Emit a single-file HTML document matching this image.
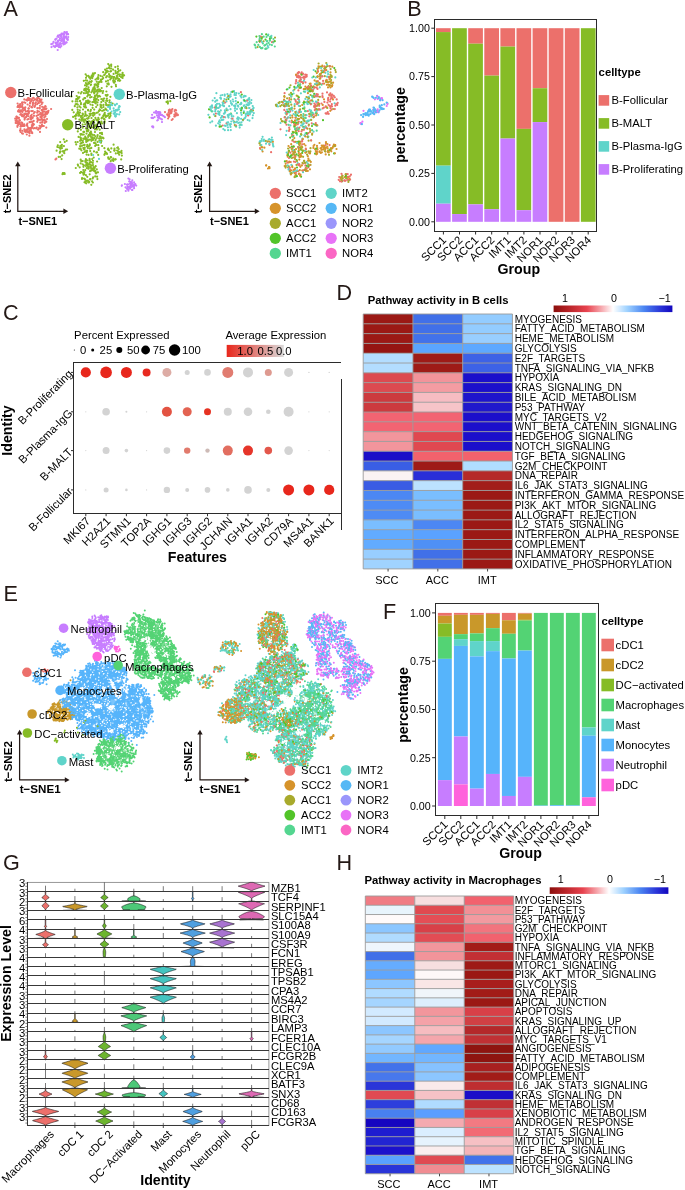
<!DOCTYPE html>
<html><head><meta charset="utf-8"><title>Figure</title>
<style>html,body{margin:0;padding:0;background:#fff}svg{display:block;will-change:transform;opacity:0.999}text{font-family:"Liberation Sans",sans-serif}</style></head>
<body>
<svg width="685" height="1190" viewBox="0 0 685 1190" font-family="Liberation Sans, sans-serif">
<rect width="685" height="1190" fill="#fff"/>
<text x="3.6" y="16.2" font-size="21.6" fill="#231815">A</text>
<g transform="scale(0.1)" fill="none" stroke-linecap="round">
<path d="M176 1035h0m-1 35h0m-9 99h0m-1 1h0m14 6h0m-13 11h0m-1 12h0m-9 9h0m10 2h0m13 3h0m-22 16h0m14 4h0m4 25h0m-1 10h0m28-227h0m1 10h0m-9 0h0m-14 8h0m8 7h0m-7 44h0m0 4h0m22 32h0m-19 36h0m15 21h0m-17 19h0m-2 1h0m17 16h0m12 13h0m-3 12h0m-1 27h0m1 29h0m16-296h0m3 19h0m-15 26h0m17 21h0m0 1h0m0 55h0m7 18h0m-20 62h0m4 0h0m11 23h0m-5 10h0m-4 74h0m9 4h0m14-343h0m24 1h0m-14 33h0m0 46h0m-13 7h0m12 24h0m8 9h0m9 44h0m-14 18h0m-8 6h0m-5 61h0m27 4h0m-23 9h0m-2 38h0m19 10h0m2 0h0m-9 1h0m25-325h0m18 8h0m-8 1h0m-8 9h0m7 2h0m-18 6h0m25 53h0m-10 26h0m-9 27h0m3 0h0m11 1h0m-2 17h0m-2 4h0m-4 56h0m11 31h0m-21 15h0m13 45h0m-10 14h0m18 12h0m-14 15h0m15 10h0m21-336h0m-11 19h0m-5 19h0m16 114h0m-8 11h0m9 13h0m8 5h0m-7 8h0m-1 32h0m2 3h0m6 29h0m-8 1h0m1 23h0m-3 6h0m-13 13h0m1 15h0m14 15h0m-1 5h0m31-332h0m-13 11h0m-5 32h0m10 120h0m-3 51h0m-1 32h0m3 4h0m-7 4h0m16 31h0m-12 4h0m44-305h0m-4 28h0m8 17h0m5 6h0m-17 11h0m2 41h0m1 27h0m0 69h0m0 5h0m-2 4h0m6 5h0m-2 11h0m5 90h0m12-306h0m11 14h0m-7 2h0m5 8h0m6 8h0m7 23h0m-22 38h0m3 5h0m-7 31h0m18 12h0m-15 16h0m23 11h0m-1 7h0m4 1h0m-15 6h0m14 11h0m-15 16h0m11 0h0m-24 1h0m10 3h0m-4 58h0m20 1h0m-5 4h0m-21 19h0m10 37h0m25-292h0m15 87h0m-17 27h0m3 1h0m10 10h0m7 21h0m-2 31h0m-18 20h0m5 37h0m36-175h0m1 32h0m4 2h0m-11 16h0m13 1h0m-14 9h0m13 44h0m-7 27h0m0 59h0m1215-124h0m19-57h0m-8 6h0m11 1h0m-11 5h0m4 34h0m0 23h0m24-48h0m10 75h0m-10 9h0m44-96h0m-17 41h0m14 0h0m-15 19h0m5 2h0m28-20h0" stroke="#EC706B" stroke-width="22"/>
<path d="M1016 1411h0m79-346h0m-14 4h0m20 20h0m2 46h0m-20 3h0m28-112h0m25 58h0m-21 32h0m21 20h0m33-97h0m-21 8h0m10 60h0m-11 19h0m1 21h0m9 12h0m1 0h0m-6 3h0m45-96h0m-10 10h0m-13 19h0m18 49h0m10-23h0" stroke="#5FD4CA" stroke-width="22"/>
<path d="M566 1507h0m12-53h0m20 74h0m-11 41h0m32-120h0m-2 15h0m-14 53h0m26 214h0m-4 11h0m13-348h0m6 336h0m3 10h0m20-332h0m4 87h0m53-482h0m24 49h0m-25 37h0m14 24h0m12 37h0m-18 9h0m36-209h0m-5 32h0m10 1h0m-15 21h0m16 30h0m5 2h0m-1 52h0m2 20h0m-5 7h0m-12 19h0m-5 43h0m20 233h0m-15 24h0m16 202h0m-20 34h0m27-754h0m23 8h0m-27 41h0m4 10h0m15 23h0m9 34h0m-15 21h0m12 12h0m-8 28h0m2 22h0m-15 2h0m-5 7h0m26 26h0m3 10h0m0 128h0m-7 75h0m3 64h0m-4 25h0m6 3h0m-14 22h0m14 2h0m0 108h0m0 36h0m-26 24h0m57-849h0m-21 112h0m-7 111h0m28 15h0m-12 89h0m-6 24h0m8 20h0m-13 13h0m21 8h0m-1 15h0m-8 62h0m7 42h0m3 26h0m-11 1h0m-14 56h0m16 6h0m2 17h0m-14 4h0m17 51h0m1 188h0m-1 32h0m-21 22h0m24 25h0m-16 42h0m36-1046h0m12 16h0m-10 44h0m-8 50h0m17 8h0m-11 26h0m-10 4h0m10 2h0m1 1h0m-6 11h0m-7 76h0m19 41h0m-12 22h0m1 30h0m9 1h0m-6 66h0m-2 0h0m-10 20h0m0 59h0m8 23h0m17 66h0m-3 27h0m-6 62h0m-12 79h0m-6 18h0m27 27h0m-9 68h0m-5 17h0m-1 11h0m9 26h0m5 37h0m-26 39h0m1 22h0m23 63h0m-8 9h0m-12 9h0m17 10h0m21-1004h0m9 5h0m-13 58h0m10 5h0m2 18h0m-15 12h0m9 19h0m-1 59h0m-8 1h0m15 14h0m-4 9h0m-7 70h0m16 39h0m-10 44h0m-9 5h0m4 73h0m6 8h0m-15 29h0m12 11h0m13 22h0m-7 19h0m-9 21h0m4 34h0m-13 7h0m1 37h0m24 7h0m-8 7h0m-19 2h0m9 17h0m-8 27h0m14 41h0m-15 55h0m25 3h0m-22 25h0m1 22h0m7 10h0m16 79h0m-18 62h0m6 16h0m4 4h0m39-1085h0m-11 16h0m12 10h0m-19 6h0m12 10h0m5 115h0m-26 77h0m23 48h0m2 30h0m-17 47h0m-5 14h0m23 21h0m-18 4h0m-5 17h0m7 66h0m2 11h0m-11 6h0m0 35h0m21 0h0m-18 7h0m4 37h0m4 16h0m14 15h0m-19 1h0m20 24h0m-13 0h0m7 19h0m-21 3h0m1 116h0m20 80h0m-12 31h0m18 7h0m-10 24h0m3 2h0m-17 13h0m10 36h0m13 81h0m-24 5h0m26 35h0m-16 23h0m37-1117h0m-18 13h0m4 3h0m19 48h0m-2 48h0m-6 4h0m-3 19h0m1 6h0m1 7h0m-11 1h0m15 38h0m-11 4h0m3 12h0m9 28h0m2 22h0m-11 14h0m16 11h0m-2 23h0m-1 1h0m-13 63h0m-6 36h0m0 68h0m-6 11h0m11 14h0m12 34h0m-3 35h0m0 26h0m4 43h0m3 33h0m-2 9h0m-8 23h0m5 31h0m-22 149h0m0 43h0m14 34h0m-5 6h0m-4 14h0m6 5h0m7 2h0m4 52h0m-21 10h0m53-1023h0m-4 20h0m2 2h0m-13 12h0m-1 32h0m-5 33h0m14 4h0m4 11h0m-7 38h0m0 27h0m2 32h0m-16 27h0m8 0h0m7 35h0m3 102h0m-13 2h0m15 82h0m-17 36h0m5 8h0m14 23h0m1 175h0m3 47h0m-4 50h0m-11 66h0m-3 79h0m3 73h0m3 24h0m17-971h0m26 60h0m-27 14h0m21 15h0m3 83h0m-1 29h0m-8 26h0m-8 46h0m5 8h0m-7 4h0m1 42h0m20 36h0m-2 34h0m-3 4h0m-14 76h0m22 31h0m-19 35h0m11 43h0m-1 21h0m22-705h0m16 25h0m-7 4h0m-9 30h0m-8 10h0m7 120h0m11 74h0m-12 19h0m5 5h0m0 40h0m0 21h0m5 30h0m3 42h0m-10 13h0m7 34h0m-12 187h0m-7 84h0m23 22h0m26-796h0m-19 11h0m24 13h0m-14 13h0m-1 91h0m14 24h0m-10 77h0m12 34h0m-19 2h0m12 7h0m4 50h0m-17 17h0m7 27h0m-3 44h0m6 4h0m-8 56h0m8 6h0m-8 8h0m21 325h0m-16 33h0m19-888h0m12 17h0m-3 19h0m-2 3h0m11 5h0m-7 66h0m-13 57h0m4 27h0m20 134h0m-8 35h0m1 22h0m-3 0h0m-13 26h0m17 5h0m6 76h0m-24 25h0m25 1h0m-12 21h0m-11 306h0m8 17h0m-5 85h0m46-890h0m-21 15h0m26 27h0m-16 27h0m-8 13h0m24 24h0m3 23h0m-24 42h0m21 579h0m-24 126h0m9 27h0m12 9h0m20-938h0m1 37h0m3 14h0m-15 49h0m20 11h0m-12 31h0m-3 1h0m-2 12h0m0 660h0m0 16h0m-1 5h0m8 86h0m26-929h0m0 76h0m18 7h0m0 13h0m-16 46h0m7 684h0m16-787h0m23 40h0m-5 8h0m6 16h0m-15 5h0m14 8h0m-11 729h0m-3 85h0m29-841h0m437 261h0m25-2h0" stroke="#86BC26" stroke-width="22"/>
<path d="M527 437h0m8 25h0m30-77h0m-11 12h0m1 29h0m2 7h0m7 27h0m-13 3h0m-1 8h0m43-118h0m-7 16h0m10 30h0m-22 23h0m-4 10h0m0 13h0m17 6h0m-6 6h0m-6 1h0m15 2h0m26-123h0m2 8h0m-10 14h0m10 19h0m-18 7h0m20 14h0m5 7h0m-9 3h0m-11 23h0m43-109h0m-8 49h0m4 7h0m-2 10h0m-12 5h0m3 4h0m11 24h0m7 15h0m-15 7h0m33-123h0m-6 11h0m18 11h0m-13 2h0m-8 22h0m22 3h0m-4 21h0m-12 33h0m592 1486h0m26-125h0m-4 59h0m-6 22h0m13 6h0m-1 5h0m-12 11h0m7 11h0m3 8h0m16-71h0m19 0h0m-11 1h0m-4 13h0m8 1h0m-10 12h0m11 7h0m-14 16h0m42-63h0m-21 14h0m20 6h0m-6 18h0m-11 38h0m39-43h0m163-677h0m-3 87h0m24-95h0m15-59h0m20 10h0m6 0h0m-26 8h0m3 3h0m6 22h0m4 0h0m14 3h0m-6 2h0m19-23h0m-10 38h0m31-22h0m14 8h0m13 11h0" stroke="#C77DFF" stroke-width="22"/>
<path d="M574 1469h0m18 6h0m10-54h0m2 37h0m1 23h0m14 1h0m-16 6h0m23 25h0m-24 3h0m20 38h0m-19 14h0m13 23h0m32-172h0m-9 42h0m20 35h0m-14 12h0m-13 6h0m11 18h0m-7 201h0m1 7h0m77-776h0m60 23h0m0 27h0m-9 26h0m-9 3h0m18 31h0m-13 78h0m-4 11h0m-6 1h0m27 150h0m-22 108h0m38-452h0m-6 5h0m13 37h0m-18 118h0m10 11h0m-1 13h0m-6 2h0m-3 1h0m11 40h0m-11 90h0m21 54h0m4 7h0m-22 21h0m23 11h0m0 6h0m-2 10h0m-6 12h0m-4 265h0m12 49h0m-8 7h0m38-797h0m-7 62h0m-2 101h0m-1 48h0m-8 40h0m10 15h0m-17 9h0m13 40h0m-13 95h0m19 45h0m5 63h0m-17 7h0m-7 46h0m16 26h0m-3 82h0m-15 0h0m14 32h0m13 10h0m-10 72h0m3 9h0m-11 46h0m39-1002h0m-1 53h0m5 10h0m-3 46h0m-17 8h0m-2 7h0m22 10h0m-5 19h0m-8 51h0m10 29h0m-7 20h0m-9 4h0m9 25h0m-13 6h0m13 53h0m6 38h0m4 0h0m-14 36h0m-6 6h0m5 0h0m-8 1h0m25 14h0m3 11h0m-10 59h0m-18 35h0m12 47h0m-1 7h0m9 7h0m-3 5h0m-1 4h0m-17 0h0m22 30h0m-16 30h0m-3 37h0m1 7h0m18 16h0m-14 10h0m18 27h0m-6 78h0m-1 36h0m-7 42h0m-9 20h0m16 30h0m-18 33h0m9 7h0m-1 3h0m8 21h0m-3 7h0m30-1065h0m6 11h0m2 6h0m-21 32h0m25 8h0m-18 29h0m7 29h0m4 38h0m-2 3h0m-13 14h0m9 20h0m-10 16h0m25 53h0m-27 4h0m8 1h0m-2 9h0m5 74h0m-12 50h0m21 8h0m-21 22h0m20 28h0m-7 28h0m0 56h0m-11 16h0m11 42h0m-6 39h0m21 49h0m-2 42h0m2 1h0m-2 103h0m0 11h0m1 29h0m-10 12h0m-15 9h0m13 18h0m2 18h0m-6 0h0m-8 82h0m19 51h0m-9 3h0m20-1034h0m14 24h0m-6 9h0m-1 24h0m-2 6h0m14 60h0m-8 12h0m-14 28h0m16 19h0m-11 75h0m21 33h0m1 75h0m-12 27h0m0 36h0m-2 36h0m-12 108h0m14 14h0m12 17h0m-13 17h0m-1 71h0m1 56h0m0 14h0m-13 100h0m5 25h0m5 8h0m12 13h0m-19 12h0m-3 5h0m1 82h0m19 19h0m9-1079h0m5 149h0m15 7h0m-16 4h0m15 0h0m-7 6h0m9 59h0m-9 18h0m-1 20h0m-6 22h0m9 2h0m-7 107h0m11 8h0m-4 11h0m-12 11h0m22 21h0m-15 24h0m-6 6h0m12 45h0m-3 18h0m0 80h0m2 30h0m-14 17h0m11 30h0m15 8h0m-16 77h0m-3 62h0m20 86h0m-20 9h0m10 5h0m-3 4h0m-11 1h0m7 3h0m10 25h0m6 18h0m28-940h0m-3 4h0m7 35h0m-13 9h0m8 7h0m-9 28h0m0 26h0m-11 16h0m21 1h0m-18 35h0m7 5h0m5 16h0m5 32h0m-9 50h0m-13 19h0m28 41h0m-6 68h0m6 14h0m-6 0h0m-20 4h0m2 2h0m7 3h0m-3 1h0m12 26h0m-17 35h0m5 30h0m8 57h0m-2 10h0m-6 19h0m7 39h0m-10 30h0m21 31h0m-16 43h0m-7 1h0m16 199h0m-9 0h0m-11 12h0m44-977h0m6 38h0m0 9h0m-11 12h0m16 2h0m-15 80h0m0 15h0m-7 45h0m8 6h0m14 89h0m-7 4h0m-2 12h0m12 8h0m-9 155h0m1 98h0m-10 1h0m9 39h0m-4 10h0m-14 2h0m21 3h0m-18 18h0m9 12h0m21-651h0m3 164h0m6 59h0m1 117h0m-13 3h0m27 21h0m-3 19h0m-2 2h0m-8 16h0m-14 10h0m25 17h0m1 20h0m-2 15h0m-25 6h0m1 108h0m14 41h0m13 155h0m-4 10h0m16-843h0m19 11h0m-12 4h0m-11 11h0m14 30h0m-6 9h0m-3 3h0m7 90h0m-7 91h0m8 33h0m-6 19h0m-2 35h0m-6 46h0m8 74h0m-12 356h0m9 18h0m10 4h0m32-824h0m-12 26h0m13 19h0m-11 9h0m10 25h0m-15 50h0m13 207h0m-13 87h0m16 2h0m-5 28h0m7 352h0m2 52h0m-25 2h0m14 16h0m11 22h0m5-967h0m-1 4h0m1 12h0m1 24h0m21 86h0m-21 11h0m23 7h0m-3 19h0m1 6h0m2 5h0m-10 216h0m-13 449h0m20 103h0m4 11h0m23-865h0m8 28h0m-10 28h0m-16 20h0m16 39h0m2 15h0m-16 640h0m14 31h0m-1 59h0m23-904h0m8 19h0m-4 9h0m-7 2h0m22 27h0m-25 14h0m2 20h0m15 12h0m-6 1h0m6 5h0m5 10h0m-17 665h0m-7 5h0m-1 27h0m12 9h0m15 8h0m-18 10h0m12 15h0m34-819h0m-2 16h0m-22 61h0m9 719h0m6 7h0m2 25h0m446-537h0m14 10h0m0 7h0" stroke="#86BC26" stroke-width="22"/>
<path d="M931 1550h0m68-131h0m-9 170h0m88-481h0m29-63h0m-11 21h0m4 13h0m20-27h0m18 55h0m14-54h0m6 49h0m-7 25h0m18 15h0m-13 24h0m36-105h0m-3 33h0m-13 7h0m-3 4h0" stroke="#5FD4CA" stroke-width="22"/>
<path d="M535 419h0m-22 23h0m2 29h0m40-77h0m3 62h0m22-99h0m-5 9h0m5 39h0m3 8h0m11 23h0m-2 0h0m7 7h0m-10 7h0m3 7h0m-4 14h0m-11 29h0m41-156h0m-16 4h0m9 12h0m-8 24h0m8 24h0m18 24h0m-20 7h0m4 21h0m-10 13h0m42-152h0m-15 14h0m10 4h0m2 4h0m-3 10h0m-5 12h0m25 4h0m-8 3h0m7 4h0m-27 17h0m-1 4h0m9 1h0m3 13h0m-8 2h0m-3 20h0m10 4h0m30-102h0m7 4h0m-13 36h0m6 16h0m1 3h0m6 6h0m-16 25h0m557 1429h0m-1 4h0m31-18h0m6 33h0m15-26h0m-2 39h0m28-93h0m-4 21h0m13 5h0m13 5h0m-4 12h0m-2 1h0m-10 31h0m0 17h0m21-82h0m4 51h0m-2 11h0m14 2h0m2 15h0m-20 18h0m32-59h0m-3 9h0m171-702h0m-6 30h0m10 87h0m27-142h0m-12 2h0m-10 56h0m2 85h0m0 8h0m45-150h0m9 15h0m3 30h0m-10 7h0m0 25h0m-7 4h0m27-84h0m4 5h0m3 19h0m13 4h0m-17 0h0m7 0h0m-17 33h0m13 4h0m14 8h0m1 26h0" stroke="#C77DFF" stroke-width="22"/>
<path d="M166 1165h0m-14 22h0m20 44h0m7 1h0m22-181h0m2 15h0m-15 5h0m8 5h0m-8 25h0m16 5h0m-11 12h0m12 0h0m-15 60h0m3 23h0m3 21h0m-4 6h0m-8 14h0m1 3h0m-1 3h0m24 17h0m-8 41h0m21-276h0m1 29h0m4 14h0m8 30h0m-21 0h0m-1 4h0m12 13h0m-14 22h0m6 10h0m5 10h0m2 70h0m-5 21h0m18 3h0m-8 4h0m-6 48h0m40-308h0m-21 23h0m9 69h0m5 45h0m-11 2h0m16 2h0m8 1h0m-27 14h0m21 13h0m-16 27h0m-4 64h0m24 35h0m-21 16h0m0 1h0m21 1h0m-12 6h0m0 2h0m14 24h0m20-361h0m-12 61h0m11 39h0m-2 3h0m-8 50h0m2 5h0m5 20h0m-10 33h0m-4 61h0m5 7h0m8 17h0m16 6h0m-24 11h0m22 14h0m-25 9h0m22 37h0m30-374h0m-8 24h0m-8 5h0m20 16h0m-27 1h0m27 23h0m-11 20h0m-3 0h0m6 2h0m8 36h0m-15 1h0m-10 64h0m21 2h0m-20 13h0m6 3h0m-4 2h0m-5 27h0m25 10h0m1 2h0m-1 27h0m-2 1h0m-11 13h0m-13 7h0m9 19h0m14 30h0m13-353h0m15 16h0m8 29h0m-27 2h0m20 12h0m4 9h0m-5 12h0m-7 10h0m2 2h0m2 51h0m-11 13h0m-5 110h0m39-263h0m-1 16h0m0 5h0m2 125h0m9 23h0m-16 9h0m8 59h0m-5 57h0m-6 9h0m20 12h0m33-299h0m-11 10h0m-8 6h0m4 45h0m-4 20h0m21 24h0m-11 40h0m11 4h0m-14 81h0m16 18h0m-11 24h0m-7 16h0m21-217h0m17 6h0m2 17h0m-13 3h0m-4 15h0m3 15h0m-1 14h0m23 5h0m-20 54h0m18 0h0m-20 8h0m22 3h0m-26 12h0m24 9h0m-9 31h0m15-199h0m4 4h0m-7 22h0m7 6h0m21 21h0m-23 10h0m13 1h0m1 11h0m-15 28h0m4 52h0m27-108h0m-4 18h0m30-36h0m52 497h0m-8 7h0m1095-473h0m22 22h0m4 8h0m33-43h0m0 7h0m0 4h0m-20 2h0m-3 5h0m22 7h0m-18 25h0m-3 10h0m-6 17h0m43-95h0m-6 9h0m-5 30h0m39-31h0m-6 13h0m9 19h0m10 4h0m-5 22h0m18-4h0" stroke="#EC706B" stroke-width="22"/>
</g>
<circle cx="10.8" cy="92.5" r="5.7" fill="#EC706B"/><text x="17.6" y="96.8" font-size="11.3" fill="#000000">B-Follicular</text>
<circle cx="67.7" cy="124.7" r="5.7" fill="#86BC26"/><text x="74.5" y="129" font-size="11.3" fill="#000000">B-MALT</text>
<circle cx="119.3" cy="94.2" r="5.7" fill="#5FD4CA"/><text x="126.1" y="98.5" font-size="11.3" fill="#000000">B-Plasma-IgG</text>
<circle cx="110.4" cy="168.2" r="5.7" fill="#C77DFF"/><text x="117.2" y="172.5" font-size="11.3" fill="#000000">B-Proliferating</text>
<path d="M17.8 164.5V211.3H65.2" stroke="#231815" stroke-width="1.25" fill="none"/><path d="M17.8 161.5l-2.7 4.8h5.4z" fill="#231815"/><path d="M68.2 211.3l-4.8 -2.7v5.4z" fill="#231815"/>
<text x="18.4" y="225" font-size="11" font-weight="bold" fill="#000000">t−SNE1</text>
<text transform="translate(10.9,213.2) rotate(-90)" font-size="11" font-weight="bold" fill="#000000">t−SNE2</text>
<g transform="scale(0.1)" fill="none" stroke-linecap="round">
<path d="M2120 1054h0m-6 8h0m-5 28h0m-2 6h0m18 17h0m27 48h0m19-123h0m-9 16h0m-1 33h0m46-107h0m-6 72h0m-6 97h0m2 98h0m30-81h0m6 31h0m19-75h0m23 127h0m30-157h0m-19 63h0m-1 21h0m-4 126h0m29-271h0m24 176h0m11-258h0m-4 107h0m28 76h0m27 93h0m-14 4h0m21-142h0m8 101h0m45-226h0m-20 7h0m8 40h0m13 6h0m-18 99h0m34-114h0m-8 45h0m32-26h0m-2 21h0m0 167h0m107 204h0m16-21h0m3 111h0m72-109h0m-6 4h0m25 2h0m57-347h0m24-18h0m75-7h0m1 161h0m15-141h0m18 61h0m2 147h0m15-176h0m31-199h0m7 889h0m21-901h0m4 125h0m-4 45h0m19 62h0m-16 31h0m-7 146h0m27 88h0m51-449h0m-11 129h0m-5 161h0m-5 63h0m34 66h0m3 284h0m39-420h0m-16 8h0m38-334h0m5 23h0m-12 255h0m37-134h0m23 134h0m39-388h0m60-21h0m72 33h0" stroke="#5FD4C8" stroke-width="22"/>
<path d="M2159 1136h0m106 97h0m54-314h0m90 3h0m420 105h0m31 90h0m18 59h0m15 439h0m69-801h0m-6 360h0m-4 29h0m-9 370h0m10 47h0m5 124h0m29-1023h0m1 306h0m3 399h0m28-607h0m3 593h0m32 242h0m0 3h0m49-650h0m15 227h0m31-361h0m17 3h0m1 151h0m10 22h0m27-212h0m-17 198h0m28 0h0m29-16h0m20 54h0m16-82h0m2 15h0m-9 127h0m14 5h0m30-171h0m-13 28h0m2 70h0m66-16h0m15 749h0m22-19h0m-9 34h0m23-57h0m40-12h0m10 55h0" stroke="#EC706B" stroke-width="22"/>
<path d="M2211 1264h0m-15 3h0m89-277h0m24 147h0m148-68h0m205-725h0m185 873h0m113 114h0m-16 171h0m26-350h0m14 404h0m-14 119h0m45-454h0m-1 126h0m-13 130h0m10 290h0m77-745h0m48-255h0m15 770h0m190-3h0m120 247h0" stroke="#52C429" stroke-width="22"/>
<path d="M2644 1477h0m17 178h0m68-237h0m-24 4h0m134-419h0m8 658h0m6-435h0m32 399h0m-4 50h0m42-163h0m6 64h0m27-399h0m-6 81h0m13 47h0m-3 186h0m14-468h0m23 99h0m-3 424h0m-1 50h0m3 56h0m21-909h0m-17 104h0m22 203h0m-6 128h0m-15 580h0m58-262h0m-17 112h0m2 92h0m25-822h0m25 640h0m6 17h0m46-731h0m-23 105h0m-3 240h0m24 299h0m-9 12h0m44-613h0m-19 286h0m4 395h0m-1 15h0m37-781h0m-5 668h0m39 26h0m-15 67h0m26-858h0m-4 171h0m3 629h0m2 10h0m10 41h0m14-853h0m3 804h0m7 40h0m33-677h0m-9 45h0m4 630h0m5 8h0m39-63h0" stroke="#D6932B" stroke-width="22"/>
<path d="M2530 1104h0m46-633h0m60-58h0m56 1257h0m126-620h0m25-88h0m21 183h0m41-292h0m-13 236h0m-4 427h0m-8 18h0m33-487h0m4 533h0m29-520h0m11 71h0m-4 287h0m12 231h0m35-588h0m10 88h0m0 332h0m33-393h0m4 540h0m10 52h0m2 13h0m27-831h0m-26 848h0m45-760h0m2 196h0m5 53h0m-1 206h0m-12 118h0m6 126h0m29-679h0m38-202h0m-3 292h0m66-350h0m28-79h0m-15 60h0m0 71h0m51-100h0m-7 155h0m-12 704h0m26-830h0m47 10h0m-22 389h0m94 669h0" stroke="#A8AA2C" stroke-width="22"/>
<path d="M3611 1151h0m-5 84h0m47-101h0m21-5h0m32-21h0m29 21h0m-11 3h0m46-11h0m28-48h0m20 7h0m25-36h0" stroke="#56B8F5" stroke-width="22"/>
<path d="M2404 1247h0m142-800h0m48-87h0m1 32h0m-12 57h0m16 20h0m11-61h0m14 71h0m28-28h0m49-47h0m243 587h0m7 301h0m43-272h0m97-39h0m43 260h0m33 66h0m49-460h0" stroke="#54D690" stroke-width="22"/>
<path d="M3614 1233h0" stroke="#E873F7" stroke-width="22"/>
<path d="M2227 1255h0m246-249h0m8 148h0m114-745h0m3 9h0m97 1030h0m110-155h0m60-46h0m-5 368h0m33-614h0m8 115h0m3 411h0m4 93h0m16-213h0m12 57h0m31-707h0m-24 478h0m0 17h0m5 444h0m44-971h0m-14 6h0m20 32h0m-15 10h0m1 131h0m8 832h0m20-1000h0m-10 68h0m21 591h0m0 49h0m18-678h0m15 6h0m-18 4h0m5 14h0m-4 508h0m18 227h0m5-767h0m5 7h0m20 491h0m-4 417h0m46-773h0m16 171h0m-9 71h0m43-330h0m-15 129h0m-6 152h0m9 37h0m-9 102h0m11 285h0m13-552h0m5 77h0m3 52h0m36-122h0m30 161h0m14-209h0m13 54h0m-9 48h0m30-92h0m9 15h0m13 31h0m-15 2h0m37-9h0m5 84h0m39 713h0m63 37h0" stroke="#EC706B" stroke-width="22"/>
<path d="M2103 1225h0m56-174h0m27 28h0m-4 56h0m9-97h0m6 166h0m50-259h0m0 12h0m-9 78h0m-8 2h0m-7 16h0m15 7h0m11 44h0m25-163h0m-9 146h0m26-131h0m16 7h0m-11 0h0m6 284h0m11-327h0m20 95h0m31-84h0m-2 106h0m-13 50h0m7 175h0m23-207h0m-7 132h0m24 67h0m8-296h0m10 16h0m-1 64h0m-3 90h0m28-129h0m13 79h0m31-84h0m-8 127h0m38-90h0m26 100h0m80 278h0m50-995h0m9 45h0m53 992h0m147-560h0m-21 322h0m30-39h0m9 39h0m9 359h0m-14 98h0m15 64h0m31-799h0m0 205h0m-1 365h0m12-463h0m17 73h0m-4 47h0m4 42h0m16-376h0m15 26h0m2 3h0m-4 244h0m-8 130h0m38 20h0m-1 5h0m8 466h0m55-808h0m4 61h0m48-275h0m12 142h0m-20 173h0m7 302h0m34-632h0m-1 423h0m29-234h0m56-146h0" stroke="#5FD4C8" stroke-width="22"/>
<path d="M2154 1160h0m116-57h0m78 148h0m272-879h0m38 1037h0m51-1030h0m41-3h0m14 685h0m34-41h0m12 170h0m66-143h0m-11 85h0m-7 64h0m26-166h0m83-73h0m21-104h0m-9 111h0m-8 454h0m16 7h0m8 27h0m5-35h0m38-216h0m-3 70h0m46-295h0m8 270h0m-14 41h0m-12 232h0m46-376h0m36-173h0m-2 91h0m34-295h0m-12 48h0m1 324h0m34-473h0m-14 14h0m20 74h0m-11 90h0m-3 198h0m27-373h0m251 1108h0m14 43h0" stroke="#A8AA2C" stroke-width="22"/>
<path d="M2849 1614h0m6-390h0m45 485h0m34-349h0m3 107h0m-25 267h0m28-508h0m41-370h0m8 117h0m-4 539h0m37 17h0m27-639h0m4 289h0m1 86h0m-3 435h0m78-827h0m129-197h0m165 1135h0m36-68h0m32 58h0" stroke="#52C429" stroke-width="22"/>
<path d="M3604 1231h0m3 5h0m142-243h0m-16 102h0m44-106h0m27 12h0m-18 122h0m34-139h0" stroke="#E873F7" stroke-width="22"/>
<path d="M2603 1488h0m88-73h0m179-359h0m3 496h0m4 15h0m8-107h0m37-303h0m-4 49h0m17 320h0m59-715h0m-6 475h0m2 214h0m8 202h0m21-48h0m11-821h0m11 608h0m37 121h0m4 44h0m23-713h0m29 586h0m44-789h0m-9 41h0m-2 90h0m5 33h0m34-116h0m-1 745h0m-11 37h0m29-864h0m45 192h0m-28 145h0m23 75h0m-4 363h0m-17 28h0m18 18h0m-8 19h0m35-727h0m7 22h0m-8 56h0m8 7h0m-14 20h0m-6 566h0m49-773h0m-18 57h0m-3 59h0m29 44h0m19 706h0m106 210h0" stroke="#D6932B" stroke-width="22"/>
<path d="M3619 1242h0m11-76h0m61-71h0m14 20h0m20-145h0m11 9h0m4 99h0m2 64h0m17-164h0m59 74h0m-7 39h0m63-58h0" stroke="#56B8F5" stroke-width="22"/>
<path d="M2194 1120h0m224-44h0m133-622h0m78-19h0m15 21h0m24 29h0m218 763h0m33 91h0m56-38h0m74 53h0m57-236h0m91-373h0" stroke="#54D690" stroke-width="22"/>
<path d="M2084 1148h0m43-143h0m-22 96h0m17 113h0m34-152h0m-17 82h0m43 89h0m12-102h0m22 70h0m7-251h0m3 76h0m14 36h0m-7 228h0m45-190h0m-28 24h0m2 49h0m27 100h0m26-329h0m1 67h0m-14 51h0m13 78h0m-23 23h0m36-124h0m-3 147h0m25-274h0m13 156h0m36-133h0m-7 131h0m-12 24h0m9 83h0m18 103h0m15-247h0m5 66h0m12 110h0m29-56h0m-16 38h0m32-136h0m-13 85h0m53-135h0m-21 80h0m0 40h0m10 8h0m-5 15h0m27 37h0m72 238h0m5 7h0m81-1079h0m9 1091h0m22-1079h0m12 1041h0m148-378h0m5 97h0m-24 12h0m34 556h0m-4 9h0m48-789h0m0 812h0m58-717h0m-3 56h0m-5 132h0m27-394h0m0 459h0m40-337h0m4 71h0m-17 245h0m37-196h0m-7 192h0m12 145h0m35-337h0m-3 68h0m14-130h0m6 157h0m74-37h0m6-415h0" stroke="#5FD4C8" stroke-width="22"/>
<path d="M2845 969h0m50 324h0m5 183h0m13-511h0m8 397h0m-9 80h0m9 217h0m24-573h0m4 123h0m-6 172h0m4 132h0m5 10h0m2 45h0m-3 115h0m-1 81h0m42-576h0m3 384h0m14-33h0m6 23h0m7 143h0m32-179h0m31-549h0m-10 37h0m9 572h0m-17 100h0m-4 22h0m43-872h0m8 74h0m8 425h0m51-81h0m2 242h0m5-779h0m19 26h0m4 42h0m5 744h0m2-794h0m15 724h0m-7 18h0m-4 1h0m46-57h0m-9 62h0m1 4h0m5 57h0m16-722h0m26 29h0m-5 0h0m2 103h0m-19 529h0m10 31h0m33-653h0m32 598h0m96 313h0m11-8h0m23 5h0" stroke="#D6932B" stroke-width="22"/>
<path d="M2148 1076h0m104-51h0m73 162h0m282-821h0m126 49h0m113 517h0m1 132h0m12-4h0m4 144h0m29 73h0m-2 32h0m0 271h0m36-230h0m1 196h0m29-544h0m2 15h0m8 269h0m-25 132h0m-1 110h0m30-757h0m13 219h0m10 126h0m-6 196h0m4 341h0m-10 58h0m48-936h0m-21 0h0m-5 42h0m3 61h0m12 538h0m12-679h0m48 135h0m-14 356h0m8 114h0m22-460h0m10 32h0m7 489h0m33-339h0m4 37h0m-6 63h0m25-328h0m-9 222h0m33 0h0m34-295h0m5 73h0m27 227h0m8 74h0m25-366h0m7 289h0m-19 60h0m40-78h0m-14 38h0m11 17h0m62-68h0m38 709h0m3 62h0m25 3h0m58-7h0" stroke="#EC706B" stroke-width="22"/>
<path d="M2263 997h0m82 223h0m258 232h0m13 18h0m170-441h0m34-10h0m73-73h0m46 581h0m1-204h0m5 448h0m49-892h0m-9 545h0m4 15h0m-19 272h0m40-537h0m11 124h0m-11 44h0m2 154h0m40-609h0m-12 130h0m-9 551h0m34-598h0m16 50h0m5 387h0m23-523h0m-1 3h0m-8 433h0m4 194h0m31-650h0m1 97h0m28 127h0m22-453h0m13 333h0m-19 128h0m69 416h0m48-654h0m-7 690h0m25-790h0m97 1013h0m58 9h0" stroke="#A8AA2C" stroke-width="22"/>
<path d="M3633 1141h0m-2 27h0m56-61h0m-6 7h0m8 30h0m-12 2h0m23-50h0m-5 19h0m39-13h0m5 34h0m32-178h0m17 13h0m15 16h0m-2 16h0m-4 53h0m16 26h0m24 7h0m30-62h0" stroke="#56B8F5" stroke-width="22"/>
<path d="M2116 1113h0m483-735h0m20-36h0m40 145h0m21-131h0m26 23h0m13 72h0m16-61h0m115 780h0m40-46h0m79 223h0m33-503h0m32 296h0m46 73h0m42-208h0m-1 120h0" stroke="#54D690" stroke-width="22"/>
<path d="M2096 1174h0m231-257h0m118 88h0m-8 124h0m158-716h0m153-1h0m90 645h0m43 494h0m85 51h0m16-131h0m47-386h0m20-62h0m54 12h0m39-96h0m80-217h0m121-41h0" stroke="#52C429" stroke-width="22"/>
<path d="M3624 1217h0m127-97h0" stroke="#E873F7" stroke-width="22"/>
<path d="M2120 1069h0m5 7h0m22-95h0m5 36h0m29 97h0m26-159h0m-4 23h0m5 126h0m11 59h0m-10 15h0m35-188h0m0 146h0m-5 1h0m-17 61h0m25 58h0m1 46h0m17-287h0m6 211h0m-14 33h0m39-288h0m-4 173h0m36-149h0m-9 52h0m-5 99h0m19 17h0m14-232h0m-1 132h0m5 45h0m18 107h0m-9 8h0m-19 4h0m49-47h0m27 70h0m25-291h0m0 95h0m-4 5h0m21 14h0m-1 92h0m-6 13h0m34-126h0m-10 86h0m15-141h0m2 83h0m21 23h0m13-43h0m9 19h0m78 371h0m46-13h0m13-20h0m46-41h0m-10 41h0m25 47h0m33-417h0m13 18h0m25 165h0m63-171h0m-1 249h0m37-357h0m-18 65h0m33 59h0m6 31h0m40-229h0m-6 358h0m-9 476h0m27-80h0m-6 72h0m38-770h0m1 186h0m18 123h0m-4 143h0m15-576h0m-4 361h0m21 96h0m-12 88h0m7 154h0m27-510h0m0 43h0m-12 173h0m46-329h0m-16 213h0m17 67h0m39-211h0m13 11h0m1 54h0m-1 241h0m60-553h0m46 60h0m75 266h0" stroke="#5FD4C8" stroke-width="22"/>
<path d="M2239 1170h0m272-71h0m89 382h0m120-1059h0m149 715h0m29 539h0m17-453h0m10 259h0m37-729h0m0 48h0m-13 441h0m6 314h0m23-822h0m14 40h0m-14 469h0m8 227h0m-6 176h0m35-332h0m37-569h0m3 79h0m-25 812h0m37-887h0m22 129h0m-12 11h0m2 222h0m-16 170h0m21 50h0m25-477h0m3 9h0m-17 790h0m49-617h0m-7 134h0m42-460h0m-4 179h0m3 55h0m-24 102h0m11 205h0m42-480h0m-15 323h0m33-157h0m-1 23h0m3 124h0m38-285h0m-8 651h0m41-786h0m24 283h0m-11 11h0m0 103h0m27-102h0m78 857h0m31-9h0m31-37h0m19-6h0m13-17h0" stroke="#EC706B" stroke-width="22"/>
<path d="M2692 1671h0m-12 14h0m187-74h0m-10 27h0m37-658h0m6 641h0m-3 92h0m18-624h0m10 86h0m-1 497h0m13 26h0m21-449h0m40 179h0m-10 101h0m41-138h0m-25 46h0m0 122h0m1 187h0m49-881h0m-16 27h0m14 260h0m27-220h0m-1 777h0m26-404h0m-12 226h0m85-767h0m-4 716h0m-22 12h0m16 28h0m30-733h0m0 727h0m16-809h0m25 17h0m-11 327h0m4 447h0m-16 2h0m34-816h0m14 19h0m17 122h0m7 701h0m20-709h0m16 37h0m-6 12h0m-14 244h0m7 373h0m7 6h0m14-24h0m75 323h0" stroke="#D6932B" stroke-width="22"/>
<path d="M2237 1012h0m193 186h0m373-136h0m25 152h0m32 446h0m-4 16h0m30-15h0m24-732h0m18 389h0m30-9h0m-1 444h0m35-897h0m-4 303h0m34 313h0m26 224h0m29-329h0m7 147h0m-13 32h0m13 97h0m21-161h0m-7 124h0m36-433h0m29-328h0m-2 405h0m21-251h0m96-339h0m26 107h0m110 1032h0m14-17h0" stroke="#A8AA2C" stroke-width="22"/>
<path d="M2090 1093h0m290-70h0m38-77h0m2 134h0m-9 24h0m153-738h0m91 30h0m44-8h0m169 507h0m21 612h0m32-563h0m9 277h0m-16 332h0m29-684h0m11 281h0m-11 117h0m26 495h0m8-568h0m10 223h0m24 79h0m24-468h0m49 636h0m20-760h0m16 356h0m36-547h0" stroke="#52C429" stroke-width="22"/>
<path d="M2161 1072h0m406-650h0m52 61h0m46-113h0m-12 119h0m44-83h0m5-37h0m31 55h0m135 623h0m39 39h0m21 280h0m26-82h0m85-369h0m20 197h0m-9 0h0m61 34h0m9-187h0" stroke="#54D690" stroke-width="22"/>
<path d="M3659 1147h0m-1 5h0m4-3h0m18 1h0m25-9h0m65-35h0m-17 4h0m6 14h0m25-143h0m14 87h0m-4 36h0m-8 13h0m40-115h0" stroke="#56B8F5" stroke-width="22"/>
<path d="M3635 1108h0m138-145h0m2 150h0m92-53h0" stroke="#E873F7" stroke-width="22"/>
<path d="M2361 1255h0m350 267h0m132-423h0m3 75h0m29 452h0m28 70h0m36-80h0m18-783h0m2 895h0m24-972h0m-1 11h0m-12 273h0m18 176h0m6 60h0m-2 365h0m25-918h0m8 21h0m-19 48h0m22 34h0m30 661h0m-26 216h0m45-814h0m-15 794h0m46-640h0m-15 120h0m48-285h0m7 197h0m23-115h0m-17 1h0m27 65h0m50-217h0m8 268h0m6-412h0m6 39h0m41 243h0m-6 102h0m10 402h0m5-435h0m19 48h0m28 27h0m19-97h0m-5 47h0m115 700h0m14 53h0" stroke="#EC706B" stroke-width="22"/>
<path d="M2102 1070h0m52 28h0m-2 16h0m7 143h0m5-325h0m8 71h0m-9 2h0m15 74h0m7 61h0m25-152h0m-11 80h0m-9 148h0m11 7h0m19-61h0m53-187h0m4 176h0m6-185h0m-1 258h0m27 17h0m-14 3h0m8 4h0m2 21h0m3 32h0m9-140h0m-4 54h0m46-264h0m-2 30h0m1 29h0m-5 47h0m31 140h0m17-154h0m15 105h0m-2 76h0m67-194h0m6 107h0m-9 0h0m-1 63h0m15-218h0m13 126h0m23-19h0m-8 29h0m9 35h0m93-731h0m4 946h0m13 29h0m1 12h0m43-935h0m45 964h0m112-427h0m7 28h0m7-28h0m17 86h0m-11 254h0m7 175h0m10 128h0m8-535h0m17 35h0m10-188h0m2 683h0m42-502h0m15 283h0m71-151h0m13 54h0m19-433h0m14 69h0m-22 54h0m-1 129h0m15 54h0m4 161h0m-8 266h0m47-858h0m35 0h0m9 59h0m103-189h0m9 72h0" stroke="#5FD4C8" stroke-width="22"/>
<path d="M2617 387h0m278 489h0m-15 240h0m22 260h0m-2 191h0m33-241h0m-14 141h0m-7 89h0m49-328h0m7 102h0m-2 213h0m49-797h0m-6 128h0m18 636h0m40-178h0m1 326h0m38-750h0m-9 4h0m65 575h0m68-285h0m66 297h0m162 260h0" stroke="#52C429" stroke-width="22"/>
<path d="M3659 1134h0m-19 10h0m47-33h0m0 46h0m27-40h0m8-151h0m13 109h0m11 18h0m-10 18h0m16-18h0m54-19h0m16 17h0" stroke="#56B8F5" stroke-width="22"/>
<path d="M2624 1473h0m2 42h0m36 138h0m14-238h0m19 267h0m146-686h0m68 748h0m18-201h0m-12 162h0m46-959h0m-16 985h0m41-246h0m2 254h0m24-276h0m-5 105h0m-3 100h0m49-303h0m2 90h0m22-565h0m9 713h0m11-765h0m-1 41h0m14 15h0m-2 725h0m-8 74h0m61-538h0m9 304h0m-12 51h0m13 27h0m14-874h0m32 793h0m21 23h0m30-676h0m-9 6h0m66 670h0m5-483h0m9 449h0m10 6h0m-14 14h0m30 25h0m129 295h0" stroke="#D6932B" stroke-width="22"/>
<path d="M2361 1266h0m145-157h0m51-632h0m80-110h0m-27 115h0m57-42h0m4-30h0m14 18h0m13 18h0m14-69h0m36 88h0m119 556h0m38 0h0m8 65h0m74-237h0m1 441h0m56-216h0m-13 86h0m26 21h0m64 121h0m38-178h0" stroke="#54D690" stroke-width="22"/>
<path d="M2283 962h0m182 120h0m129 351h0m165-384h0m58 162h0m21-158h0m33-70h0m-11 55h0m3 7h0m27 16h0m14 117h0m-23 307h0m7 28h0m24-519h0m16 405h0m-10 93h0m21 53h0m-22 187h0m27-837h0m9 225h0m-5 430h0m2 39h0m28-400h0m1 38h0m-9 384h0m31-517h0m11 132h0m4 265h0m9 138h0m7-440h0m14 23h0m-11 294h0m5 103h0m15 19h0m33-737h0m1 93h0m-12 385h0m25-500h0m17 134h0m-27 136h0m7 149h0m28-374h0m-6 433h0m29-101h0m42-417h0m-6 213h0m57-356h0m18 133h0m12 260h0m31-331h0m13 21h0m-6 32h0m3 31h0m-7 659h0m51-770h0m-14 740h0" stroke="#A8AA2C" stroke-width="22"/>
<path d="M3777 1093h0m39-111h0m59 59h0" stroke="#E873F7" stroke-width="22"/>
</g>
<path d="M209.6 164.5V211.3H256.6" stroke="#231815" stroke-width="1.25" fill="none"/><path d="M209.6 161.5l-2.7 4.8h5.4z" fill="#231815"/><path d="M259.6 211.3l-4.8 -2.7v5.4z" fill="#231815"/>
<text x="210" y="225" font-size="11" font-weight="bold" fill="#000000">t−SNE1</text>
<text transform="translate(202.4,213.2) rotate(-90)" font-size="11" font-weight="bold" fill="#000000">t−SNE2</text>
<circle cx="275.3" cy="193.3" r="5.6" fill="#EC706B"/><text x="286.1" y="197.3" font-size="11.3" fill="#000000">SCC1</text><circle cx="275.3" cy="208.3" r="5.6" fill="#D6932B"/><text x="286.1" y="212.3" font-size="11.3" fill="#000000">SCC2</text><circle cx="275.3" cy="223.3" r="5.6" fill="#A8AA2C"/><text x="286.1" y="227.3" font-size="11.3" fill="#000000">ACC1</text><circle cx="275.3" cy="238.3" r="5.6" fill="#52C429"/><text x="286.1" y="242.3" font-size="11.3" fill="#000000">ACC2</text><circle cx="275.3" cy="253.3" r="5.6" fill="#54D690"/><text x="286.1" y="257.3" font-size="11.3" fill="#000000">IMT1</text><circle cx="331.2" cy="193.3" r="5.6" fill="#5FD4C8"/><text x="342" y="197.3" font-size="11.3" fill="#000000">IMT2</text><circle cx="331.2" cy="208.3" r="5.6" fill="#56B8F5"/><text x="342" y="212.3" font-size="11.3" fill="#000000">NOR1</text><circle cx="331.2" cy="223.3" r="5.6" fill="#9A96FB"/><text x="342" y="227.3" font-size="11.3" fill="#000000">NOR2</text><circle cx="331.2" cy="238.3" r="5.6" fill="#E873F7"/><text x="342" y="242.3" font-size="11.3" fill="#000000">NOR3</text><circle cx="331.2" cy="253.3" r="5.6" fill="#FB66C4"/><text x="342" y="257.3" font-size="11.3" fill="#000000">NOR4</text>
<text x="407.2" y="15.6" font-size="21.6" fill="#231815">B</text>
<rect x="436" y="28.20" width="14.7" height="3.87" fill="#EC706B"/>
<rect x="436" y="32.07" width="14.7" height="133.58" fill="#86BC26"/>
<rect x="436" y="165.66" width="14.7" height="38.04" fill="#5FD4CA"/>
<rect x="436" y="203.70" width="14.7" height="18.10" fill="#C77DFF"/>
<rect x="452.1" y="28.20" width="14.7" height="185.86" fill="#86BC26"/>
<rect x="452.1" y="214.06" width="14.7" height="7.74" fill="#C77DFF"/>
<rect x="468.2" y="28.20" width="14.7" height="15.49" fill="#EC706B"/>
<rect x="468.2" y="43.69" width="14.7" height="160.69" fill="#86BC26"/>
<rect x="468.2" y="204.38" width="14.7" height="17.42" fill="#C77DFF"/>
<rect x="484.3" y="28.20" width="14.7" height="47.43" fill="#EC706B"/>
<rect x="484.3" y="75.63" width="14.7" height="133.58" fill="#86BC26"/>
<rect x="484.3" y="209.22" width="14.7" height="12.58" fill="#C77DFF"/>
<rect x="500.4" y="28.20" width="14.7" height="18.39" fill="#EC706B"/>
<rect x="500.4" y="46.59" width="14.7" height="91.96" fill="#86BC26"/>
<rect x="500.4" y="138.55" width="14.7" height="83.25" fill="#C77DFF"/>
<rect x="516.5" y="28.20" width="14.7" height="100.67" fill="#EC706B"/>
<rect x="516.5" y="128.87" width="14.7" height="81.31" fill="#86BC26"/>
<rect x="516.5" y="210.18" width="14.7" height="11.62" fill="#C77DFF"/>
<rect x="532.6" y="28.20" width="14.7" height="60.02" fill="#EC706B"/>
<rect x="532.6" y="88.22" width="14.7" height="33.88" fill="#86BC26"/>
<rect x="532.6" y="122.10" width="14.7" height="99.70" fill="#C77DFF"/>
<rect x="548.7" y="28.20" width="14.7" height="193.60" fill="#EC706B"/>
<rect x="564.8" y="28.20" width="14.7" height="193.60" fill="#EC706B"/>
<rect x="580.9" y="28.20" width="14.7" height="193.60" fill="#86BC26"/>
<rect x="434.6" y="19" width="161.7" height="212.2" fill="none" stroke="#2b2b2b" stroke-width="1" shape-rendering="crispEdges"/>
<path d="M434.6 221.8h-3.3" stroke="#2b2b2b" stroke-width="1"/>
<text x="429.9" y="225.6" font-size="10.7" text-anchor="end" fill="#000000">0.00</text>
<path d="M434.6 173.4h-3.3" stroke="#2b2b2b" stroke-width="1"/>
<text x="429.9" y="177.2" font-size="10.7" text-anchor="end" fill="#000000">0.25</text>
<path d="M434.6 125h-3.3" stroke="#2b2b2b" stroke-width="1"/>
<text x="429.9" y="128.8" font-size="10.7" text-anchor="end" fill="#000000">0.50</text>
<path d="M434.6 76.6h-3.3" stroke="#2b2b2b" stroke-width="1"/>
<text x="429.9" y="80.4" font-size="10.7" text-anchor="end" fill="#000000">0.75</text>
<path d="M434.6 28.2h-3.3" stroke="#2b2b2b" stroke-width="1"/>
<text x="429.9" y="32" font-size="10.7" text-anchor="end" fill="#000000">1.00</text>
<path d="M443.4 231.2v3.3" stroke="#2b2b2b" stroke-width="1"/>
<text transform="translate(447,240.8) rotate(-45)" font-size="11.3" text-anchor="end" fill="#000000">SCC1</text>
<path d="M459.5 231.2v3.3" stroke="#2b2b2b" stroke-width="1"/>
<text transform="translate(463.1,240.8) rotate(-45)" font-size="11.3" text-anchor="end" fill="#000000">SCC2</text>
<path d="M475.6 231.2v3.3" stroke="#2b2b2b" stroke-width="1"/>
<text transform="translate(479.2,240.8) rotate(-45)" font-size="11.3" text-anchor="end" fill="#000000">ACC1</text>
<path d="M491.7 231.2v3.3" stroke="#2b2b2b" stroke-width="1"/>
<text transform="translate(495.3,240.8) rotate(-45)" font-size="11.3" text-anchor="end" fill="#000000">ACC2</text>
<path d="M507.8 231.2v3.3" stroke="#2b2b2b" stroke-width="1"/>
<text transform="translate(511.4,240.8) rotate(-45)" font-size="11.3" text-anchor="end" fill="#000000">IMT1</text>
<path d="M523.9 231.2v3.3" stroke="#2b2b2b" stroke-width="1"/>
<text transform="translate(527.5,240.8) rotate(-45)" font-size="11.3" text-anchor="end" fill="#000000">IMT2</text>
<path d="M540 231.2v3.3" stroke="#2b2b2b" stroke-width="1"/>
<text transform="translate(543.6,240.8) rotate(-45)" font-size="11.3" text-anchor="end" fill="#000000">NOR1</text>
<path d="M556.1 231.2v3.3" stroke="#2b2b2b" stroke-width="1"/>
<text transform="translate(559.7,240.8) rotate(-45)" font-size="11.3" text-anchor="end" fill="#000000">NOR2</text>
<path d="M572.1 231.2v3.3" stroke="#2b2b2b" stroke-width="1"/>
<text transform="translate(575.8,240.8) rotate(-45)" font-size="11.3" text-anchor="end" fill="#000000">NOR3</text>
<path d="M588.2 231.2v3.3" stroke="#2b2b2b" stroke-width="1"/>
<text transform="translate(591.9,240.8) rotate(-45)" font-size="11.3" text-anchor="end" fill="#000000">NOR4</text>
<text transform="translate(405.4,125) rotate(-90)" font-size="14.2" font-weight="bold" text-anchor="middle" fill="#000000">percentage</text>
<text x="518.8" y="273.5" font-size="14.2" font-weight="bold" text-anchor="middle" fill="#000000">Group</text>
<text x="598.6" y="75.7" font-size="11.3" font-weight="bold" fill="#000000">celltype</text>
<rect x="598.6" y="95.1" width="10.6" height="10.6" fill="#EC706B"/>
<text x="611.5" y="104.4" font-size="11.3" fill="#000000">B-Follicular</text>
<rect x="598.6" y="118.1" width="10.6" height="10.6" fill="#86BC26"/>
<text x="611.5" y="127.4" font-size="11.3" fill="#000000">B-MALT</text>
<rect x="598.6" y="141.1" width="10.6" height="10.6" fill="#5FD4CA"/>
<text x="611.5" y="150.4" font-size="11.3" fill="#000000">B-Plasma-IgG</text>
<rect x="598.6" y="164.1" width="10.6" height="10.6" fill="#C77DFF"/>
<text x="611.5" y="173.4" font-size="11.3" fill="#000000">B-Proliferating</text>
<text x="2.9" y="320.2" font-size="21.6" fill="#231815">C</text>
<text x="74.1" y="338.9" font-size="11.3" fill="#000000">Percent Expressed</text>
<text x="225.4" y="339.1" font-size="11.3" fill="#000000">Average Expression</text>
<circle cx="74.3" cy="350" r="0.5" fill="#000"/>
<circle cx="92.7" cy="350" r="1.5" fill="#000"/>
<circle cx="119.3" cy="350" r="3.0" fill="#000"/>
<circle cx="145.6" cy="350" r="4.4" fill="#000"/>
<circle cx="174.6" cy="350" r="5.7" fill="#000"/>
<text x="80" y="354" font-size="11.3" fill="#000000">0</text>
<text x="99.6" y="354" font-size="11.3" fill="#000000">25</text>
<text x="127" y="354" font-size="11.3" fill="#000000">50</text>
<text x="152.8" y="354" font-size="11.3" fill="#000000">75</text>
<text x="182" y="354" font-size="11.3" fill="#000000">100</text>
<defs><linearGradient id="gc" x1="0" x2="1" y1="0" y2="0"><stop offset="0" stop-color="#E8271C"/><stop offset="1" stop-color="#DADADA"/></linearGradient></defs>
<rect x="226.7" y="344.9" width="57.1" height="12.1" fill="url(#gc)"/>
<text x="237.3" y="354.9" font-size="11.3" fill="#000000">1.0</text>
<text x="257.5" y="354.9" font-size="11.3" fill="#000000">0.5</text>
<text x="275.9" y="354.9" font-size="11.3" fill="#000000">0.0</text>
<path d="M341.2 362H73.8V513.4H341.2" fill="none" stroke="#2b2b2b" stroke-width="1" shape-rendering="crispEdges"/>
<path d="M341.2 378.5V530" fill="none" stroke="#2b2b2b" stroke-width="1" shape-rendering="crispEdges"/>
<circle cx="85.8" cy="372.4" r="5.1" fill="#E8271C"/>
<circle cx="106.1" cy="372.4" r="5.8" fill="#E8271C"/>
<circle cx="126.4" cy="372.4" r="5.5" fill="#E8271C"/>
<circle cx="146.6" cy="372.4" r="4.0" fill="#E82A20"/>
<circle cx="166.9" cy="372.4" r="4.5" fill="#DDACA5"/>
<circle cx="187.2" cy="372.4" r="2.5" fill="#D3D3D3"/>
<circle cx="207.5" cy="372.4" r="3.3" fill="#D3D3D3"/>
<circle cx="227.8" cy="372.4" r="5.5" fill="#E17C70"/>
<circle cx="248" cy="372.4" r="5.0" fill="#D3D3D3"/>
<circle cx="268.3" cy="372.4" r="3.5" fill="#DE9A90"/>
<circle cx="288.6" cy="372.4" r="4.5" fill="#D3D3D3"/>
<circle cx="308.9" cy="372.4" r="0.7" fill="#D3D3D3"/>
<circle cx="329.2" cy="372.4" r="0.7" fill="#D3D3D3"/>
<circle cx="85.8" cy="411.8" r="0.6" fill="#D3D3D3"/>
<circle cx="106.1" cy="411.8" r="3.8" fill="#D3D3D3"/>
<circle cx="126.4" cy="411.8" r="1.0" fill="#D3D3D3"/>
<circle cx="146.6" cy="411.8" r="0.6" fill="#D3D3D3"/>
<circle cx="166.9" cy="411.8" r="5.0" fill="#E35342"/>
<circle cx="187.2" cy="411.8" r="4.5" fill="#E36352"/>
<circle cx="207.5" cy="411.8" r="3.5" fill="#E63222"/>
<circle cx="227.8" cy="411.8" r="4.0" fill="#D3D3D3"/>
<circle cx="248" cy="411.8" r="4.3" fill="#D3D3D3"/>
<circle cx="268.3" cy="411.8" r="2.3" fill="#D3D3D3"/>
<circle cx="288.6" cy="411.8" r="5.0" fill="#D3D3D3"/>
<circle cx="308.9" cy="411.8" r="0.6" fill="#D3D3D3"/>
<circle cx="329.2" cy="411.8" r="0.6" fill="#D3D3D3"/>
<circle cx="85.8" cy="450.6" r="0.6" fill="#D3D3D3"/>
<circle cx="106.1" cy="450.6" r="3.5" fill="#D3D3D3"/>
<circle cx="126.4" cy="450.6" r="1.8" fill="#D3D3D3"/>
<circle cx="146.6" cy="450.6" r="0.6" fill="#D3D3D3"/>
<circle cx="166.9" cy="450.6" r="3.3" fill="#D3D3D3"/>
<circle cx="187.2" cy="450.6" r="3.2" fill="#E17A6C"/>
<circle cx="207.5" cy="450.6" r="2.2" fill="#CDBAB6"/>
<circle cx="227.8" cy="450.6" r="5.0" fill="#E26E60"/>
<circle cx="248" cy="450.6" r="5.0" fill="#E6352A"/>
<circle cx="268.3" cy="450.6" r="3.8" fill="#E3574B"/>
<circle cx="288.6" cy="450.6" r="4.3" fill="#D3D3D3"/>
<circle cx="308.9" cy="450.6" r="0.6" fill="#D3D3D3"/>
<circle cx="329.2" cy="450.6" r="0.6" fill="#D3D3D3"/>
<circle cx="85.8" cy="489.9" r="0.6" fill="#D3D3D3"/>
<circle cx="106.1" cy="489.9" r="2.5" fill="#D3D3D3"/>
<circle cx="126.4" cy="489.9" r="1.3" fill="#D3D3D3"/>
<circle cx="146.6" cy="489.9" r="0.6" fill="#D3D3D3"/>
<circle cx="166.9" cy="489.9" r="3.2" fill="#D3D3D3"/>
<circle cx="187.2" cy="489.9" r="2.0" fill="#D3D3D3"/>
<circle cx="207.5" cy="489.9" r="2.8" fill="#D3D3D3"/>
<circle cx="227.8" cy="489.9" r="1.8" fill="#D3D3D3"/>
<circle cx="248" cy="489.9" r="3.8" fill="#D3D3D3"/>
<circle cx="268.3" cy="489.9" r="2.0" fill="#D3D3D3"/>
<circle cx="288.6" cy="489.9" r="5.5" fill="#E8271C"/>
<circle cx="308.9" cy="489.9" r="5.5" fill="#E8271C"/>
<circle cx="329.2" cy="489.9" r="5.1" fill="#E8271C"/>
<path d="M85.8 513.4v2.8" stroke="#333" stroke-width="1"/>
<text transform="translate(91,521.8) rotate(-45)" font-size="11.3" text-anchor="end" fill="#000000">MKI67</text>
<path d="M106.1 513.4v2.8" stroke="#333" stroke-width="1"/>
<text transform="translate(111.3,521.8) rotate(-45)" font-size="11.3" text-anchor="end" fill="#000000">H2AZ1</text>
<path d="M126.4 513.4v2.8" stroke="#333" stroke-width="1"/>
<text transform="translate(131.6,521.8) rotate(-45)" font-size="11.3" text-anchor="end" fill="#000000">STMN1</text>
<path d="M146.6 513.4v2.8" stroke="#333" stroke-width="1"/>
<text transform="translate(151.8,521.8) rotate(-45)" font-size="11.3" text-anchor="end" fill="#000000">TOP2A</text>
<path d="M166.9 513.4v2.8" stroke="#333" stroke-width="1"/>
<text transform="translate(172.1,521.8) rotate(-45)" font-size="11.3" text-anchor="end" fill="#000000">IGHG1</text>
<path d="M187.2 513.4v2.8" stroke="#333" stroke-width="1"/>
<text transform="translate(192.4,521.8) rotate(-45)" font-size="11.3" text-anchor="end" fill="#000000">IGHG3</text>
<path d="M207.5 513.4v2.8" stroke="#333" stroke-width="1"/>
<text transform="translate(212.7,521.8) rotate(-45)" font-size="11.3" text-anchor="end" fill="#000000">IGHG2</text>
<path d="M227.8 513.4v2.8" stroke="#333" stroke-width="1"/>
<text transform="translate(233,521.8) rotate(-45)" font-size="11.3" text-anchor="end" fill="#000000">JCHAIN</text>
<path d="M248 513.4v2.8" stroke="#333" stroke-width="1"/>
<text transform="translate(253.2,521.8) rotate(-45)" font-size="11.3" text-anchor="end" fill="#000000">IGHA1</text>
<path d="M268.3 513.4v2.8" stroke="#333" stroke-width="1"/>
<text transform="translate(273.5,521.8) rotate(-45)" font-size="11.3" text-anchor="end" fill="#000000">IGHA2</text>
<path d="M288.6 513.4v2.8" stroke="#333" stroke-width="1"/>
<text transform="translate(293.8,521.8) rotate(-45)" font-size="11.3" text-anchor="end" fill="#000000">CD79A</text>
<path d="M308.9 513.4v2.8" stroke="#333" stroke-width="1"/>
<text transform="translate(314.1,521.8) rotate(-45)" font-size="11.3" text-anchor="end" fill="#000000">MS4A1</text>
<path d="M329.2 513.4v2.8" stroke="#333" stroke-width="1"/>
<text transform="translate(334.4,521.8) rotate(-45)" font-size="11.3" text-anchor="end" fill="#000000">BANK1</text>
<path d="M73.8 372.4h-2.8" stroke="#333" stroke-width="1"/>
<text transform="translate(73.2,374.6) rotate(-45)" font-size="11.3" text-anchor="end" fill="#000000">B-Proliferating</text>
<path d="M73.8 411.8h-2.8" stroke="#333" stroke-width="1"/>
<text transform="translate(73.2,414) rotate(-45)" font-size="11.3" text-anchor="end" fill="#000000">B-Plasma-IgG</text>
<path d="M73.8 450.6h-2.8" stroke="#333" stroke-width="1"/>
<text transform="translate(73.2,452.8) rotate(-45)" font-size="11.3" text-anchor="end" fill="#000000">B-MALT</text>
<path d="M73.8 489.9h-2.8" stroke="#333" stroke-width="1"/>
<text transform="translate(73.2,492.1) rotate(-45)" font-size="11.3" text-anchor="end" fill="#000000">B-Follicular</text>
<text transform="translate(11.8,430.5) rotate(-90)" font-size="14.2" font-weight="bold" text-anchor="middle" fill="#000000">Identity</text>
<text x="197.4" y="561.9" font-size="14.2" font-weight="bold" text-anchor="middle" fill="#000000">Features</text>
<text x="336.6" y="299.6" font-size="21.6" fill="#231815">D</text>
<text x="367.8" y="304.4" font-size="11.3" font-weight="bold" fill="#000000">Pathway activity in B cells</text>
<rect x="363.20" y="314.00" width="49.75" height="9.80" fill="#9B1915"/>
<rect x="412.95" y="314.00" width="49.75" height="9.80" fill="#4170E8"/>
<rect x="462.70" y="314.00" width="49.75" height="9.80" fill="#93CCFF"/>
<text x="514.7" y="322.5" font-size="10" fill="#000000">MYOGENESIS</text>
<rect x="363.20" y="323.80" width="49.75" height="9.80" fill="#9B1915"/>
<rect x="412.95" y="323.80" width="49.75" height="9.80" fill="#4170E8"/>
<rect x="462.70" y="323.80" width="49.75" height="9.80" fill="#93CCFF"/>
<text x="514.7" y="332.3" font-size="10" fill="#000000">FATTY_ACID_METABOLISM</text>
<rect x="363.20" y="333.61" width="49.75" height="9.80" fill="#9B1915"/>
<rect x="412.95" y="333.61" width="49.75" height="9.80" fill="#4272EA"/>
<rect x="462.70" y="333.61" width="49.75" height="9.80" fill="#98CEFF"/>
<text x="514.7" y="342.1" font-size="10" fill="#000000">HEME_METABOLISM</text>
<rect x="363.20" y="343.41" width="49.75" height="9.80" fill="#951512"/>
<rect x="412.95" y="343.41" width="49.75" height="9.80" fill="#5BA5FF"/>
<rect x="462.70" y="343.41" width="49.75" height="9.80" fill="#5DA8FF"/>
<text x="514.7" y="351.9" font-size="10" fill="#000000">GLYCOLYSIS</text>
<rect x="363.20" y="353.22" width="49.75" height="9.80" fill="#B3DDFF"/>
<rect x="412.95" y="353.22" width="49.75" height="9.80" fill="#9E1B17"/>
<rect x="462.70" y="353.22" width="49.75" height="9.80" fill="#3D62E6"/>
<text x="514.7" y="361.7" font-size="10" fill="#000000">E2F_TARGETS</text>
<rect x="363.20" y="363.02" width="49.75" height="9.80" fill="#B3DDFF"/>
<rect x="412.95" y="363.02" width="49.75" height="9.80" fill="#9E1B17"/>
<rect x="462.70" y="363.02" width="49.75" height="9.80" fill="#3D62E6"/>
<text x="514.7" y="371.5" font-size="10" fill="#000000">TNFA_SIGNALING_VIA_NFKB</text>
<rect x="363.20" y="372.82" width="49.75" height="9.80" fill="#DC4A50"/>
<rect x="412.95" y="372.82" width="49.75" height="9.80" fill="#F2939A"/>
<rect x="462.70" y="372.82" width="49.75" height="9.80" fill="#1B0FCB"/>
<text x="514.7" y="381.3" font-size="10" fill="#000000">HYPOXIA</text>
<rect x="363.20" y="382.63" width="49.75" height="9.80" fill="#DC4A50"/>
<rect x="412.95" y="382.63" width="49.75" height="9.80" fill="#F49CA2"/>
<rect x="462.70" y="382.63" width="49.75" height="9.80" fill="#1B0FCB"/>
<text x="514.7" y="391.1" font-size="10" fill="#000000">KRAS_SIGNALING_DN</text>
<rect x="363.20" y="392.43" width="49.75" height="9.80" fill="#CC3A3E"/>
<rect x="412.95" y="392.43" width="49.75" height="9.80" fill="#F6BCC2"/>
<rect x="462.70" y="392.43" width="49.75" height="9.80" fill="#1E14CC"/>
<text x="514.7" y="400.9" font-size="10" fill="#000000">BILE_ACID_METABOLISM</text>
<rect x="363.20" y="402.24" width="49.75" height="9.80" fill="#CC3A3E"/>
<rect x="412.95" y="402.24" width="49.75" height="9.80" fill="#F6C4C8"/>
<rect x="462.70" y="402.24" width="49.75" height="9.80" fill="#2018CC"/>
<text x="514.7" y="410.7" font-size="10" fill="#000000">P53_PATHWAY</text>
<rect x="363.20" y="412.04" width="49.75" height="9.80" fill="#F26472"/>
<rect x="412.95" y="412.04" width="49.75" height="9.80" fill="#F26472"/>
<rect x="462.70" y="412.04" width="49.75" height="9.80" fill="#1B0FCB"/>
<text x="514.7" y="420.5" font-size="10" fill="#000000">MYC_TARGETS_V2</text>
<rect x="363.20" y="421.84" width="49.75" height="9.80" fill="#F26472"/>
<rect x="412.95" y="421.84" width="49.75" height="9.80" fill="#F26472"/>
<rect x="462.70" y="421.84" width="49.75" height="9.80" fill="#1B0FCB"/>
<text x="514.7" y="430.3" font-size="10" fill="#000000">WNT_BETA_CATENIN_SIGNALING</text>
<rect x="363.20" y="431.65" width="49.75" height="9.80" fill="#F2959C"/>
<rect x="412.95" y="431.65" width="49.75" height="9.80" fill="#E04850"/>
<rect x="462.70" y="431.65" width="49.75" height="9.80" fill="#1B0FCB"/>
<text x="514.7" y="440.2" font-size="10" fill="#000000">HEDGEHOG_SIGNALING</text>
<rect x="363.20" y="441.45" width="49.75" height="9.80" fill="#F2959C"/>
<rect x="412.95" y="441.45" width="49.75" height="9.80" fill="#E04850"/>
<rect x="462.70" y="441.45" width="49.75" height="9.80" fill="#1B0FCB"/>
<text x="514.7" y="450" font-size="10" fill="#000000">NOTCH_SIGNALING</text>
<rect x="363.20" y="451.26" width="49.75" height="9.80" fill="#1A0EC8"/>
<rect x="412.95" y="451.26" width="49.75" height="9.80" fill="#F2626C"/>
<rect x="462.70" y="451.26" width="49.75" height="9.80" fill="#F2626C"/>
<text x="514.7" y="459.8" font-size="10" fill="#000000">TGF_BETA_SIGNALING</text>
<rect x="363.20" y="461.06" width="49.75" height="9.80" fill="#3A5EE5"/>
<rect x="412.95" y="461.06" width="49.75" height="9.80" fill="#9E1B17"/>
<rect x="462.70" y="461.06" width="49.75" height="9.80" fill="#B0DDFF"/>
<text x="514.7" y="469.6" font-size="10" fill="#000000">G2M_CHECKPOINT</text>
<rect x="363.20" y="470.86" width="49.75" height="9.80" fill="#FAF3F3"/>
<rect x="412.95" y="470.86" width="49.75" height="9.80" fill="#2A2FD8"/>
<rect x="462.70" y="470.86" width="49.75" height="9.80" fill="#B52A28"/>
<text x="514.7" y="479.4" font-size="10" fill="#000000">DNA_REPAIR</text>
<rect x="363.20" y="480.67" width="49.75" height="9.80" fill="#3A5CE4"/>
<rect x="412.95" y="480.67" width="49.75" height="9.80" fill="#BCE2FF"/>
<rect x="462.70" y="480.67" width="49.75" height="9.80" fill="#A21E1A"/>
<text x="514.7" y="489.2" font-size="10" fill="#000000">IL6_JAK_STAT3_SIGNALING</text>
<rect x="363.20" y="490.47" width="49.75" height="9.80" fill="#4C87F3"/>
<rect x="412.95" y="490.47" width="49.75" height="9.80" fill="#7ABEFF"/>
<rect x="462.70" y="490.47" width="49.75" height="9.80" fill="#9B1915"/>
<text x="514.7" y="499" font-size="10" fill="#000000">INTERFERON_GAMMA_RESPONSE</text>
<rect x="363.20" y="500.28" width="49.75" height="9.80" fill="#4E8BF5"/>
<rect x="412.95" y="500.28" width="49.75" height="9.80" fill="#7ABEFF"/>
<rect x="462.70" y="500.28" width="49.75" height="9.80" fill="#9B1915"/>
<text x="514.7" y="508.8" font-size="10" fill="#000000">PI3K_AKT_MTOR_SIGNALING</text>
<rect x="363.20" y="510.08" width="49.75" height="9.80" fill="#4E8BF5"/>
<rect x="412.95" y="510.08" width="49.75" height="9.80" fill="#7ABEFF"/>
<rect x="462.70" y="510.08" width="49.75" height="9.80" fill="#9B1915"/>
<text x="514.7" y="518.6" font-size="10" fill="#000000">ALLOGRAFT_REJECTION</text>
<rect x="363.20" y="519.88" width="49.75" height="9.80" fill="#7ABEFF"/>
<rect x="412.95" y="519.88" width="49.75" height="9.80" fill="#4C87F3"/>
<rect x="462.70" y="519.88" width="49.75" height="9.80" fill="#9B1915"/>
<text x="514.7" y="528.4" font-size="10" fill="#000000">IL2_STAT5_SIGNALING</text>
<rect x="363.20" y="529.69" width="49.75" height="9.80" fill="#62ABFF"/>
<rect x="412.95" y="529.69" width="49.75" height="9.80" fill="#5AA2FF"/>
<rect x="462.70" y="529.69" width="49.75" height="9.80" fill="#9B1915"/>
<text x="514.7" y="538.2" font-size="10" fill="#000000">INTERFERON_ALPHA_RESPONSE</text>
<rect x="363.20" y="539.49" width="49.75" height="9.80" fill="#62ABFF"/>
<rect x="412.95" y="539.49" width="49.75" height="9.80" fill="#4F90F6"/>
<rect x="462.70" y="539.49" width="49.75" height="9.80" fill="#9B1915"/>
<text x="514.7" y="548" font-size="10" fill="#000000">COMPLEMENT</text>
<rect x="363.20" y="549.30" width="49.75" height="9.80" fill="#98CEFF"/>
<rect x="412.95" y="549.30" width="49.75" height="9.80" fill="#4170E8"/>
<rect x="462.70" y="549.30" width="49.75" height="9.80" fill="#9B1915"/>
<text x="514.7" y="557.8" font-size="10" fill="#000000">INFLAMMATORY_RESPONSE</text>
<rect x="363.20" y="559.10" width="49.75" height="9.80" fill="#A0D3FF"/>
<rect x="412.95" y="559.10" width="49.75" height="9.80" fill="#4170E8"/>
<rect x="462.70" y="559.10" width="49.75" height="9.80" fill="#9B1915"/>
<text x="514.7" y="567.6" font-size="10" fill="#000000">OXIDATIVE_PHOSPHORYLATION</text>
<path d="M363.20 314.00h149.25M363.20 323.80h149.25M363.20 333.61h149.25M363.20 343.41h149.25M363.20 353.22h149.25M363.20 363.02h149.25M363.20 372.82h149.25M363.20 382.63h149.25M363.20 392.43h149.25M363.20 402.24h149.25M363.20 412.04h149.25M363.20 421.84h149.25M363.20 431.65h149.25M363.20 441.45h149.25M363.20 451.26h149.25M363.20 461.06h149.25M363.20 470.86h149.25M363.20 480.67h149.25M363.20 490.47h149.25M363.20 500.28h149.25M363.20 510.08h149.25M363.20 519.88h149.25M363.20 529.69h149.25M363.20 539.49h149.25M363.20 549.30h149.25M363.20 559.10h149.25M363.20 568.90h149.25M363.20 314.00v254.90M412.95 314.00v254.90M462.70 314.00v254.90M512.45 314.00v254.90" stroke="#9a9a9a" stroke-width="0.9" fill="none"/>
<path d="M388.07 568.90v2.6" stroke="#333" stroke-width="0.9"/>
<text x="386.9" y="584.3" font-size="11" text-anchor="middle" fill="#000000">SCC</text>
<path d="M437.82 568.90v2.6" stroke="#333" stroke-width="0.9"/>
<text x="437.4" y="584.3" font-size="11" text-anchor="middle" fill="#000000">ACC</text>
<path d="M487.57 568.90v2.6" stroke="#333" stroke-width="0.9"/>
<text x="487.2" y="584.3" font-size="11" text-anchor="middle" fill="#000000">IMT</text>
<defs><linearGradient id="gd" x1="0" x2="1" y1="0" y2="0"><stop offset="0" stop-color="#8B0E0C"/><stop offset="0.12" stop-color="#B62226"/><stop offset="0.28" stop-color="#E8434F"/><stop offset="0.40" stop-color="#F6A6AC"/><stop offset="0.5" stop-color="#FFFFFF"/><stop offset="0.62" stop-color="#9FD2FF"/><stop offset="0.76" stop-color="#4B86F2"/><stop offset="0.9" stop-color="#2A35D8"/><stop offset="1" stop-color="#1206BE"/></linearGradient></defs>
<rect x="553.6" y="305.5" width="118.8" height="6.6" fill="url(#gd)"/>
<text x="564.9" y="301.5" font-size="10.7" text-anchor="middle" fill="#000000">1</text>
<text x="614" y="301.5" font-size="10.7" text-anchor="middle" fill="#000000">0</text>
<text x="664.5" y="301.5" font-size="10.7" text-anchor="middle" fill="#000000">−1</text>
<text x="3.4" y="601.2" font-size="21.6" fill="#231815">E</text>
<g opacity="0.78"><ellipse cx="104" cy="676" rx="18" ry="9.9" fill="#56B4FB"/><ellipse cx="106" cy="701" rx="13.5" ry="13.5" fill="#56B4FB"/><ellipse cx="86" cy="697" rx="16.2" ry="16.2" fill="#56B4FB"/><ellipse cx="95" cy="722" rx="12.6" ry="9.9" fill="#56B4FB"/><ellipse cx="134.5" cy="711.5" rx="12.2" ry="18.9" fill="#56B4FB"/><ellipse cx="120" cy="728" rx="16.2" ry="9" fill="#56B4FB"/><ellipse cx="140" cy="631" rx="7.7" ry="10.3" fill="#53D374"/><ellipse cx="156.5" cy="629.5" rx="4" ry="5.4" fill="#53D374"/><ellipse cx="141.5" cy="658" rx="3.6" ry="10.8" fill="#53D374"/><ellipse cx="163" cy="648" rx="5" ry="9" fill="#53D374" transform="rotate(-35 163 648)"/><ellipse cx="172" cy="662" rx="4.5" ry="4" fill="#53D374"/><ellipse cx="176.5" cy="673" rx="9.5" ry="6.3" fill="#53D374"/><ellipse cx="169" cy="689" rx="5" ry="5.9" fill="#53D374"/><ellipse cx="152" cy="673" rx="5.4" ry="2.9" fill="#53D374"/><ellipse cx="115.5" cy="754" rx="13.5" ry="9.9" fill="#53D374"/><ellipse cx="99.5" cy="630" rx="8.1" ry="10.8" fill="#C77DFF"/><ellipse cx="104" cy="645" rx="5.4" ry="4.5" fill="#C77DFF"/><ellipse cx="62" cy="711.5" rx="8.1" ry="6.3" fill="#C9982A"/></g>
<g transform="scale(0.1)" fill="none" stroke-linecap="round">
<path d="M477 7127h0m29-44h0m-8 15h0m-15 8h0m25 6h0m-28 6h0m6 0h0m22 4h0m-9 27h0m1 6h0m1 20h0m28-136h0m-4 3h0m10 2h0m1 13h0m-6 3h0m-5 2h0m13 2h0m-22 5h0m17 5h0m-2 0h0m-19 1h0m24 4h0m0 5h0m-21 1h0m22 0h0m-6 1h0m2 2h0m-16 1h0m10 6h0m-3 1h0m5 7h0m-5 18h0m5 1h0m-6 5h0m1 0h0m-6 1h0m-1 1h0m-1 5h0m8 1h0m14 31h0m-10 8h0m5 24h0m6 6h0m3-172h0m6 8h0m16 4h0m-8 2h0m-15 17h0m7 1h0m7 29h0m-9 1h0m5 7h0m-9 11h0m5 1h0m19 2h0m-18 3h0m0 9h0m10 8h0m6 2h0m-3 1h0m5 4h0m-16 0h0m14 11h0m-6 1h0m-2 4h0m10 2h0m3 2h0m-27 2h0m14 17h0m1 1h0m-3 2h0m13 0h0m1 2h0m-4 3h0m-24 0h0m15 10h0m9 5h0m-10 0h0m2 0h0m41-199h0m-10 17h0m-8 11h0m12 3h0m-10 6h0m6 1h0m11 1h0m-19 4h0m5 4h0m-7 11h0m8 6h0m9 1h0m-4 5h0m-2 6h0m6 7h0m-7 14h0m-17 4h0m24 2h0m-4 0h0m-12 1h0m-6 1h0m24 3h0m-24 4h0m27 1h0m-11 2h0m-5 8h0m-11 9h0m9 1h0m-3 5h0m-8 3h0m27 5h0m-7 5h0m-8 0h0m3 4h0m-8 7h0m-5 3h0m3 2h0m15 12h0m-19 3h0m1 1h0m0 2h0m16 3h0m-14 9h0m22 2h0m-2 2h0m-1 6h0m25-190h0m1 2h0m8 1h0m-5 29h0m-20 12h0m5 2h0m20 6h0m-18 0h0m-7 5h0m10 1h0m-2 9h0m8 0h0m-8 2h0m9 1h0m5 2h0m2 3h0m-22 3h0m0 6h0m24 6h0m-26 2h0m18 3h0m-5 3h0m1 1h0m-11 1h0m0 2h0m12 1h0m-3 4h0m2 14h0m7 10h0m-1 0h0m-4 5h0m-9 9h0m16 5h0m-5 8h0m-8 2h0m-3 4h0m12 2h0m7 1h0m-9 3h0m-17 4h0m25 4h0m-19 0h0m2 2h0m11 2h0m-8 4h0m6 1h0m1 2h0m16-208h0m7 1h0m-6 8h0m1 12h0m16 28h0m3 3h0m-1 8h0m-13 10h0m16 8h0m-22 1h0m8 1h0m-14 4h0m2 1h0m26 2h0m-8 9h0m-13 1h0m-5 3h0m20 1h0m-13 6h0m15 1h0m-22 10h0m12 1h0m-11 0h0m24 1h0m-28 0h0m15 3h0m9 1h0m-24 1h0m1 4h0m8 13h0m3 6h0m15 20h0m-8 3h0m5 7h0m-13 17h0m1 3h0m-8 8h0m30-193h0m-1 10h0m17 3h0m0 21h0m2 12h0m-14 4h0m-6 7h0m2 1h0m-4 1h0m27 9h0m-9 1h0m8 2h0m2 1h0m-24 5h0m21 5h0m3 4h0m-21 1h0m5 3h0m7 20h0m-14 5h0m16 2h0m-21 6h0m5 7h0m2 5h0m-1 2h0m20 3h0m1 2h0m-3 2h0m2 3h0m-13 2h0m-6 25h0m-3 0h0m14 6h0m-4 2h0m31-396h0m-13 190h0m8 48h0m3 0h0m-9 9h0m-1 1h0m17 1h0m3 6h0m1 2h0m-19 1h0m3 0h0m13 1h0m0 0h0m-21 1h0m24 2h0m-19 0h0m1 0h0m8 2h0m-6 2h0m1 1h0m15 17h0m4 9h0m0 2h0m-28 1h0m23 4h0m-2 5h0m-10 5h0m12 5h0m-1 4h0m-7 1h0m7 0h0m-17 0h0m1 1h0m10 12h0m-14 3h0m24 3h0m1 1h0m-24 2h0m16 6h0m-5 4h0m-4 0h0m15 5h0m-9 2h0m-5 1h0m-2 0h0m-9 2h0m11 2h0m-4 3h0m5 0h0m2 1h0m-5 1h0m-3 2h0m1 2h0m-4 0h0m21 4h0m-5 0h0m-12 2h0m-6 1h0m27 6h0m-12 5h0m27-277h0m-11 101h0m1 74h0m22 3h0m0 1h0m-19 2h0m20 4h0m-14 5h0m3 8h0m-7 5h0m-4 6h0m15 1h0m5 7h0m-15 8h0m16 7h0m1 5h0m-24 1h0m4 1h0m7 7h0m-11 4h0m5 6h0m-7 13h0m65-269h0m66-142h0m-6 29h0m29 92h0m57-10h0m7 133h0m-7 8h0m58-193h0m-28 69h0m21 163h0m12-160h0m-1 157h0m44-31h0m-13 68h0m15 16h0m8 8h0m3-282h0m64 43h0m20 33h0" stroke="#C9982A" stroke-width="20"/>
<path d="M332 6730h0m17 27h0m-14 3h0m16 17h0m-4 2h0m11 3h0m-10 8h0m-2 2h0m-15 16h0m24 10h0m2 2h0m18-108h0m-10 21h0m9 21h0m10 10h0m-3 14h0m-3 2h0m-4 6h0m-4 8h0m-9 18h0m21 1h0m-4 1h0m-12 1h0m24-131h0m9 60h0m1 35h0m11 1h0m-18 0h0m6 8h0m-5 12h0m4 24h0m4 16h0m-7 2h0m54-79h0m-16 6h0m15 20h0m-14 8h0m3 11h0m-6 20h0m-10 3h0m29-129h0m11 12h0m9 3h0m-4 14h0m-16 3h0m16 1h0m5 4h0m-17 26h0m-1 13h0m5 1h0m2 4h0m-1 7h0m2 11h0m5 41h0m14-55h0m59-327h0m-4 4h0m-2 5h0m-9 15h0m-9 7h0m14 1h0m2 1h0m-6 10h0m-1 14h0m3 4h0m-2 4h0m11 32h0m17-121h0m12 1h0m-12 20h0m-7 3h0m-3 4h0m26 6h0m-16 2h0m10 5h0m-22 14h0m7 3h0m13 1h0m-7 22h0m-14 14h0m11 1h0m7 0h0m2 2h0m4 15h0m-4 3h0m-12 1h0m29-141h0m15 21h0m5 8h0m-14 4h0m16 1h0m-5 5h0m3 6h0m2 3h0m-16 11h0m-11 4h0m16 3h0m-16 4h0m7 1h0m17 1h0m-23 30h0m9 13h0m-6 4h0m15 2h0m7 6h0m-12 2h0m8 1h0m-15 1h0m-2 5h0m2 16h0m25-129h0m23 15h0m-17 5h0m-6 0h0m-2 3h0m2 7h0m-3 3h0m21 3h0m0 4h0m6 16h0m-20 2h0m-4 1h0m16 23h0m-2 15h0m-6 5h0m15 1h0m-17 11h0m-2 2h0m4 6h0m-7 18h0m13 291h0m2 52h0m-7 10h0m11 65h0m1 4h0m-20 4h0m22 13h0m-22 10h0m19 53h0m27-633h0m-15 1h0m8 8h0m-11 1h0m13 40h0m5 4h0m-10 5h0m4 4h0m0 6h0m10 2h0m-6 5h0m6 0h0m-4 1h0m-11 3h0m5 4h0m-14 14h0m11 303h0m-4 8h0m18 14h0m-24 6h0m1 16h0m21 10h0m0 14h0m-10 11h0m12 0h0m-17 1h0m2 4h0m-6 57h0m20 1h0m-8 7h0m-13 6h0m21 14h0m-6 12h0m-13 2h0m-6 7h0m17 9h0m-9 13h0m16 1h0m-16 3h0m-3 1h0m13 11h0m26-589h0m-7 7h0m19 1h0m-9 8h0m-2 2h0m0 1h0m14 4h0m-26 13h0m7 1h0m17 307h0m-2 13h0m-4 4h0m-19 6h0m8 2h0m3 5h0m10 0h0m2 20h0m0 4h0m-10 3h0m-5 2h0m0 3h0m-1 7h0m11 2h0m9 22h0m-1 0h0m-10 5h0m-12 3h0m9 1h0m2 13h0m-1 1h0m-10 3h0m14 1h0m-9 14h0m14 12h0m-21 0h0m13 3h0m6 1h0m-2 9h0m8 7h0m-18 7h0m2 25h0m-1 3h0m2 3h0m-1 8h0m-12 6h0m11 1h0m9 7h0m-1 5h0m-10 2h0m5 2h0m-7 0h0m-5 1h0m55-217h0m-25 13h0m8 4h0m3 0h0m14 4h0m-18 9h0m19 3h0m-6 4h0m0 7h0m-2 1h0m8 1h0m-2 1h0m-18 2h0m19 1h0m-2 4h0m-20 5h0m5 0h0m0 4h0m18 6h0m-3 1h0m-11 0h0m14 1h0m-17 10h0m-7 7h0m0 8h0m1 2h0m8 3h0m15 3h0m-27 1h0m-2 16h0m13 1h0m13 4h0m1 2h0m-16 3h0m4 3h0m-1 4h0m5 14h0m10 1h0m-7 1h0m-9 0h0m3 5h0m-1 7h0m-5 10h0m7 0h0m-11 2h0m5 4h0m1 1h0m17 6h0m-28 5h0m24 2h0m-20 16h0m16 2h0m4 6h0m-19 3h0m23 2h0m-27 7h0m17 9h0m9 2h0m-13 15h0m-6 3h0m12 26h0m12-362h0m10 21h0m-3 17h0m-2 5h0m4 7h0m15 1h0m-18 1h0m-3 2h0m14 20h0m-12 2h0m12 3h0m5 3h0m-24 7h0m20 18h0m-10 1h0m16 1h0m-10 8h0m-17 4h0m10 3h0m0 3h0m1 9h0m-2 9h0m4 3h0m12 3h0m-23 3h0m6 10h0m-4 9h0m20 13h0m-11 2h0m4 2h0m7 0h0m-15 9h0m-6 12h0m26 7h0m-4 2h0m-10 1h0m14 2h0m-27 10h0m3 2h0m-2 4h0m8 5h0m2 0h0m6 4h0m-19 2h0m26 2h0m-5 11h0m-8 0h0m14 7h0m-15 11h0m4 2h0m5 15h0m-7 4h0m13 9h0m2 7h0m-11 3h0m-1 7h0m-15 2h0m17 14h0m-17 3h0m22 4h0m-24 6h0m23 4h0m0 0h0m-6 4h0m-12 28h0m22 2h0m-26 1h0m3 4h0m11 0h0m-14 19h0m29-488h0m6 74h0m22 6h0m-1 33h0m-14 2h0m-11 8h0m12 25h0m7 2h0m1 2h0m-5 3h0m12 9h0m-28 1h0m17 3h0m-6 1h0m9 4h0m4 3h0m2 22h0m-6 5h0m6 1h0m-16 0h0m5 1h0m-1 2h0m9 0h0m1 2h0m-2 46h0m4 0h0m2 6h0m-3 3h0m-19 2h0m15 9h0m-17 4h0m10 1h0m3 16h0m-16 1h0m20 6h0m-16 2h0m20 10h0m-11 9h0m-10 1h0m6 1h0m-10 0h0m23 1h0m-4 8h0m-4 13h0m-8 3h0m-8 6h0m22 4h0m6 7h0m-4 16h0m-20 10h0m-4 7h0m12 5h0m1 4h0m16 3h0m-21 10h0m1 1h0m-9 3h0m0 7h0m22 3h0m6 1h0m-4 2h0m5 5h0m-9 7h0m1 3h0m-15 1h0m3 8h0m5 6h0m-6 9h0m9 6h0m-7 5h0m15 5h0m2 2h0m-4 3h0m1 26h0m3 59h0m27-581h0m2 2h0m-9 17h0m9 4h0m-7 22h0m1 0h0m6 1h0m-16 12h0m-3 22h0m19 2h0m-25 2h0m26 2h0m-19 0h0m5 0h0m12 4h0m3 15h0m-7 3h0m-3 3h0m-7 2h0m-2 9h0m11 7h0m7 6h0m-14 14h0m12 5h0m0 4h0m-17 11h0m8 2h0m7 4h0m-17 0h0m16 1h0m-8 12h0m4 19h0m9 2h0m-13 8h0m-5 2h0m18 4h0m-14 10h0m-3 2h0m8 7h0m7 5h0m-22 8h0m-3 2h0m10 4h0m-10 2h0m4 3h0m-1 1h0m16 2h0m0 12h0m5 8h0m-2 0h0m-14 4h0m11 2h0m2 4h0m-10 8h0m-9 17h0m27 0h0m-6 1h0m-8 5h0m6 7h0m-1 4h0m5 2h0m3 5h0m-22 8h0m6 5h0m-1 11h0m-8 0h0m21 7h0m-24 3h0m27 0h0m-19 7h0m-6 4h0m12 1h0m-13 11h0m11 15h0m-5 0h0m-7 4h0m12 2h0m-4 4h0m16 6h0m5 1h0m-6 1h0m-5 1h0m-8 1h0m18 1h0m-2 2h0m-22 6h0m8 0h0m9 0h0m-15 2h0m22 3h0m-5 0h0m-10 8h0m-6 2h0m19 1h0m0 1h0m-4 0h0m0 3h0m-11 3h0m12 11h0m-14 3h0m-2 3h0m6 11h0m9 30h0m-12 15h0m-7 8h0m-3 23h0m18 1h0m40-577h0m-1 0h0m-16 0h0m2 8h0m3 2h0m5 5h0m-7 2h0m-2 6h0m-1 0h0m-10 0h0m22 3h0m-4 1h0m-13 9h0m2 4h0m17 2h0m-3 8h0m-7 4h0m11 8h0m-5 0h0m8 2h0m-13 2h0m-5 4h0m5 13h0m-2 1h0m0 1h0m9 2h0m-20 6h0m5 3h0m15 7h0m-2 5h0m4 17h0m-9 10h0m-16 12h0m24 12h0m-12 6h0m-12 1h0m26 2h0m-23 7h0m16 8h0m-10 1h0m-6 12h0m6 11h0m15 27h0m-6 2h0m-10 0h0m-4 9h0m0 1h0m2 1h0m22 12h0m-3 2h0m-3 5h0m-14 7h0m-4 0h0m23 9h0m-12 15h0m-7 2h0m9 4h0m5 2h0m1 5h0m-7 2h0m1 14h0m-15 2h0m8 13h0m2 2h0m11 28h0m-5 11h0m-6 2h0m-1 0h0m-2 3h0m-2 2h0m-5 1h0m-1 21h0m-1 3h0m25 0h0m-6 2h0m10 3h0m-9 1h0m5 2h0m4 6h0m-5 1h0m-23 7h0m23 0h0m-2 5h0m-22 6h0m23 1h0m-7 2h0m6 2h0m1 2h0m3 2h0m-22 0h0m2 2h0m12 0h0m-13 3h0m2 0h0m-6 4h0m21 13h0m-14 10h0m9 2h0m-5 9h0m-5 7h0m16 13h0m-11 2h0m-12 7h0m4 3h0m-3 3h0m26 5h0m-15 10h0m8 7h0m-15 2h0m-1 10h0m-4 1h0m20 2h0m-9 11h0m17 12h0m-20 12h0m15 30h0m29-685h0m1 9h0m-1 15h0m5 3h0m-9 7h0m-4 3h0m7 5h0m4 1h0m-19 31h0m20 3h0m-5 1h0m-19 5h0m17 1h0m-2 4h0m9 1h0m-20 0h0m4 0h0m0 6h0m2 16h0m1 1h0m-3 4h0m9 4h0m-1 6h0m-12 1h0m11 2h0m-15 4h0m3 2h0m2 0h0m7 1h0m-10 1h0m-1 1h0m24 3h0m1 11h0m-14 1h0m-8 2h0m21 1h0m-3 0h0m-12 2h0m-8 3h0m16 2h0m-6 14h0m4 0h0m-1 3h0m-8 10h0m10 2h0m2 5h0m-11 2h0m17 5h0m-13 5h0m-2 11h0m-12 3h0m7 2h0m12 5h0m4 0h0m-9 25h0m4 0h0m5 5h0m-14 10h0m14 8h0m1 7h0m-19 4h0m7 4h0m7 2h0m6 2h0m-19 22h0m16 2h0m-16 0h0m-6 7h0m17 14h0m1 14h0m-9 1h0m7 0h0m0 12h0m-15 3h0m20 3h0m-10 2h0m7 15h0m2 2h0m-5 3h0m2 5h0m11 10h0m1 5h0m-26 6h0m3 4h0m8 2h0m4 3h0m-2 3h0m7 4h0m-19 3h0m16 2h0m-12 2h0m5 0h0m8 1h0m3 2h0m-13 1h0m-1 1h0m18 14h0m-8 1h0m-10 2h0m13 5h0m-3 4h0m3 0h0m4 2h0m0 2h0m-27 1h0m17 2h0m-4 1h0m3 2h0m-15 4h0m21 7h0m-20 1h0m8 2h0m8 3h0m-14 7h0m22 1h0m-16 0h0m1 4h0m-7 0h0m3 1h0m-3 2h0m-2 2h0m21 9h0m-5 0h0m-2 8h0m11 9h0m-25 2h0m27 2h0m-13 6h0m-3 19h0m-12 11h0m26 2h0m2 16h0m-4 10h0m-5 9h0m-10 0h0m-8 3h0m2 4h0m14 19h0m-2 11h0m9 5h0m4 6h0m-17 3h0m-1 3h0m13 8h0m31-710h0m2 0h0m-16 4h0m2 20h0m-1 7h0m-8 3h0m25 4h0m-2 8h0m-22 10h0m-2 0h0m19 6h0m-15 0h0m2 3h0m20 7h0m-29 5h0m18 1h0m-18 4h0m22 1h0m-7 6h0m-14 4h0m27 4h0m-14 3h0m9 9h0m-4 9h0m-9 0h0m-3 0h0m9 6h0m-14 1h0m1 1h0m6 2h0m10 1h0m-4 2h0m-7 3h0m17 2h0m-21 7h0m21 3h0m3 1h0m-5 1h0m-13 5h0m1 0h0m11 15h0m6 12h0m-17 9h0m7 3h0m10 2h0m-22 4h0m8 2h0m4 1h0m-18 0h0m3 2h0m25 1h0m-16 1h0m-4 2h0m14 0h0m-13 0h0m17 4h0m-17 0h0m-6 1h0m10 3h0m-5 1h0m15 4h0m-15 3h0m16 0h0m-15 0h0m1 2h0m14 4h0m4 1h0m-10 1h0m10 4h0m-20 9h0m10 9h0m-12 19h0m3 1h0m9 0h0m8 2h0m-1 4h0m2 0h0m-12 2h0m5 0h0m-4 2h0m-8 5h0m10 10h0m-4 3h0m1 9h0m-1 6h0m-7 2h0m-1 3h0m1 2h0m18 7h0m-19 6h0m10 8h0m0 1h0m8 5h0m-1 1h0m0 4h0m-14 0h0m6 11h0m-10 7h0m-3 3h0m5 9h0m11 2h0m-9 1h0m-7 17h0m18 4h0m-19 1h0m25 0h0m0 7h0m-8 1h0m8 6h0m-13 3h0m15 1h0m-25 1h0m1 5h0m2 1h0m9 1h0m9 1h0m-4 0h0m-16 2h0m25 5h0m-6 8h0m-3 7h0m-15 0h0m8 1h0m-13 3h0m26 3h0m-21 6h0m20 2h0m-5 1h0m4 3h0m-11 0h0m0 5h0m-3 1h0m-8 1h0m21 0h0m5 1h0m-9 1h0m2 1h0m-3 1h0m8 1h0m-16 0h0m0 8h0m-6 2h0m-3 0h0m13 1h0m-11 3h0m12 1h0m-4 2h0m17 1h0m-15 0h0m-10 0h0m12 5h0m1 1h0m-15 1h0m11 3h0m-9 6h0m3 0h0m23 10h0m-4 0h0m-17 2h0m7 1h0m1 0h0m-10 3h0m16 2h0m-12 1h0m7 2h0m-8 0h0m10 0h0m-15 2h0m23 3h0m0 1h0m-11 6h0m-8 10h0m9 12h0m-14 0h0m2 11h0m14 3h0m-9 2h0m10 0h0m-7 14h0m13 5h0m-18 1h0m1 6h0m11 0h0m-20 0h0m3 10h0m24 4h0m1 7h0m-12 2h0m3 1h0m-13 15h0m-2 3h0m6 2h0m14 2h0m-23 16h0m12 3h0m4 13h0m-10 8h0m28-697h0m23 0h0m0 6h0m-1 5h0m-25 3h0m20 5h0m7 1h0m-1 5h0m-14 2h0m0 2h0m10 4h0m-24 5h0m21 3h0m4 2h0m4 4h0m-23 7h0m16 3h0m-1 1h0m-21 6h0m26 12h0m-24 0h0m3 1h0m16 4h0m-20 2h0m13 0h0m-11 5h0m10 6h0m9 3h0m3 2h0m-2 3h0m1 5h0m-17 3h0m15 1h0m-20 1h0m22 5h0m2 4h0m-20 4h0m4 6h0m14 2h0m-24 1h0m15 0h0m12 9h0m-22 2h0m24 4h0m0 2h0m-12 9h0m-11 3h0m6 2h0m-2 1h0m7 0h0m5 3h0m3 0h0m-4 2h0m-12 4h0m17 2h0m-14 1h0m8 1h0m-16 3h0m-2 0h0m25 2h0m-2 2h0m-20 2h0m-4 4h0m8 2h0m-4 1h0m3 0h0m19 4h0m-27 6h0m16 5h0m-16 2h0m29 4h0m-15 2h0m-10 0h0m17 1h0m-10 1h0m2 4h0m11 2h0m1 2h0m-8 3h0m4 3h0m-3 3h0m4 8h0m-22 0h0m4 0h0m16 15h0m-20 3h0m7 13h0m4 6h0m2 0h0m-4 2h0m1 0h0m-6 5h0m1 2h0m17 5h0m-5 1h0m4 1h0m6 2h0m2 0h0m-26 1h0m24 0h0m-5 6h0m-16 2h0m13 4h0m-16 2h0m24 0h0m-3 0h0m-4 5h0m-3 1h0m10 18h0m-16 5h0m-8 5h0m25 0h0m-18 11h0m10 2h0m0 0h0m9 1h0m-9 7h0m9 0h0m-15 1h0m-6 5h0m9 4h0m2 1h0m-13 4h0m22 4h0m-17 13h0m5 9h0m-1 3h0m2 0h0m-4 3h0m10 1h0m-8 4h0m12 3h0m-10 7h0m8 5h0m-18 5h0m-4 2h0m4 2h0m5 2h0m17 1h0m-8 0h0m-1 0h0m-8 1h0m2 0h0m-1 1h0m-13 0h0m3 2h0m26 3h0m-28 0h0m4 1h0m13 8h0m2 2h0m-19 2h0m3 4h0m4 3h0m3 0h0m-6 6h0m18 1h0m-16 1h0m21 1h0m-15 4h0m14 2h0m-3 6h0m-14 4h0m16 1h0m-17 4h0m13 2h0m-4 1h0m1 2h0m6 3h0m-18 3h0m22 4h0m-12 5h0m-17 0h0m9 2h0m15 11h0m-20 3h0m10 6h0m-2 1h0m14 1h0m-13 4h0m5 1h0m-17 3h0m7 1h0m9 2h0m-1 13h0m-3 3h0m8 4h0m-12 4h0m8 0h0m-17 1h0m21 0h0m-14 4h0m-6 2h0m4 0h0m17 2h0m-17 3h0m8 1h0m-10 21h0m12 3h0m7 5h0m-3 5h0m-19 0h0m16 2h0m-16 11h0m12 6h0m14 1h0m-24 2h0m14 0h0m6 1h0m-2 6h0m-10 14h0m6 8h0m-1 2h0m8 15h0m26-736h0m9 24h0m-28 5h0m28 16h0m-11 7h0m-6 3h0m6 1h0m-10 2h0m1 2h0m1 11h0m-1 2h0m-1 4h0m22 2h0m-15 2h0m1 8h0m-3 7h0m-9 1h0m11 2h0m10 0h0m-21 0h0m23 2h0m-21 6h0m6 7h0m-9 1h0m27 2h0m-26 2h0m16 9h0m10 5h0m-15 1h0m12 7h0m-12 1h0m13 12h0m-14 3h0m-6 0h0m18 2h0m-10 1h0m10 4h0m-11 1h0m-3 1h0m-8 1h0m-2 3h0m13 1h0m13 0h0m-24 1h0m-3 1h0m10 0h0m4 1h0m-12 2h0m6 7h0m0 6h0m1 2h0m-9 1h0m27 2h0m-16 0h0m3 3h0m-4 10h0m-1 0h0m16 1h0m-22 2h0m12 3h0m5 1h0m2 2h0m6 0h0m-24 2h0m0 1h0m18 1h0m0 0h0m3 5h0m-19 6h0m-5 3h0m2 6h0m-3 1h0m21 2h0m7 4h0m0 3h0m-14 7h0m12 0h0m3 4h0m-28 1h0m28 0h0m-21 2h0m1 4h0m10 3h0m6 1h0m-19 4h0m11 5h0m-5 1h0m13 1h0m-14 2h0m-2 1h0m-2 8h0m-6 5h0m6 4h0m22 0h0m-6 5h0m4 3h0m-16 4h0m4 1h0m12 13h0m-23 1h0m18 12h0m-13 1h0m5 6h0m-6 3h0m-4 1h0m10 10h0m-3 1h0m10 1h0m2 0h0m-12 1h0m4 6h0m-5 0h0m-7 2h0m14 3h0m5 5h0m6 0h0m-23 15h0m6 1h0m4 7h0m12 5h0m2 11h0m-4 2h0m-16 2h0m12 4h0m-3 3h0m7 3h0m-1 1h0m-8 1h0m-11 10h0m10 5h0m8 2h0m-15 4h0m-4 1h0m19 11h0m-18 8h0m-3 5h0m23 2h0m-3 7h0m3 1h0m-5 8h0m6 0h0m-1 1h0m-24 2h0m20 5h0m6 3h0m-17 9h0m19 1h0m-23 1h0m6 1h0m4 1h0m10 2h0m-21 1h0m-5 2h0m0 3h0m1 7h0m24 2h0m-3 1h0m-3 6h0m-8 1h0m9 2h0m-8 1h0m11 3h0m-22 5h0m4 0h0m10 5h0m0 2h0m14 6h0m-10 0h0m-2 1h0m3 4h0m-1 0h0m-13 8h0m10 5h0m-2 8h0m-6 5h0m11 4h0m-18 4h0m13 0h0m0 3h0m13 0h0m-14 17h0m-3 1h0m-1 10h0m7 3h0m7 5h0m-7 0h0m-10 3h0m7 1h0m7 12h0m-14 4h0m0 5h0m16 4h0m-6 3h0m0 3h0m6 9h0m-1 7h0m-5 5h0m7 1h0m-10 7h0m-13 0h0m22 2h0m-4 3h0m-2 4h0m8 5h0m-17 8h0m-2 15h0m37-755h0m-6 11h0m-5 11h0m19 1h0m-15 7h0m6 5h0m7 11h0m-9 1h0m-3 3h0m-6 8h0m21 9h0m-21 2h0m16 3h0m5 8h0m-21 2h0m22 1h0m-22 5h0m12 9h0m3 3h0m14 6h0m-19 0h0m6 3h0m5 8h0m-2 0h0m-3 1h0m-13 6h0m17 3h0m1 9h0m-7 9h0m-14 6h0m19 2h0m0 1h0m-11 5h0m2 2h0m18 5h0m-3 5h0m1 2h0m-11 2h0m14 5h0m-22 2h0m-3 0h0m-3 2h0m8 1h0m8 4h0m-4 6h0m-12 0h0m13 2h0m-13 4h0m-1 0h0m23 3h0m6 4h0m0 6h0m-2 1h0m-16 1h0m3 1h0m8 3h0m6 3h0m-11 1h0m-5 0h0m7 1h0m-5 4h0m4 2h0m4 0h0m-13 3h0m2 2h0m-7 0h0m12 2h0m-15 4h0m28 5h0m-10 3h0m-16 1h0m20 4h0m-17 14h0m-6 16h0m14 9h0m13 6h0m-13 7h0m-5 0h0m-9 8h0m10 11h0m0 6h0m18 1h0m-11 1h0m-10 0h0m-3 1h0m-1 7h0m22 3h0m-15 1h0m-3 13h0m4 4h0m-3 2h0m11 8h0m-17 11h0m25 0h0m-20 3h0m11 5h0m8 2h0m-9 0h0m0 16h0m12 4h0m-10 2h0m-14 2h0m12 1h0m4 1h0m-4 3h0m-2 5h0m-10 0h0m16 1h0m-6 0h0m9 15h0m-14 1h0m12 0h0m-3 1h0m10 0h0m-13 2h0m-10 2h0m14 6h0m-4 10h0m0 3h0m-14 6h0m17 4h0m-2 6h0m-13 1h0m3 3h0m21 9h0m-4 2h0m-6 5h0m-12 0h0m-4 0h0m9 1h0m16 0h0m-4 0h0m3 3h0m-21 1h0m10 11h0m13 2h0m-20 1h0m21 3h0m-2 0h0m-6 3h0m-11 6h0m9 1h0m-15 1h0m22 5h0m-19 5h0m18 0h0m-4 4h0m0 5h0m-11 1h0m-9 4h0m9 10h0m-5 4h0m0 3h0m-3 0h0m0 1h0m9 5h0m11 6h0m2 12h0m-24 13h0m28 2h0m-12 7h0m-8 8h0m11 6h0m-9 14h0m0 2h0m16 1h0m-24 1h0m7 0h0m12 0h0m5 12h0m-9 5h0m3 2h0m9 8h0m-7 6h0m6 5h0m-7 6h0m4 5h0m-18 7h0m19 0h0m2 1h0m-6 1h0m-4 2h0m-7 6h0m16 1h0m-14 10h0m-7 0h0m21 1h0m-15 4h0m-2 3h0m8 8h0m-8 3h0m8 1h0m34-740h0m7 12h0m-14 7h0m-2 7h0m-7 0h0m-3 12h0m3 5h0m19 15h0m-12 3h0m13 4h0m-26 4h0m4 27h0m2 5h0m1 1h0m-5 17h0m20 1h0m-20 2h0m1 1h0m3 1h0m23 1h0m-4 1h0m-16 15h0m3 6h0m7 3h0m6 8h0m-23 4h0m7 5h0m-7 1h0m7 5h0m12 13h0m8 0h0m-27 1h0m9 5h0m0 1h0m3 6h0m0 1h0m-8 4h0m3 1h0m-4 2h0m-5 0h0m10 1h0m1 1h0m13 2h0m-19 7h0m15 0h0m-4 5h0m-3 1h0m-5 1h0m12 4h0m-1 1h0m5 3h0m-4 3h0m-1 2h0m-10 1h0m2 2h0m12 4h0m-11 0h0m-8 0h0m-4 2h0m17 5h0m11 0h0m-23 3h0m13 0h0m-4 1h0m11 0h0m-14 0h0m8 1h0m-12 2h0m-6 6h0m10 3h0m18 2h0m-6 1h0m-13 2h0m1 7h0m6 0h0m-8 0h0m3 2h0m8 5h0m3 3h0m-3 0h0m-15 5h0m13 0h0m-3 4h0m1 2h0m12 1h0m-23 2h0m15 6h0m6 0h0m-2 0h0m-1 4h0m-2 0h0m-3 3h0m3 0h0m-4 9h0m9 2h0m-16 0h0m18 3h0m1 5h0m-15 1h0m7 2h0m-12 4h0m7 0h0m-7 1h0m0 0h0m2 3h0m8 2h0m-14 1h0m10 2h0m-3 6h0m-9 4h0m-1 5h0m22 0h0m5 2h0m-2 2h0m2 2h0m-25 1h0m18 3h0m-2 0h0m4 3h0m-22 0h0m15 6h0m-7 1h0m-3 1h0m6 4h0m15 6h0m-17 6h0m3 1h0m11 1h0m-12 3h0m-6 1h0m6 1h0m8 4h0m-16 6h0m6 1h0m9 1h0m-19 2h0m23 1h0m-19 0h0m10 4h0m1 4h0m-5 2h0m8 0h0m-1 5h0m-15 2h0m22 1h0m2 3h0m-17 6h0m-5 3h0m13 0h0m-5 3h0m-12 1h0m19 0h0m7 3h0m-4 2h0m6 3h0m-9 0h0m-8 6h0m9 0h0m4 3h0m-15 0h0m1 1h0m-11 5h0m22 1h0m1 1h0m2 3h0m-14 7h0m-4 2h0m12 1h0m-3 7h0m2 6h0m9 2h0m-13 0h0m-10 0h0m10 1h0m-7 11h0m8 1h0m-5 0h0m7 4h0m0 1h0m-17 2h0m25 1h0m-7 1h0m-17 3h0m25 5h0m-26 2h0m23 3h0m2 7h0m-17 3h0m14 1h0m-3 1h0m-19 16h0m21 3h0m-8 3h0m-2 2h0m7 2h0m-14 0h0m2 11h0m2 0h0m6 10h0m5 2h0m-12 3h0m11 4h0m-16 6h0m9 1h0m5 2h0m-4 0h0m2 6h0m1 1h0m-4 1h0m-4 16h0m0 1h0m17 4h0m-6 4h0m-9 4h0m20 2h0m-29 3h0m15 3h0m11 2h0m-5 2h0m-14 0h0m-2 1h0m10 2h0m5 1h0m-17 4h0m24 7h0m-4 8h0m4 3h0m-4 2h0m-10 0h0m11 0h0m-19 0h0m13 5h0m5 5h0m-8 6h0m10 4h0m-12 2h0m9 4h0m7 1h0m-8 1h0m3 4h0m-1 1h0m4 8h0m-3 5h0m-7 1h0m29-736h0m-11 22h0m7 2h0m3 13h0m-13 2h0m23 8h0m-19 1h0m21 5h0m-20 20h0m9 5h0m-4 3h0m12 12h0m-20 3h0m10 6h0m15 0h0m-17 0h0m1 1h0m3 9h0m-3 19h0m11 3h0m-11 2h0m-13 15h0m28 15h0m1 0h0m-23 6h0m-3 0h0m7 1h0m5 5h0m-8 1h0m8 0h0m-12 17h0m22 3h0m-20 5h0m9 3h0m12 1h0m-1 7h0m-12 0h0m12 3h0m-4 8h0m-14 3h0m14 1h0m-19 1h0m24 1h0m-18 0h0m1 0h0m-6 1h0m16 1h0m-16 1h0m1 0h0m22 0h0m-13 4h0m-3 0h0m-4 3h0m9 1h0m-13 1h0m5 1h0m8 1h0m-2 9h0m15 0h0m-26 4h0m22 1h0m-20 0h0m22 1h0m-25 1h0m23 4h0m-6 6h0m10 1h0m-27 1h0m11 0h0m10 1h0m0 0h0m-21 1h0m19 1h0m1 4h0m-5 1h0m-4 0h0m2 2h0m-6 1h0m20 2h0m-15 2h0m14 1h0m-8 1h0m-16 1h0m2 0h0m6 2h0m-7 1h0m20 1h0m0 10h0m-16 7h0m0 6h0m4 0h0m-10 3h0m22 1h0m-4 1h0m-1 2h0m-3 6h0m9 1h0m0 4h0m-15 6h0m13 2h0m-7 5h0m9 19h0m1 0h0m2 17h0m1 1h0m-20 7h0m19 3h0m-28 1h0m26 1h0m-22 2h0m12 3h0m-15 10h0m-1 5h0m4 4h0m3 3h0m5 4h0m-8 8h0m21 3h0m-7 0h0m-16 1h0m-2 1h0m15 2h0m-6 5h0m-3 3h0m11 3h0m6 2h0m-11 3h0m0 1h0m8 1h0m1 0h0m-11 7h0m3 2h0m11 1h0m-9 2h0m1 3h0m-13 17h0m6 0h0m-2 2h0m22 5h0m-1 4h0m-15 0h0m2 2h0m11 2h0m-22 0h0m3 4h0m14 4h0m5 1h0m-22 1h0m19 2h0m4 1h0m-13 2h0m6 1h0m-8 0h0m13 3h0m-3 0h0m-14 2h0m0 10h0m-7 8h0m26 0h0m-14 4h0m-2 7h0m2 27h0m-13 3h0m29 0h0m-4 5h0m-14 5h0m16 0h0m-3 0h0m5 7h0m-20 0h0m-2 5h0m12 2h0m5 2h0m-22 3h0m6 1h0m0 7h0m16 3h0m-20 1h0m11 0h0m-6 1h0m3 3h0m-11 2h0m17 0h0m1 10h0m4 6h0m4 5h0m-8 0h0m-18 4h0m21 1h0m5 2h0m-4 5h0m6 1h0m-7 0h0m-1 3h0m-21 0h0m16 4h0m-13 4h0m9 3h0m10 3h0m2 1h0m-8 2h0m9 1h0m-8 0h0m-13 1h0m14 4h0m-13 0h0m11 1h0m-6 0h0m15 1h0m-10 1h0m-5 1h0m-7 0h0m-3 0h0m3 2h0m3 0h0m-3 2h0m5 0h0m19 4h0m-24 1h0m7 0h0m2 4h0m-1 1h0m2 3h0m4 2h0m7 0h0m-21 1h0m-2 0h0m1 3h0m18 3h0m-6 2h0m-13 6h0m28 0h0m-17 4h0m5 16h0m42-767h0m-23 7h0m22 2h0m-27 11h0m2 5h0m3 3h0m21 3h0m-12 3h0m12 5h0m-14 1h0m-1 4h0m7 5h0m-9 3h0m-4 1h0m-1 7h0m11 16h0m-13 1h0m14 16h0m-16 3h0m22 6h0m-13 3h0m6 4h0m-10 5h0m-6 17h0m17 6h0m2 13h0m-8 3h0m11 0h0m-13 4h0m6 4h0m14 0h0m-7 8h0m2 1h0m-11 5h0m15 7h0m-13 2h0m-11 13h0m19 8h0m-23 1h0m4 2h0m0 2h0m16 1h0m8 3h0m-26 1h0m6 9h0m21 0h0m-21 13h0m6 3h0m-4 1h0m-9 5h0m10 7h0m4 2h0m6 0h0m-21 1h0m0 3h0m27 1h0m-10 14h0m6 1h0m-17 3h0m-5 2h0m0 3h0m1 3h0m7 3h0m-3 5h0m3 3h0m8 3h0m-15 4h0m7 3h0m1 0h0m4 2h0m2 2h0m-12 0h0m-2 1h0m18 6h0m-9 15h0m-10 2h0m7 3h0m21 2h0m-1 4h0m-23 2h0m-3 1h0m26 1h0m-27 8h0m11 1h0m2 1h0m-4 6h0m12 2h0m-17 2h0m14 3h0m-15 8h0m5 1h0m-8 16h0m13 9h0m-14 1h0m14 1h0m-5 9h0m2 16h0m3 18h0m-2 1h0m15 2h0m-19 18h0m2 0h0m-7 1h0m10 4h0m-11 18h0m2 5h0m4 0h0m-6 4h0m-1 7h0m6 0h0m4 1h0m15 0h0m-21 0h0m13 5h0m3 2h0m-9 2h0m-8 0h0m18 1h0m3 3h0m-19 1h0m8 4h0m15 2h0m-19 2h0m17 2h0m-18 2h0m-2 2h0m16 1h0m0 0h0m3 1h0m1 0h0m-1 3h0m-4 0h0m-6 2h0m-15 3h0m6 2h0m16 2h0m0 1h0m-6 2h0m6 1h0m-14 2h0m6 0h0m14 0h0m-6 1h0m-11 2h0m10 0h0m7 4h0m-25 5h0m22 2h0m-21 16h0m14 11h0m-17 3h0m23 1h0m1 3h0m-13 2h0m2 0h0m-7 2h0m20 2h0m-26 13h0m18 0h0m-11 3h0m5 1h0m-5 0h0m-3 3h0m3 4h0m3 4h0m-2 6h0m13 1h0m-21 10h0m4 3h0m9 0h0m4 10h0m-8 5h0m11 2h0m-19 11h0m25 1h0m-28 1h0m2 8h0m-2 6h0m14 2h0m2 1h0m3 6h0m-3 3h0m13 15h0m-15 15h0m15 0h0m-3 12h0m-10 14h0m27-796h0m5 29h0m-2 2h0m8 3h0m-12 5h0m7 4h0m0 2h0m-11 6h0m3 4h0m-9 2h0m22 5h0m-22 3h0m20 0h0m-3 1h0m-19 22h0m11 9h0m0 6h0m5 14h0m12 4h0m-28 9h0m7 3h0m21 6h0m-20 0h0m2 2h0m13 12h0m-16 1h0m-4 2h0m16 10h0m9 14h0m-6 5h0m-7 10h0m-4 1h0m-6 5h0m21 13h0m-1 11h0m-25 4h0m26 2h0m-12 1h0m13 1h0m-16 4h0m-1 5h0m8 0h0m-8 1h0m7 1h0m5 21h0m4 8h0m-7 1h0m6 4h0m-2 4h0m-16 4h0m-4 13h0m-1 1h0m20 3h0m-15 3h0m9 7h0m12 12h0m-23 0h0m22 9h0m-4 1h0m-20 0h0m5 9h0m15 5h0m-5 5h0m-7 3h0m-4 0h0m7 1h0m1 14h0m-6 5h0m1 5h0m18 0h0m-6 4h0m-7 11h0m5 1h0m-16 2h0m9 10h0m-2 1h0m1 1h0m8 6h0m5 14h0m-12 14h0m11 4h0m-5 2h0m8 2h0m-26 12h0m3 4h0m13 5h0m11 6h0m-15 29h0m-7 12h0m19 1h0m-7 1h0m-11 21h0m-5 1h0m11 5h0m-4 1h0m-6 3h0m24 1h0m-26 2h0m26 1h0m-9 0h0m-4 1h0m-7 5h0m14 4h0m-17 1h0m15 2h0m-7 3h0m-3 0h0m-6 1h0m8 2h0m10 1h0m-14 1h0m8 3h0m-13 0h0m-2 2h0m2 4h0m7 1h0m14 0h0m-15 2h0m6 3h0m-8 4h0m-2 3h0m-4 3h0m23 3h0m0 4h0m0 0h0m-3 8h0m-17 0h0m0 2h0m10 2h0m15 1h0m-4 1h0m2 0h0m1 9h0m-19 0h0m2 4h0m4 0h0m4 7h0m9 11h0m-15 1h0m2 1h0m15 1h0m-6 2h0m-4 3h0m7 1h0m-4 2h0m-9 9h0m-5 5h0m20 2h0m-26 1h0m1 1h0m14 0h0m9 1h0m-22 4h0m-4 6h0m12 0h0m15 6h0m-6 4h0m-4 1h0m12 1h0m-15 3h0m12 4h0m-1 1h0m-7 2h0m-1 2h0m7 3h0m-5 6h0m-7 8h0m16 8h0m-21 0h0m4 11h0m13 3h0m-20 10h0m24 2h0m-18 10h0m10 6h0m0 1h0m7 9h0m0 3h0m1 1h0m-6 32h0m25-819h0m-1 18h0m10 17h0m-5 8h0m0 4h0m-17 3h0m22 4h0m2 4h0m-14 3h0m8 17h0m-20 2h0m7 3h0m8 8h0m-15 14h0m16 0h0m8 8h0m-14 5h0m-2 3h0m19 14h0m-24 6h0m11 3h0m-2 1h0m-1 6h0m-8 5h0m19 18h0m-3 2h0m-17 2h0m5 0h0m-8 11h0m8 8h0m-1 6h0m21 2h0m-6 5h0m1 7h0m-14 4h0m-4 1h0m-6 7h0m6 2h0m5 1h0m7 4h0m6 1h0m-9 4h0m-14 6h0m8 1h0m-2 3h0m15 2h0m-1 13h0m-20 5h0m19 4h0m-1 11h0m-6 44h0m-10 15h0m8 0h0m3 16h0m15 1h0m-20 9h0m15 1h0m-7 0h0m6 75h0m-6 7h0m7 9h0m-13 3h0m1 3h0m0 38h0m12 5h0m-9 2h0m-11 0h0m-1 2h0m-3 1h0m27 3h0m-7 3h0m-6 6h0m7 13h0m7 19h0m-12 1h0m-4 10h0m17 1h0m-13 0h0m-16 8h0m1 3h0m26 0h0m-13 7h0m5 1h0m4 8h0m4 2h0m-24 6h0m22 0h0m-7 8h0m-13 3h0m10 1h0m2 0h0m-4 1h0m0 1h0m10 5h0m-16 2h0m5 4h0m-6 4h0m13 10h0m-10 19h0m3 1h0m11 11h0m-2 1h0m-4 5h0m-7 1h0m13 3h0m-18 9h0m22 16h0m-2 1h0m1 0h0m-2 9h0m0 3h0m0 4h0m-11 19h0m-4 3h0m-2 2h0m9 1h0m-10 3h0m6 3h0m-12 3h0m10 1h0m-10 0h0m18 5h0m-11 1h0m21 1h0m-17 0h0m12 3h0m-19 1h0m-1 6h0m8 3h0m-6 3h0m14 3h0m-3 4h0m0 3h0m-1 6h0m25-798h0m-9 14h0m24 4h0m1 1h0m-16 7h0m11 1h0m-13 3h0m18 8h0m-16 1h0m15 1h0m-18 3h0m7 0h0m10 1h0m-7 6h0m-5 6h0m-12 3h0m2 12h0m19 15h0m-15 4h0m13 1h0m-16 5h0m14 10h0m-8 3h0m6 7h0m-14 2h0m16 5h0m-6 5h0m6 2h0m-1 1h0m3 0h0m-9 4h0m19 1h0m-23 0h0m0 2h0m11 10h0m-17 6h0m27 3h0m-8 22h0m-18 11h0m4 3h0m15 2h0m6 0h0m-13 1h0m-5 3h0m-8 10h0m13 0h0m15 6h0m-17 9h0m7 0h0m-3 5h0m6 1h0m2 2h0m3 3h0m-6 8h0m-14 4h0m9 1h0m-15 3h0m25 4h0m-4 5h0m-2 4h0m-13 1h0m4 8h0m16 7h0m-1 12h0m-19 1h0m-6 9h0m10 3h0m5 18h0m4 8h0m-13 2h0m5 3h0m18 6h0m-13 1h0m7 4h0m-14 5h0m7 4h0m-7 20h0m3 0h0m14 11h0m2 7h0m-2 2h0m-2 0h0m3 12h0m-14 6h0m2 2h0m10 0h0m-12 1h0m-5 8h0m-5 7h0m19 15h0m-2 9h0m1 23h0m-15 3h0m21 1h0m0 9h0m-18 8h0m4 1h0m0 4h0m6 2h0m10 2h0m-21 4h0m8 2h0m0 3h0m-14 2h0m9 1h0m17 1h0m-2 2h0m-4 3h0m3 5h0m-18 4h0m16 1h0m5 2h0m-14 1h0m-8 1h0m14 0h0m-6 1h0m-7 1h0m22 0h0m-9 1h0m8 1h0m0 2h0m-6 0h0m-21 3h0m24 1h0m-4 3h0m2 5h0m-3 3h0m5 1h0m-10 9h0m-2 2h0m-12 0h0m-1 5h0m9 4h0m10 11h0m-19 1h0m0 4h0m14 3h0m-12 1h0m10 9h0m-3 1h0m17 1h0m-4 6h0m2 1h0m3 2h0m2 2h0m-25 2h0m24 5h0m-28 10h0m7 2h0m18 3h0m-17 2h0m19 17h0m-3 8h0m-1 11h0m-17 4h0m-1 9h0m-1 8h0m5 5h0m11 8h0m-15 2h0m-2 2h0m23 5h0m-13 6h0m-11 6h0m17 7h0m-18 5h0m-1 10h0m6 1h0m1 5h0m19 11h0m-21 2h0m-4 3h0m37-784h0m19 1h0m-24 16h0m17 1h0m-5 1h0m8 0h0m4 14h0m-15 10h0m7 10h0m0 3h0m5 3h0m-15 2h0m8 1h0m-12 6h0m-5 3h0m29 5h0m-17 1h0m0 0h0m-7 2h0m3 8h0m21 2h0m-18 2h0m9 4h0m-18 13h0m12 4h0m5 0h0m-19 0h0m8 9h0m2 7h0m19 4h0m-25 15h0m17 8h0m-3 1h0m-18 14h0m28 3h0m-9 4h0m-12 0h0m13 8h0m1 25h0m-21 1h0m14 5h0m-6 2h0m0 0h0m6 7h0m-2 4h0m4 3h0m-16 2h0m27 0h0m-17 0h0m-2 5h0m15 0h0m-6 2h0m-4 1h0m11 3h0m-5 5h0m-8 4h0m5 1h0m-7 0h0m1 4h0m-7 0h0m6 4h0m3 5h0m-9 4h0m3 32h0m4 6h0m-8 3h0m5 9h0m-7 0h0m9 2h0m-2 5h0m0 5h0m1 20h0m-4 5h0m-1 1h0m17 1h0m-7 2h0m-3 3h0m17 1h0m-8 2h0m-6 9h0m9 8h0m5 3h0m-25 0h0m10 2h0m-10 2h0m3 4h0m10 2h0m6 7h0m-13 5h0m2 23h0m-6 2h0m11 7h0m5 0h0m-1 3h0m-4 4h0m-12 8h0m26 8h0m-21 1h0m3 3h0m8 7h0m0 5h0m0 11h0m-17 7h0m3 2h0m11 2h0m-11 2h0m1 2h0m13 1h0m2 0h0m-4 1h0m-1 1h0m-3 4h0m6 1h0m-16 1h0m0 2h0m14 2h0m8 2h0m-3 3h0m-21 0h0m3 2h0m19 0h0m-21 0h0m6 1h0m21 0h0m-15 0h0m6 1h0m-2 1h0m-11 2h0m13 0h0m-20 1h0m4 2h0m24 2h0m0 2h0m-7 3h0m-21 2h0m10 2h0m-1 1h0m5 0h0m-9 2h0m22 1h0m-7 4h0m-13 2h0m-2 0h0m-4 1h0m3 0h0m-3 3h0m11 3h0m-3 9h0m2 3h0m17 3h0m-27 2h0m26 0h0m-13 3h0m-14 5h0m26 0h0m-3 4h0m4 1h0m-16 0h0m3 2h0m-9 2h0m17 5h0m5 2h0m1 4h0m-8 1h0m-18 3h0m26 8h0m-27 5h0m3 2h0m9 1h0m15 7h0m-4 1h0m-6 4h0m-10 15h0m6 0h0m-5 3h0m1 19h0m0 2h0m-10 2h0m14 5h0m5 1h0m4 1h0m-20 4h0m18 3h0m-20 11h0m23 6h0m-21 2h0m13 0h0m-4 8h0m-10 0h0m17 4h0m4 8h0m-4 4h0m-7 2h0m11 2h0m-1 15h0m1 16h0m-6 3h0m11 8h0m-9 3h0m19-759h0m-3 6h0m1 2h0m-5 11h0m28 13h0m-3 8h0m-11 12h0m6 0h0m-5 1h0m-14 0h0m27 5h0m-4 6h0m-5 6h0m-7 1h0m1 2h0m-2 8h0m1 1h0m-7 5h0m9 1h0m-6 2h0m3 0h0m-3 6h0m18 1h0m-5 6h0m-4 1h0m1 1h0m3 14h0m1 2h0m6 12h0m-20 5h0m3 9h0m-8 2h0m15 6h0m4 15h0m-15 5h0m1 3h0m5 6h0m-8 1h0m6 13h0m-8 6h0m3 1h0m15 1h0m3 39h0m-2 14h0m-2 3h0m3 11h0m-1 0h0m4 2h0m-27 3h0m23 7h0m3 5h0m-4 26h0m7 13h0m-20 1h0m4 1h0m15 4h0m-28 1h0m25 0h0m0 11h0m-1 5h0m-5 4h0m1 6h0m-12 6h0m-4 5h0m23 1h0m-19 8h0m-2 4h0m-2 3h0m0 3h0m12 0h0m-15 1h0m12 7h0m-9 4h0m-4 4h0m27 2h0m-4 5h0m4 3h0m-7 2h0m6 2h0m-5 11h0m-19 5h0m23 18h0m-12 4h0m9 9h0m1 3h0m-22 0h0m9 2h0m11 5h0m4 6h0m-4 3h0m-11 1h0m-9 0h0m1 0h0m8 1h0m18 3h0m-19 4h0m8 4h0m8 0h0m-7 1h0m-11 1h0m-7 0h0m0 0h0m4 0h0m-3 2h0m7 0h0m4 2h0m-6 2h0m20 2h0m-9 3h0m-16 1h0m4 0h0m-1 1h0m0 5h0m17 2h0m-3 1h0m-13 1h0m19 0h0m-15 6h0m19 0h0m-15 2h0m0 1h0m-2 6h0m10 2h0m-11 4h0m-6 2h0m-4 3h0m17 2h0m-14 1h0m-3 6h0m26 2h0m-16 3h0m6 1h0m-8 1h0m9 1h0m-1 8h0m-11 7h0m24 6h0m-6 1h0m6 1h0m-6 4h0m-19 1h0m6 1h0m4 1h0m7 10h0m-6 3h0m2 1h0m-10 6h0m17 7h0m-3 1h0m-10 4h0m14 0h0m-21 12h0m-4 6h0m23 1h0m5 1h0m1 6h0m-21 3h0m-8 3h0m19 4h0m-13 8h0m14 17h0m-1 4h0m-13 8h0m0 17h0m-3 10h0m16 2h0m-16 17h0m36-721h0m10 4h0m-19 2h0m4 2h0m9 3h0m-6 6h0m3 3h0m15 5h0m-9 0h0m10 12h0m-26 2h0m11 3h0m10 5h0m-9 15h0m1 7h0m-6 0h0m2 32h0m-5 3h0m1 53h0m18 42h0m-8 0h0m4 36h0m10 11h0m-26 2h0m11 7h0m14 0h0m-17 2h0m-7 3h0m7 3h0m15 8h0m-26 0h0m1 3h0m24 3h0m-10 7h0m-14 4h0m25 9h0m-13 2h0m5 2h0m-8 0h0m10 5h0m4 4h0m1 3h0m2 2h0m-21 3h0m11 3h0m-2 1h0m-15 14h0m16 3h0m-11 3h0m-1 18h0m23 1h0m-10 1h0m1 21h0m-2 20h0m12 3h0m-15 0h0m-9 7h0m11 6h0m-13 30h0m5 4h0m4 1h0m0 0h0m-5 6h0m15 1h0m-8 4h0m-8 2h0m15 0h0m-7 1h0m-3 1h0m1 19h0m0 0h0m5 0h0m9 3h0m-25 3h0m10 1h0m7 3h0m-12 1h0m3 1h0m12 0h0m0 2h0m-11 0h0m20 0h0m-24 4h0m-2 1h0m18 1h0m-3 0h0m-13 3h0m20 1h0m-4 1h0m-17 1h0m25 1h0m-7 1h0m-11 3h0m-4 3h0m11 6h0m-13 0h0m-3 2h0m3 4h0m2 6h0m0 15h0m17 6h0m-13 0h0m5 2h0m9 4h0m1 0h0m1 3h0m-18 4h0m-5 1h0m-3 1h0m1 6h0m9 6h0m14 0h0m-13 1h0m2 1h0m0 1h0m-10 2h0m25 1h0m-9 0h0m-6 7h0m1 9h0m14 4h0m0 0h0m-26 3h0m11 3h0m8 2h0m-2 4h0m-14 0h0m7 3h0m11 18h0m-5 8h0m-12 2h0m2 16h0m3 10h0m4 3h0m2 11h0m9 5h0m-11 7h0m8 6h0m-1 49h0m12-719h0m0 13h0m-3 22h0m4 29h0m11 9h0m-14 12h0m-3 14h0m1 31h0m27 6h0m-10 4h0m-12 13h0m15 2h0m-21 2h0m6 9h0m-6 1h0m19 1h0m-15 0h0m9 2h0m0 3h0m15 4h0m0 4h0m-28 2h0m25 1h0m3 1h0m-21 3h0m10 0h0m-9 2h0m-3 0h0m18 2h0m-3 4h0m-3 1h0m-5 2h0m7 4h0m-8 8h0m1 2h0m17 4h0m-4 6h0m2 0h0m-25 0h0m14 3h0m4 8h0m2 5h0m-21 21h0m5 1h0m23 0h0m-7 6h0m2 0h0m-9 5h0m9 0h0m-23 2h0m21 1h0m-8 20h0m12 4h0m0 6h0m-17 13h0m-9 18h0m2 1h0m13 21h0m-15 1h0m10 3h0m7 11h0m-12 1h0m18 2h0m-2 2h0m-4 2h0m11 13h0m-18 2h0m-7 7h0m11 2h0m4 14h0m10 1h0m-6 1h0m-15 7h0m20 2h0m-10 6h0m8 5h0m-9 1h0m8 8h0m3 2h0m-11 3h0m-1 14h0m7 3h0m4 2h0m-9 1h0m-6 3h0m-9 2h0m5 1h0m22 0h0m-7 10h0m-2 4h0m-14 1h0m-4 8h0m9 1h0m2 1h0m4 5h0m-3 1h0m13 0h0m-26 1h0m12 5h0m6 2h0m0 2h0m2 1h0m-8 2h0m5 4h0m-4 2h0m14 6h0m-25 0h0m6 1h0m3 1h0m-4 2h0m-2 3h0m-4 1h0m3 1h0m-3 4h0m2 1h0m23 0h0m-15 1h0m-8 1h0m-1 0h0m18 4h0m-6 1h0m-11 4h0m-4 2h0m29 1h0m-6 0h0m-17 1h0m5 3h0m-6 3h0m24 2h0m-3 3h0m1 7h0m-4 2h0m-18 3h0m3 1h0m6 1h0m-3 1h0m12 6h0m-21 1h0m3 0h0m11 8h0m-8 1h0m21 2h0m-18 2h0m4 9h0m-1 1h0m2 5h0m6 1h0m-18 10h0m22 24h0m3 5h0m-1 42h0m3-572h0m3 6h0m21 3h0m-24 11h0m10 7h0m14 1h0m-23 7h0m15 3h0m-6 4h0m13 2h0m4 5h0m-24 3h0m17 2h0m2 0h0m-9 6h0m-6 2h0m7 3h0m-7 1h0m0 3h0m-7 1h0m16 0h0m1 2h0m11 4h0m-8 2h0m4 2h0m-15 3h0m6 7h0m-4 10h0m17 7h0m-15 4h0m-11 7h0m-3 6h0m12 1h0m7 1h0m8 1h0m-18 3h0m-4 1h0m16 16h0m4 9h0m-9 4h0m-16 17h0m28 1h0m0 6h0m-18 3h0m-5 5h0m9 3h0m-12 2h0m0 3h0m14 4h0m1 4h0m4 3h0m-14 2h0m-6 1h0m10 2h0m2 1h0m7 1h0m-20 6h0m4 3h0m7 1h0m-10 0h0m19 22h0m-1 5h0m-1 1h0m0 1h0m-10 3h0m4 2h0m-9 13h0m14 5h0m11 6h0m-4 3h0m-4 0h0m-3 2h0m-15 5h0m27 3h0m-7 6h0m7 4h0m-1 1h0m-8 1h0m-1 6h0m10 1h0m-2 3h0m-20 1h0m20 1h0m2 2h0m-8 0h0m-17 1h0m-2 0h0m15 2h0m-2 5h0m0 1h0m-8 1h0m3 0h0m10 4h0m-6 0h0m-6 6h0m-4 8h0m2 1h0m9 2h0m-13 0h0m20 1h0m-3 2h0m-10 3h0m11 3h0m-12 2h0m-5 1h0m9 4h0m16 4h0m-2 16h0m-3 1h0m-14 2h0m10 2h0m-10 2h0m-2 1h0m18 0h0m-14 1h0m-9 1h0m1 1h0m22 0h0m-23 2h0m-2 1h0m11 1h0m-9 2h0m25 4h0m-9 0h0m6 1h0m-3 4h0m-2 2h0m-3 5h0m-13 4h0m2 4h0m22 4h0m-25 0h0m3 8h0m-4 3h0m4 2h0m8 3h0m-1 0h0m-4 1h0m20 1h0m-4 5h0m-22 3h0m21 9h0m-11 7h0m-8 5h0m-3 0h0m5 7h0m17 2h0m5 10h0m-10 1h0m-18 5h0m26 7h0m-3 38h0m9-563h0m14 1h0m-11 9h0m11 5h0m-7 2h0m5 1h0m4 9h0m-8 2h0m-10 12h0m9 6h0m-4 1h0m-5 0h0m23 4h0m-4 6h0m1 1h0m-19 2h0m5 0h0m8 7h0m3 0h0m-14 0h0m7 7h0m-9 0h0m8 4h0m-8 4h0m6 7h0m11 0h0m-15 4h0m22 0h0m-12 13h0m-12 1h0m10 2h0m-1 4h0m-9 2h0m13 10h0m5 2h0m-6 11h0m14 1h0m-24 2h0m12 1h0m-6 3h0m-7 4h0m25 0h0m-25 19h0m10 1h0m-2 6h0m2 2h0m-11 6h0m13 8h0m-13 5h0m15 5h0m3 1h0m-18 7h0m5 1h0m3 1h0m-3 1h0m13 1h0m-13 8h0m-3 10h0m18 9h0m-12 4h0m19 4h0m-7 0h0m-17 1h0m22 8h0m-16 1h0m-9 0h0m7 2h0m10 14h0m-11 15h0m-1 7h0m11 2h0m-16 1h0m11 1h0m-12 5h0m5 8h0m-5 0h0m15 1h0m-11 2h0m23 3h0m-19 0h0m17 6h0m1 7h0m-23 0h0m11 0h0m-1 3h0m-3 3h0m-9 0h0m11 1h0m-7 1h0m3 1h0m-1 3h0m-2 1h0m19 5h0m-23 2h0m-1 6h0m19 0h0m2 2h0m2 5h0m-2 0h0m5 1h0m-23 4h0m26 4h0m-6 8h0m-13 7h0m-6 0h0m14 2h0m-18 4h0m2 3h0m20 4h0m-22 3h0m1 1h0m26 1h0m-20 8h0m-6 8h0m13 9h0m7 3h0m-19 1h0m25 4h0m-18 2h0m16 1h0m3 3h0m-1 0h0m0 2h0m-10 3h0m3 1h0m-13 3h0m22 6h0m-10 5h0m2 21h0m4 2h0m-9 0h0m8 2h0m-23 4h0m19 1h0m-13 2h0m-6 22h0m20 0h0m-18 5h0m13 1h0m2 4h0m37-533h0m-5 0h0m-7 4h0m1 4h0m12 3h0m-10 2h0m10 2h0m-6 2h0m-7 5h0m16 1h0m-12 5h0m11 1h0m-8 1h0m-18 10h0m4 5h0m-2 1h0m6 1h0m-6 7h0m8 0h0m-1 1h0m-7 1h0m6 11h0m2 2h0m-10 1h0m14 10h0m6 1h0m-6 0h0m-15 3h0m21 3h0m-6 7h0m1 14h0m-9 10h0m13 15h0m-4 1h0m3 9h0m-7 5h0m-12 8h0m27 1h0m-15 1h0m-4 0h0m2 3h0m-7 3h0m9 3h0m-9 6h0m0 6h0m13 23h0m-2 1h0m-6 2h0m-4 4h0m5 8h0m-9 6h0m26 5h0m-27 0h0m22 11h0m0 6h0m-22 5h0m27 22h0m-18 2h0m-5 0h0m11 12h0m7 13h0m-9 0h0m12 1h0m-22 4h0m6 1h0m7 0h0m-15 2h0m24 5h0m-25 9h0m8 4h0m12 11h0m-18 6h0m8 1h0m-2 0h0m21 1h0m-4 1h0m-5 2h0m-6 2h0m-6 1h0m12 3h0m-19 2h0m18 5h0m3 2h0m-6 10h0m-11 4h0m9 0h0m5 4h0m-18 1h0m-1 2h0m23 9h0m-3 3h0m-6 9h0m-5 10h0m13 5h0m1 3h0m-3 1h0m2 4h0m5 0h0m-24 2h0m14 5h0m-8 1h0m-1 1h0m-6 3h0m24 7h0m-7 1h0m-2 0h0m-4 3h0m13 0h0m-2 2h0m5 4h0m-8 2h0m7 3h0m-20 1h0m-5 1h0m19 0h0m-12 1h0m12 2h0m-17 1h0m12 1h0m12 1h0m-14 2h0m11 2h0m-6 1h0m1 0h0m-17 3h0m10 1h0m-13 4h0m15 4h0m2 1h0m-8 6h0m17 5h0m-27 3h0m29 1h0m-6 3h0m-17 5h0m14 13h0m-2 82h0m16-608h0m17 18h0m-21 2h0m2 3h0m18 6h0m-14 19h0m8 6h0m-1 0h0m5 2h0m1 20h0m-6 0h0m-8 3h0m14 4h0m-19 10h0m20 12h0m8 6h0m-26 2h0m26 3h0m-13 0h0m4 2h0m5 7h0m-13 10h0m-10 10h0m8 8h0m-2 0h0m9 24h0m-14 0h0m11 3h0m-12 0h0m0 0h0m10 1h0m11 8h0m-9 5h0m5 1h0m-11 5h0m15 13h0m-21 1h0m6 4h0m14 3h0m-15 2h0m-1 1h0m10 3h0m-10 3h0m0 9h0m1 5h0m-5 4h0m18 18h0m6 1h0m4 2h0m-25 3h0m-2 3h0m17 3h0m-2 11h0m-12 17h0m4 0h0m-7 8h0m25 0h0m-10 0h0m6 1h0m-5 12h0m2 7h0m1 1h0m-9 15h0m-1 6h0m13 0h0m-4 0h0m-10 2h0m-7 1h0m23 1h0m-21 5h0m7 4h0m17 8h0m-5 7h0m-11 3h0m-5 0h0m16 6h0m-1 4h0m0 1h0m-10 3h0m-6 1h0m3 0h0m-7 3h0m11 2h0m14 0h0m-27 0h0m21 2h0m-5 3h0m6 0h0m4 9h0m-8 4h0m-6 1h0m14 1h0m-1 8h0m-23 3h0m2 4h0m8 0h0m-8 4h0m-4 7h0m23 4h0m-5 3h0m4 1h0m-1 0h0m7 8h0m0 1h0m-7 0h0m-11 0h0m-7 1h0m17 0h0m-7 7h0m-2 2h0m3 0h0m4 3h0m-4 1h0m9 6h0m-8 1h0m3 1h0m-9 9h0m-2 6h0m3 7h0m-2 2h0m21-510h0m2 13h0m12 36h0m-11 1h0m10 9h0m7 9h0m1 3h0m-21 1h0m2 5h0m27 0h0m-26 13h0m22 3h0m-18 1h0m14 12h0m-3 3h0m4 5h0m-15 1h0m19 20h0m-15 6h0m7 3h0m-9 2h0m-6 5h0m22 15h0m-12 1h0m-2 0h0m16 7h0m-2 4h0m1 10h0m-10 2h0m7 1h0m-22 2h0m13 5h0m-11 10h0m25 6h0m-9 3h0m0 1h0m6 14h0m-22 7h0m3 1h0m13 14h0m-14 16h0m-1 0h0m6 3h0m-9 2h0m1 23h0m24 4h0m-7 6h0m-7 0h0m-2 0h0m8 4h0m11 0h0m-10 1h0m-6 6h0m-3 3h0m9 0h0m2 2h0m7 7h0m-16 3h0m-12 5h0m22 1h0m2 6h0m-7 4h0m-16 2h0m1 4h0m20 0h0m1 13h0m-18 6h0m17 14h0m7 2h0m-23 7h0m5 16h0m-11 4h0m2 7h0m8 4h0m-5 1h0m3 0h0m-5 13h0m2 3h0m16 1h0m2 3h0m-23 9h0m5 5h0m21 0h0m-2 15h0m-10 8h0m9 2h0m0 36h0m-17 3h0m26-495h0m19 15h0m0 9h0m-5 8h0m9 26h0m-21 0h0m7 31h0m-10 9h0m2 2h0m26 2h0m-5 4h0m-21 1h0m-1 8h0m18 2h0m-11 2h0m4 1h0m0 1h0m-4 2h0m11 4h0m0 1h0m-6 3h0m11 6h0m-1 1h0m-11 5h0m15 4h0m-7 1h0m-17 7h0m17 6h0m-19 5h0m13 4h0m-12 2h0m25 1h0m-17 8h0m10 3h0m3 12h0m-22 5h0m12 15h0m-4 8h0m3 2h0m-6 4h0m7 13h0m10 2h0m-2 3h0m-4 3h0m0 8h0m-3 9h0m-1 3h0m10 2h0m-24 8h0m18 2h0m-10 2h0m6 3h0m-11 13h0m14 31h0m-15 6h0m0 18h0m15 1h0m5 3h0m-6 2h0m-3 0h0m12 7h0m-21 14h0m19 3h0m-15 47h0m1 0h0m-4 12h0m23 2h0m19-390h0m-10 30h0m-6 3h0m3 2h0m22 7h0m-14 4h0m-1 2h0m-6 7h0m18 3h0m-18 3h0m6 2h0m-10 2h0m15 3h0m12 3h0m-28 0h0m3 1h0m16 6h0m0 2h0m-18 0h0m20 3h0m-9 3h0m-6 4h0m-4 1h0m21 8h0m4 13h0m-19 5h0m-4 1h0m-2 4h0m15 6h0m-8 3h0m11 1h0m2 4h0m-9 6h0m5 2h0m-16 2h0m19 7h0m5 4h0m-2 1h0m-3 4h0m-11 0h0m5 1h0m-4 1h0m-4 1h0m0 2h0m21 0h0m-3 2h0m4 4h0m-3 1h0m3 2h0m-18 6h0m-3 2h0m10 1h0m-5 12h0m8 1h0m6 2h0m-4 1h0m-2 10h0m-16 3h0m0 4h0m14 1h0m-18 8h0m12 2h0m5 3h0m-14 4h0m5 9h0m8 24h0m-1 9h0m-13 1h0m2 4h0m3 4h0m5 4h0m21-220h0m-2 23h0m5 29h0m-6 10h0m7 2h0m0 9h0m15 3h0m-22 1h0m19 19h0m-20 1h0m0 1h0m28 3h0m-25 1h0m25 5h0m-26 3h0m21 2h0m-9 2h0m5 3h0m-19 4h0m17 35h0m-12 26h0m38-243h0m-12 266h0" stroke="#56B4FB" stroke-width="20"/>
<path d="M728 7544h0m9 15h0m10 6h0m-13 9h0m36-40h0m-16 16h0m1 16h0m4 2h0m16 6h0m-7 12h0m13-48h0m0 0h0m4 6h0m2 2h0m3 0h0m8 4h0m-15 0h0m23 7h0m-14 1h0m17 2h0m-25 5h0m-2 0h0m5 4h0m16 0h0m-7 3h0m3 9h0m-17 6h0m0 7h0m35-50h0m3 5h0m-3 2h0m18 0h0m-17 24h0m-6 7h0m28-3h0m1136-801h0m0 12h0m6 8h0m-2 1h0" stroke="#5FD4CA" stroke-width="20"/>
<path d="M948 7507h0m-12 33h0m53-101h0m-6 5h0m3 20h0m-8 4h0m-7 1h0m-7 4h0m11 7h0m12 2h0m-11 5h0m-12 4h0m15 7h0m-2 2h0m9 5h0m-22 6h0m17 3h0m-13 1h0m20 2h0m-7 4h0m-4 7h0m5 2h0m-7 0h0m-3 2h0m-6 2h0m-3 1h0m22 6h0m3 8h0m-7 17h0m-2 2h0m10 5h0m-1 4h0m-17 5h0m4 6h0m-6 1h0m12 0h0m-3 10h0m-14 11h0m5 1h0m19 1h0m-20 3h0m31-211h0m13 13h0m6 17h0m-24 3h0m12 12h0m-7 22h0m-2 11h0m0 3h0m-6 7h0m20 2h0m-11 3h0m3 1h0m-13 3h0m7 2h0m5 2h0m9 1h0m3 3h0m-12 7h0m-4 0h0m-5 6h0m-2 2h0m19 3h0m-2 8h0m-9 4h0m2 6h0m-5 1h0m-3 3h0m1 13h0m7 5h0m16 4h0m-2 8h0m-11 4h0m-10 2h0m16 5h0m-2 6h0m10 2h0m-3 0h0m-16 3h0m8 2h0m-13 1h0m3 3h0m8 1h0m-6 8h0m18 2h0m-10 3h0m6 2h0m-5 6h0m9 6h0m0 2h0m-14 0h0m-2 12h0m34-255h0m11 4h0m-12 11h0m14 4h0m-13 9h0m8 1h0m-20 1h0m26 10h0m-10 6h0m-3 6h0m-12 4h0m21 21h0m-12 13h0m1 2h0m10 23h0m-18 4h0m2 15h0m21 1h0m0 1h0m-18 39h0m-11 15h0m17 11h0m12 7h0m-8 1h0m-1 3h0m1 1h0m-9 1h0m-8 5h0m1 2h0m7 0h0m15 4h0m-10 7h0m1 1h0m-16 16h0m4 11h0m-6 6h0m27 27h0m6-277h0m20 4h0m0 4h0m-11 5h0m-2 10h0m3 0h0m4 3h0m-7 4h0m-4 0h0m13 6h0m-18 3h0m17 5h0m8 28h0m-22 3h0m-1 18h0m19 0h0m3 0h0m-9 2h0m4 3h0m1 4h0m-4 5h0m-12 5h0m21 5h0m-13 4h0m-7 5h0m1 2h0m4 1h0m18 6h0m-5 6h0m-6 2h0m-17 1h0m24 9h0m-22 9h0m24 29h0m2 16h0m-25 7h0m3 13h0m-6 11h0m27 2h0m-6 9h0m3 37h0m34-311h0m-4 1h0m1 20h0m-25 1h0m27 14h0m-19 3h0m1 3h0m13 1h0m-3 10h0m-7 5h0m8 6h0m-18 10h0m2 4h0m16 1h0m6 11h0m-9 26h0m-1 13h0m-4 2h0m10 9h0m-12 1h0m8 3h0m-15 6h0m22 7h0m-2 4h0m-15 12h0m19 13h0m-16 2h0m13 2h0m-15 14h0m11 5h0m-19 1h0m15 8h0m3 3h0m3 9h0m-13 4h0m15 3h0m-24 1h0m9 1h0m15 5h0m-3 1h0m-7 5h0m1 9h0m-8 5h0m42-277h0m-6 24h0m10 16h0m-16 3h0m7 1h0m2 9h0m-7 0h0m-7 2h0m22 5h0m4 4h0m-17 5h0m4 2h0m-6 7h0m12 9h0m4 24h0m-12 16h0m1 6h0m12 7h0m-13 12h0m-1 5h0m7 4h0m-1 2h0m0 18h0m-8 2h0m11 2h0m2 17h0m-22 1h0m7 2h0m15 10h0m-5 9h0m-16 7h0m5 5h0m-2 0h0m0 10h0m7 4h0m0 1h0m-10 2h0m2 2h0m6 1h0m-8 1h0m22 5h0m-20 7h0m-1 5h0m16 1h0m-5 5h0m-2 11h0m-1 4h0m11 1h0m-1 3h0m33-279h0m-7 0h0m5 31h0m6 17h0m-27 3h0m7 9h0m19 4h0m-19 0h0m-4 2h0m7 7h0m-10 19h0m18 8h0m2 6h0m-1 1h0m5 8h0m-14 2h0m9 0h0m-6 5h0m-4 12h0m7 7h0m-16 7h0m17 7h0m-11 1h0m20 1h0m-20 4h0m1 6h0m14 6h0m1 33h0m-14 6h0m17 1h0m-18 2h0m-6 0h0m13 34h0m-2 15h0m-12 18h0m21 22h0m6 9h0m28-343h0m1 4h0m-18 1h0m7 23h0m-5 0h0m3 2h0m-13 2h0m6 9h0m14 3h0m-12 1h0m15 2h0m-21 0h0m3 1h0m7 4h0m10 1h0m-1 0h0m-4 2h0m-5 2h0m2 1h0m-4 20h0m-6 13h0m21 4h0m-11 3h0m-9 1h0m15 3h0m-17 0h0m24 9h0m0 2h0m-17 13h0m-8 5h0m7 2h0m1 3h0m0 5h0m-7 0h0m7 7h0m14 4h0m-7 4h0m3 3h0m-20 1h0m14 3h0m-1 1h0m-11 8h0m19 9h0m-4 29h0m-12 0h0m8 2h0m-6 3h0m-5 0h0m2 1h0m10 4h0m-9 10h0m9 1h0m-1 6h0m-1 9h0m9 14h0m-21 3h0m6 1h0m-3 5h0m0 1h0m16 15h0m-8 5h0m-5 1h0m0 8h0m0 7h0m18 18h0m13-341h0m2 8h0m18 3h0m-27 4h0m26 24h0m-20 7h0m8 5h0m-8 6h0m20 11h0m-7 1h0m-7 1h0m-14 0h0m0 2h0m7 1h0m1 10h0m10 11h0m-16 3h0m21 2h0m-2 15h0m-10 5h0m14 2h0m-17 12h0m9 3h0m-9 7h0m-3 1h0m-5 2h0m19 0h0m-17 12h0m25 12h0m-6 1h0m-3 4h0m1 1h0m3 0h0m-19 0h0m17 13h0m-3 1h0m-6 2h0m14 16h0m-18 6h0m3 4h0m16 9h0m-20 17h0m-6 2h0m3 0h0m3 2h0m18 18h0m-17 15h0m13 6h0m-4 20h0m-5 8h0m6 54h0m42-1404h0m-15 2h0m9 8h0m-5 2h0m9 9h0m-9 15h0m7 22h0m-13 1007h0m0 32h0m6 9h0m-4 11h0m14 4h0m-17 2h0m5 9h0m8 5h0m-17 8h0m22 15h0m-5 8h0m-5 11h0m-4 4h0m5 17h0m-12 15h0m16 11h0m-17 1h0m8 1h0m12 5h0m-2 15h0m-18 1h0m-2 1h0m-1 0h0m13 1h0m-1 3h0m10 2h0m-4 10h0m3 18h0m-5 2h0m-19 4h0m28 7h0m-28 1h0m6 2h0m-3 6h0m18 6h0m-11 0h0m15 44h0m17-1432h0m-2 29h0m16 12h0m-4 28h0m-17 1h0m15 5h0m-3 6h0m-14 8h0m17 1h0m5 2h0m-18 4h0m18 4h0m-4 2h0m-3 31h0m9 5h0m-12 2h0m2 16h0m9 7h0m-24 1h0m-3 1019h0m25 10h0m4 23h0m-15 9h0m4 31h0m-2 18h0m6 1h0m-10 13h0m0 2h0m1 5h0m10 11h0m-1 15h0m-1 9h0m-1 58h0m-10 1h0m18 0h0m-24 2h0m1 4h0m11 1h0m-6 26h0m2 6h0m42-1467h0m-9 12h0m13 42h0m-15 23h0m-13 5h0m6 11h0m7 7h0m-7 1h0m11 17h0m12 3h0m-10 4h0m-6 2h0m-11 5h0m10 1h0m-12 5h0m17 5h0m10 5h0m-5 10h0m-1 3h0m-3 22h0m1 2h0m-7 5h0m-1 1h0m3 2h0m-3 1h0m-2 1h0m9 0h0m-13 0h0m19 3h0m-11 1h0m-7 1h0m16 10h0m7 4h0m-16 2h0m2 9h0m3 68h0m-18 967h0m13 9h0m12 10h0m1 15h0m-13 14h0m-1 21h0m15 11h0m-25 2h0m-2 6h0m9 6h0m-1 2h0m9 8h0m-5 0h0m-11 6h0m3 1h0m13 6h0m2 4h0m-12 0h0m17 0h0m-9 3h0m11 4h0m-20 0h0m-2 3h0m4 14h0m-4 0h0m3 11h0m1 18h0m18 7h0m21-1507h0m3 47h0m-15 3h0m22 3h0m-17 3h0m-2 2h0m13 2h0m-8 3h0m-10 6h0m23 2h0m-2 25h0m-19 12h0m15 7h0m8 10h0m-24 7h0m4 4h0m15 14h0m-23 1h0m27 4h0m-24 5h0m15 1h0m10 18h0m-25 0h0m21 6h0m-3 7h0m-17 2h0m24 0h0m-28 16h0m11 0h0m-7 0h0m-1 4h0m7 2h0m13 5h0m-8 8h0m6 13h0m-15 14h0m10 5h0m13 4h0m-22 9h0m6 8h0m-5 10h0m2 1h0m-8 3h0m-1 27h0m25 13h0m0 47h0m-11 18h0m10 68h0m4 8h0m-1 12h0m-3 20h0m-11 8h0m5 3h0m4 11h0m-2 9h0m1 3h0m6 3h0m-4 4h0m4 9h0m0 40h0m-25 717h0m11 33h0m0 6h0m-12 21h0m15 29h0m-15 2h0m18 9h0m-11 13h0m12 10h0m-10 0h0m-10 7h0m25 0h0m-11 40h0m19-1481h0m5 13h0m16 6h0m-7 6h0m10 5h0m-19 45h0m19 3h0m-1 3h0m-13 3h0m10 22h0m-24 1h0m27 12h0m-2 3h0m-25 7h0m29 14h0m-14 4h0m11 1h0m-3 16h0m-12 20h0m14 23h0m-21 5h0m14 5h0m-6 9h0m8 4h0m-16 0h0m9 43h0m12 1h0m-4 7h0m-2 2h0m5 1h0m-13 1h0m15 5h0m-5 0h0m4 9h0m-5 2h0m8 0h0m-9 9h0m-1 1h0m0 6h0m7 5h0m-1 4h0m1 11h0m-11 0h0m14 18h0m-11 6h0m-7 7h0m15 6h0m1 9h0m-19 3h0m12 2h0m2 10h0m-8 2h0m-8 4h0m13 1h0m-8 4h0m5 11h0m3 0h0m7 3h0m-23 1h0m8 3h0m-8 1h0m5 9h0m-5 6h0m25 6h0m-1 2h0m-6 9h0m9 1h0m-5 1h0m-18 5h0m8 5h0m4 17h0m7 2h0m-14 6h0m5 2h0m-13 3h0m6 4h0m-9 1h0m23 1h0m-22 13h0m11 2h0m-10 5h0m10 7h0m-5 2h0m-5 2h0m5 9h0m4 7h0m0 9h0m16 5h0m-27 4h0m7 1h0m9 26h0m-12 2h0m6 1h0m1 768h0m-4 12h0m-1 10h0m1 13h0m34-1391h0m1 2h0m13 6h0m-12 8h0m-9 1h0m7 3h0m-4 6h0m-3 1h0m12 3h0m1 0h0m-1 2h0m4 9h0m-14 6h0m16 8h0m-1 2h0m3 10h0m-11 10h0m10 0h0m-18 2h0m14 0h0m-10 0h0m11 8h0m0 21h0m-18 8h0m20 19h0m-21 3h0m24 7h0m-25 4h0m28 2h0m-24 5h0m1 9h0m10 1h0m-1 30h0m-5 6h0m-1 0h0m-5 7h0m4 4h0m-7 1h0m29 1h0m-24 12h0m16 6h0m-19 2h0m18 1h0m7 2h0m-7 1h0m-5 4h0m14 3h0m-14 4h0m3 5h0m-10 8h0m-3 16h0m21 1h0m-2 0h0m-10 3h0m10 1h0m-24 4h0m24 6h0m-5 1h0m-13 10h0m-4 5h0m4 6h0m20 2h0m-5 0h0m-4 8h0m7 1h0m-8 2h0m-14 6h0m12 3h0m10 6h0m-9 4h0m12 0h0m-15 1h0m-8 0h0m-1 1h0m16 4h0m7 1h0m-3 1h0m-15 14h0m20 2h0m-13 2h0m11 2h0m-23 1h0m5 2h0m18 7h0m-15 7h0m4 5h0m-15 3h0m14 0h0m8 1h0m4 0h0m-19 3h0m2 0h0m-9 7h0m3 0h0m0 2h0m3 0h0m11 7h0m-12 3h0m6 6h0m3 4h0m4 2h0m-9 6h0m-1 3h0m7 0h0m9 3h0m-6 5h0m1 0h0m-11 17h0m-2 2h0m2 0h0m16 3h0m-10 31h0m-9 1h0m-3 7h0m6 3h0m15 8h0m-2 3h0m-21 14h0m16 7h0m5 1h0m-3 12h0m-5 2h0m-13 7h0m22 1h0m0 2h0m-1 2h0m-21 4h0m4 6h0m-1 15h0m14 13h0m37-617h0m-5 18h0m-9 13h0m9 13h0m-3 3h0m9 3h0m-18 21h0m-2 6h0m7 17h0m-2 1h0m2 2h0m2 7h0m7 11h0m-19 1h0m10 17h0m-3 21h0m13 3h0m6 11h0m-2 2h0m-22 4h0m1 3h0m12 5h0m-2 3h0m14 3h0m-3 4h0m-9 8h0m-4 4h0m13 4h0m-23 27h0m22 0h0m-1 18h0m-13 0h0m3 23h0m11 2h0m-4 4h0m3 7h0m-9 4h0m-15 0h0m26 3h0m-3 10h0m-17 5h0m8 3h0m-3 10h0m6 0h0m-10 7h0m-7 3h0m16 6h0m-8 0h0m1 1h0m15 3h0m-1 7h0m-7 1h0m6 3h0m-5 3h0m-7 1h0m1 4h0m5 2h0m-8 0h0m-4 2h0m20 1h0m2 2h0m-1 1h0m-7 1h0m-3 1h0m-10 1h0m12 1h0m0 3h0m-5 2h0m5 1h0m7 0h0m-19 1h0m12 0h0m9 1h0m-16 1h0m11 0h0m5 0h0m-14 1h0m1 1h0m3 1h0m4 2h0m-6 2h0m13 6h0m-5 3h0m-5 0h0m0 1h0m-1 1h0m11 0h0m-20 1h0m4 2h0m2 0h0m8 3h0m4 8h0m-19 0h0m18 1h0m2 3h0m2 0h0m-18 2h0m-9 0h0m12 1h0m-8 1h0m21 3h0m-8 9h0m-17 3h0m22 1h0m-22 3h0m23 10h0m-11 1h0m-8 15h0m6 4h0m7 3h0m-13 25h0m7 2h0m13 6h0m-11 1h0m-2 4h0m-8 0h0m13 0h0m-1 3h0m-6 2h0m-9 4h0m16 3h0m12 3h0m-14 6h0m-8 2h0m22 0h0m-19 1h0m5 1h0m4 1h0m-12 1h0m-1 2h0m21 1h0m-15 2h0m1 1h0m-10 8h0m14 7h0m7 6h0m-11 1h0m2 1h0m-2 8h0m-13 13h0m7 3h0m4 5h0m14 6h0m-24 24h0m10 1h0m2 1h0m6 3h0m19-676h0m-5 67h0m14 5h0m-4 8h0m2 9h0m-14 9h0m12 4h0m16 1h0m-7 8h0m-16 7h0m3 3h0m-4 1h0m6 8h0m-2 4h0m12 3h0m-3 4h0m-2 0h0m-13 4h0m0 10h0m-2 12h0m14 20h0m0 4h0m-11 5h0m0 1h0m-4 3h0m27 2h0m-15 8h0m-5 8h0m4 4h0m-11 6h0m22 1h0m-8 4h0m-14 3h0m2 7h0m24 5h0m-21 27h0m21 5h0m-3 13h0m-17 3h0m5 1h0m15 6h0m-6 5h0m-10 3h0m15 22h0m-16 0h0m-8 0h0m1 13h0m5 3h0m8 4h0m-7 6h0m-6 11h0m16 2h0m-5 1h0m-5 17h0m-6 7h0m6 7h0m7 4h0m4 17h0m-10 2h0m-6 3h0m-1 1h0m2 1h0m17 5h0m2 8h0m-7 6h0m10 3h0m0 1h0m-21 4h0m-1 1h0m4 5h0m16 1h0m-20 3h0m5 7h0m6 2h0m-5 4h0m14 1h0m-15 2h0m15 3h0m-24 4h0m13 2h0m10 3h0m-2 1h0m-8 0h0m15 0h0m-18 6h0m3 1h0m-10 3h0m11 2h0m12 0h0m-20 5h0m0 4h0m-1 3h0m2 1h0m11 9h0m-6 0h0m14 4h0m-3 4h0m-14 12h0m6 5h0m0 13h0m7 8h0m0 8h0m6 2h0m-21 4h0m16 1h0m0 1h0m-1 2h0m-3 7h0m-15 2h0m14 4h0m6 0h0m4 4h0m-28 3h0m12 1h0m0 1h0m11 7h0m5 1h0m-16 3h0m17 6h0m-27 3h0m27 5h0m-28 6h0m15 0h0m1 3h0m9 9h0m-24 4h0m4 8h0m29-596h0m3 1h0m15 1h0m-17 2h0m-4 5h0m12 8h0m-7 9h0m6 5h0m10 4h0m-5 3h0m-8 6h0m-2 0h0m2 1h0m16 9h0m-13 11h0m16 3h0m-12 3h0m-2 16h0m-5 10h0m0 10h0m9 0h0m-10 4h0m17 2h0m-7 3h0m4 1h0m6 1h0m-23 6h0m13 14h0m2 2h0m-6 13h0m14 9h0m-12 3h0m7 1h0m-7 1h0m-8 1h0m10 11h0m-5 2h0m8 3h0m-20 11h0m20 3h0m-2 1h0m6 2h0m-26 8h0m22 1h0m-2 6h0m-14 0h0m22 10h0m1 9h0m-17 0h0m0 16h0m-6 32h0m16 0h0m-18 52h0m-4 0h0m6 5h0m-2 3h0m-4 3h0m16 7h0m-14 20h0m14 1h0m-15 9h0m15 16h0m-15 26h0m27 11h0m-6 1h0m-8 6h0m10 3h0m-4 6h0m-11 1h0m1 3h0m5 0h0m-4 0h0m-8 5h0m5 5h0m0 25h0m-1 3h0m3 4h0m13 5h0m-8 6h0m-11 3h0m20 0h0m0 4h0m-23 1h0m22 10h0m-23 4h0m1 1h0m8 1h0m17 2h0m3 8h0m-13 2h0m12 5h0m-2 11h0m-6 10h0m8 7h0m-4 5h0m-9 2h0m-12 9h0m20 2h0m-3 2h0m-13 0h0m29-589h0m-1 7h0m11 1h0m-10 8h0m-4 1h0m16 12h0m9 1h0m1 5h0m-23 1h0m24 3h0m-10 5h0m-6 3h0m-10 1h0m10 4h0m2 0h0m-1 1h0m-1 0h0m14 1h0m-2 0h0m-2 0h0m-2 2h0m6 1h0m2 0h0m-10 4h0m-6 1h0m-12 5h0m2 1h0m2 0h0m16 3h0m5 0h0m-24 1h0m-2 2h0m14 1h0m-4 4h0m-5 1h0m6 3h0m-8 3h0m21 1h0m-19 1h0m13 3h0m-6 5h0m4 1h0m-3 0h0m5 1h0m3 0h0m-2 4h0m-2 1h0m-16 3h0m21 7h0m0 2h0m2 10h0m-22 6h0m11 0h0m2 1h0m-2 1h0m-3 1h0m4 1h0m-12 0h0m24 3h0m-14 1h0m17 2h0m-21 1h0m21 0h0m-9 1h0m-4 5h0m6 6h0m-22 2h0m17 0h0m-11 3h0m12 1h0m1 2h0m-2 1h0m7 6h0m-19 3h0m1 0h0m21 1h0m-20 1h0m-2 0h0m13 6h0m5 0h0m2 7h0m-8 3h0m-1 0h0m8 0h0m-6 2h0m4 1h0m-11 4h0m-11 3h0m1 5h0m1 12h0m25 1h0m2 4h0m-13 16h0m8 4h0m3 6h0m-12 0h0m-6 1h0m11 6h0m-1 1h0m6 5h0m-18 14h0m16 6h0m6 6h0m-5 30h0m0 20h0m-19 100h0m24 39h0m-21 3h0m-5 4h0m24 7h0m-24 2h0m1 5h0m5 16h0m0 13h0m20 9h0m-25 1h0m16 4h0m5 6h0m-13 4h0m4 3h0m-6 11h0m6 3h0m-10 3h0m6 3h0m-4 20h0m18 2h0m-11 2h0m16-584h0m10 3h0m-4 4h0m5 7h0m-8 2h0m12 1h0m-4 14h0m-3 2h0m16 6h0m-10 7h0m-5 1h0m-3 1h0m17 3h0m-6 11h0m-3 4h0m-9 2h0m2 4h0m-2 2h0m8 9h0m-5 16h0m12 1h0m8 1h0m-9 4h0m-1 3h0m3 3h0m-6 0h0m-12 5h0m10 1h0m10 0h0m2 1h0m-18 0h0m17 3h0m-25 12h0m9 7h0m-2 1h0m-4 4h0m11 1h0m-2 2h0m17 1h0m-20 1h0m15 1h0m-2 9h0m-17 2h0m18 14h0m-15 4h0m-6 0h0m22 5h0m-22 21h0m24 4h0m-9 2h0m9 3h0m-25 1h0m-1 3h0m26 0h0m-8 1h0m-7 1h0m5 16h0m-4 0h0m-1 5h0m10 0h0m-16 3h0m23 6h0m-14 4h0m3 0h0m-16 15h0m28 11h0m-21 9h0m5 24h0m10 57h0m5 5h0m-25 85h0m24 18h0m-14 0h0m12 23h0m-25 0h0m18 12h0m-5 2h0m-2 6h0m16 15h0m-22 2h0m8 7h0m-2 1h0m-10 18h0m9 11h0m41-586h0m-3 9h0m-14 15h0m18 5h0m-13 7h0m-5 8h0m1 2h0m13 43h0m7 26h0m0 18h0m-4 7h0m2 3h0m-1 0h0m2 12h0m-9 9h0m-15 2h0m5 3h0m8 7h0m6 4h0m-3 8h0m8 4h0m-5 0h0m-16 0h0m15 3h0m-6 4h0m17 1h0m-4 0h0m-16 7h0m-8 3h0m10 7h0m-5 19h0m2 11h0m19 15h0m-1 1h0m3 2h0m-2 2h0m-17 11h0m9 13h0m-18 0h0m2 0h0m10 5h0m14 2h0m-26 0h0m20 3h0m7 3h0m-21 2h0m1 14h0m-4 7h0m4 9h0m0 1h0m14 1h0m-3 9h0m8 12h0m-16 5h0m-1 2h0m14 8h0m-8 8h0m-1 5h0m-9 108h0m1 8h0m-5 4h0m27 2h0m-21 10h0m10 6h0m-16 4h0m11 2h0m8 0h0m-6 18h0m-10 4h0m13 4h0m4 0h0m-5 2h0m11 3h0m-5 24h0m4 125h0m14-709h0m2 15h0m5 4h0m-18 3h0m9 6h0m1 2h0m-7 16h0m26 10h0m-12 12h0m9 1h0m-23 2h0m17 3h0m-1 3h0m-11 5h0m9 2h0m11 28h0m-13 3h0m5 1h0m-20 3h0m15 8h0m-1 6h0m-11 3h0m2 6h0m2 8h0m2 1h0m5 0h0m-6 4h0m9 1h0m6 1h0m-8 1h0m-7 4h0m21 0h0m-12 1h0m-8 3h0m15 1h0m-7 0h0m11 4h0m-18 2h0m1 4h0m-3 0h0m-8 12h0m9 2h0m7 4h0m-15 10h0m2 5h0m8 10h0m6 12h0m0 5h0m-12 11h0m11 5h0m5 4h0m-13 11h0m8 15h0m-3 12h0m-5 8h0m8 5h0m10 0h0m-11 16h0m-1 2h0m14 10h0m-15 2h0m-8 1h0m-3 15h0m14 6h0m-14 6h0m1 3h0m2 0h0m16 5h0m-18 3h0m14 1h0m6 6h0m-5 1h0m-16 0h0m2 7h0m-1 2h0m18 0h0m-5 2h0m-2 4h0m10 4h0m3 2h0m-22 0h0m19 2h0m2 6h0m1 2h0m-11 5h0m6 44h0m7 10h0m-17 21h0m7 12h0m-1 7h0m8 2h0m-14 19h0m10 1h0m1 2h0m-8 0h0m1 8h0m8 2h0m-13 4h0m12 7h0m-13 0h0m-3 4h0m13 8h0m3 2h0m6 23h0m-8 30h0m0 6h0m2 6h0m-22 3h0m4 16h0m6 6h0m0 3h0m0 9h0m15 13h0m1 0h0m1 3h0m-7 0h0m-2 2h0m0 19h0m-19 0h0m4 5h0m22 2h0m-5 0h0m-3 15h0m5 3h0m34-699h0m-22 2h0m-5 6h0m4 14h0m-2 18h0m26 9h0m-26 6h0m21 5h0m-2 1h0m-8 10h0m-4 5h0m4 20h0m3 1h0m-7 6h0m10 0h0m-14 6h0m12 7h0m-6 13h0m16 19h0m-25 3h0m24 0h0m0 6h0m-7 10h0m-19 8h0m12 6h0m8 1h0m-17 0h0m5 5h0m-7 7h0m25 27h0m1 5h0m-6 5h0m8 4h0m-29 1h0m27 9h0m-11 0h0m-15 3h0m26 6h0m-19 3h0m10 2h0m-15 4h0m7 24h0m17 0h0m-5 3h0m-16 7h0m2 14h0m-6 1h0m26 17h0m-4 6h0m-8 1h0m4 5h0m-20 0h0m18 3h0m-3 9h0m-3 2h0m14 5h0m-11 5h0m9 2h0m-14 3h0m3 4h0m8 2h0m3 5h0m-2 9h0m-9 9h0m10 10h0m-16 6h0m-2 2h0m8 16h0m14 3h0m-2 0h0m-10 4h0m10 0h0m-19 2h0m17 1h0m-10 3h0m13 3h0m-9 26h0m-10 2h0m-5 13h0m26 14h0m-23 8h0m23 13h0m-10 20h0m9 10h0m1 6h0m-24 14h0m14 4h0m-9 1h0m8 5h0m1 1h0m-17 3h0m12 1h0m12 2h0m-14 4h0m-9 7h0m22 5h0m-11 3h0m16 9h0m-20 0h0m14 1h0m-14 1h0m1 2h0m0 7h0m-7 10h0m4 12h0m-7 2h0m9 1h0m-9 2h0m28 0h0m-13 6h0m3 3h0m-6 9h0m13 0h0m-11 10h0m-14 12h0m8 2h0m17 6h0m2 3h0m-12 9h0m10 8h0m-16 3h0m19 20h0m-5 13h0m8-711h0m12 77h0m4 11h0m-13 16h0m8 4h0m10 2h0m-12 6h0m4 1h0m-9 2h0m10 5h0m-5 2h0m19 6h0m-12 26h0m1 0h0m-4 6h0m-14 8h0m18 3h0m-18 2h0m7 1h0m-4 1h0m-2 2h0m2 6h0m5 9h0m14 3h0m-20 15h0m15 6h0m-17 6h0m11 24h0m-9 4h0m2 11h0m10 3h0m10 2h0m-14 1h0m17 3h0m-22 5h0m9 1h0m11 1h0m-25 0h0m21 1h0m-5 2h0m2 2h0m-1 2h0m11 1h0m-15 1h0m15 2h0m-9 3h0m-17 3h0m17 1h0m3 0h0m-20 1h0m12 0h0m9 2h0m-11 2h0m11 1h0m-6 1h0m-6 0h0m-6 4h0m2 2h0m-4 6h0m4 1h0m6 3h0m2 6h0m-7 7h0m0 9h0m7 1h0m-15 4h0m21 3h0m-12 9h0m17 2h0m-12 2h0m12 2h0m3 4h0m-5 1h0m-19 1h0m12 2h0m-16 3h0m10 1h0m-8 0h0m6 3h0m15 0h0m-5 1h0m6 3h0m-12 1h0m-7 6h0m11 1h0m12 9h0m-16 3h0m10 4h0m5 2h0m-22 1h0m15 3h0m1 6h0m-5 11h0m-7 1h0m5 2h0m8 4h0m-6 5h0m3 8h0m-11 8h0m-1 12h0m-4 2h0m-2 4h0m10 6h0m6 3h0m-13 1h0m-5 0h0m24 1h0m-5 4h0m-17 2h0m0 5h0m4 7h0m2 10h0m9 6h0m9 9h0m-1 9h0m-17 1h0m19 1h0m-26 9h0m12 10h0m8 14h0m-7 13h0m-13 5h0m4 1h0m8 8h0m6 6h0m-8 3h0m17 13h0m-15 3h0m16 4h0m-22 2h0m-3 7h0m6 15h0m6 0h0m2 0h0m6 15h0m-18 2h0m15 2h0m-6 1h0m-13 7h0m21 5h0m3 0h0m-22 2h0m-3 4h0m16 6h0m32-610h0m-19 12h0m29 20h0m-13 3h0m-14 11h0m1 16h0m25 4h0m-23 0h0m3 23h0m19 3h0m-17 1h0m14 3h0m-14 7h0m13 1h0m-23 7h0m14 1h0m8 1h0m-20 3h0m23 7h0m-24 0h0m11 13h0m0 1h0m-5 0h0m20 5h0m-2 3h0m0 7h0m-2 1h0m-22 2h0m21 15h0m3 10h0m-24 3h0m22 5h0m-2 2h0m-17 2h0m4 1h0m-2 0h0m10 2h0m13 0h0m-18 4h0m7 3h0m-10 13h0m21 3h0m-7 1h0m5 1h0m-10 2h0m4 1h0m-17 1h0m22 1h0m-2 3h0m-1 5h0m-9 2h0m-10 1h0m4 1h0m13 1h0m-8 1h0m-4 0h0m-7 2h0m14 3h0m-1 1h0m10 0h0m-22 1h0m22 1h0m-13 6h0m2 1h0m-11 6h0m19 1h0m0 1h0m-3 1h0m4 1h0m-13 9h0m12 1h0m-12 2h0m18 3h0m-17 2h0m-7 4h0m-1 0h0m9 1h0m0 5h0m16 11h0m-10 2h0m8 9h0m-21 3h0m-3 1h0m23 4h0m-9 1h0m-10 1h0m11 1h0m-9 4h0m5 1h0m15 0h0m-26 3h0m12 0h0m3 2h0m0 1h0m12 9h0m-14 2h0m3 1h0m-5 12h0m-1 0h0m10 3h0m-12 4h0m5 2h0m-12 26h0m15 6h0m7 1h0m-22 8h0m3 5h0m13 1h0m-2 2h0m10 0h0m-2 2h0m-14 3h0m7 1h0m7 5h0m-8 1h0m1 2h0m5 1h0m1 3h0m-21 1h0m-3 4h0m22 5h0m-22 4h0m17 2h0m6 3h0m-6 2h0m5 3h0m-12 1h0m2 0h0m-3 0h0m8 1h0m1 5h0m-11 13h0m4 25h0m-5 1h0m11 8h0m6 9h0m-22 4h0m23 9h0m-11 11h0m11 3h0m-17 21h0m-5 22h0m11 0h0m-7 6h0m-2 2h0m6 3h0m-1 1h0m-7 4h0m14 2h0m-14 4h0m13 12h0m19-580h0m7 16h0m18 12h0m-21 3h0m21 1h0m-6 1h0m-11 3h0m-8 4h0m4 0h0m21 1h0m-2 4h0m-3 6h0m-6 9h0m-6 1h0m7 2h0m-12 1h0m2 10h0m9 8h0m-2 3h0m-2 4h0m13 1h0m-22 8h0m2 4h0m14 3h0m-7 4h0m-9 1h0m13 4h0m10 2h0m-25 15h0m14 4h0m11 2h0m-9 11h0m-1 0h0m7 1h0m-13 2h0m-5 3h0m15 2h0m-10 1h0m-9 3h0m22 15h0m-9 3h0m2 2h0m-2 9h0m-15 3h0m10 2h0m13 1h0m-23 0h0m0 2h0m1 8h0m23 0h0m-19 0h0m7 2h0m-1 0h0m-11 3h0m3 0h0m-4 2h0m25 1h0m-11 1h0m-13 1h0m3 1h0m-2 5h0m16 1h0m-2 4h0m-7 4h0m7 3h0m-8 2h0m13 2h0m-6 8h0m-3 1h0m11 2h0m-4 0h0m9 21h0m-14 7h0m-9 10h0m1 0h0m8 4h0m-13 4h0m28 17h0m-14 12h0m3 2h0m-7 13h0m15 2h0m-18 2h0m20 6h0m-28 0h0m2 10h0m0 11h0m12 1h0m8 1h0m0 3h0m0 3h0m-21 0h0m3 13h0m7 5h0m9 0h0m-10 5h0m14 0h0m-16 1h0m-1 2h0m9 9h0m8 2h0m-24 3h0m15 0h0m8 2h0m-12 0h0m5 0h0m-11 5h0m10 15h0m14 0h0m-27 2h0m14 2h0m-14 3h0m25 2h0m-24 1h0m16 1h0m6 16h0m-2 5h0m-4 2h0m-14 2h0m15 11h0m-10 11h0m18 11h0m-13 2h0m-14 2h0m6 8h0m6 1h0m-5 0h0m10 2h0m6 11h0m-17 2h0m-1 7h0m0 20h0m28-521h0m-4 14h0m16 3h0m-9 3h0m12 5h0m-18 28h0m-1 2h0m27 1h0m-25 20h0m-1 2h0m19 24h0m-19 2h0m6 13h0m-5 9h0m21 5h0m-16 16h0m-6 1h0m5 3h0m0 1h0m4 6h0m13 1h0m5 0h0m-3 3h0m-15 4h0m17 12h0m-14 2h0m6 9h0m2 4h0m0 0h0m-6 3h0m-9 4h0m10 2h0m4 3h0m5 0h0m1 5h0m-23 1h0m3 5h0m13 1h0m3 1h0m-22 2h0m20 0h0m6 0h0m-7 4h0m-16 1h0m-3 10h0m25 16h0m-18 3h0m14 3h0m0 3h0m-11 4h0m-3 8h0m21 0h0m-25 0h0m19 2h0m-17 5h0m-2 2h0m25 0h0m-26 0h0m23 1h0m-19 3h0m21 2h0m-8 7h0m2 3h0m-20 3h0m15 8h0m-15 9h0m8 13h0m20 1h0m-4 2h0m-15 5h0m8 1h0m-17 2h0m12 4h0m16 1h0m0 1h0m-18 1h0m-9 0h0m6 5h0m16 2h0m-18 2h0m11 3h0m-11 5h0m-2 4h0m5 3h0m-5 13h0m9 7h0m5 14h0m-2 4h0m-16 15h0m8 5h0m4 6h0m1 2h0m-9 1h0m7 5h0m1 1h0m8 16h0m-20 5h0m28 33h0m-26 1h0m28-406h0m27 34h0m-8 9h0m6 0h0m-25 8h0m22 1h0m-4 10h0m7 5h0m-14 7h0m14 2h0m-15 5h0m8 11h0m-13 2h0m9 3h0m-5 1h0m-8 0h0m28 8h0m-16 2h0m-12 5h0m12 8h0m-7 8h0m-1 4h0m1 1h0m-2 16h0m18 3h0m-1 11h0m-18 8h0m-3 6h0m18 0h0m6 8h0m1 4h0m-10 0h0m-15 3h0m20 3h0m-13 2h0m0 1h0m21 3h0m-26 2h0m16 0h0m0 17h0m-4 8h0m7 10h0m-18 1h0m9 0h0m0 12h0m7 7h0m-9 1h0m16 4h0m-11 7h0m-10 2h0m-5 3h0m14 0h0m3 3h0m-6 3h0m-8 2h0m9 6h0m6 4h0m-9 9h0m-8 51h0m25 8h0m-15 11h0m-7 8h0m28-356h0m7 7h0m-8 7h0m11 32h0m11 5h0m-23 0h0m4 1h0m5 11h0m15 0h0m-7 3h0m-1 2h0m1 0h0m-14 16h0m-3 6h0m25 1h0m-2 13h0m-1 5h0m-22 0h0m10 2h0m7 3h0m6 21h0m-22 2h0m7 2h0m11 1h0m-15 5h0m23 7h0m-11 19h0m9 8h0m-13 8h0m12 7h0m-3 3h0m-7 0h0m-12 1h0m14 1h0m-6 1h0m8 1h0m-5 10h0m-6 7h0m15 19h0m-10 5h0m9 6h0m22-213h0m-3 3h0m-4 17h0m-2 21h0m0 7h0m1 4h0m3 30h0m8 5h0m7 1h0m-4 3h0m-16 2h0m24 2h0m-20 4h0m8 2h0m8 3h0m-2 1h0m-1 1h0m3 1h0m2 2h0m-19 1h0m21 1h0m-15 7h0m15 4h0m-4 2h0m-9 0h0m-7 8h0m-6 1h0m0 3h0m19 1h0m6 8h0m-5 2h0m2 9h0m6 1h0m-27 2h0m12 3h0m15 3h0m0 2h0m-19 2h0m6 0h0m0 5h0m0 8h0m3 3h0m-13 1h0m1 3h0m3 0h0m17 3h0m-2 2h0m-21 2h0m-3 2h0m48-175h0m4 0h0m-7 1h0m-8 2h0m12 0h0m-19 7h0m3 0h0m9 2h0m6 2h0m-5 1h0m1 4h0m-2 23h0m-10 7h0m19 1h0m-8 6h0m1 1h0m6 2h0m-13 2h0m-6 0h0m24 2h0m-20 13h0m5 6h0m17 3h0m-19 5h0m9 7h0m5 16h0m-14 9h0m20 1h0m-23 3h0m10 4h0m0 1h0m0 7h0m-11 0h0m3 3h0m-6 4h0m18 1h0m-15 4h0m22 3h0m-5 3h0m-8 1h0m2 1h0m-9 1h0m-4 4h0m24 3h0m-13 0h0m-9 0h0m15 1h0m-19 0h0m4 1h0m15 0h0m0 2h0m-11 6h0m1 1h0m5 3h0m2 3h0m9 8h0m11-205h0m-3 25h0m5 13h0m2 31h0m14 0h0m-25 29h0m8 2h0m-3 3h0m7 2h0m-10 15h0m19 11h0m-9 2h0m-7 3h0m-4 2h0m7 1h0m4 0h0m3 2h0m2 4h0m-10 3h0m1 2h0m8 1h0m-4 6h0m-2 9h0m14 9h0m-24 12h0m41-108h0m-11 1h0m17 47h0" stroke="#53D374" stroke-width="20"/>
<path d="M890 6194h0m8 4h0m1 12h0m-7 5h0m-7 1h0m12 2h0m-11 1h0m-5 7h0m8 8h0m6 5h0m-4 24h0m1 18h0m-11 7h0m-6 11h0m5 10h0m-9 31h0m25 2h0m-6 11h0m-3 7h0m4 12h0m3 10h0m29-217h0m0 16h0m-7 21h0m13 3h0m-8 7h0m-11 1h0m19 4h0m-29 5h0m9 1h0m-5 11h0m13 2h0m8 8h0m-7 2h0m-5 4h0m4 3h0m1 4h0m-6 0h0m16 2h0m-6 0h0m6 2h0m-3 7h0m-14 1h0m11 7h0m-13 0h0m16 10h0m-21 5h0m1 0h0m-2 4h0m18 13h0m-16 6h0m2 1h0m16 3h0m-9 2h0m-10 1h0m-1 10h0m5 37h0m12 0h0m-12 15h0m21 15h0m-15 1h0m1 5h0m7 15h0m6 1h0m-2 10h0m1 9h0m19-285h0m2 5h0m5 9h0m6 11h0m-11 14h0m10 11h0m-12 1h0m5 12h0m-19 8h0m9 9h0m-2 2h0m-4 0h0m17 1h0m-7 9h0m-13 2h0m13 1h0m-12 1h0m2 2h0m23 13h0m-6 6h0m-15 12h0m21 4h0m-6 1h0m-8 0h0m6 1h0m1 8h0m6 7h0m-3 8h0m-13 3h0m-1 9h0m-5 6h0m6 4h0m7 1h0m-9 15h0m18 8h0m-10 2h0m5 6h0m7 2h0m-29 15h0m25 7h0m-22 2h0m4 3h0m19 0h0m-6 3h0m-2 4h0m11 3h0m-29 1h0m2 2h0m6 4h0m5 2h0m8 2h0m-17 3h0m22 6h0m-13 12h0m0 6h0m11 21h0m-10 10h0m38-302h0m7 24h0m-3 2h0m-15 9h0m-6 14h0m23 6h0m-15 5h0m6 6h0m-18 10h0m9 2h0m12 5h0m-12 12h0m1 3h0m11 10h0m-8 0h0m8 4h0m-14 26h0m0 6h0m4 3h0m-11 3h0m15 7h0m8 4h0m-12 13h0m13 1h0m4 3h0m-6 9h0m6 8h0m-22 8h0m-7 3h0m25 6h0m-10 2h0m12 5h0m-7 1h0m3 2h0m-19 1h0m6 6h0m19 4h0m-6 12h0m-23 13h0m26 0h0m-18 0h0m-1 2h0m15 9h0m0 3h0m-7 2h0m-7 0h0m9 3h0m12 5h0m-22 1h0m-4 22h0m25 1h0m-9 1h0m-10 8h0m44-334h0m-10 7h0m6 12h0m-9 3h0m12 5h0m-2 8h0m-15 4h0m18 4h0m1 12h0m-3 0h0m-6 5h0m-10 6h0m17 2h0m-18 7h0m24 2h0m0 3h0m-3 1h0m-3 8h0m5 1h0m-1 1h0m2 3h0m-13 2h0m-4 1h0m-10 3h0m0 11h0m14 6h0m5 4h0m-19 9h0m23 2h0m-20 7h0m0 0h0m19 3h0m-17 5h0m12 7h0m0 3h0m-6 14h0m13 7h0m-20 2h0m24 2h0m-29 5h0m3 4h0m0 7h0m3 35h0m10 1h0m0 0h0m12 2h0m-14 13h0m0 2h0m5 0h0m-13 5h0m13 2h0m2 1h0m-18 2h0m22 1h0m-21 10h0m14 2h0m9 6h0m-25 13h0m14 0h0m-6 2h0m10 2h0m-19 5h0m0 1h0m23 0h0m-4 13h0m-19 6h0m4 1h0m21 6h0m2 3h0m-15 4h0m10 0h0m-19 5h0m21 6h0m-11 5h0m1 4h0m0 1h0m17-343h0m27 1h0m-2 0h0m-20 2h0m2 2h0m-5 3h0m4 8h0m12 0h0m0 2h0m-13 1h0m21 13h0m-16 5h0m11 5h0m-22 1h0m4 2h0m9 11h0m-8 1h0m14 1h0m0 6h0m-12 13h0m2 1h0m9 7h0m8 3h0m-1 6h0m-19 10h0m-2 2h0m-5 6h0m17 1h0m-12 8h0m4 19h0m-8 4h0m10 7h0m-9 10h0m4 6h0m16 6h0m5 1h0m-27 21h0m17 12h0m2 2h0m4 2h0m5 4h0m-4 10h0m-10 14h0m10 2h0m-19 0h0m20 1h0m-18 0h0m9 7h0m-11 1h0m22 1h0m-18 0h0m-4 8h0m23 2h0m-13 18h0m7 0h0m1 5h0m-15 0h0m-4 3h0m3 2h0m2 3h0m20 10h0m-13 8h0m0 4h0m-7 2h0m-2 33h0m4 1h0m6 8h0m29-363h0m-4 12h0m14 3h0m-8 1h0m-7 15h0m5 1h0m-2 2h0m-3 2h0m18 1h0m-22 11h0m6 4h0m-8 3h0m12 2h0m-11 0h0m5 8h0m12 4h0m-5 3h0m5 10h0m-11 2h0m17 2h0m-28 18h0m27 5h0m-7 3h0m-4 9h0m2 2h0m-13 13h0m10 2h0m-3 6h0m12 5h0m-20 1h0m15 9h0m-4 1h0m12 20h0m-16 5h0m16 0h0m-24 1h0m18 5h0m-1 11h0m-4 3h0m-3 3h0m-6 1h0m-2 9h0m22 1h0m-25 1h0m21 3h0m-15 1h0m12 2h0m-3 1h0m10 4h0m-7 0h0m-9 7h0m-9 5h0m16 4h0m4 2h0m-4 5h0m-7 1h0m5 3h0m-7 1h0m-3 0h0m19 4h0m-4 2h0m-7 18h0m9 10h0m-20 5h0m25 5h0m-25 16h0m14 8h0m-6 2h0m-11 0h0m18 13h0m-9 3h0m10 2h0m5 2h0m5-346h0m1 10h0m11 52h0m-10 2h0m21 2h0m0 1h0m-9 1h0m-9 5h0m18 2h0m-11 0h0m0 13h0m17 1h0m-18 5h0m0 2h0m12 11h0m-8 2h0m-14 1h0m3 6h0m8 0h0m-11 2h0m-1 18h0m18 7h0m-10 11h0m-3 3h0m10 8h0m8 1h0m-1 8h0m1 1h0m-7 1h0m-13 0h0m17 8h0m9 2h0m-1 5h0m-12 1h0m-10 6h0m3 13h0m-9 0h0m6 2h0m-1 4h0m-3 9h0m26 4h0m-14 6h0m-8 4h0m1 0h0m4 1h0m2 1h0m-1 2h0m-10 2h0m5 4h0m5 11h0m14 2h0m-14 22h0m14 4h0m1 3h0m-3 1h0m-20 4h0m15 8h0m8 15h0m-12 9h0m-13 13h0m36-267h0m-3 13h0m6 4h0m-7 7h0m-2 8h0m11 9h0m-13 3h0m10 11h0m-5 9h0m16 26h0m-19 1h0m15 6h0m11 0h0m-10 6h0m-3 2h0m-12 4h0m1 4h0m1 6h0m0 6h0m12 26h0m-8 38h0m-4 19h0m-4 3h0m18 3h0m-9 17h0m23-211h0m12 45h0m-14 26h0m-1 24h0m6 28h0m2 12h0m-7 16h0" stroke="#C77DFF" stroke-width="20"/>
<path d="M558 7384h0m0 3h0m-3 4h0m9 16h0m-17 0h0m21 11h0m-1 4h0m7-14h0m74-103h0m-5 21h0m126-48h0m10 46h0m58-95h0m-8 119h0m26-144h0m122 59h0" stroke="#86BC26" stroke-width="20"/>
<path d="M446 6689h0m-26 17h0m14 8h0m17-19h0m26 4h0m-22 7h0m20 4h0m-24 1h0m14 2h0m-7 6h0" stroke="#EC706B" stroke-width="20"/>
<path d="M1149 6466h0m20 3h0m-4 1h0m-21 9h0m11 4h0m2 2h0m6 0h0m-2 3h0m-10 7h0m12 4h0m-2 16h0m26-49h0m-14 9h0m24 14h0m-27 4h0m22 8h0m5 3h0m-17 10h0" stroke="#FF62DC" stroke-width="20"/>
</g>
<g transform="scale(0.1)" fill="none" stroke-linecap="round">
<path d="M805 6881h0m-4 18h0m22-23h0m-1 2h0m0 2h0m-3 2h0m-7 4h0m18 1h0m-20 8h0m11 0h0m9 2h0m-7 0h0m-7 4h0m15 2h0m34 234h0m-2 4h0m-10 9h0m6 2h0m20-23h0m-5 2h0m23 9h0m-6 2h0m1 1h0m5 1h0m-11 2h0m4 1h0m-14 12h0m23 1h0m-3 1h0m-4 0h0m2 0h0m-17 10h0m24-38h0m6 19h0m45-108h0m-2 4h0m4 12h0m2 18h0m25-35h0m-11 0h0m0 3h0m-7 1h0m20 9h0m-11 3h0m-4 1h0m-3 1h0m10 0h0m13 2h0m-4 5h0m-2 6h0m-13 2h0m-4 0h0m35-28h0m-6 0h0m-4 0h0m2 5h0m3 1h0m-5 3h0m3 1h0m20 3h0m-14 4h0m15 2h0m-20 8h0m0 1h0m37-208h0m15 10h0m-19 4h0m17 11h0m5 3h0m-3 2h0m-21 1h0m2 2h0m11 3h0m-13 4h0m8 9h0m10 1h0m-16 2h0m25-19h0m1 5h0m0 5h0m22 643h0m-1 2h0m35-760h0m-1 10h0m0 252h0m-12 9h0m12 1h0m-12 4h0m-5 1h0m17 1h0m-14 2h0m-8 7h0m7 5h0m4 0h0m5 5h0m5 214h0m-24 1h0m19 2h0m-3 1h0m-12 0h0m-3 1h0m10 1h0m-7 2h0m1 241h0m-7 4h0m11 2h0m0 3h0m-9 9h0m-3 0h0m33-761h0m5 5h0m0 2h0m0 2h0m6 2h0m-14 0h0m24 6h0m-10 0h0m6 7h0m-6 4h0m-12 4h0m27 1h0m-11 7h0m-6 4h0m4 3h0m-4 0h0m5 7h0m-1 3h0m13 1h0m-1 7h0m-8 16h0m6 2h0m-4 164h0m3 1h0m-10 0h0m-11 2h0m2 3h0m4 0h0m9 1h0m2 3h0m3 1h0m-4 0h0m-8 14h0m-5 6h0m11 207h0m-12 2h0m8 4h0m-14 3h0m16 3h0m-14 13h0m37-454h0m-7 9h0m3 2h0m-4 5h0m9 1h0m2 2h0m-8 1h0m8 5h0m-12 8h0m19 0h0m0 3h0m-1 5h0m-17 2h0m4 3h0m18 3h0m3 4h0m-17 0h0m2 2h0m3 1h0m13 1h0m-3 2h0m-9 5h0m1 1h0m-8 2h0m7 5h0m14 16h0m-10 3h0m10 6h0m-28 95h0m21 419h0m3 4h0m-2 8h0m10-554h0m1 16h0m10 26h0m14 276h0m-11 9h0m-17 202h0m4 3h0m20 2h0m-18 1h0m3 5h0m18 2h0m-14 5h0m30-239h0m12 1h0m-11 7h0m-7 4h0m5 4h0m7 0h0m-1 2h0m-6 1h0m16 3h0m-25 3h0m18 1h0m35-368h0m3 11h0m-15 339h0m7 11h0m-17 1h0m0 0h0m9 1h0m30-402h0m-9 14h0m10 15h0m7 0h0m-1 2h0m-11 4h0m-1 14h0m-7 1h0m1 8h0m13 6h0m12 430h0m11-10h0m13 2h0m-1 2h0m-11 2h0m-9 2h0m12 5h0m17 0h0m-29 4h0m9 1h0m23-21h0m4 20h0m43-1146h0m-12 10h0m8 12h0m0 0h0m-3 0h0m10 4h0m-20 4h0m12 6h0m7 2h0m4 0h0m-6 3h0m2 12h0m-5 3h0m17-39h0m23 752h0m3 13h0m-9 8h0m2 6h0m0 0h0m5 11h0m0 1h0m28-641h0m-6 4h0m-9 0h0m7 2h0m-6 2h0m-7 3h0m6 3h0m17 5h0m-14 5h0m-12 570h0m6 11h0m0 1h0m1 13h0m-6 1h0m7 8h0m-1 2h0m47-638h0m-16 11h0m13 5h0m5 20h0m17-43h0m8 7h0m-6 6h0m1 6h0m10 4h0m-11 1h0m-11 10h0m11 5h0m-9 3h0m18 6h0m-20 5h0m8 18h0m2 20h0m5 1h0m-8 1h0m5 3h0m9 2h0m-9 5h0m-14 7h0m-2 3h0m24 5h0m1 2h0m-7 2h0m1 6h0m-3 1h0m6 7h0m1 0h0m-1 1h0m-6 0h0m6 1h0m-5 9h0m7 14h0m5-68h0m18 6h0m3 1h0m-2 1h0m4 4h0m-1 7h0m3 1h0m0 2h0m-1 3h0m-7 0h0m-12 9h0m15 0h0m-1 2h0m-17 0h0m1 2h0m20 1h0m-16 1h0m16 3h0m-20 3h0m16 1h0m7 7h0m-2 8h0m-22 7h0m6 7h0m-1 6h0m22 3h0m3-61h0m7 10h0m0 6h0m-1 5h0m2 8h0m-1 1h0m-5 7h0m-3 32h0m115-9h0m-1 0h0m0 0h0m-4 5h0m0 3h0m27-30h0m-7 4h0m-4 3h0m11 12h0m10 4h0m-27 12h0m25 8h0m57 199h0m-10 0h0m10 2h0m-6 7h0m12 2h0m-11 3h0m7 9h0m23-159h0m-7 5h0m5 4h0m-5 3h0m-10 131h0m1 5h0m0 8h0m34-161h0m8 0h0m-6 7h0m8 2h0m-15 11h0m13 1h0m4 1h0m7 1h0m-22 1h0m12 3h0m18-18h0m-1 4h0" stroke="#ffffff" stroke-width="18"/>
</g>
<g transform="scale(0.1)" fill="none" stroke-linecap="round">
<path d="M535 7111h0m0 4h0m32 4h0m14-30h0m-6 39h0m6 2h0m4 4h0m32-76h0m-1 13h0m4 73h0m-4 11h0m-14 15h0m28-119h0m57-98h0m-8 124h0m1 33h0m-2 28h0m-16 18h0m47-235h0m-7 34h0m-10 49h0m7 8h0m19 41h0m29-174h0m-16 2h0m-4 56h0m16 31h0m-10 10h0m5 87h0m26-224h0m-1 64h0m4 15h0m-10 44h0m6 50h0m3 34h0m0 1h0m2 10h0m-14 9h0m-4 5h0m24 30h0m6-279h0m22 100h0m3 140h0m-9 22h0m18-269h0m25 82h0m-2 19h0m-9 50h0m-16 6h0m1 48h0m7 39h0m6 43h0m-3 104h0m1 21h0m9 5h0m21-482h0m13 19h0m-22 68h0m2 11h0m-4 1h0m12 16h0m-12 9h0m-3 20h0m16 27h0m-7 54h0m-3 14h0m10 1h0m-3 103h0m16 4h0m-10 37h0m-16 53h0m10 0h0m14 58h0m17-436h0m-2 0h0m-11 9h0m12 42h0m-10 23h0m-2 137h0m2 2h0m6 29h0m-3 55h0m14 6h0m0 21h0m-16 39h0m4 71h0m4 53h0m26-600h0m19 24h0m-16 23h0m-3 1h0m-2 12h0m-4 19h0m27 47h0m-17 86h0m14 17h0m-16 48h0m10 30h0m-3 4h0m-16 1h0m27 16h0m-22 16h0m22 2h0m-20 22h0m-7 28h0m9 62h0m-6 1h0m5 23h0m-8 57h0m46-992h0m6 35h0m6 26h0m-19 395h0m-3 46h0m20 43h0m-8 55h0m3 1h0m-6 20h0m-10 14h0m2 63h0m8 5h0m8 10h0m-20 2h0m21 0h0m-13 4h0m13 5h0m-7 33h0m-14 18h0m18 19h0m-18 1h0m16 3h0m-17 5h0m19 6h0m-3 8h0m-12 35h0m-7 1h0m7 7h0m5 2h0m5 5h0m12 52h0m-16 5h0m-1 10h0m0 70h0m-1 4h0m1 7h0m-8 3h0m14 4h0m23-1076h0m8 10h0m5 38h0m1 77h0m-10 76h0m-4 10h0m12 264h0m-3 26h0m8 81h0m0 30h0m-20 30h0m-3 14h0m18 9h0m-1 21h0m-14 49h0m6 3h0m3 52h0m-6 80h0m-4 104h0m3 67h0m-6 10h0m24 57h0m-13 6h0m33-1097h0m-15 28h0m12 7h0m-1 2h0m15 35h0m-13 2h0m2 1h0m-5 9h0m-7 100h0m-4 334h0m2 11h0m11 90h0m-2 29h0m-12 53h0m13 4h0m15 31h0m-15 9h0m14 19h0m-7 15h0m-17 33h0m25 14h0m-10 14h0m-3 12h0m9 22h0m-25 75h0m1 15h0m2 7h0m9 14h0m3 43h0m14 19h0m11-1046h0m6 5h0m12 37h0m-8 1h0m5 8h0m-6 97h0m8 33h0m-16 35h0m4 61h0m2 173h0m-8 21h0m12 1h0m-19 2h0m3 31h0m15 22h0m-6 4h0m-3 97h0m6 53h0m8 25h0m-14 16h0m-7 9h0m8 14h0m16 4h0m-2 79h0m-8 72h0m3 23h0m-2 66h0m-8 13h0m-8 6h0m4 9h0m16 9h0m-23 17h0m18 73h0m-3 183h0m-8 66h0m16 19h0m27-1351h0m-8 28h0m-2 3h0m1 48h0m-1 32h0m14 63h0m-23 7h0m18 45h0m-3 11h0m-5 227h0m17 27h0m-6 24h0m-14 19h0m21 16h0m-27 81h0m13 28h0m12 50h0m-4 4h0m-11 34h0m-10 7h0m-1 19h0m27 18h0m-8 14h0m5 4h0m-10 4h0m8 19h0m4 32h0m-19 73h0m15 11h0m-11 16h0m12 19h0m-13 16h0m-11 23h0m27 23h0m-25 24h0m22 165h0m-23 17h0m26 22h0m2 23h0m-20 2h0m12 10h0m7 73h0m2-1169h0m11 3h0m-9 218h0m13 117h0m-4 33h0m-4 78h0m16 5h0m-2 25h0m-16 43h0m-3 27h0m15 15h0m-14 20h0m18 73h0m-8 11h0m-13 20h0m15 64h0m13 23h0m-2 20h0m-6 35h0m-14 14h0m19 177h0m1 48h0m-6 8h0m25-822h0m-8 187h0m-1 175h0m13 16h0m-16 14h0m9 14h0m8 6h0m8 76h0m-9 34h0m1 94h0m9 114h0m-27 40h0m11 8h0m11 33h0m4 9h0m-10 18h0m12-849h0m26 16h0m-8 9h0m-18 56h0m27 31h0m-15 2h0m-8 110h0m7 76h0m10 1h0m-17 87h0m6 14h0m8 92h0m-13 97h0m23 58h0m-12 111h0m-7 15h0m-5 14h0m9 24h0m-9 41h0m18 8h0m-8 69h0m32-909h0m7 3h0m-18 51h0m5 4h0m-7 24h0m6 0h0m19 1h0m-12 5h0m2 5h0m0 5h0m-10 1h0m-5 120h0m25 35h0m-24 67h0m12 205h0m-9 41h0m0 1h0m-4 18h0m6 21h0m3 3h0m-2 5h0m7 118h0m4 32h0m-14 94h0m14 25h0m32-871h0m-8 19h0m-11 33h0m5 14h0m15 270h0m-19 131h0m20 5h0m-17 56h0m5 46h0m3 26h0m1 28h0m-6 96h0m0 64h0m7 0h0m1 4h0m7 58h0m-15 16h0m-11 22h0m35-587h0m10 44h0m10 5h0m-18 42h0m2 39h0m-7 1h0m3 30h0m16 11h0m-8 26h0m15 12h0m-23 40h0m-4 2h0m28 7h0m-22 24h0m5 146h0m-7 16h0m16 15h0m-10 15h0m8 72h0m28-609h0m-8 7h0m-8 3h0m-1 50h0m2 18h0m-2 26h0m28 4h0m-24 14h0m-4 4h0m3 42h0m5 4h0m-6 10h0m5 41h0m-1 36h0m-4 3h0m1 1h0m24 14h0m2 42h0m0 24h0m-5 8h0m-14 15h0m-10 169h0m9 18h0m20 10h0m-25 66h0m50-642h0m-3 69h0m-9 77h0m9 115h0m-6 20h0m2 28h0m7 5h0m1 15h0m0 15h0m-19 23h0m38-1017h0m11 44h0m-17 5h0m3 602h0m-4 34h0m13 53h0m-16 5h0m9 101h0m2 12h0m-6 1h0m11 31h0m1 4h0m-21 24h0m10 54h0m17 19h0m-26 1h0m27 10h0m0 3h0m0 12h0m21-1089h0m-6 51h0m1 13h0m0 10h0m0 13h0m-2 45h0m10 35h0m6 164h0m-15 367h0m5 30h0m8 6h0m-19 63h0m21 51h0m-20 103h0m20 23h0m-13 0h0m-10 56h0m24 38h0m-21 2h0m32-1028h0m1 25h0m-7 77h0m12 110h0m4 117h0m0 338h0m1 2h0m-3 19h0m9 37h0m-20 88h0m-6 18h0m0 28h0m21 97h0m-2 23h0m-4 15h0m2 17h0m-14 16h0m35-1049h0m1 44h0m15 12h0m-8 38h0m-1 5h0m1 41h0m-1 81h0m-6 84h0m-4 7h0m-2 15h0m1 6h0m17 38h0m-5 16h0m-17 5h0m6 323h0m-4 92h0m13 8h0m-12 9h0m25 1h0m-18 42h0m5 27h0m1 21h0m2 12h0m-12 7h0m20 6h0m-13 40h0m20-1019h0m2 47h0m19 41h0m0 16h0m-6 7h0m1 49h0m-13 145h0m5 79h0m6 462h0m-9 35h0m11 34h0m-14 88h0m30-925h0m-2 12h0m-3 423h0m8 19h0m28-33h0m38-454h0m-6 7h0m-2 28h0m5 19h0m-9 438h0m29-516h0m14 190h0m-8 303h0m28-467h0m0 22h0m15 138h0m-19 19h0m16 55h0m34-28h0m6 2h0m-27 0h0m7 13h0m13 16h0m-7 12h0m-2 3h0m17 14h0m12-80h0m9 15h0m-15 395h0m8 59h0m12 9h0m6-456h0m1 127h0m0 8h0m11 4h0m-6 10h0m13 97h0m-18 22h0m11 122h0m-7 13h0m50-234h0m0 31h0m-10 20h0m-3 2h0m8 16h0m5 5h0m-2 10h0m-22 49h0m5 74h0m10 3h0m-12 16h0m11 49h0m4 5h0m14-280h0m17 108h0m-6 9h0m26-14h0m4 21h0m-6 1h0m4 5h0m9 4h0m19-59h0m35-16h0m14 18h0m-21 21h0" stroke="#ffffff" stroke-width="14"/>
</g>
<circle cx="63.6" cy="628.2" r="4.8" fill="#C77DFF"/><text x="70.5" y="633.2" font-size="11.3" fill="#000000">Neutrophil</text>
<circle cx="97.2" cy="656.5" r="4.8" fill="#FF62DC"/><text x="104.1" y="661.5" font-size="11.3" fill="#000000">pDC</text>
<circle cx="118.2" cy="665.5" r="4.8" fill="#53D374"/><text x="125.1" y="670.5" font-size="11.3" fill="#000000">Macrophages</text>
<circle cx="26.9" cy="672.3" r="4.8" fill="#EC706B"/><text x="33.8" y="677.3" font-size="11.3" fill="#000000">cDC1</text>
<circle cx="60.1" cy="690.4" r="4.8" fill="#56B4FB"/><text x="67" y="695.4" font-size="11.3" fill="#000000">Monocytes</text>
<circle cx="32.1" cy="714" r="4.8" fill="#C9982A"/><text x="39" y="719" font-size="11.3" fill="#000000">cDC2</text>
<circle cx="27.4" cy="733" r="4.8" fill="#86BC26"/><text x="34.3" y="738" font-size="11.3" fill="#000000">DC−activated</text>
<circle cx="61.9" cy="760.7" r="4.8" fill="#5FD4CA"/><text x="68.8" y="765.7" font-size="11.3" fill="#000000">Mast</text>
<path d="M19.6 732.7V779.9H66.6" stroke="#231815" stroke-width="1.25" fill="none"/><path d="M19.6 729.7l-2.7 4.8h5.4z" fill="#231815"/><path d="M69.6 779.9l-4.8 -2.7v5.4z" fill="#231815"/>
<text x="19.7" y="793.2" font-size="11.6" font-weight="bold" fill="#000000">t−SNE1</text>
<text transform="translate(12.4,782) rotate(-90)" font-size="11.6" font-weight="bold" fill="#000000">t−SNE2</text>
<g opacity="0.8"><ellipse cx="282" cy="670" rx="16.7" ry="11" fill="#5FD2C6"/><ellipse cx="276" cy="688" rx="12.3" ry="8.8" fill="#5FD2C6"/><ellipse cx="259" cy="697" rx="15" ry="15.8" fill="#5FD2C6"/><ellipse cx="313" cy="710" rx="13.6" ry="19.4" fill="#5FD2C6"/><ellipse cx="313" cy="708" rx="8.8" ry="12.3" fill="#58D69C"/><ellipse cx="287" cy="721" rx="9.7" ry="7.9" fill="#5FD2C6"/><ellipse cx="293.5" cy="750" rx="13.2" ry="11.4" fill="#5FD2C6"/><ellipse cx="273" cy="633" rx="7.9" ry="12.3" fill="#5FD2C6"/></g>
<g transform="scale(0.1)" fill="none" stroke-linecap="round">
<path d="M2421 6869h0m65 129h0m27 554h0m23-719h0m14 729h0m37-1226h0m20 332h0m-2 32h0m-6 115h0m10 334h0m-3 149h0m27-959h0m-10 94h0m9 36h0m-16 169h0m6 60h0m-8 2h0m19 214h0m-5 110h0m-17 203h0m39-786h0m2 21h0m7 1h0m-15 349h0m5 66h0m0 141h0m19 217h0m12-1023h0m4 33h0m-2 738h0m68-843h0m-3 38h0m0 191h0m-2 12h0m6 529h0m11-644h0m23 25h0m-21 508h0m-4 57h0m25 85h0m-21 7h0m14 200h0m7 35h0m-7 14h0m-15 343h0m47-607h0m-11 318h0m14 21h0m30-1026h0m-18 206h0m23 220h0m1 116h0m-23 84h0m6 118h0m16 241h0m7-645h0m10 144h0m-12 490h0m53-596h0m-13 582h0m8 92h0m22-805h0m10 1183h0m34-492h0m-26 9h0m27 13h0m30 22h0m-11 201h0m39 184h0m8-546h0m66 400h0m19 32h0m70-211h0m51-136h0m58-139h0m21 60h0" stroke="#52C429" stroke-width="20"/>
<path d="M2051 6752h0m95-56h0m62-1h0m93-274h0m6 670h0m-7 42h0m28-610h0m6 645h0m-13 19h0m21-769h0m2 561h0m23 42h0m38-75h0m23 1h0m-18 59h0m9 16h0m7 47h0m28-2h0m-4 40h0m18-297h0m18 377h0m19-297h0m-12 82h0m3 76h0m18 157h0m-14 41h0m44-433h0m-11 47h0m35 38h0m-5 267h0m27-807h0m-2 59h0m17 232h0m-13 160h0m-8 447h0m53-930h0m-13 43h0m-5 36h0m8 180h0m6 44h0m-6 68h0m5 144h0m-16 11h0m21 343h0m28-762h0m-22 364h0m23 5h0m-6 58h0m-9 35h0m3 329h0m28-835h0m-3 358h0m-3 127h0m11 1h0m12 34h0m-10 29h0m-16 196h0m24 103h0m8-1086h0m5 183h0m9 330h0m-14 188h0m11 22h0m-6 116h0m-6 107h0m16 99h0m-14 68h0m30-1005h0m14 137h0m-19 270h0m13 47h0m14 81h0m-27 177h0m10 505h0m7 60h0m24-1240h0m10 155h0m-8 108h0m1 102h0m-11 23h0m22 107h0m-8 221h0m-14 379h0m4 100h0m26-1070h0m-4 459h0m13 1h0m16 44h0m-23 366h0m5 110h0m14 15h0m-5 2h0m-17 118h0m4 54h0m44-1401h0m7 113h0m-25 413h0m20 140h0m-8 64h0m-9 75h0m1 30h0m13 117h0m-15 114h0m17 17h0m-10 0h0m38-865h0m-16 429h0m20 59h0m4 399h0m-13 14h0m9 152h0m-19 52h0m17 12h0m17-606h0m14 285h0m-16 138h0m0 137h0m22 22h0m-11 12h0m-4 134h0m24-1000h0m-6 569h0m18 139h0m2 260h0m35-1131h0m-20 605h0m10 45h0m-4 4h0m-12 41h0m4 67h0m23 253h0m-24 137h0m13 6h0m18-965h0m23 440h0m-13 13h0m12 4h0m-18 11h0m9 51h0m1 14h0m2 176h0m7 145h0m-7 71h0m-15 16h0m51-630h0m0 37h0m-7 216h0m-3 6h0m-13 226h0m-3 11h0m34-777h0m14 106h0m-9 147h0m-10 19h0m10 102h0m3 8h0m1 3h0m2 5h0m3 4h0m-16 14h0m26 7h0m-17 7h0m13 10h0m-3 38h0m4 59h0m-4 126h0m1 143h0m-2 37h0m5 72h0m16-763h0m12 103h0m-4 8h0m6 2h0m-8 0h0m-9 6h0m3 21h0m6 4h0m-16 3h0m23 63h0m-12 0h0m14 7h0m-10 22h0m11 25h0m-24 53h0m-4 13h0m28 107h0m-6 40h0m-17 32h0m10 120h0m39-663h0m-21 328h0m24 16h0m-22 10h0m10 3h0m-1 1h0m-3 27h0m-10 56h0m12 6h0m-12 59h0m21 21h0m26-441h0m-8 50h0m8 46h0m1 20h0m-4 19h0m-8 4h0m8 16h0m-11 2h0m13 9h0m5 20h0m-15 4h0m7 1h0m-12 33h0m22 88h0m2 21h0m-11 17h0m9 59h0m-21 216h0m41-594h0m15 41h0m-14 29h0m-3 24h0m-11 59h0m18 12h0m2 75h0m-13 14h0m20 13h0m-17 18h0m17 3h0m-19 120h0m23-433h0m7 60h0m-4 45h0m-3 89h0m26 30h0m-20 59h0m-4 20h0m-3 109h0m26 3h0m-10 11h0m24-463h0m-11 128h0m24 44h0m-11 143h0m-10 21h0m14 125h0m18-313h0m17 19h0m-1 38h0m3 20h0m-14 24h0m0 184h0m-6 2h0m39-375h0m-8 101h0m6 151h0m3 101h0m30-232h0m-7 9h0m-7 58h0" stroke="#54D690" stroke-width="20"/>
<path d="M2013 6797h0m86 18h0m1-41h0m115-301h0m0 29h0m-9 7h0m7 160h0m-14 46h0m18 427h0m0 4h0m8-465h0m6 382h0m-2 114h0m24-759h0m15 102h0m-9 500h0m-2 77h0m14 39h0m-5 275h0m5 12h0m38-983h0m-17 12h0m7 72h0m-4 487h0m-1 37h0m21-613h0m9 26h0m7 56h0m5 7h0m-25 586h0m13 111h0m33-767h0m-10 16h0m22 6h0m-6 474h0m-13 166h0m0 49h0m-2 5h0m6 19h0m-13 9h0m14 10h0m1 20h0m41-788h0m-23 43h0m0 407h0m18 10h0m6 100h0m-15 12h0m16 27h0m-2 21h0m-5 11h0m-18 7h0m3 105h0m24-333h0m6 75h0m10 8h0m-8 2h0m12 8h0m-8 21h0m14 116h0m-13 13h0m41-340h0m-1 113h0m-22 14h0m16 1h0m4 46h0m-18 15h0m-3 57h0m41-197h0m17 19h0m-27 70h0m11 9h0m-5 0h0m16 52h0m-21 92h0m3 53h0m15 3h0m7 15h0m-5 51h0m5 100h0m21-419h0m-16 47h0m14 5h0m-11 4h0m-2 54h0m20 11h0m-18 8h0m-1 52h0m21 17h0m1 45h0m-23 0h0m19 25h0m-9 56h0m4 1h0m2 33h0m8 31h0m25-481h0m-17 25h0m14 63h0m0 45h0m-3 5h0m-14 49h0m12 27h0m-14 66h0m16 128h0m-11 13h0m16 5h0m0 51h0m35-597h0m-17 51h0m2 70h0m12 98h0m-14 49h0m5 57h0m7 11h0m-18 34h0m14 22h0m11 23h0m-13 90h0m-2 17h0m-9 5h0m34-523h0m-9 41h0m18 36h0m-17 22h0m7 2h0m8 10h0m-4 212h0m5 114h0m-13 40h0m4 13h0m7 24h0m9 33h0m-24 19h0m4 3h0m20 23h0m-4 45h0m11-911h0m21 93h0m-21 161h0m2 35h0m-3 3h0m16 6h0m-3 35h0m15 17h0m-22 8h0m5 26h0m-6 4h0m2 12h0m20 14h0m1 19h0m-16 1h0m15 45h0m-21 12h0m21 5h0m2 16h0m-20 9h0m-3 20h0m-4 2h0m21 51h0m4 9h0m-2 22h0m-25 25h0m29 11h0m0 18h0m-22 49h0m-6 6h0m15 39h0m-11 4h0m5 8h0m19 11h0m-4 3h0m4 8h0m-23 10h0m0 35h0m34-971h0m12 68h0m6 94h0m-7 161h0m-17 80h0m12 14h0m-6 8h0m11 4h0m-7 6h0m1 5h0m-5 5h0m-5 33h0m1 31h0m8 15h0m-4 6h0m8 12h0m0 60h0m9 29h0m-20 34h0m22 35h0m-16 72h0m15 13h0m-21 144h0m12 86h0m6 20h0m27-1162h0m3 113h0m-17 115h0m-2 54h0m-5 50h0m17 87h0m11 67h0m-14 27h0m-1 5h0m-10 27h0m16 26h0m-15 6h0m22 36h0m-2 1h0m0 1h0m-8 17h0m-12 3h0m-5 1h0m9 34h0m14 11h0m-21 83h0m23 1h0m-20 28h0m4 11h0m6 64h0m-6 76h0m19 46h0m-20 18h0m-6 6h0m7 2h0m14 1h0m6 62h0m-24 48h0m-5 18h0m28 29h0m-3 3h0m20-1106h0m6 85h0m-5 72h0m1 60h0m-6 83h0m10 29h0m-10 54h0m-8 11h0m-1 24h0m2 31h0m-3 110h0m13 91h0m-6 6h0m0 34h0m16 3h0m4 81h0m-21 0h0m4 34h0m5 0h0m2 13h0m-5 35h0m7 25h0m-13 12h0m15 40h0m3 116h0m-18 49h0m44-1150h0m-4 62h0m12 26h0m-8 176h0m-12 136h0m9 8h0m3 16h0m-9 69h0m-12 2h0m12 24h0m11 161h0m6 4h0m-7 31h0m1 17h0m-17 33h0m10 27h0m-13 13h0m0 23h0m-1 19h0m6 4h0m12 183h0m-19 29h0m23 32h0m2 23h0m0 147h0m-1 129h0m-3 52h0m18-1412h0m-6 425h0m6 8h0m-8 114h0m13 12h0m14 19h0m-7 16h0m-11 5h0m5 6h0m-10 7h0m13 31h0m-5 31h0m8 2h0m-14 76h0m17 11h0m-10 8h0m7 20h0m7 3h0m-17 63h0m-5 32h0m13 114h0m-14 190h0m2 14h0m6 76h0m-7 99h0m8 2h0m12 25h0m-11 10h0m16-1407h0m1 37h0m0 33h0m8 37h0m1 59h0m-4 61h0m17 156h0m-25 40h0m14 12h0m-5 21h0m9 53h0m-17 134h0m11 3h0m-8 19h0m23 105h0m-25 5h0m27 45h0m-18 168h0m5 58h0m-3 14h0m10 32h0m-4 100h0m-6 102h0m4 7h0m-14 19h0m9 40h0m-11 28h0m7 23h0m-4 1h0m22 3h0m-18 3h0m47-1275h0m-7 242h0m-7 20h0m6 1h0m-7 32h0m16 62h0m1 30h0m-17 110h0m4 6h0m-11 58h0m15 41h0m2 4h0m-4 23h0m-16 11h0m9 49h0m2 4h0m5 90h0m-13 50h0m2 19h0m-5 44h0m14 38h0m8 10h0m-18 3h0m20 0h0m-2 19h0m-12 44h0m14 61h0m5 19h0m-22 38h0m10 9h0m0 9h0m-10 132h0m48-1284h0m1 125h0m3 106h0m-27 14h0m21 4h0m-10 13h0m8 68h0m-1 51h0m3 16h0m-8 121h0m-2 5h0m-12 17h0m13 93h0m15 21h0m-18 157h0m16 135h0m-17 11h0m16 5h0m-16 26h0m-8 6h0m22 51h0m-12 1h0m-9 0h0m11 83h0m-3 46h0m13 9h0m0 65h0m-6 7h0m11 94h0m7-1092h0m-5 60h0m15 149h0m-3 159h0m10 203h0m-22 25h0m14 10h0m-9 76h0m5 121h0m10 43h0m-16 12h0m5 29h0m-9 3h0m4 6h0m5 16h0m-7 75h0m-1 27h0m20 7h0m21-1104h0m-12 52h0m20 7h0m-17 14h0m16 7h0m0 35h0m-16 118h0m20 29h0m1 8h0m-19 154h0m23 156h0m-10 23h0m-12 101h0m15 8h0m-9 11h0m-2 49h0m16 60h0m-2 158h0m-12 154h0m25-1188h0m-8 32h0m3 100h0m11 69h0m-13 7h0m23 115h0m-15 4h0m3 0h0m7 33h0m-12 31h0m19 113h0m1 147h0m-12 3h0m-11 13h0m18 54h0m-14 24h0m-7 88h0m6 86h0m9 40h0m11 28h0m2 55h0m-28 109h0m22 1h0m2 7h0m15-481h0m5 41h0m-10 3h0m22 3h0m-2 11h0m-8 26h0m-13 36h0m11 28h0m11 0h0m-9 165h0m-17 34h0m7 105h0m25-967h0m16 49h0m-18 52h0m5 37h0m1 207h0m9 1h0m11 22h0m-5 108h0m-4 6h0m6 98h0m6 19h0m-2 8h0m-24 3h0m26 195h0m0 4h0m-9 26h0m-1 135h0m3 20h0m6 33h0m-6 7h0m-1 8h0m27-996h0m-15 204h0m1 9h0m17 22h0m-20 63h0m0 68h0m8 97h0m10 51h0m-13 0h0m7 133h0m-8 241h0m1 15h0m7 14h0m13 10h0m2 30h0m-28 19h0m49-809h0m9 154h0m-22 85h0m12 1h0m-1 36h0m-9 1h0m18 46h0m-14 36h0m-7 0h0m24 119h0m-7 47h0m7 131h0m-26 43h0m2 28h0m14 11h0m-6 37h0m5 36h0m24-776h0m6 24h0m7 18h0m-4 27h0m-5 3h0m-2 17h0m4 93h0m-1 41h0m7 45h0m-12 17h0m12 104h0m-10 28h0m11 41h0m-9 6h0m5 22h0m1 29h0m-8 14h0m14 57h0m-28 9h0m16 97h0m36-645h0m-6 35h0m-14 64h0m14 21h0m12 101h0m-17 11h0m6 141h0m6 10h0m-21 126h0m0 112h0m55-649h0m-12 79h0m2 27h0m6 34h0m3 28h0m-22 48h0m21 65h0m1 144h0m-10 10h0m-10 167h0m26-688h0m11 104h0m-3 10h0m6 80h0m-8 12h0m21 88h0m-2 0h0m-22 4h0m7 34h0m-6 6h0m-4 35h0m11 150h0m14 3h0m-23 20h0m10 0h0m0 2h0m-1 15h0m41-419h0m-7 40h0m-13 62h0m17 12h0m-3 24h0m-7 28h0m2 31h0m10 6h0m-18 84h0m28-198h0m-2 48h0m24 9h0m-8 4h0m-13 10h0m15 15h0m-8 48h0m-9 106h0m5 4h0m16 11h0m36-289h0m-19 38h0m4 50h0m-10 56h0m-1 3h0m6 2h0m15 117h0m13-227h0m14 45h0m3 14h0m13-25h0" stroke="#5FD4C8" stroke-width="20"/>
<path d="M2052 6758h0m12 119h0m21-32h0m129 230h0m14-651h0m8 625h0m0 53h0m12 7h0m-28 44h0m7 24h0m32-691h0m-7 14h0m22 28h0m-6 521h0m-8 1h0m15 7h0m-17 12h0m-5 39h0m13 19h0m4 54h0m-13 17h0m32-757h0m3 66h0m7 520h0m-2 18h0m-1 4h0m-15 110h0m3 5h0m12 2h0m2 45h0m11 16h0m11-745h0m8 533h0m-13 120h0m0 28h0m3 12h0m11 1h0m-13 3h0m11 4h0m18-194h0m20 184h0m-13 1h0m-3 27h0m0 30h0m44-364h0m-10 149h0m12 31h0m-1 19h0m-5 34h0m-2 58h0m12 51h0m17-250h0m13 102h0m-5 16h0m-21 8h0m26 29h0m-11 14h0m14-44h0m31-32h0m10 40h0m11 470h0m30-21h0m21-343h0m-5 363h0m77-1198h0m-14 2h0m10 29h0m1 241h0m-6 69h0m7 87h0m2 166h0m-5 150h0m-22 17h0m22 14h0m-21 7h0m0 46h0m8 381h0m42-1171h0m-8 1h0m14 16h0m-9 9h0m6 209h0m-5 43h0m9 22h0m-25 80h0m24 122h0m30-772h0m-6 93h0m-5 173h0m1 7h0m2 24h0m-8 225h0m-8 371h0m42-827h0m2 19h0m-6 29h0m18 7h0m-20 59h0m13 52h0m-8 409h0m1 62h0m-12 164h0m33-856h0m20 66h0m-11 19h0m-10 9h0m-5 19h0m24 3h0m-6 3h0m-5 40h0m5 8h0m-14 30h0m13 31h0m-6 19h0m12 51h0m-18 20h0m15 2h0m-3 232h0m0 214h0m5 13h0m-15 30h0m8 37h0m29-854h0m15 19h0m-15 12h0m-7 31h0m13 55h0m-11 32h0m7 19h0m3 3h0m-12 10h0m14 25h0m-13 19h0m6 114h0m-13 110h0m1 221h0m0 161h0m48-791h0m-4 37h0m5 13h0m-8 25h0m5 3h0m2 2h0m4 80h0m-1 2h0m-4 5h0m-11 28h0m-1 256h0m4 212h0m-7 141h0m23 2h0m-18 61h0m20 233h0m1-1091h0m29 38h0m-26 23h0m-2 5h0m6 63h0m4 94h0m-11 45h0m1 240h0m11 131h0m7 37h0m10 2h0m-11 119h0m0 16h0m5 300h0m-7 239h0m30-1252h0m-11 54h0m1 64h0m17 162h0m-16 246h0m8 462h0m34-838h0m-5 26h0m0 117h0m13 140h0m2 436h0m-19 70h0m-7 3h0m25 9h0m-4 41h0m-1 46h0m35-715h0m-6 175h0m7 355h0m-21 61h0m-4 20h0m15 15h0m-9 0h0m1 38h0m41-710h0m6 209h0m-28 42h0m14 308h0m-3 51h0m44-507h0m-20 351h0m13 109h0m35-507h0m-14 535h0m15 0h0m0 43h0m82-43h0m-13 73h0m54-270h0m-17 252h0m12 144h0m33 89h0m73-416h0m40 37h0m6 92h0m63-22h0m-24 242h0m5 3h0m5 6h0m21-30h0m1 10h0" stroke="#D6932B" stroke-width="20"/>
<path d="M2052 6770h0m21 65h0m47-25h0m21-91h0m102 473h0m19-131h0m26 30h0m77-50h0m9-53h0m32 92h0m7 30h0m52 39h0m26-200h0m6 317h0m35-176h0m41 0h0m26-790h0m-4 93h0m-14 291h0m24 161h0m-3 149h0m-7 126h0m32-782h0m-11 64h0m23 46h0m-5 227h0m-22 4h0m27 27h0m-4 45h0m-11 24h0m-8 256h0m-5 84h0m8 45h0m27-471h0m10 236h0m-2 190h0m25-926h0m9 15h0m-2 296h0m-13 280h0m12 165h0m-1 43h0m16-686h0m3 80h0m8 257h0m-11 72h0m13 450h0m41-779h0m-23 263h0m24 20h0m-1 70h0m-22 22h0m27 52h0m-11 50h0m1 34h0m-19 18h0m27 285h0m-23 332h0m28-1399h0m14 168h0m-15 465h0m35-573h0m3 253h0m3 141h0m2 72h0m15 545h0m-27 333h0m24 5h0m16-952h0m-10 639h0m23 243h0m-25 39h0m19 23h0m34-1094h0m-2 207h0m4 207h0m16 469h0m-10 227h0m57-416h0m-4 379h0m-13 147h0m66-465h0m-1 147h0m8 283h0m13-961h0m-2 516h0m12 246h0m-1 29h0m11 183h0m16-971h0m8 356h0m24 440h0m68-596h0m-1 175h0m-10 449h0" stroke="#EC706B" stroke-width="20"/>
<path d="M2456 7004h0m-19 43h0m46 49h0m26 22h0m18-183h0m42-203h0m28 397h0m-4 13h0m20-843h0m20 13h0m-11 500h0m10 54h0m-22 184h0m21 109h0m17-247h0m62-283h0m49-374h0m-18 223h0m-6 231h0m1 46h0m13 292h0m23-769h0m-1 68h0m11 102h0m-14 238h0m13 298h0m68-676h0m-13 307h0m13 54h0m1-13h0m152-2h0" stroke="#A8AA2C" stroke-width="20"/>
<path d="M2095 6753h0m-17 84h0m6 8h0m23-34h0m72-136h0m22 444h0m2 38h0m43-651h0m-4 167h0m6 425h0m2-661h0m24 565h0m1 27h0m-9 47h0m1 127h0m-3 164h0m-8 15h0m32-936h0m3 585h0m7 142h0m1 24h0m22-724h0m12 8h0m-9 35h0m-7 5h0m2 475h0m-1 26h0m19 65h0m-8 33h0m-14 18h0m42-635h0m12 350h0m-12 47h0m11 10h0m-22 24h0m-6 108h0m13 13h0m8 164h0m10-738h0m28 350h0m-5 51h0m-6 55h0m0 40h0m-1 44h0m3 9h0m-8 15h0m-8 24h0m25 79h0m23-259h0m6 18h0m-2 27h0m-16 7h0m5 4h0m8 23h0m-15 10h0m14 19h0m-11 28h0m12 10h0m-8 6h0m11 17h0m-7 17h0m-9 43h0m-2 17h0m36-332h0m5 7h0m-12 64h0m22 27h0m-3 33h0m-3 29h0m-15 23h0m8 59h0m8 79h0m34-349h0m-3 101h0m-11 36h0m-1 6h0m15 0h0m-27 4h0m18 14h0m2 19h0m-4 33h0m-6 5h0m4 6h0m-13 93h0m-1 30h0m-1 27h0m20 20h0m31-407h0m3 39h0m-12 75h0m3 34h0m-6 17h0m-6 115h0m17 1h0m-8 32h0m17 163h0m29-449h0m1 20h0m-19 56h0m8 1h0m-16 3h0m7 25h0m9 1h0m-2 97h0m-14 7h0m22 34h0m-6 0h0m-11 12h0m19 57h0m29-757h0m-16 413h0m11 9h0m-8 120h0m16 24h0m-22 14h0m7 6h0m9 26h0m-18 10h0m7 2h0m-2 54h0m16 2h0m-22 26h0m0 93h0m4 152h0m21 4h0m18-657h0m-12 33h0m5 47h0m7 81h0m-4 1h0m7 6h0m-6 36h0m-13 11h0m7 5h0m-2 65h0m1 7h0m14 23h0m-19 7h0m9 46h0m3 81h0m-11 8h0m17 31h0m10 26h0m-4 8h0m-19 31h0m23 1h0m-20 7h0m0 4h0m18 4h0m-13 26h0m1 39h0m24-903h0m1 2h0m16 254h0m-24 11h0m-1 13h0m18 11h0m-3 12h0m-16 11h0m4 167h0m3 5h0m-3 4h0m22 23h0m-25 14h0m13 25h0m15 0h0m-24 1h0m-2 31h0m3 11h0m12 18h0m-13 61h0m5 66h0m4 1h0m-3 12h0m-2 13h0m18 9h0m-20 95h0m50-615h0m-16 13h0m-4 16h0m14 2h0m-10 21h0m-10 3h0m27 58h0m-20 53h0m-6 1h0m0 9h0m-1 6h0m12 36h0m6 4h0m-8 6h0m3 11h0m10 40h0m-16 30h0m21 42h0m-28 15h0m8 43h0m12 28h0m-7 17h0m-12 74h0m21 15h0m-13 29h0m12 100h0m19-690h0m-6 120h0m5 1h0m-3 9h0m-3 21h0m5 1h0m18 12h0m-17 15h0m18 22h0m-10 15h0m-1 1h0m-13 18h0m15 30h0m0 4h0m6 12h0m-5 19h0m-6 28h0m11 39h0m-24 13h0m1 12h0m22 92h0m-12 33h0m5 2h0m2 15h0m-8 6h0m-10 1h0m24 84h0m6-989h0m3 109h0m10 155h0m10 84h0m-24 67h0m6 12h0m21 8h0m-2 60h0m-9 13h0m-4 34h0m-12 4h0m27 68h0m-10 15h0m1 6h0m0 20h0m-18 17h0m2 25h0m23 6h0m-20 2h0m5 15h0m-7 0h0m18 20h0m-16 45h0m16 32h0m3 15h0m5 9h0m-24 33h0m10 1h0m5 1h0m9 123h0m-4 24h0m14-1089h0m13 165h0m-20 91h0m3 48h0m5 8h0m15 60h0m-17 28h0m5 139h0m-3 143h0m14 85h0m0 21h0m-1 27h0m-3 28h0m-9 65h0m10 118h0m-18 29h0m10 24h0m-2 234h0m6 7h0m0 56h0m32-1426h0m3 14h0m-5 30h0m4 118h0m-20 106h0m-1 241h0m26 48h0m-4 14h0m-2 50h0m-17 20h0m16 11h0m-3 17h0m8 17h0m-24 1h0m15 0h0m2 13h0m0 29h0m-4 8h0m16 27h0m0 25h0m-17 1h0m-8 21h0m5 26h0m15 3h0m-6 14h0m-3 8h0m14 13h0m-14 1h0m-4 1h0m2 17h0m8 114h0m7 84h0m-11 65h0m9 74h0m-12 24h0m9 9h0m2 10h0m-8 69h0m6 46h0m-18 48h0m45-1377h0m9 78h0m-23 56h0m20 14h0m2 119h0m-17 35h0m13 93h0m-12 20h0m16 10h0m-7 62h0m-5 113h0m9 71h0m1 2h0m-25 68h0m20 24h0m-18 56h0m5 33h0m16 97h0m-14 53h0m16 80h0m-4 12h0m-17 205h0m2 17h0m-7 31h0m20 44h0m37-1286h0m-11 41h0m-2 10h0m5 14h0m-1 35h0m-18 119h0m15 16h0m1 2h0m1 80h0m-1 61h0m-1 114h0m10 52h0m-25 42h0m17 54h0m-1 74h0m9 172h0m-8 79h0m-7 30h0m13 4h0m6 36h0m-12 12h0m-13 22h0m22 90h0m-18 40h0m19 44h0m-19 13h0m24-1156h0m23 149h0m-11 29h0m2 11h0m11 18h0m-2 32h0m4 68h0m-28 11h0m21 38h0m-5 28h0m-16 44h0m13 24h0m11 35h0m-20 76h0m15 5h0m-12 242h0m10 60h0m0 12h0m-3 11h0m1 29h0m-6 9h0m-2 90h0m18 17h0m-12 6h0m-1 138h0m-5 76h0m27-1126h0m4 32h0m-1 24h0m3 15h0m7 16h0m-1 37h0m-14 37h0m19 71h0m-6 24h0m-13 87h0m4 65h0m7 6h0m-2 4h0m16 181h0m-3 35h0m-4 27h0m4 128h0m-13 2h0m-10 15h0m2 1h0m1 19h0m11 1h0m9 64h0m4 21h0m-2 54h0m-21 15h0m-4 8h0m31-955h0m11 48h0m-5 60h0m-6 44h0m4 35h0m-1 52h0m3 358h0m3 0h0m-10 37h0m10 30h0m7 26h0m-18 19h0m0 61h0m26 19h0m-26 12h0m-1 72h0m17 31h0m-13 5h0m2 40h0m-4 40h0m-1 93h0m12 5h0m33-1040h0m-1 15h0m11 24h0m-15 76h0m6 1h0m9 73h0m-14 9h0m9 72h0m6 272h0m0 8h0m1 52h0m-2 18h0m-12 27h0m-1 87h0m8 85h0m-5 7h0m1 24h0m24-877h0m2 173h0m2 329h0m-12 108h0m24 13h0m-20 11h0m15 29h0m-2 114h0m-9 18h0m18 93h0m-8 85h0m-13 26h0m20 66h0m17-1036h0m-7 45h0m6 57h0m14 265h0m-14 55h0m-6 82h0m-2 45h0m23 113h0m-15 175h0m7 30h0m2 35h0m-10 18h0m-3 3h0m6 32h0m-13 10h0m25 10h0m-4 15h0m-2 7h0m-22 23h0m16 9h0m-8 10h0m50-749h0m-12 43h0m10 15h0m-9 10h0m6 17h0m-3 10h0m-12 55h0m-6 117h0m24 36h0m-10 23h0m5 117h0m-13 1h0m9 1h0m-9 49h0m5 35h0m0 71h0m-7 1h0m-3 30h0m15 23h0m6 13h0m3 44h0m-22 12h0m9 8h0m8 3h0m-2 10h0m36-677h0m-12 138h0m10 92h0m-10 12h0m-3 96h0m2 8h0m-10 8h0m21 1h0m-12 43h0m-11 74h0m10 74h0m12 4h0m-1 81h0m-16 8h0m31-764h0m-3 45h0m22 35h0m-3 38h0m-17 14h0m14 34h0m5 4h0m-5 18h0m-9 16h0m-9 7h0m21 65h0m-7 58h0m-8 91h0m17 25h0m-5 9h0m9 2h0m-16 13h0m8 1h0m-12 33h0m-3 159h0m53-679h0m-21 80h0m-5 2h0m1 3h0m14 12h0m-12 9h0m-1 38h0m23 3h0m-9 19h0m-5 144h0m-7 8h0m8 15h0m7 48h0m-17 87h0m15 3h0m28-395h0m-3 81h0m-7 3h0m6 74h0m7 120h0m-18 32h0m26 24h0m-16 49h0m-12 1h0m3 62h0m3 9h0m41-453h0m2 79h0m7 107h0m-12 26h0m-9 11h0m19 94h0m0 21h0m3 67h0m-27 17h0m43-376h0m-2 34h0m1 122h0m-10 180h0m22 38h0m27-308h0m-19 14h0m17 44h0m2 68h0m-5 56h0m20-208h0m4 2h0m10 92h0m-15 82h0m-4 26h0m57-199h0m-27 86h0m3 14h0" stroke="#5FD4C8" stroke-width="20"/>
<path d="M2361 6876h0m-10 124h0m69-132h0m53 297h0m11 385h0m9-678h0m6 685h0m13 33h0m12-702h0m8 204h0m17 37h0m-2 105h0m-15 322h0m-8 0h0m61-840h0m38-437h0m-2 139h0m-11 212h0m20 56h0m-20 445h0m0 116h0m54-773h0m21-274h0m4 94h0m-15 151h0m-3 158h0m19 172h0m-15 23h0m6 14h0m18 87h0m-14 52h0m1 17h0m-16 64h0m36-913h0m-1 612h0m7 71h0m10 34h0m5 65h0m-24 106h0m39-767h0m13 103h0m-2 382h0m-9 266h0m14 277h0m23-873h0m-8 209h0m-10 640h0m38-924h0m5 28h0m2 94h0m-16 237h0m16 139h0m2 154h0m9 479h0m-16 122h0m22-1218h0m3 235h0m-3 583h0m10 194h0m19-198h0m11 34h0m-14 233h0m41-715h0m-9 103h0m6 301h0m-2 104h0m7 12h0m18-772h0m13 10h0m25 116h0m7 280h0m-5 615h0m-5 65h0m27-1053h0m-1 698h0m16 17h0m54-117h0m8 68h0m-10 287h0m36 200h0m25-696h0m-11 119h0m44 29h0m38 18h0m65-87h0" stroke="#52C429" stroke-width="20"/>
<path d="M2007 6796h0m25-32h0m40 117h0m139 246h0m109-96h0m7 50h0m-17 23h0m45 54h0m20-701h0m5 47h0m1 688h0m5 18h0m36-402h0m-16 62h0m-5 328h0m17 3h0m38-122h0m56-277h0m-14 103h0m6 91h0m-11 135h0m15 153h0m27-472h0m-6 16h0m-5 143h0m23 64h0m-15 85h0m69-754h0m1 267h0m1 11h0m-7 46h0m-15 147h0m24 21h0m-12 292h0m23-783h0m6 433h0m-4 22h0m18 72h0m3 7h0m-26 131h0m-1 162h0m19 78h0m16-1085h0m-5 25h0m3 588h0m5 13h0m-2 9h0m4 22h0m14 16h0m-26 49h0m2 70h0m16 13h0m0 77h0m8 55h0m-19 6h0m26-704h0m25 607h0m1 141h0m-1 69h0m24-1083h0m-22 188h0m5 15h0m-3 270h0m3 64h0m17 107h0m-17 46h0m11 67h0m11 41h0m-20 259h0m8 24h0m42-1094h0m-18 307h0m-9 296h0m9 83h0m-9 76h0m8 52h0m1 6h0m7 27h0m-8 4h0m-4 159h0m23 70h0m-17 10h0m-1 21h0m-9 273h0m46-1203h0m11 8h0m-20 495h0m17 36h0m-21 8h0m21 110h0m-7 147h0m5 35h0m4 72h0m-7 234h0m-1 32h0m0 54h0m12-1373h0m14 43h0m-9 268h0m8 71h0m5 270h0m5 53h0m5 281h0m-21 103h0m22 67h0m-25 20h0m7 191h0m-8 19h0m42-1334h0m-13 425h0m6 167h0m-1 80h0m7 215h0m6 14h0m-4 11h0m11 469h0m11-1097h0m9 51h0m-12 52h0m15 638h0m-1 46h0m8 41h0m-1 44h0m19-839h0m-5 82h0m8 50h0m7 150h0m-9 348h0m-2 27h0m-10 4h0m3 53h0m-3 84h0m24 123h0m13-925h0m-11 60h0m21 109h0m-4 497h0m-11 41h0m9 163h0m9 36h0m-12 10h0m0 68h0m15 93h0m-22 10h0m13 4h0m29-1183h0m6 207h0m-17 432h0m-1 54h0m-1 150h0m-2 256h0m21 73h0m26-1006h0m-2 81h0m10 314h0m-10 95h0m-2 8h0m-2 14h0m-5 94h0m2 127h0m9 43h0m-4 24h0m-15 141h0m3 26h0m9 51h0m28-663h0m5 148h0m-10 102h0m3 165h0m47-663h0m-16 223h0m3 36h0m12 18h0m-20 25h0m12 40h0m-5 126h0m-8 61h0m26 129h0m-25 222h0m15 34h0m30-743h0m9 15h0m-11 28h0m-1 15h0m-1 13h0m-11 8h0m10 12h0m-12 7h0m26 7h0m-4 1h0m-1 3h0m-12 5h0m-5 2h0m4 3h0m15 12h0m-6 32h0m2 28h0m-16 17h0m19 34h0m-10 63h0m5 9h0m10 5h0m-14 1h0m-9 1h0m19 122h0m-17 4h0m23-488h0m2 9h0m12 90h0m2 9h0m1 33h0m-2 3h0m-4 83h0m15 72h0m-2 29h0m-18 10h0m-3 15h0m20 14h0m-5 91h0m0 22h0m6 28h0m-9 0h0m1 4h0m-9 23h0m8 40h0m-5 37h0m48-555h0m-2 6h0m-10 6h0m8 19h0m-25 51h0m27 3h0m-18 7h0m4 42h0m-3 47h0m-10 14h0m9 40h0m17 26h0m0 57h0m3 49h0m-11 17h0m2 10h0m32-340h0m-22 3h0m1 2h0m14 2h0m-10 37h0m2 11h0m-4 28h0m3 12h0m20 36h0m-6 14h0m-5 7h0m3 25h0m-9 15h0m17 32h0m-18 0h0m-5 10h0m6 178h0m26-544h0m21 137h0m-7 78h0m0 38h0m0 81h0m-13 19h0m18 24h0m-10 88h0m35-418h0m-7 92h0m-10 104h0m23 1h0m-7 46h0m4 5h0m29-246h0m-19 74h0m22 54h0m1 22h0m-1 40h0m-2 55h0m-17 13h0m6 73h0m34-246h0m-15 16h0m5 88h0m10 58h0m23-27h0m-2 161h0" stroke="#54D690" stroke-width="20"/>
<path d="M1999 6843h0m20-65h0m31 41h0m8 36h0m14-59h0m57 20h0m52-101h0m27-231h0m-13 672h0m49-52h0m30-677h0m-13 595h0m4 50h0m9 66h0m4 13h0m0 13h0m10-642h0m5 20h0m-9 454h0m16 10h0m9 15h0m-3 44h0m-17 8h0m40-571h0m1 28h0m3 5h0m-19 461h0m1 5h0m-5 29h0m9 34h0m3 6h0m14 32h0m-18 38h0m15 33h0m6 19h0m-3 16h0m16-777h0m8 14h0m-20 85h0m11 375h0m11 116h0m-2 29h0m-16 14h0m1 18h0m6 23h0m7 25h0m-14 26h0m1 5h0m45-118h0m-2 0h0m-16 62h0m9 6h0m6 46h0m23-123h0m13 27h0m-18 10h0m16 79h0m92-178h0m-4 597h0m-7 16h0m46-758h0m-10 210h0m0 105h0m10 402h0m5 41h0m33-1173h0m15 596h0m18-698h0m-1 20h0m-2 6h0m5 34h0m3 28h0m4 58h0m-7 204h0m-3 1h0m-7 141h0m57-683h0m-17 267h0m-5 24h0m6 337h0m2 8h0m15 106h0m21-713h0m-14 44h0m4 5h0m-3 12h0m0 15h0m22 24h0m-7 68h0m-2 51h0m-20 82h0m6 271h0m33-573h0m5 35h0m-5 11h0m9 13h0m-18 30h0m29 21h0m-2 9h0m-21 35h0m12 68h0m7 9h0m-13 7h0m4 24h0m8 49h0m-12 561h0m-9 69h0m45-914h0m1 59h0m-5 22h0m-7 24h0m6 9h0m-8 3h0m12 0h0m0 18h0m-17 6h0m4 0h0m2 1h0m-6 70h0m29 3h0m-26 21h0m14 81h0m11 428h0m-6 101h0m-10 138h0m-6 18h0m5 30h0m-6 41h0m51-1058h0m-23 60h0m10 3h0m-4 33h0m16 11h0m-21 1h0m13 17h0m-13 5h0m13 19h0m-13 41h0m7 24h0m-6 30h0m10 55h0m12 14h0m-23 58h0m3 141h0m15 429h0m-3 73h0m8 223h0m23-1264h0m-20 108h0m6 361h0m7 16h0m3 68h0m0 130h0m8 52h0m1 98h0m-12 197h0m11 115h0m31-958h0m3 13h0m-11 6h0m-14 202h0m7 41h0m5 369h0m12 11h0m-15 209h0m16 37h0m-20 87h0m8 255h0m18-1239h0m15 431h0m-6 434h0m16 0h0m-9 7h0m-7 0h0m-7 48h0m29-734h0m0 164h0m12 519h0m3 20h0m28-548h0m-16 241h0m6 256h0m0 32h0m9 195h0m31-772h0m-8 46h0m1 49h0m7 485h0m13-503h0m15 423h0m2 51h0m15 17h0m-3 247h0m59-48h0m13-366h0m-9 159h0m45 49h0m41-87h0m19-309h0m38 318h0m50 155h0m54-94h0m10 142h0m10-5h0" stroke="#D6932B" stroke-width="20"/>
<path d="M2024 6765h0m187-60h0m93 300h0m104-173h0m-4 14h0m20 291h0m-20 32h0m53-212h0m4 4h0m47 180h0m50-93h0m38-345h0m10 16h0m-25 265h0m15 182h0m27-986h0m4 40h0m9 445h0m-11 76h0m10 90h0m-16 96h0m0 31h0m17 118h0m27-731h0m-18 276h0m12 323h0m35-342h0m-2 191h0m7 210h0m8-877h0m14 326h0m8 482h0m-27 15h0m11 145h0m41-871h0m-21 70h0m13 306h0m11 108h0m-18 230h0m0 100h0m12 167h0m-8 45h0m32-998h0m14 340h0m-27 125h0m15 116h0m4 46h0m9 535h0m27-1185h0m1 49h0m-21 430h0m17 51h0m-3 1h0m4 40h0m3 40h0m-19 349h0m-5 121h0m47-91h0m-6 157h0m-2 204h0m34-855h0m9 612h0m-20 29h0m5 6h0m-8 191h0m1 49h0m32-1045h0m6 289h0m-10 13h0m5 631h0m9 79h0m42-983h0m-25 71h0m12 578h0m-2 300h0m27-355h0m50-481h0m-6 508h0m-7 179h0m-2 23h0m-8 40h0m17 88h0m13-762h0m14 553h0m-19 61h0m17 168h0m56-481h0m69 223h0m-7 1h0m35-409h0m-6 395h0m46-455h0m75 326h0" stroke="#EC706B" stroke-width="20"/>
<path d="M2575 7135h0m42-731h0m4 264h0m-2 98h0m38-432h0m12 485h0m-16 16h0m24-571h0m18 62h0m-23 27h0m34-218h0m44 717h0m6 11h0m22-499h0m-7 240h0m-6 126h0m1 249h0m47-32h0m86-375h0m-8 51h0m-7 181h0m28-228h0m7 4h0m48 227h0m49-158h0" stroke="#A8AA2C" stroke-width="20"/>
<path d="M1993 6812h0m38-40h0m3 37h0m64 51h0m49-163h0m36 426h0m46-619h0m-9 529h0m29 67h0m-5 44h0m26-722h0m-14 32h0m6 62h0m13 539h0m-16 27h0m23-663h0m12 108h0m11 523h0m-14 53h0m-3 38h0m45-604h0m-3 532h0m-9 47h0m15 72h0m-2 27h0m32-396h0m3 126h0m-4 158h0m-5 38h0m-9 78h0m39-295h0m1 4h0m-16 32h0m-1 1h0m9 10h0m-8 8h0m-3 44h0m12 22h0m-6 0h0m20 8h0m-27 4h0m16 1h0m-13 28h0m9 12h0m45-295h0m-1 59h0m-11 29h0m13 4h0m-14 25h0m-10 24h0m7 36h0m-3 22h0m14 63h0m-2 106h0m-12 17h0m27-348h0m3 44h0m-3 13h0m-2 3h0m14 1h0m5 5h0m1 18h0m-3 31h0m-6 18h0m7 92h0m-14 41h0m-3 32h0m-1 2h0m51-336h0m-11 80h0m-9 1h0m24 151h0m-16 25h0m4 0h0m-8 48h0m2 54h0m15 42h0m18-439h0m1 24h0m13 114h0m0 2h0m-16 7h0m-11 47h0m16 6h0m-6 19h0m17 107h0m-8 22h0m-16 12h0m9 42h0m5 23h0m2 14h0m-15 48h0m31-396h0m9 126h0m-1 1h0m9 73h0m-23 35h0m27 63h0m-4 1h0m-4 25h0m-9 2h0m17 2h0m-23 112h0m50-640h0m-14 129h0m14 0h0m-4 89h0m-6 3h0m11 40h0m-25 36h0m8 27h0m2 68h0m-4 31h0m13 70h0m7 22h0m9-891h0m0 77h0m21 3h0m-1 255h0m-14 17h0m-5 29h0m17 22h0m-7 11h0m-10 57h0m20 40h0m-18 13h0m21 45h0m-6 11h0m-6 11h0m4 2h0m-16 30h0m17 7h0m6 126h0m-6 80h0m-22 31h0m11 30h0m16 12h0m25-934h0m-7 21h0m6 23h0m5 297h0m2 34h0m-9 59h0m-14 4h0m-3 31h0m5 30h0m8 32h0m-8 20h0m22 14h0m-16 31h0m-12 29h0m9 2h0m7 48h0m-16 25h0m14 16h0m7 5h0m-2 8h0m-9 4h0m-5 109h0m17 18h0m-8 28h0m0 10h0m-12 12h0m25 10h0m-12 37h0m10 1h0m-18 6h0m-4 34h0m4 54h0m5 5h0m24-1129h0m13 51h0m-3 11h0m-5 30h0m3 495h0m-2 55h0m-10 6h0m13 34h0m10 7h0m-21 84h0m11 13h0m-3 5h0m-2 49h0m0 59h0m-2 8h0m6 22h0m-5 19h0m4 2h0m-12 59h0m15 58h0m32-1082h0m-10 69h0m6 91h0m11 84h0m-21 215h0m9 136h0m12 19h0m-5 25h0m-15 6h0m18 16h0m-24 36h0m7 15h0m13 19h0m-7 15h0m-7 17h0m13 9h0m-2 29h0m1 18h0m11 48h0m-24 115h0m-3 4h0m10 30h0m6 121h0m18-1182h0m21 3h0m-4 262h0m-2 228h0m-7 14h0m13 13h0m-4 2h0m-18 18h0m11 8h0m-16 2h0m14 24h0m5 74h0m3 65h0m7 4h0m-14 9h0m9 18h0m-23 63h0m23 2h0m-1 20h0m4 18h0m1 8h0m-23 15h0m18 60h0m-7 65h0m-1 29h0m9 41h0m-11 317h0m33-1378h0m9 28h0m-19 105h0m18 58h0m-10 23h0m7 78h0m5 214h0m-20 10h0m16 0h0m-8 15h0m-5 142h0m19 51h0m-26 19h0m2 17h0m13 12h0m-12 23h0m12 18h0m8 31h0m-13 9h0m15 6h0m-15 16h0m8 31h0m-2 32h0m-8 107h0m18 39h0m-24 30h0m20 246h0m-22 25h0m6 0h0m1 15h0m10 21h0m0 1h0m14-1393h0m4 20h0m16 228h0m-9 177h0m-8 7h0m12 49h0m3 26h0m-21 24h0m0 15h0m8 30h0m7 87h0m10 1h0m0 15h0m-21 10h0m11 15h0m9 9h0m-11 13h0m7 22h0m8 11h0m-14 42h0m11 24h0m-4 10h0m-2 29h0m-19 27h0m22 10h0m0 78h0m6 69h0m-16 3h0m-11 68h0m20 12h0m3 92h0m2 6h0m-3 11h0m-7 1h0m1 85h0m8 34h0m-4 27h0m2 11h0m-5 5h0m17-1355h0m18 6h0m-7 73h0m1 61h0m1 45h0m4 9h0m7 263h0m-7 44h0m-3 12h0m2 49h0m-17 22h0m-2 11h0m26 36h0m0 20h0m-17 10h0m17 41h0m-4 5h0m-13 2h0m-4 5h0m-6 41h0m17 35h0m2 37h0m-13 75h0m11 25h0m7 27h0m-4 4h0m-3 8h0m-8 21h0m-10 21h0m6 77h0m-1 5h0m19 58h0m4 126h0m-11 57h0m2 20h0m-9 0h0m3 37h0m28-1442h0m3 28h0m1 100h0m-9 39h0m12 43h0m11 66h0m-15 193h0m10 70h0m1 79h0m-19 27h0m19 15h0m-21 2h0m22 31h0m-2 9h0m-19 6h0m-2 11h0m21 31h0m-3 7h0m-18 64h0m13 198h0m3 18h0m7 81h0m-24 16h0m21 18h0m6 10h0m-15 29h0m0 9h0m3 3h0m2 2h0m-16 14h0m24 4h0m-4 131h0m0 33h0m6 67h0m1-1388h0m3 92h0m-3 54h0m11 170h0m18 66h0m-23 7h0m19 27h0m-25 43h0m28 99h0m-3 63h0m0 25h0m-16 85h0m18 12h0m-14 149h0m-4 200h0m8 26h0m11 1h0m-12 14h0m7 37h0m-1 49h0m-7 98h0m-9 13h0m22 51h0m-5 42h0m23-1112h0m5 61h0m-13 4h0m19 31h0m-25 34h0m26 19h0m-2 25h0m-2 46h0m-9 33h0m8 20h0m-4 39h0m10 14h0m-22 12h0m0 13h0m-1 22h0m-1 22h0m8 1h0m-9 6h0m11 198h0m1 44h0m10 36h0m-3 6h0m4 35h0m-17 6h0m10 13h0m7 2h0m-25 29h0m21 21h0m-14 13h0m12 100h0m-11 40h0m10 2h0m-17 64h0m6 10h0m28-992h0m10 84h0m-13 62h0m23 3h0m-14 31h0m0 66h0m-10 27h0m-3 36h0m26 197h0m-7 60h0m7 32h0m-8 98h0m7 1h0m-24 65h0m-1 33h0m13 6h0m-6 11h0m17 7h0m-20 30h0m17 32h0m-13 81h0m41-1063h0m-2 4h0m-14 4h0m11 116h0m5 45h0m-1 1h0m5 16h0m-2 36h0m-19 55h0m18 3h0m-14 16h0m3 228h0m-9 131h0m12 23h0m9 23h0m6 41h0m-13 47h0m-11 2h0m-3 57h0m18 2h0m-6 58h0m10 3h0m-5 20h0m2 32h0m2 50h0m-7 16h0m2 43h0m4 34h0m3 43h0m34-986h0m-7 21h0m-15 1h0m22 36h0m-6 108h0m-21 175h0m7 67h0m8 112h0m7 8h0m6 16h0m-15 10h0m3 0h0m12 13h0m-24 8h0m8 32h0m17 86h0m-25 47h0m14 40h0m-17 2h0m3 15h0m9 63h0m8 10h0m7 11h0m-6 126h0m2 1h0m28-1022h0m-3 98h0m7 4h0m-16 67h0m-2 11h0m5 314h0m5 68h0m-18 18h0m12 14h0m14 19h0m-26 3h0m14 4h0m-6 119h0m12 19h0m-16 36h0m15 34h0m6 1h0m-4 4h0m-12 144h0m18 14h0m-6 53h0m31-925h0m-20 1h0m-2 252h0m27 9h0m-19 50h0m-4 43h0m8 7h0m17 92h0m-2 105h0m0 64h0m-1 62h0m-14 43h0m-5 17h0m14 2h0m-16 32h0m11 29h0m-8 46h0m14 59h0m-1 23h0m22-754h0m-8 75h0m9 48h0m3 71h0m4 0h0m-10 20h0m-1 13h0m11 41h0m6 51h0m-18 44h0m-6 14h0m15 22h0m-2 14h0m13 7h0m-11 5h0m2 55h0m8 19h0m-14 11h0m1 11h0m-1 12h0m2 35h0m8 48h0m-4 27h0m-14 28h0m34-692h0m16 13h0m-10 15h0m3 36h0m-18 17h0m13 10h0m-9 95h0m-2 25h0m18 26h0m4 33h0m-6 0h0m1 167h0m-13 3h0m14 14h0m-11 106h0m-9 34h0m6 4h0m-7 10h0m8 76h0m32-712h0m-7 11h0m17 182h0m8 3h0m-5 93h0m4 36h0m-8 35h0m-19 81h0m1 5h0m23 58h0m1 122h0m16-564h0m3 30h0m-9 84h0m23 22h0m-25 16h0m19 49h0m-3 25h0m-13 54h0m-1 26h0m12 6h0m0 9h0m11 68h0m-9 4h0m-9 75h0m24-472h0m10 105h0m2 55h0m-15 32h0m26 35h0m-20 65h0m16 61h0m-5 79h0m24-442h0m11 14h0m-2 3h0m-19 32h0m5 1h0m8 114h0m-13 12h0m3 21h0m0 52h0m-1 13h0m18 41h0m-9 47h0m4 57h0m33-267h0m3 58h0m-15 245h0m22-369h0m9 114h0m-4 10h0m-5 58h0m10 28h0m4 30h0" stroke="#5FD4C8" stroke-width="20"/>
<path d="M2188 6694h0m23 434h0m19-652h0m16 622h0m-18 2h0m-1 35h0m27-696h0m17 1h0m0 572h0m5 1h0m-4 16h0m-6 41h0m2 36h0m4 1h0m-14 25h0m5 30h0m14 21h0m-9 13h0m34-193h0m-20 30h0m3 76h0m50-609h0m-3 21h0m-9 30h0m-3 479h0m-9 76h0m0 85h0m32-697h0m16 491h0m3 24h0m-12 7h0m-6 46h0m-2 10h0m24 48h0m-13 24h0m26-686h0m-6 425h0m17 250h0m5 2h0m-25 42h0m15 4h0m-2 18h0m39-382h0m-19 61h0m5 184h0m5 17h0m3 38h0m-7 9h0m-3 22h0m-4 29h0m41-330h0m-3 100h0m13 67h0m-11 121h0m26-338h0m-5 23h0m23 132h0m-14 628h0m19-485h0m14 460h0m20-531h0m15 126h0m-4 396h0m70-1226h0m-10 4h0m5 0h0m-11 20h0m17 1h0m-4 325h0m-9 297h0m20-732h0m19 15h0m-1 18h0m-16 27h0m7 77h0m14 26h0m-25 231h0m7 32h0m35-462h0m-5 7h0m18 74h0m-11 46h0m10 423h0m-10 44h0m32-602h0m-11 7h0m20 102h0m-4 18h0m-3 41h0m-10 54h0m6 280h0m7 75h0m33-571h0m1 5h0m-3 54h0m-4 18h0m-13 19h0m-1 31h0m2 49h0m9 2h0m7 20h0m-7 10h0m-6 24h0m4 29h0m-1 65h0m-8 118h0m-3 189h0m37-704h0m7 25h0m-9 11h0m11 63h0m-13 8h0m-2 89h0m11 36h0m10 19h0m-21 5h0m13 78h0m-14 10h0m13 12h0m-8 29h0m-4 110h0m13 257h0m6 67h0m-13 30h0m-3 237h0m23-1065h0m7 7h0m2 15h0m12 6h0m8 24h0m-22 62h0m1 19h0m4 0h0m6 159h0m-4 18h0m4 16h0m-9 60h0m9 8h0m-9 129h0m2 313h0m0 224h0m39-1041h0m5 45h0m-11 76h0m2 18h0m7 130h0m-5 525h0m-15 264h0m6 73h0m-5 323h0m38-1397h0m-1 130h0m12 12h0m-17 11h0m19 8h0m0 188h0m-20 217h0m15 5h0m-8 32h0m-8 378h0m33-776h0m-5 3h0m20 517h0m-6 45h0m3 171h0m9 49h0m-28 10h0m12 31h0m2 10h0m14 12h0m-11 40h0m25-349h0m11 231h0m0 32h0m11-603h0m11 36h0m-15 93h0m1 378h0m17 27h0m-4 80h0m35-395h0m-19 400h0m49-18h0m-5 12h0m-9 22h0m13 240h0m-11 114h0m24-856h0m1 343h0m33 542h0m52-152h0m32-269h0m-14 38h0m-14 41h0m45-212h0m27-56h0m9 15h0m-18 111h0m70 52h0m97 170h0m-16 6h0m29-34h0" stroke="#D6932B" stroke-width="20"/>
<path d="M2138 6713h0m118 326h0m94 23h0m41-181h0m-14 25h0m35 106h0m54-172h0m111 86h0m20-284h0m12 35h0m-22 283h0m14 32h0m31-344h0m-6 214h0m0 33h0m32-126h0m34-313h0m-15 227h0m0 147h0m7 36h0m8 370h0m29-1092h0m2 71h0m-6 63h0m-11 18h0m34-51h0m-4 149h0m-1 178h0m14 411h0m-18 61h0m12 228h0m41-690h0m4 329h0m-21 36h0m-1 24h0m43-774h0m1 237h0m2 229h0m-21 570h0m56-732h0m-15 229h0m5 49h0m-12 65h0m12 771h0m14-1258h0m3 346h0m18 896h0m11-1048h0m21 354h0m-12 500h0m41-834h0m2 105h0m-16 516h0m34 27h0m10 145h0m-3 10h0m-15 227h0m26-839h0m13 637h0m-11 130h0m48-231h0m-6 216h0m-5 62h0m77-506h0m-15 86h0m5 143h0m-9 273h0m27-180h0m140-361h0" stroke="#EC706B" stroke-width="20"/>
<path d="M2443 7105h0m30-135h0m-2 574h0m48-385h0m-27 388h0m14 9h0m24 34h0m43-909h0m-12 879h0m-3 7h0m42-919h0m4 7h0m3 38h0m-22 13h0m15 494h0m34-949h0m-15 129h0m4 9h0m23-40h0m7 247h0m1 118h0m2 135h0m7 185h0m33-664h0m0 238h0m-13 201h0m31-38h0m-10 42h0m16 112h0m19-308h0m7 49h0m-4 263h0m-3 19h0m30-649h0m13 419h0m-18 305h0m32-603h0m-5 501h0m21 261h0m-15 13h0m25-964h0m0 133h0m1 195h0m35 17h0m9 266h0m-5 341h0m10 130h0m18-616h0m5 529h0m-14 4h0m11 17h0m46-778h0m-20 350h0m-3 291h0m-3 106h0m24 43h0m-7 318h0m39-940h0m-8 87h0m0 45h0m38 762h0m30-874h0m-18 85h0m18 713h0m5-807h0m78 363h0m-14 169h0m13 258h0m72-351h0m1 5h0m3 201h0m49-317h0" stroke="#52C429" stroke-width="20"/>
<path d="M2162 6667h0m54 418h0m10 75h0m30-745h0m3 691h0m7 84h0m71-750h0m-14 694h0m-7 9h0m8 23h0m36-59h0m-15 31h0m29-246h0m42 139h0m2 24h0m33-55h0m1 38h0m30 55h0m15-220h0m-7 45h0m19 55h0m-13 84h0m42-139h0m30-88h0m8 11h0m-25 66h0m21 347h0m17-825h0m-8 430h0m19 186h0m-10 237h0m21-1048h0m14 512h0m-7 79h0m10 105h0m-9 6h0m-9 103h0m1 122h0m26 22h0m-7 153h0m27-932h0m6 255h0m-1 12h0m-10 40h0m11 50h0m-22 39h0m58-378h0m-18 554h0m9 119h0m-2 35h0m9 110h0m24-1003h0m-2 31h0m-4 119h0m-1 441h0m6 14h0m-1 69h0m-1 43h0m10 345h0m24-986h0m-10 195h0m2 360h0m11 335h0m-3 44h0m23-987h0m-8 462h0m-4 107h0m-3 22h0m15 2h0m-11 9h0m12 9h0m-4 119h0m6 194h0m12-988h0m11 33h0m12 426h0m-17 168h0m15 12h0m0 104h0m-18 8h0m4 20h0m8 191h0m-4 145h0m18 41h0m-2 5h0m-6 89h0m-20 98h0m48-1179h0m-13 27h0m12 497h0m1 349h0m-15 81h0m23 34h0m-11 149h0m-1 135h0m42-820h0m-27 23h0m7 35h0m10 261h0m-13 25h0m18 38h0m-17 107h0m13 12h0m11 73h0m-11 63h0m11 109h0m-19 60h0m1 1h0m47-1077h0m1 173h0m-27 16h0m21 164h0m-9 13h0m8 396h0m-3 360h0m14-1171h0m26 71h0m-5 169h0m-11 129h0m2 287h0m-4 13h0m-6 24h0m7 133h0m-9 180h0m10 25h0m-6 85h0m25-1146h0m19 154h0m-21 156h0m22 177h0m5 76h0m-18 65h0m15 34h0m1 201h0m14-681h0m0 70h0m7 408h0m5 49h0m-6 235h0m9 40h0m-21 0h0m17 0h0m2 29h0m3 152h0m17-929h0m13 336h0m-5 50h0m7 72h0m-25 182h0m27 50h0m-14 22h0m8 204h0m2 39h0m29-676h0m-2 13h0m-2 8h0m8 7h0m-19 19h0m12 29h0m-9 12h0m1 47h0m5 11h0m10 27h0m-1 32h0m-7 1h0m-13 109h0m8 123h0m-4 78h0m-10 6h0m23 89h0m1 23h0m34-755h0m-19 73h0m14 31h0m-11 8h0m-3 12h0m-2 50h0m-6 75h0m-1 33h0m-1 18h0m21 112h0m-17 73h0m13 5h0m-6 3h0m-6 50h0m48-524h0m-19 27h0m22 28h0m-16 24h0m-9 10h0m28 23h0m-7 54h0m0 26h0m-7 68h0m-1 1h0m6 3h0m-16 5h0m3 60h0m0 2h0m14 151h0m-9 143h0m0 19h0m3 39h0m17-627h0m25 52h0m-17 87h0m8 42h0m-7 1h0m-6 11h0m4 13h0m6 28h0m7 4h0m-7 26h0m-14 12h0m15 24h0m8 11h0m-21 1h0m2 2h0m23 11h0m-25 4h0m14 47h0m-9 185h0m39-624h0m-3 35h0m-12 26h0m-2 2h0m19 54h0m-2 9h0m6 44h0m-3 61h0m-6 8h0m9 77h0m-11 10h0m-5 16h0m5 1h0m15 6h0m-11 15h0m11 38h0m-11 57h0m19-432h0m9 43h0m3 6h0m-4 28h0m0 47h0m3 52h0m7 15h0m-4 40h0m-8 3h0m-1 26h0m-2 18h0m-2 22h0m13 36h0m-18 57h0m39-277h0m-1 80h0m11 33h0m-3 1h0m1 8h0m1 33h0m-1 5h0m1 15h0m-2 29h0m-12 81h0m20 4h0m8-401h0m-2 100h0m2 84h0m18 30h0m-10 165h0m19-340h0m4 117h0m19 28h0m-11 133h0m30-157h0" stroke="#54D690" stroke-width="20"/>
<path d="M2453 6949h0m32 175h0m-15 407h0m48-492h0m-12 45h0m-13 50h0m14 455h0m83-447h0m24-828h0m14 52h0m11 375h0m-28 387h0m58-844h0m-22 471h0m8 3h0m6 94h0m37-702h0m1 125h0m-1 125h0m-4 94h0m1 235h0m13 59h0m42-269h0m-14 338h0m44-28h0m31-138h0m30-283h0m20-66h0m15 256h0m-1 202h0m34-252h0m29 237h0m65-134h0m11 32h0" stroke="#A8AA2C" stroke-width="20"/>
<path d="M1982 6822h0m50-48h0m13-23h0m42 26h0m-6 16h0m34-25h0m79-55h0m44-268h0m-18 42h0m8 1h0m17 12h0m-1 174h0m-9 481h0m17-700h0m15 46h0m11 551h0m-27 344h0m15 5h0m25-385h0m15 12h0m-17 17h0m-5 10h0m49-627h0m-9 661h0m-4 29h0m25-118h0m15 66h0m-19 22h0m25 50h0m-22 44h0m12 1h0m5 13h0m13-699h0m17 309h0m-3 93h0m1 95h0m9 15h0m-19 3h0m5 57h0m-4 32h0m13 17h0m5 49h0m-13 11h0m33-311h0m-16 14h0m22 40h0m-23 16h0m27 14h0m-6 10h0m6 99h0m-24 19h0m-1 72h0m8 3h0m-10 67h0m40-427h0m16 56h0m-15 76h0m-1 7h0m14 0h0m-7 25h0m-13 46h0m7 47h0m-10 104h0m51-315h0m3 8h0m-4 30h0m-15 28h0m-4 2h0m24 51h0m-21 76h0m5 64h0m12 31h0m-14 43h0m21-353h0m23 9h0m-8 184h0m4 12h0m4 138h0m2 16h0m-8 4h0m5 32h0m15-373h0m11 40h0m-18 60h0m16 21h0m10 21h0m-7 13h0m-1 120h0m1 23h0m10 28h0m-25 2h0m16 16h0m-16 29h0m3 7h0m24-464h0m5 22h0m4 12h0m18 14h0m-7 202h0m-21 58h0m23 127h0m-20 102h0m18 3h0m29-970h0m1 3h0m-18 51h0m-3 1h0m23 6h0m0 2h0m6 277h0m-10 5h0m-8 62h0m-10 47h0m8 36h0m13 35h0m-4 99h0m9 62h0m-20 56h0m7 12h0m13 11h0m-17 43h0m1 3h0m8 11h0m-19 26h0m19 1h0m-5 2h0m2 18h0m-8 5h0m-1 13h0m16 38h0m24-1006h0m-11 107h0m-3 309h0m16 23h0m-17 101h0m27 0h0m-21 26h0m10 32h0m-7 11h0m-3 28h0m17 49h0m-6 21h0m4 19h0m-23 127h0m5 36h0m2 6h0m12 29h0m-13 11h0m22 3h0m23-957h0m-19 137h0m6 12h0m11 8h0m8 241h0m-16 6h0m-8 13h0m5 3h0m13 8h0m-21 31h0m6 20h0m-1 5h0m-2 27h0m-3 47h0m3 17h0m23 24h0m-14 18h0m5 6h0m8 13h0m-18 9h0m14 4h0m-17 6h0m10 21h0m13 116h0m-17 67h0m1 17h0m-3 27h0m4 57h0m6 50h0m-13 61h0m21 0h0m14-936h0m5 6h0m0 40h0m7 45h0m-14 10h0m10 205h0m-11 4h0m-7 36h0m8 24h0m11 31h0m8 34h0m-13 27h0m-4 34h0m19 5h0m-22 18h0m8 30h0m-11 28h0m12 19h0m7 14h0m3 11h0m-10 41h0m-5 1h0m5 91h0m-14 139h0m-2 8h0m52-1134h0m-18 19h0m7 12h0m-5 146h0m22 212h0m-16 69h0m-11 119h0m1 34h0m6 5h0m0 41h0m1 6h0m-9 4h0m19 22h0m-17 2h0m0 5h0m12 127h0m-7 6h0m22 5h0m-21 2h0m-6 27h0m27 128h0m-22 155h0m22 246h0m15-1288h0m-7 48h0m1 325h0m-4 0h0m7 3h0m0 2h0m-4 42h0m12 14h0m7 23h0m-9 20h0m4 33h0m-17 57h0m4 13h0m-4 19h0m17 10h0m-13 12h0m9 6h0m11 24h0m-8 1h0m-13 82h0m11 14h0m3 46h0m-1 18h0m-11 100h0m6 47h0m6 7h0m3 29h0m-20 53h0m35-829h0m4 76h0m-7 14h0m14 58h0m-18 179h0m3 25h0m8 19h0m7 12h0m-16 13h0m-3 3h0m16 13h0m5 92h0m-11 14h0m8 9h0m-6 16h0m14 9h0m-16 13h0m-2 121h0m4 6h0m9 19h0m-20 132h0m15 100h0m-11 85h0m21 101h0m1 34h0m10-1448h0m0 144h0m2 28h0m7 71h0m-14 26h0m23 114h0m-16 71h0m12 15h0m-13 45h0m11 35h0m-6 3h0m-9 65h0m5 40h0m16 4h0m3 7h0m0 117h0m-8 4h0m6 13h0m-25 2h0m26 1h0m-17 9h0m7 30h0m7 130h0m-5 6h0m-2 5h0m-11 48h0m10 25h0m-3 45h0m4 10h0m0 27h0m-13 53h0m0 10h0m18 22h0m3 16h0m-26 35h0m17 14h0m-2 40h0m-10 50h0m22 64h0m-1 1h0m-26 2h0m39-1437h0m9 8h0m2 265h0m7 135h0m-10 39h0m-1 44h0m-15 6h0m13 17h0m-6 10h0m2 36h0m5 14h0m-5 43h0m-8 30h0m-2 38h0m4 24h0m16 43h0m7 24h0m-12 70h0m14 77h0m-22 41h0m-4 3h0m8 26h0m-3 114h0m19 64h0m-12 59h0m-3 5h0m-6 88h0m4 21h0m13 21h0m-20 12h0m50-1261h0m-3 240h0m-7 9h0m7 7h0m-4 26h0m3 4h0m-2 1h0m1 19h0m5 44h0m-10 11h0m15 37h0m-22 113h0m10 0h0m-9 2h0m13 22h0m-8 81h0m2 39h0m11 22h0m-22 11h0m0 265h0m9 68h0m-4 98h0m-6 17h0m16 21h0m4 8h0m0 124h0m-22 11h0m59-1068h0m-20 5h0m11 32h0m-3 4h0m-15 22h0m11 239h0m6 23h0m-7 1h0m8 53h0m5 4h0m1 219h0m-14 43h0m2 14h0m-4 92h0m6 20h0m-12 7h0m1 28h0m-3 312h0m37-1108h0m17 7h0m-15 20h0m17 2h0m-14 39h0m1 15h0m14 23h0m-26 36h0m15 2h0m-7 15h0m1 8h0m0 3h0m9 26h0m0 45h0m-1 50h0m-17 13h0m5 87h0m16 148h0m-11 30h0m2 29h0m-13 2h0m8 27h0m-5 15h0m1 0h0m12 19h0m-8 5h0m-9 39h0m-1 9h0m10 1h0m-6 165h0m13 56h0m-4 12h0m7 11h0m-18 36h0m12 28h0m0 6h0m9 96h0m8-1219h0m12 48h0m-6 23h0m1 16h0m-7 108h0m11 37h0m-2 51h0m-6 104h0m1 172h0m20 5h0m-6 36h0m-7 94h0m5 15h0m-14 25h0m26 14h0m-6 17h0m-11 37h0m15 15h0m-13 45h0m13 88h0m2 26h0m-21 22h0m-3 62h0m18 16h0m-7 24h0m1 15h0m0 19h0m0 36h0m12 1h0m-21 51h0m30-1166h0m16 242h0m0 6h0m-12 41h0m12 200h0m0 68h0m-13 19h0m12 16h0m-2 106h0m-20 14h0m25 20h0m-24 96h0m1 19h0m18 12h0m5 3h0m-19 1h0m11 1h0m9 13h0m-27 1h0m2 85h0m15 26h0m9 31h0m3 28h0m-22 31h0m19 57h0m-1 18h0m9-1024h0m-2 20h0m17 44h0m-14 67h0m8 30h0m7 132h0m-2 9h0m-11 3h0m-1 73h0m22 0h0m-1 1h0m-25 20h0m0 33h0m1 10h0m-2 2h0m-1 70h0m5 6h0m-4 96h0m17 39h0m-12 105h0m16 94h0m-12 44h0m-3 8h0m17 48h0m-5 6h0m35-949h0m-6 69h0m-2 39h0m-6 153h0m-1 3h0m17 20h0m-10 24h0m1 61h0m-15 7h0m11 41h0m1 35h0m8 26h0m-5 37h0m-11 111h0m23 157h0m-18 51h0m5 9h0m12 10h0m-2 15h0m0 2h0m1 48h0m-26 5h0m24 30h0m-13 42h0m-10 11h0m49-982h0m3 231h0m-7 11h0m-14 65h0m7 11h0m7 27h0m-15 2h0m13 24h0m-9 36h0m-3 18h0m-3 19h0m10 75h0m5 155h0m6 36h0m4 24h0m-15 11h0m-4 43h0m-4 24h0m13 99h0m-2 0h0m31-746h0m1 19h0m-2 60h0m10 30h0m0 1h0m-22 38h0m9 101h0m2 2h0m-2 35h0m-9 3h0m18 36h0m-6 8h0m-11 9h0m22 26h0m-12 336h0m4 50h0m28-736h0m-3 12h0m14 0h0m-10 25h0m14 70h0m-10 34h0m-1 3h0m-9 16h0m-5 118h0m10 29h0m-5 44h0m-8 19h0m27 81h0m-2 136h0m8-609h0m9 12h0m0 20h0m0 131h0m-13 17h0m17 27h0m-7 16h0m11 4h0m-17 24h0m14 54h0m1 139h0m27-365h0m-8 94h0m1 4h0m18 23h0m-9 112h0m9 58h0m-24 0h0m22 1h0m-5 6h0m2 145h0m-9 4h0m-1 7h0m47-495h0m-4 54h0m-2 12h0m-22 107h0m21 31h0m-20 94h0m-2 51h0m10 11h0m10 86h0m-1 37h0m12-290h0m20 22h0m-6 40h0m-12 19h0m3 120h0m-6 11h0m21 25h0m6 3h0m9-319h0m15 78h0m7 78h0m24-20h0m-16 11h0m8 98h0m16-140h0m5 24h0m-5 10h0" stroke="#5FD4C8" stroke-width="20"/>
<path d="M2026 6777h0m27 64h0m44-57h0m-3 42h0m9-51h0m41-95h0m59-20h0m-2 457h0m-8 3h0m38 21h0m-10 15h0m36-690h0m12 578h0m-1 17h0m-8 9h0m4 48h0m1 70h0m-2 3h0m-6 34h0m26-184h0m26 25h0m-5 13h0m-13 54h0m9 12h0m9 2h0m-8 51h0m-21 8h0m30-761h0m7 551h0m4 13h0m-10 88h0m21 88h0m26-131h0m10 29h0m-10 5h0m-12 43h0m21 19h0m-3 42h0m-11 16h0m-6 14h0m16 3h0m15-270h0m-8 101h0m13 80h0m-8 13h0m5 34h0m0 4h0m12 10h0m19-687h0m4 407h0m17-11h0m8 211h0m43 33h0m17-287h0m-2 209h0m1 501h0m50-803h0m-13 31h0m-10 33h0m21 38h0m-22 181h0m18 226h0m0 33h0m34-621h0m-21 373h0m10 32h0m-15 211h0m1 269h0m33-1331h0m20 147h0m-9 37h0m-16 646h0m48-844h0m5 30h0m-9 31h0m14 55h0m-23 32h0m0 293h0m32-393h0m12 41h0m6 739h0m-16 138h0m18 69h0m-14 11h0m46-1069h0m-28 47h0m4 48h0m23 53h0m-7 82h0m-8 71h0m16 32h0m-27 102h0m7 160h0m1 366h0m34-1028h0m-14 5h0m7 65h0m9 28h0m10 3h0m-3 47h0m-11 2h0m13 34h0m3 23h0m-4 166h0m3 114h0m-24 112h0m23 270h0m18-805h0m-14 21h0m9 10h0m-1 80h0m6 16h0m-7 15h0m-1 63h0m-3 13h0m12 145h0m-1 341h0m43-754h0m-19 131h0m20 30h0m-6 8h0m-5 27h0m-7 25h0m-9 2h0m3 276h0m25 33h0m-18 504h0m31-1022h0m-10 21h0m24 13h0m-15 100h0m-10 37h0m9 55h0m-10 60h0m23 160h0m1 33h0m-4 217h0m6 225h0m-24 89h0m7 0h0m18 8h0m4-926h0m3 204h0m-4 28h0m28 55h0m-23 148h0m23 31h0m-7 395h0m-2 78h0m32-879h0m-2 232h0m9 187h0m-5 394h0m5 7h0m-16 26h0m2 45h0m13 13h0m-26 2h0m51-474h0m-12 82h0m16 109h0m-1 270h0m1 4h0m-18 100h0m-6 3h0m32-724h0m8 136h0m3 72h0m14 555h0m11-629h0m11 19h0m-3 470h0m-11 421h0m28-945h0m3 122h0m20 384h0m-25 4h0m56-179h0m-1 41h0m-7 553h0m10-655h0m1 150h0m7 430h0m15 91h0m8-688h0m16 63h0m-3 26h0m91 236h0m68-342h0" stroke="#D6932B" stroke-width="20"/>
<path d="M2048 6765h0m26 42h0m12 73h0m29-68h0m106 343h0m60-728h0m4 85h0m7 690h0m31-674h0m8 676h0m-14 5h0m27-164h0m37-34h0m-7 93h0m9 95h0m21-254h0m33-123h0m0 66h0m16 244h0m30-308h0m-15 71h0m10 60h0m-10 28h0m8 7h0m-10 183h0m34-198h0m36 7h0m3 184h0m5 2h0m-5 102h0m24-292h0m-8 298h0m20 24h0m-5 20h0m37-588h0m-17 37h0m18 86h0m-1 6h0m-23 82h0m24 153h0m-25 47h0m46-792h0m1 0h0m5 44h0m-10 297h0m-9 83h0m6 33h0m8 61h0m-6 19h0m1 23h0m13 122h0m-22 11h0m10 43h0m9 181h0m-4 43h0m12-1070h0m2 372h0m-3 267h0m7 312h0m17 26h0m27-300h0m-17 44h0m-3 19h0m8 33h0m14 124h0m14-757h0m16 183h0m-14 194h0m-2 59h0m5 102h0m38-198h0m-14 10h0m20 294h0m-22 165h0m-2 32h0m-3 9h0m12 275h0m36-1357h0m2 21h0m-15 276h0m17 511h0m-3 26h0m6 7h0m-20 127h0m3 115h0m12 58h0m0 71h0m-4 46h0m-1 75h0m12 24h0m-9 21h0m38-1367h0m-18 407h0m10 137h0m-12 36h0m-6 194h0m25 234h0m-1 329h0m2 24h0m-24 82h0m37-813h0m-9 101h0m20 14h0m-3 29h0m-6 5h0m15 204h0m-23 224h0m6 196h0m46-674h0m-22 192h0m4 113h0m-4 119h0m14 40h0m5 150h0m11-556h0m2 535h0m3 21h0m5 88h0m43-1081h0m-22 433h0m16 141h0m-16 31h0m5 113h0m6 200h0m7 21h0m-12 17h0m0 44h0m15 39h0m-22 102h0m35-1141h0m6 83h0m2 137h0m-3 348h0m-3 50h0m3 7h0m5 12h0m9 44h0m-26 73h0m2 111h0m22 156h0m19-836h0m-5 425h0m11 24h0m4 64h0m-14 158h0m4 43h0m-5 101h0m6 3h0m35-757h0m-4 217h0m11 94h0m-16 16h0m4 23h0m-3 19h0m4 92h0m-12 7h0m49-290h0m-6 27h0m-1 2h0m1 38h0m0 26h0m10 2h0m-17 49h0m9 100h0m2 14h0m7 92h0m-10 61h0m1 72h0m9 77h0m-27 106h0m1 7h0m38-868h0m17 192h0m-25 26h0m9 7h0m-4 27h0m20 19h0m-9 28h0m-2 20h0m-16 23h0m0 6h0m10 10h0m-2 12h0m1 34h0m-3 8h0m-4 2h0m16 33h0m-4 25h0m10 83h0m-15 15h0m0 204h0m-3 167h0m32-812h0m4 3h0m-1 61h0m-10 54h0m10 24h0m6 2h0m3 1h0m-12 29h0m18 11h0m-21 26h0m6 18h0m0 9h0m6 1h0m11 21h0m-7 24h0m-20 20h0m-2 35h0m16 7h0m-4 39h0m-5 9h0m14 77h0m-4 27h0m-15 7h0m32-536h0m3 47h0m5 196h0m-10 30h0m23 108h0m-3 11h0m35-377h0m2 6h0m-27 57h0m14 36h0m1 4h0m11 8h0m-3 2h0m-2 10h0m-20 6h0m14 7h0m-8 52h0m1 18h0m-2 0h0m17 38h0m4 51h0m-17 16h0m7 1h0m-14 14h0m15 23h0m-17 2h0m24 10h0m-23 15h0m10 27h0m1 34h0m30-443h0m-5 94h0m8 12h0m-16 22h0m11 0h0m1 9h0m-7 11h0m2 55h0m1 3h0m1 81h0m18 4h0m-19 30h0m15 12h0m-9 7h0m-5 29h0m20-142h0m15 1h0m-8 28h0m4 50h0m17 1h0m-24 41h0m32-319h0m16 54h0m-7 24h0m0 81h0m9 27h0m-25 7h0m21 24h0m-7 7h0m15 18h0m-22 26h0m-2 192h0m32-328h0m12 49h0m-8 32h0m-10 56h0m23 16h0m-18 20h0m24-233h0m0 37h0m7 86h0m-6 13h0" stroke="#54D690" stroke-width="20"/>
<path d="M2184 6691h0m41 418h0m49-80h0m92-152h0m60 25h0m-24 82h0m-1 66h0m1 4h0m48-167h0m4 178h0m-14 38h0m50-288h0m3 88h0m29-59h0m24 135h0m-7 198h0m2 45h0m0 66h0m10-414h0m0 379h0m82-569h0m-12 11h0m-6 7h0m10 333h0m-4 143h0m46-807h0m-5 91h0m6 409h0m-2 148h0m32-670h0m-3 255h0m-17 17h0m11 6h0m2 167h0m34-55h0m27-563h0m-13 146h0m-2 41h0m16 180h0m4 75h0m-2 184h0m-9 27h0m0 150h0m-10 150h0m28-911h0m13 373h0m-17 63h0m28 171h0m-2 584h0m-20 102h0m31-1165h0m0 34h0m21 191h0m1 777h0m0 232h0m21-223h0m10-820h0m2 25h0m15 159h0m-15 41h0m17 59h0m-10 134h0m42-352h0m6 16h0m-7 43h0m-7 586h0m-3 318h0m49-785h0m-5 516h0m16-576h0m6 73h0m22 447h0m17 337h0m-23 65h0m29-820h0m2 531h0m24 110h0m-6 59h0m34-63h0m23-439h0m-17 23h0m8 61h0m9 243h0m-11 27h0m30 35h0m44-414h0m38 254h0m90-293h0m17 9h0" stroke="#EC706B" stroke-width="20"/>
<path d="M2457 6900h0m-20 75h0m38 588h0m16-488h0m19 44h0m-3 57h0m-16 350h0m11 15h0m12 16h0m-6 44h0m31-546h0m36-269h0m-21 755h0m46-1181h0m-13 727h0m15 5h0m4 50h0m-22 104h0m35-607h0m14 98h0m-17 303h0m39-897h0m2 456h0m-1 74h0m-7 10h0m-5 499h0m37-476h0m-11 48h0m10 74h0m2 126h0m16 20h0m23-650h0m4 420h0m1 145h0m1 2h0m-23 23h0m34-684h0m21 46h0m-13 295h0m1 196h0m6 43h0m-2 33h0m28-193h0m9 156h0m-19 159h0m-4 200h0m28-958h0m13 147h0m-15 37h0m21 455h0m-8 299h0m5 94h0m28-230h0m-13 438h0m31-216h0m24 167h0m16-132h0m17-13h0m45-640h0m-10 128h0m3 4h0m11 549h0m2 128h0m11-928h0m4 272h0m-7 389h0m31 60h0m73 251h0m8 132h0m24-499h0m-10 326h0m32-381h0m30 216h0m45-416h0m34 172h0m-22 158h0m45-147h0m19 106h0m37-13h0" stroke="#52C429" stroke-width="20"/>
<path d="M2359 6993h0m121-46h0m27 244h0m125-273h0m11-604h0m18 981h0m34-621h0m21-473h0m-9 312h0m32-293h0m15 65h0m-11 3h0m41 453h0m16 120h0m38-465h0m-16 315h0m60-139h0m6 142h0m24-152h0m28 123h0" stroke="#A8AA2C" stroke-width="20"/>
<path d="M2005 6842h0m33-19h0m121-148h0m-3 13h0m42-3h0m6 2h0m-4 391h0m45-576h0m-5 202h0m6 448h0m5-698h0m24 74h0m27-81h0m-5 12h0m11 44h0m-2 501h0m-12 92h0m-1 0h0m-5 126h0m48-742h0m-6 490h0m-7 51h0m-13 68h0m10 7h0m14 22h0m21-272h0m9 12h0m2 5h0m-4 69h0m-13 71h0m6 20h0m-14 81h0m16 29h0m33-299h0m-9 178h0m-4 9h0m3 29h0m8 37h0m-17 105h0m39-351h0m19 16h0m-11 48h0m-3 13h0m0 1h0m-4 32h0m7 51h0m-17 27h0m15 46h0m-16 7h0m20 31h0m-3 68h0m29-390h0m6 12h0m-21 8h0m25 5h0m-20 96h0m-2 7h0m10 1h0m15 15h0m-11 4h0m4 15h0m-8 20h0m0 116h0m9 30h0m7-297h0m9 8h0m11 172h0m7 7h0m-23 30h0m7 60h0m11 34h0m0 63h0m19-352h0m3 101h0m-4 69h0m6 6h0m11 1h0m-2 12h0m-10 11h0m-12 2h0m-2 29h0m13 27h0m13 52h0m-14 2h0m-10 8h0m-3 21h0m23 18h0m7-428h0m12 82h0m2 30h0m-9 28h0m11 28h0m11 50h0m-16 41h0m15 12h0m-14 12h0m-2 45h0m5 21h0m-6 9h0m8 17h0m-7 14h0m-2 10h0m0 3h0m11 38h0m-14 80h0m54-600h0m-8 27h0m-11 117h0m17 81h0m-20 22h0m7 21h0m14 22h0m-15 52h0m-10 15h0m10 13h0m0 13h0m-12 30h0m18 61h0m3 2h0m-5 10h0m-1 14h0m-4 12h0m-11 106h0m44-1024h0m-11 59h0m21 305h0m-20 25h0m6 69h0m5 22h0m-2 4h0m3 21h0m-5 165h0m9 105h0m-13 9h0m-8 17h0m2 4h0m-1 12h0m22 1h0m4 24h0m-20 13h0m10 28h0m31-906h0m9 62h0m-18 123h0m16 195h0m-1 9h0m-18 18h0m-2 2h0m22 0h0m-16 19h0m-5 23h0m-4 7h0m12 22h0m-11 33h0m8 40h0m16 26h0m-4 30h0m5 18h0m-8 19h0m-15 20h0m13 5h0m0 1h0m-6 10h0m8 55h0m-15 31h0m13 15h0m-1 4h0m-3 2h0m1 6h0m-2 75h0m10 28h0m-7 18h0m14 56h0m-22 15h0m14 4h0m-15 3h0m4 10h0m4 35h0m28-1042h0m14 339h0m1 72h0m-23 16h0m1 6h0m13 25h0m-8 33h0m6 8h0m6 98h0m-3 46h0m-5 162h0m-7 48h0m18 23h0m-9 8h0m-13 2h0m13 14h0m10 127h0m26-1166h0m0 17h0m-8 46h0m13 39h0m-26 27h0m4 2h0m11 206h0m11 125h0m-23 89h0m1 22h0m-4 44h0m21 9h0m-2 6h0m7 14h0m-19 82h0m12 28h0m-17 11h0m15 57h0m-10 4h0m11 11h0m-3 18h0m3 1h0m-18 2h0m1 45h0m21 4h0m0 41h0m-15 30h0m0 40h0m9 45h0m-16 18h0m1 4h0m2 80h0m6 40h0m33-1157h0m-10 47h0m14 117h0m-4 220h0m8 19h0m-10 1h0m3 11h0m-12 98h0m11 52h0m10 2h0m-8 25h0m-2 30h0m10 27h0m0 8h0m-14 32h0m12 41h0m0 8h0m-1 50h0m-12 96h0m3 61h0m10 39h0m3 41h0m-23 30h0m27 11h0m-10 30h0m-8 228h0m38-1334h0m-13 80h0m20 33h0m-19 21h0m-4 118h0m1 173h0m3 22h0m21 38h0m1 2h0m-22 168h0m15 9h0m3 69h0m-18 5h0m15 69h0m1 2h0m7 13h0m-9 0h0m3 19h0m4 80h0m-25 48h0m4 55h0m-4 18h0m9 34h0m42-1101h0m3 252h0m-3 25h0m5 8h0m-24 127h0m10 15h0m14 121h0m0 60h0m-26 24h0m12 53h0m-8 1h0m9 2h0m9 10h0m-4 7h0m1 38h0m2 19h0m-6 43h0m9 2h0m-7 3h0m-18 6h0m2 25h0m6 4h0m6 5h0m-6 14h0m2 37h0m4 9h0m7 164h0m0 66h0m1 89h0m-21 163h0m7 28h0m16 14h0m12-1201h0m17 107h0m-21 117h0m19 76h0m-8 116h0m14 65h0m-28 6h0m3 21h0m16 15h0m-6 43h0m13 25h0m-10 46h0m9 209h0m3 37h0m-8 6h0m-17 57h0m4 291h0m15 10h0m-2 1h0m21-1402h0m6 83h0m1 94h0m5 238h0m-10 83h0m-2 54h0m-1 21h0m7 41h0m-2 21h0m10 22h0m2 2h0m-21 99h0m20 13h0m-7 17h0m3 16h0m-7 100h0m12 31h0m2 61h0m-11 5h0m-16 18h0m20 63h0m0 5h0m-10 28h0m11 10h0m0 11h0m2 26h0m-5 231h0m30-1343h0m-6 102h0m5 50h0m-6 109h0m15 38h0m-13 31h0m-5 8h0m18 57h0m-7 53h0m-16 5h0m4 22h0m20 5h0m-20 62h0m17 32h0m-26 8h0m14 56h0m15 36h0m-16 5h0m10 33h0m-21 187h0m17 55h0m5 47h0m5 66h0m-6 2h0m6 52h0m-21 13h0m-6 47h0m19 15h0m2 6h0m2 48h0m-2 5h0m-20 47h0m9 35h0m32-1063h0m10 44h0m-23 66h0m11 1h0m-11 21h0m11 31h0m17 133h0m-2 15h0m-20 4h0m6 10h0m-4 262h0m1 24h0m18 218h0m-6 76h0m6 8h0m-4 24h0m2 2h0m-1 107h0m-2 26h0m28-1165h0m-3 24h0m-8 3h0m3 21h0m8 7h0m-16 21h0m4 30h0m6 47h0m-3 78h0m-1 30h0m-3 100h0m-2 98h0m-3 24h0m26 215h0m-3 59h0m1 194h0m-4 47h0m-15 4h0m6 13h0m14 2h0m-22 16h0m9 88h0m13 12h0m-27 27h0m16 38h0m36-1189h0m-18 110h0m-4 201h0m1 0h0m8 26h0m16 213h0m-24 100h0m2 15h0m9 84h0m-9 20h0m3 16h0m21 14h0m-15 69h0m15 23h0m-2 64h0m-23 21h0m26 4h0m-29 31h0m17 12h0m-16 46h0m15 4h0m12 11h0m-27 81h0m31-998h0m21 361h0m-6 55h0m-8 89h0m-8 16h0m18 54h0m-14 3h0m10 16h0m-13 15h0m1 120h0m18 40h0m-20 4h0m17 19h0m-7 56h0m-4 94h0m1 60h0m50-996h0m-27 78h0m11 57h0m17 345h0m-26 15h0m24 44h0m-20 12h0m21 411h0m-8 40h0m-2 19h0m28-941h0m6 2h0m-13 26h0m1 180h0m7 10h0m5 92h0m-5 128h0m-8 25h0m13 1h0m-19 49h0m23 14h0m-14 58h0m-10 45h0m0 70h0m14 17h0m10 53h0m-3 20h0m-9 118h0m32-967h0m9 68h0m-24 248h0m12 84h0m15 18h0m-25 67h0m12 3h0m11 71h0m-17 34h0m7 41h0m12 13h0m0 2h0m-13 35h0m0 111h0m-15 24h0m0 8h0m0 33h0m7 21h0m-6 1h0m18 11h0m26-715h0m-5 39h0m-6 6h0m24 13h0m-12 16h0m-13 116h0m11 107h0m-14 10h0m13 44h0m-13 31h0m29 2h0m-5 55h0m-19 36h0m1 8h0m-1 24h0m9 1h0m-2 18h0m0 71h0m6 51h0m-9 15h0m-1 17h0m-4 89h0m47-719h0m-21 2h0m17 158h0m6 11h0m-7 33h0m0 20h0m9 24h0m-24 8h0m26 56h0m-4 11h0m-16 75h0m8 101h0m-15 30h0m30-579h0m26 10h0m-9 31h0m7 37h0m2 215h0m-3 51h0m-4 30h0m-8 32h0m18 6h0m-21 19h0m18 71h0m-13 9h0m21-489h0m8 6h0m1 123h0m-5 33h0m3 20h0m13 249h0m-22 56h0m31-437h0m4 51h0m17 9h0m4 6h0m-26 107h0m-1 17h0m20 18h0m3 32h0m0 118h0m3 24h0m5-393h0m10 86h0m1 20h0m-10 26h0m-1 51h0m10 29h0m17 103h0m-2 52h0m-2 35h0m2 13h0m18-342h0m-5 71h0m13 22h0m-15 25h0m17 20h0m-20 151h0m44-176h0m-7 2h0m9 69h0m31-37h0" stroke="#5FD4C8" stroke-width="20"/>
<path d="M2394 6936h0m61-8h0m-14 50h0m34 568h0m0 26h0m12 20h0m-21 2h0m47-30h0m34-711h0m-26 65h0m24 32h0m-12 631h0m28-416h0m-10 394h0m38-1181h0m14 310h0m-21 301h0m30-353h0m46 192h0m7 82h0m-13 140h0m9 147h0m34-858h0m-1 608h0m2 84h0m11-396h0m-7 3h0m11 189h0m30-661h0m-7 464h0m6 58h0m3 67h0m12 64h0m-10 107h0m36-782h0m-19 153h0m1 254h0m25 105h0m-25 60h0m9 100h0m15 361h0m-17 17h0m36-717h0m6 167h0m-9 0h0m40-369h0m4 102h0m-13 724h0m0 113h0m10 14h0m-3 73h0m24-575h0m9 473h0m-8 20h0m-7 27h0m0 6h0m24-654h0m23 244h0m-2 346h0m-7 4h0m1 19h0m6 12h0m-7 5h0m33-571h0m-1 468h0m2 293h0m20-970h0m15 291h0m27 346h0m-9 43h0m21-17h0m21 73h0m22-534h0m-15 81h0m2 18h0m14 155h0m30 448h0m-16 184h0m119-595h0m0 184h0m47-125h0m23-2h0m35 157h0" stroke="#52C429" stroke-width="20"/>
<path d="M2029 6833h0m66 1h0m0 23h0m78-170h0m52-224h0m-1 215h0m53-198h0m-12 627h0m20-585h0m27-94h0m18 9h0m-7 67h0m-8 580h0m1 15h0m-3 25h0m24 14h0m28-281h0m-20 37h0m50 119h0m-22 16h0m-3 192h0m44-354h0m9 134h0m-10 110h0m25-108h0m2 124h0m13 2h0m-13 63h0m26-201h0m13 34h0m36-217h0m-2 14h0m4 24h0m-8 337h0m29-384h0m3 63h0m-6 320h0m-2 96h0m19-336h0m7 144h0m-4 21h0m12 112h0m29-566h0m-15 14h0m1 349h0m19 128h0m24-730h0m13 228h0m-23 20h0m21 281h0m27-523h0m-6 208h0m7 54h0m-2 18h0m-16 147h0m3 43h0m-5 6h0m24 290h0m23-783h0m-8 315h0m12 64h0m-6 71h0m1 38h0m-13 259h0m3 104h0m35-843h0m-14 160h0m20 82h0m-11 182h0m17 60h0m0 6h0m-22 84h0m24 131h0m12-892h0m14 526h0m3 33h0m-6 17h0m-1 18h0m-18 15h0m26 116h0m-28 148h0m0 182h0m40-932h0m-8 69h0m22 386h0m-19 33h0m6 54h0m14 106h0m-7 39h0m-4 104h0m-1 16h0m-3 61h0m-1 64h0m17 3h0m-22 121h0m21 201h0m24-1322h0m-8 86h0m12 550h0m-16 284h0m-3 66h0m19 7h0m-1 18h0m-12 177h0m9 72h0m23-755h0m15 122h0m-11 344h0m1 45h0m-2 81h0m34-1005h0m-15 68h0m1 104h0m0 107h0m23 6h0m-6 144h0m-16 414h0m8 48h0m8 152h0m-13 169h0m22-987h0m19 361h0m3 133h0m-23 55h0m18 154h0m-7 13h0m-4 18h0m-1 239h0m24-469h0m27 32h0m-16 44h0m16 128h0m-27 2h0m2 229h0m10 27h0m-10 77h0m36-1085h0m13 551h0m-11 40h0m10 23h0m-6 8h0m-6 0h0m-2 22h0m13 325h0m-19 74h0m56-653h0m-1 55h0m-16 3h0m9 22h0m-13 3h0m10 60h0m5 68h0m-18 42h0m22 3h0m4 1h0m-13 189h0m-7 111h0m-5 33h0m12 96h0m38-936h0m4 56h0m-19 32h0m-6 80h0m19 241h0m-7 81h0m8 210h0m-19 18h0m6 66h0m1 51h0m-5 47h0m1 19h0m20 55h0m10-750h0m-2 60h0m15 6h0m5 17h0m-1 9h0m-9 60h0m-8 29h0m1 19h0m19 14h0m-12 17h0m-15 39h0m19 21h0m-19 27h0m9 68h0m0 50h0m15 8h0m0 240h0m6-633h0m13 71h0m-6 1h0m14 5h0m-17 11h0m18 13h0m3 6h0m-3 4h0m-19 7h0m15 20h0m7 85h0m-16 124h0m-3 4h0m7 15h0m6 4h0m9 17h0m-25 9h0m17 10h0m-8 69h0m17 133h0m8-717h0m2 45h0m9 34h0m-5 25h0m-13 1h0m27 15h0m-19 2h0m-2 7h0m-1 71h0m12 19h0m-15 87h0m7 95h0m-3 86h0m22 67h0m0 81h0m-8 78h0m4 8h0m34-637h0m-12 4h0m4 25h0m-3 19h0m-4 23h0m16 128h0m-14 1h0m2 4h0m5 38h0m-4 14h0m-16 47h0m8 19h0m12 10h0m-10 208h0m-7 91h0m27-616h0m12 37h0m-9 12h0m1 4h0m13 2h0m-11 6h0m15 0h0m-7 159h0m-13 27h0m17 6h0m-3 6h0m8 12h0m-16 5h0m-9 26h0m19 51h0m22-379h0m-5 38h0m16 58h0m-13 62h0m-8 14h0m13 54h0m-4 25h0m3 17h0m1 128h0m22-334h0m-4 23h0m9 1h0m-7 45h0m20 16h0m4 6h0m-12 7h0m-15 46h0m18 15h0m14-157h0m17 26h0m3 100h0m-5 5h0m11 24h0m-1 60h0m-26 84h0m48-276h0m-15 72h0m-2 59h0m45-231h0m-6 8h0m3 108h0" stroke="#54D690" stroke-width="20"/>
<path d="M1985 6796h0m13 35h0m41 38h0m-13 7h0m39-56h0m23 16h0m38 21h0m22-186h0m23 4h0m13 474h0m8-465h0m14 430h0m-1 6h0m20-669h0m8 14h0m-13 220h0m9 373h0m-1 8h0m4 22h0m-2 60h0m8 11h0m-10 64h0m34-130h0m16 86h0m7-750h0m-4 602h0m4 25h0m6 21h0m-8 33h0m7 19h0m8 25h0m12-744h0m3 19h0m15 640h0m-1 74h0m7 78h0m-20 6h0m30-804h0m18 9h0m-9 26h0m2 563h0m9 3h0m-16 2h0m7 104h0m-10 72h0m42-188h0m-11 33h0m6 50h0m-7 54h0m2 44h0m1 9h0m14 4h0m27-253h0m-17 60h0m18 60h0m-11 5h0m-8 70h0m16 34h0m-12 23h0m41-386h0m-4 26h0m7 325h0m24-108h0m-3 86h0m11 390h0m23-579h0m8 126h0m-2 9h0m-4 2h0m11 49h0m26-196h0m-6 316h0m16-223h0m17 134h0m3 45h0m2 23h0m-16 301h0m23-1233h0m21 110h0m-5 63h0m-6 175h0m8 3h0m-4 6h0m18-440h0m24 10h0m-14 11h0m-12 6h0m24 19h0m-3 60h0m-9 20h0m-7 38h0m19 276h0m-5 195h0m4 1h0m-14 170h0m15 82h0m-5 16h0m-16 85h0m49-933h0m-24 20h0m28 23h0m-22 478h0m0 23h0m7 207h0m38-903h0m-13 80h0m12 29h0m-6 61h0m-11 6h0m3 67h0m22 20h0m-21 37h0m13 41h0m-12 162h0m-1 148h0m-5 3h0m36-650h0m-7 6h0m5 30h0m2 6h0m3 37h0m-1 14h0m2 7h0m12 45h0m-12 3h0m-2 90h0m6 106h0m13 36h0m-21 289h0m14 4h0m1 72h0m-12 197h0m-6 232h0m36-1179h0m-7 7h0m21 11h0m-19 39h0m7 10h0m-5 22h0m18 61h0m-25 22h0m23 2h0m-20 9h0m25 19h0m-25 27h0m22 46h0m-18 11h0m2 123h0m19 194h0m-18 14h0m46-529h0m-5 14h0m-21 22h0m16 22h0m-8 72h0m3 51h0m6 85h0m10 14h0m-1 481h0m-3 608h0m25-1441h0m-5 34h0m4 34h0m5 186h0m6 16h0m-3 242h0m-13 354h0m15 490h0m16-1202h0m9 21h0m-10 85h0m9 203h0m-4 32h0m-9 106h0m-5 1h0m2 357h0m12 30h0m-5 26h0m-12 12h0m8 0h0m-3 123h0m19 235h0m27-1220h0m-12 276h0m7 53h0m-16 249h0m6 326h0m22 37h0m10-689h0m0 357h0m-8 280h0m12 20h0m-10 5h0m21 16h0m-2 3h0m-3 7h0m-16 0h0m-3 25h0m7 215h0m41-365h0m-3 80h0m36-16h0m-6 41h0m-13 202h0m29-271h0m58 441h0m5-971h0m23 494h0m-16 374h0m-6 138h0m29-904h0m34 278h0m33-40h0m15 237h0m53-47h0m41 176h0" stroke="#D6932B" stroke-width="20"/>
<path d="M2398 7076h0m25-109h0m13 211h0m30-277h0m21 11h0m-20 13h0m47 68h0m-22 96h0m78-57h0m31-348h0m35-303h0m-4 9h0m4 61h0m-2 219h0m-24 12h0m29 180h0m-8 64h0m-1 3h0m-15 288h0m33-207h0m6 51h0m-4 67h0m39-646h0m5 15h0m-21 129h0m9 87h0m-8 97h0m1 248h0m8 157h0m46-925h0m-24 29h0m6 114h0m8 39h0m10 180h0m-20 28h0m6 143h0m0 28h0m5 1h0m-13 246h0m36-506h0m-8 2h0m17 177h0m-6 754h0m39-1176h0m-22 22h0m2 16h0m-2 190h0m25 62h0m-10 318h0m9 16h0m-20 481h0m3 61h0m23-1301h0m-2 742h0m21 605h0m-9 7h0m22-1231h0m2 964h0m-4 297h0m17 29h0m32-1103h0m1 83h0m-6 143h0m-3 32h0m42-106h0m-20 661h0m0 166h0m29-954h0m1 25h0m8 83h0m-11 987h0m53-814h0m-2 307h0m14-541h0m17 51h0m-20 164h0m34-143h0m15 127h0m-12 410h0m-12 191h0m7 165h0m37-42h0m22-57h0m-5 152h0m47-451h0m-16 95h0m18 192h0m155-482h0" stroke="#EC706B" stroke-width="20"/>
<path d="M2341 7008h0m178 532h0m26-443h0m0 56h0m-12 425h0m73-1227h0m-8 365h0m-10 154h0m2 271h0m71-961h0m21-8h0m-9 468h0m26 131h0m-15 268h0m16-556h0m3 237h0m5 160h0m47-243h0m70 14h0m22 194h0m7-89h0m24 95h0" stroke="#A8AA2C" stroke-width="20"/>
</g>
<g transform="scale(0.1)" fill="none" stroke-linecap="round">
<path d="M2509 6980h0m10 9h0m-5 5h0m-6 14h0m1 3h0m5 11h0m9-48h0m1 12h0m3 0h0m-6 12h0m18 0h0m-18 1h0m3 3h0m0 5h0m-1 12h0m-3 1h0m81-195h0m8 28h0m3-31h0m6 5h0m10 3h0m-3 2h0m9 5h0m-7 1h0m2 2h0m-3 0h0m-3 4h0m0 8h0m1 1h0m-6 1h0m7 0h0m-2 5h0m19-13h0m2 2h0m15 179h0m5 0h0m25-641h0m2 6h0m6 18h0m-6 6h0m3 0h0m4 9h0m-8 4h0m-10 589h0m5 1h0m12 0h0m-22 6h0m4 2h0m19 2h0m-5 1h0m-14 0h0m20 3h0m-27 6h0m10 1h0m-4 6h0m15 1h0m-3 63h0m-10 2h0m7 4h0m-15 2h0m14 7h0m25-732h0m1 2h0m-1 3h0m-8 6h0m-1 20h0m0 607h0m23 69h0m-17 8h0m7 3h0m-13 1h0m6 8h0m13 11h0m3 4h0m24-32h0m-6 4h0m5 0h0m3 2h0m-2 11h0m-3 0h0m-4 2h0m-10 1h0m6 11h0m51-346h0m-11 7h0m11 4h0m-1 2h0m-3 2h0m4 167h0m-28 148h0m37-335h0m-5 4h0m21 3h0m-1 6h0m4 10h0m-14 1h0m-2 4h0m-2 2h0m-8 4h0m28 134h0m-8 7h0m-2 3h0m8 12h0m-13 2h0m1 0h0m0 10h0m7 7h0m-1 5h0m9 0h0m-4 5h0m15-54h0m2 2h0m2 0h0m-10 6h0m7 0h0m8 1h0m7 3h0m-12 4h0m-9 4h0m13 0h0m11 3h0m-11 1h0m7 2h0m-17 2h0m12 1h0m-18 2h0m1 0h0m0 6h0m3 0h0m21 2h0m-7 2h0m-7 3h0m16 0h0m-3 1h0m-22 0h0m3 1h0m12 2h0m0 7h0m2 12h0m4 0h0m-3 12h0m6 381h0m-20 7h0m15 4h0m-16 1h0m8 1h0m-3 7h0m34-475h0m-14 2h0m9 0h0m-11 9h0m26 8h0m-17 0h0m-9 1h0m6 1h0m-4 1h0m13 1h0m2 2h0m-14 4h0m21 3h0m-14 11h0m19 6h0m-12 0h0m-11 4h0m20 20h0m-7 381h0m-6 1h0m-13 1h0m16 3h0m1 2h0m-7 1h0m2 20h0m-5 2h0m23-469h0m5 6h0m12 8h0m-1 6h0m4 7h0m8 1h0m-15 7h0m15 2h0m-7 1h0m-17 3h0m5 11h0m-9 2h0m10 5h0m46-170h0m-24 144h0m11 1h0m8 18h0m-19 4h0m5 1h0m5 11h0m35-195h0m-13 9h0m-3 1h0m16 4h0m-13 1h0m11 2h0m6 0h0m-17 5h0m20 2h0m-7 5h0m-2 8h0m-5 0h0m19 2h0m-8 24h0m-17 11h0m22 1h0m-9 2h0m2 2h0m8 9h0m-16 1h0m6 14h0m8 5h0m4 21h0m-1 350h0m-6 2h0m2 1h0m4 5h0m-11 251h0m14-694h0m5 18h0m-3 3h0m5 29h0m6 5h0m-4 6h0m-9 3h0m16 35h0m-2 3h0m3 10h0m0 321h0m8 4h0m-7 1h0m-4 3h0m8 4h0m-22 3h0m2 8h0m10 4h0m-1 3h0m-5 217h0m18 3h0m-9 1h0m-2 0h0m-9 2h0m1 3h0m7 3h0m8 8h0m-4 2h0m17-259h0m11 1h0m-10 0h0m16 2h0m8 1h0m-2 7h0m-12 2h0m-7 4h0m-4 5h0m47-377h0m-18 14h0m19 1h0m-21 0h0m28 1h0m-7 6h0m0 8h0m7 5h0m-11 7h0m-17 300h0m23 7h0m-9 7h0m-14 2h0m30-353h0m7 19h0m-2 0h0m2 7h0m-8 14h0m144 197h0m33-12h0m-10 5h0m12 6h0m-26 2h0m21 4h0m0 2h0m-14 7h0m7 2h0m-8 1h0m5 3h0m20-17h0" stroke="#ffffff" stroke-width="18"/>
</g>
<g transform="scale(0.1)" fill="none" stroke-linecap="round">
<path d="M2447 6905h0m-15 62h0m6 46h0m11 15h0m19-119h0m13 114h0m-13 2h0m-3 27h0m34-90h0m10 24h0m-4 27h0m-11 2h0m-2 15h0m3 47h0m11 12h0m-4 13h0m-7 1h0m37-248h0m-5 7h0m9 42h0m1 27h0m12 59h0m2-183h0m25 124h0m3 16h0m-1 7h0m-16 67h0m-6 88h0m19 11h0m5-317h0m12 1h0m-3 34h0m-9 55h0m25 3h0m-13 3h0m3 11h0m1 43h0m-9 13h0m-7 26h0m27 1h0m-9 26h0m-8 8h0m15 81h0m14-243h0m-6 23h0m-1 77h0m15 85h0m-14 18h0m-2 39h0m48-756h0m-15 339h0m19 6h0m5 4h0m0 141h0m-8 12h0m-8 24h0m8 8h0m9 54h0m-2 43h0m-22 24h0m16 2h0m-7 10h0m10 10h0m-5 8h0m6 37h0m16-791h0m2 5h0m-9 16h0m23 64h0m-20 18h0m-5 288h0m0 30h0m3 134h0m-4 51h0m27 9h0m-23 24h0m14 103h0m-7 3h0m-5 22h0m1 32h0m46-864h0m-19 41h0m11 2h0m12 60h0m-8 31h0m-6 23h0m-3 33h0m2 21h0m9 190h0m3 13h0m-13 3h0m-5 25h0m-3 81h0m16 43h0m-3 95h0m-16 1h0m11 21h0m10 20h0m-22 1h0m24 20h0m-17 13h0m8 39h0m-8 55h0m29-830h0m13 5h0m4 41h0m-17 83h0m12 74h0m0 213h0m-12 7h0m-2 39h0m-1 75h0m21 26h0m4 87h0m-10 77h0m-18 7h0m44-726h0m13 23h0m-21 37h0m2 137h0m16 4h0m-21 189h0m22 70h0m-15 9h0m10 22h0m-7 22h0m8 57h0m8 10h0m-25 39h0m8 0h0m-8 50h0m10 75h0m2 207h0m9 16h0m-6 36h0m-7 2h0m8 5h0m22-953h0m-5 20h0m10 57h0m-3 278h0m7 7h0m2 46h0m-7 140h0m2 16h0m-5 105h0m-10 205h0m19 25h0m-7 12h0m13 19h0m-11 245h0m-7 24h0m43-857h0m-14 16h0m18 31h0m-18 31h0m7 11h0m5 70h0m-1 66h0m-6 7h0m-9 25h0m12 49h0m-15 219h0m23 5h0m-18 8h0m0 100h0m-7 170h0m29 160h0m17-964h0m-1 26h0m8 46h0m-14 60h0m-4 11h0m18 6h0m1 31h0m-18 36h0m-6 9h0m21 24h0m-11 402h0m12 12h0m-7 138h0m-1 17h0m-9 20h0m12 4h0m-17 11h0m13 10h0m4 44h0m-9 1h0m18 3h0m-3 35h0m34-908h0m-27 5h0m15 30h0m-4 1h0m3 186h0m-8 347h0m1 219h0m-5 83h0m-2 41h0m4 8h0m52-868h0m-15 1h0m10 2h0m-3 24h0m-18 12h0m28 1h0m-26 0h0m1 394h0m12 1h0m12 72h0m-25 265h0m3 30h0m22 50h0m-6 4h0m38-940h0m-22 119h0m8 428h0m-13 24h0m27 185h0m-19 65h0m-6 49h0m13 31h0m-1 80h0m36-924h0m3 441h0m2 273h0m-6 43h0m-8 14h0m-9 26h0m13 15h0m-17 20h0m50-544h0m-9 44h0m11 59h0m-8 78h0m-1 38h0m-6 1h0m2 235h0m19 32h0m-28 29h0m32-536h0m10 2h0m-9 37h0m26 12h0m-13 34h0m-16 28h0m28 84h0m-9 104h0m1 203h0m6 6h0m1 55h0m-7 48h0m-2 0h0m-7 10h0m32-602h0m7 4h0m8 19h0m-23 70h0m8 67h0m-1 26h0m1 5h0m11 38h0m6-319h0m29 86h0m-11 22h0m9 78h0m-21 26h0m18 21h0m-9 25h0m4 2h0m-8 1h0m4 41h0m-13 36h0m9 5h0m21-284h0m-1 23h0m24 29h0m-17 19h0m19 23h0m-1 3h0m-1 7h0m-16 6h0m10 6h0m10 9h0m-2 2h0m-9 42h0m3 22h0m6 23h0m-17 6h0m3 110h0m3 9h0m29-375h0m0 9h0m-4 38h0m15 29h0m-9 11h0m-3 50h0m7 8h0m-21 71h0m11 10h0m2 20h0m8 2h0m-10 11h0m11 38h0m-5 57h0m-8 8h0m15 15h0m-24 14h0m37-394h0m-4 88h0m21 9h0m1 6h0m-20 23h0m20 31h0m4 2h0m-7 2h0m-7 21h0m12 13h0m-23 3h0m7 49h0m-11 7h0m14 54h0m-1 11h0m-1 5h0m3 16h0m4 19h0m40-304h0m-26 19h0m5 55h0m2 15h0m16 41h0m-20 11h0m-4 9h0m1 88h0m18 30h0m22-212h0m-8 50h0m-1 8h0m20 6h0m-2 90h0m-15 12h0m30-129h0m-1 89h0" stroke="#ffffff" stroke-width="14"/>
</g>
<g transform="scale(0.1)" fill="none" stroke-linecap="round">
<path d="M3085 6351h0m29-79h0m-8 13h0m13 26h0m-12 66h0m26-112h0m-7 102h0m31-162h0m0 43h0m10 2h0m-7 2h0m4 16h0m-7 58h0m10 227h0m8 12h0m0 10h0m4 23h0m-7 119h0m-1 24h0m33-588h0m2 12h0m-7 71h0m-1 143h0m-7 36h0m0 84h0m2 7h0m4 30h0m-9 48h0m8 22h0m-16 19h0m26 119h0m27-564h0m-6 19h0m6 125h0m-22 37h0m9 154h0m-7 148h0m3 36h0m0 26h0m5 28h0m-10 4h0m45-578h0m10 11h0m-16 21h0m-7 73h0m19 116h0m-19 15h0m17 29h0m-19 14h0m11 125h0m7 36h0m3 50h0m1 29h0m-13 26h0m-2 6h0m1 9h0m-1 9h0m17 6h0m8-582h0m24 109h0m-24 65h0m3 123h0m14 34h0m5 29h0m-2 54h0m-20 48h0m9 144h0m22-594h0m6 154h0m11 3h0m1 60h0m-14 245h0m21 97h0m5-494h0m24 189h0m8-157h0m1 12h0m17 152h0m-13 72h0m7 199h0m12-479h0m14 0h0m-2 54h0m14 89h0m0 30h0m-6 34h0m6 98h0m-19 14h0m15 213h0m15-549h0m-1 34h0m16 40h0m3 172h0m-15 91h0m3 70h0m-3 115h0m12 181h0m25-500h0m12 9h0m-2 67h0m-3 15h0m-12 12h0m11 48h0m2 149h0m-15 15h0m15 2h0m3 68h0m-13 4h0m13 89h0m-8 15h0m30-522h0m2 93h0m5 91h0m-1 107h0m-15 37h0m-11 151h0m24 106h0m23-522h0m4 10h0m-20 100h0m23 13h0m-24 116h0m19 145h0m-17 26h0m15 6h0m-7 33h0m12 85h0m37-440h0m-21 21h0m19 30h0m-20 44h0m8 41h0m-3 1h0m4 110h0m0 1h0m-14 34h0m9 34h0m5 13h0m10 34h0m33-304h0m-24 21h0m23 49h0m-25 137h0m3 11h0m-3 22h0m12 29h0m25-232h0m-5 16h0m17 20h0m4 84h0m-26 53h0m44-186h0m-14 21h0m16 26h0m4 112h0m-1 56h0m15-205h0m25 8h0m-24 18h0m-3 97h0m13 10h0m6 2h0m8 3h0m-7 6h0m9-99h0m3 3h0m8 80h0" stroke="#E873F7" stroke-width="20"/>
<path d="M3089 6325h0m-15 17h0m44-91h0m-15 48h0m-11 66h0m8 34h0m47-218h0m-1 5h0m3 31h0m-14 1h0m-7 91h0m0 5h0m-3 13h0m6 5h0m-4 15h0m38-112h0m-1 64h0m-14 22h0m22 3h0m-1 29h0m-4 21h0m-14 15h0m4 3h0m-7 25h0m4 14h0m32-161h0m20 328h0m31-474h0m-3 32h0m-10 124h0m14 74h0m-16 88h0m-12 1h0m22 37h0m-22 104h0m36-283h0m8 90h0m-1 37h0m15 102h0m-24 27h0m-4 59h0m19 114h0m-5 18h0m45-511h0m-6 81h0m-14 130h0m14 15h0m-21 51h0m15 0h0m-3 36h0m-13 174h0m4 40h0m29-587h0m-4 81h0m15 120h0m1 16h0m-12 309h0m10 8h0m2 18h0m-14 0h0m54-499h0m-3 161h0m7-133h0m5 51h0m23 11h0m-16 10h0m14 57h0m-13 3h0m8 144h0m-20 197h0m8 1h0m23-522h0m10 28h0m-11 30h0m12 92h0m-2 203h0m19-283h0m23 71h0m6 171h0m-6 47h0m-14 118h0m9 81h0m6 109h0m16-626h0m-1 137h0m-4 31h0m24 18h0m-16 5h0m-2 6h0m8 158h0m9 84h0m-13 48h0m1 73h0m-12 5h0m20 92h0m4 26h0m15-511h0m7 11h0m-19 15h0m17 2h0m-3 20h0m-15 7h0m0 106h0m6 6h0m11 32h0m3 24h0m-16 37h0m11 18h0m4 1h0m-12 33h0m12 1h0m-2 9h0m-11 21h0m22 54h0m-26 15h0m17 24h0m17-402h0m2 8h0m16 30h0m-8 125h0m-9 69h0m-6 98h0m22 74h0m24-230h0m-6 34h0m-1 72h0m34-50h0m5 3h0m-7 56h0m7 66h0m3 88h0m8-261h0m34 77h0m15 17h0m-6 21h0m-10 24h0m1 27h0m3 24h0m38-177h0m0 19h0m8 71h0m-9 74h0" stroke="#56B8F5" stroke-width="20"/>
<path d="M3066 6343h0m19 16h0m-6 17h0m28-150h0m11 138h0m-6 3h0m-11 26h0m32-210h0m4 12h0m9 39h0m-25 91h0m28 7h0m10-99h0m9 3h0m-2 16h0m-5 96h0m9 67h0m9 130h0m-8 3h0m-9 88h0m11 106h0m23-559h0m-7 26h0m-3 9h0m23 21h0m-20 2h0m-2 32h0m0 80h0m20 104h0m0 25h0m-8 20h0m4 6h0m-20 28h0m5 15h0m14 28h0m-17 23h0m20 2h0m-13 2h0m17 2h0m-10 4h0m23-336h0m3 300h0m10 166h0m31-507h0m-16 16h0m19 146h0m-22 45h0m1 1h0m-3 44h0m5 39h0m2 114h0m11 50h0m-19 6h0m32-550h0m23 253h0m-22 7h0m13 13h0m0 294h0m-15 19h0m9 25h0m36-579h0m-20 30h0m11 16h0m-7 11h0m10 3h0m-2 1h0m-3 44h0m-9 2h0m15 24h0m1 3h0m5 23h0m-17 105h0m22 13h0m-2 279h0m14-483h0m-8 14h0m18 106h0m-8 28h0m-10 75h0m40-247h0m19 33h0m-28 100h0m26 8h0m-24 1h0m-3 23h0m7 116h0m3 191h0m10 83h0m10-555h0m21 131h0m-1 86h0m-16 40h0m13 379h0m20-627h0m-2 10h0m14 19h0m-17 29h0m5 91h0m20 58h0m0 58h0m1 62h0m-18 10h0m4 32h0m4 2h0m-3 0h0m11 64h0m-24 39h0m24 140h0m-10 14h0m14-430h0m13 22h0m-10 32h0m15 180h0m-10 30h0m-3 52h0m8 23h0m5 95h0m-15 3h0m10 51h0m32-332h0m-15 36h0m10 44h0m-10 27h0m15 99h0m1 1h0m-11 8h0m17 2h0m-1 4h0m-21 7h0m15 133h0m10 38h0m10-504h0m4 13h0m-9 86h0m26 64h0m-7 34h0m-1 1h0m11 106h0m-7 25h0m-9 2h0m3 2h0m-3 53h0m-5 18h0m-8 21h0m41-434h0m-4 102h0m22 0h0m-23 46h0m12 10h0m-3 81h0m14 113h0m-28 0h0m3 5h0m23 15h0m-12 121h0m42-317h0m0 42h0m-6 59h0m-4 45h0m-6 34h0m5 53h0m36-254h0m-10 157h0m9 45h0m-17 99h0m53-283h0m-6 13h0m6 32h0m-8 3h0m31-2h0m-20 42h0m32-86h0m18 88h0m-3 13h0m-13 2h0m12 15h0m6 4h0m-19 19h0m1 17h0m28-130h0" stroke="#E873F7" stroke-width="20"/>
<path d="M3085 6285h0m12-81h0m16 26h0m3 1h0m3 13h0m0 9h0m-7 13h0m-8 16h0m2 53h0m5 10h0m37-203h0m-10 5h0m-12 89h0m1 8h0m-7 8h0m12 15h0m16 11h0m1 51h0m-24 100h0m39-256h0m11 4h0m-20 44h0m11 7h0m13 26h0m-29 36h0m3 35h0m14 16h0m9 31h0m-8 132h0m-9 150h0m42-403h0m-20 18h0m2 13h0m0 15h0m2 15h0m4 74h0m20 151h0m-25 105h0m37-323h0m-5 102h0m8 80h0m-11 68h0m13 35h0m-7 43h0m16 149h0m8-628h0m-3 156h0m10 131h0m9 31h0m8 82h0m-17 56h0m8 15h0m-9 6h0m11 95h0m10-522h0m20 19h0m-8 42h0m17 46h0m-17 83h0m-10 135h0m1 71h0m16 49h0m-10 24h0m20 29h0m-18 19h0m-7 13h0m51-487h0m-20 23h0m-5 8h0m19 0h0m11 57h0m3 3h0m11 8h0m4 7h0m-12 28h0m17 84h0m27-205h0m-15 500h0m9 146h0m35-714h0m-1 112h0m-9 93h0m-8 98h0m21 33h0m5 7h0m-12 3h0m24-325h0m8 144h0m2 5h0m5 66h0m0 249h0m-3 30h0m-4 6h0m22-294h0m-6 13h0m5 196h0m15 160h0m5 17h0m-10 33h0m13-430h0m15 11h0m10 3h0m-6 15h0m-15 30h0m15 22h0m-16 25h0m9 191h0m-9 90h0m8 22h0m9 2h0m15-425h0m-4 202h0m1 203h0m45-243h0m7 67h0m-2 31h0m-21 85h0m25 22h0m-13 42h0m-13 10h0m24 10h0m12-209h0m9 125h0m-8 41h0m-1 155h0m43-311h0m-15 133h0m3 16h0m84-135h0" stroke="#56B8F5" stroke-width="20"/>
<path d="M3116 6212h0m-18 13h0m0 50h0m20 27h0m-16 5h0m40-139h0m4 65h0m-15 40h0m-5 10h0m17 40h0m2 3h0m-15 36h0m10 81h0m31-258h0m-4 27h0m9 15h0m-14 35h0m8 37h0m-12 64h0m19 109h0m-21 27h0m8 131h0m22-436h0m-5 45h0m13 47h0m-11 92h0m4 6h0m0 56h0m13 122h0m-19 12h0m23 93h0m32-462h0m-21 60h0m24 121h0m-21 10h0m-3 4h0m23 81h0m-16 122h0m12 31h0m-1 91h0m5 30h0m25-559h0m-17 29h0m21 22h0m-27 169h0m12 24h0m14 120h0m1 105h0m9-510h0m3 91h0m10 85h0m8 36h0m-15 12h0m-4 9h0m21 302h0m24-426h0m-9 57h0m27-107h0m17 154h0m-10 41h0m-3 279h0m-8 69h0m23-404h0m24 99h0m2 256h0m12-485h0m11 6h0m2 45h0m-16 111h0m7 50h0m23-182h0m5 29h0m12 23h0m-19 57h0m24 82h0m-3 120h0m-18 285h0m30-427h0m-2 179h0m20 61h0m-13 2h0m4 50h0m11 29h0m-6 70h0m7 98h0m-1 16h0m4-537h0m18 43h0m-6 14h0m-9 52h0m8 85h0m-10 4h0m20 7h0m8 33h0m-1 22h0m-16 66h0m-12 102h0m29 35h0m-17 38h0m3 37h0m-5 46h0m18 10h0m8-549h0m7 152h0m6 46h0m-10 28h0m4 1h0m7 30h0m-16 234h0m17 20h0m22-447h0m1 39h0m-14 104h0m2 128h0m9 30h0m12 24h0m-10 24h0m42-278h0m-24 222h0m20 81h0m10-72h0m32-197h0m15 134h0m-14 8h0m10 50h0m33-157h0m-2 7h0m-13 58h0m23 69h0m-9 27h0m-16 4h0m43-137h0m3 42h0m7 67h0" stroke="#56B8F5" stroke-width="20"/>
<path d="M3075 6309h0m0 43h0m34-138h0m1 13h0m-18 58h0m5 89h0m29-162h0m20 12h0m-2 88h0m-18 8h0m18 9h0m5 50h0m24-209h0m-21 20h0m8 5h0m-4 31h0m4 23h0m-4 15h0m-4 43h0m-1 3h0m19 57h0m-3 1h0m-12 77h0m19 15h0m0 15h0m3 102h0m-11 20h0m9 100h0m17-539h0m-10 60h0m7 49h0m11 15h0m-19 28h0m6 63h0m-1 115h0m12 15h0m-14 28h0m25 54h0m-1 56h0m-12 49h0m6 12h0m-17 33h0m28-585h0m9 23h0m11 117h0m-9 27h0m10 33h0m-13 175h0m-8 29h0m15 25h0m5 47h0m-20 73h0m18 62h0m15-598h0m16 31h0m-3 298h0m-19 26h0m15 48h0m2 49h0m-11 117h0m-5 15h0m54-585h0m1 67h0m-12 53h0m11 71h0m-4 37h0m0 213h0m4 110h0m-21 56h0m38-450h0m10 40h0m-12 213h0m3 115h0m12 22h0m-5 2h0m13-448h0m22 105h0m-17 259h0m20 155h0m18-476h0m7 63h0m-3 9h0m-9 67h0m-3 239h0m16 33h0m15-478h0m10 37h0m-10 154h0m14 286h0m-23 34h0m0 25h0m40-501h0m-6 215h0m7 198h0m18 121h0m-21 117h0m8 14h0m21-663h0m-4 117h0m12 51h0m7 12h0m1 19h0m-16 57h0m14 6h0m-13 26h0m-8 19h0m3 21h0m24 17h0m2 73h0m-1 29h0m-27 49h0m25 161h0m-7 15h0m8 11h0m27-494h0m3 28h0m-4 26h0m-13 48h0m7 35h0m-5 1h0m9 26h0m-12 40h0m-4 19h0m9 6h0m4 62h0m-10 55h0m-5 93h0m5 52h0m-6 18h0m30-462h0m27 47h0m-11 5h0m-1 34h0m0 72h0m3 130h0m-5 15h0m-12 20h0m0 20h0m35-296h0m4 25h0m-4 51h0m13 3h0m6 126h0m0 37h0m-6 34h0m-14 17h0m-3 16h0m21 41h0m19-361h0m7 52h0m-10 22h0m17 20h0m-25 133h0m10 48h0m-8 90h0m49-273h0m-15 2h0m-1 30h0m-4 129h0m13 53h0m21-194h0m7 28h0m-11 41h0m22 46h0m-23 24h0m38-160h0m5 56h0m-6 138h0m44-173h0m-5 14h0m-3 11h0m13 30h0m-6 21h0m-4 9h0m17-31h0" stroke="#E873F7" stroke-width="20"/>
<path d="M3086 6219h0m-5 128h0m32-52h0m-23 61h0m24 59h0m21-260h0m1 28h0m-4 24h0m-8 150h0m38-197h0m6 9h0m-13 16h0m10 28h0m3 22h0m-15 177h0m7 30h0m9 42h0m1 214h0m29-548h0m4 23h0m0 19h0m-22 32h0m-1 13h0m24 201h0m-20 54h0m10 143h0m-7 15h0m-5 34h0m55-545h0m-11 174h0m8 48h0m-10 22h0m-4 26h0m-8 62h0m27 36h0m-2 43h0m-15 22h0m-5 37h0m13 55h0m37-504h0m-3 99h0m-2 13h0m3 41h0m3 141h0m-2 16h0m-7 81h0m-14 22h0m17 7h0m4 150h0m17-522h0m-13 22h0m18 83h0m-16 81h0m24 161h0m-9 32h0m6 65h0m-3 93h0m13-550h0m15 115h0m-9 29h0m19 133h0m-20 208h0m3 31h0m6 9h0m20-442h0m14 33h0m-1 15h0m-1 143h0m-4 220h0m-9 13h0m23 16h0m9-442h0m0 50h0m7 138h0m-11 241h0m4 68h0m35-369h0m8 80h0m-4 1h0m6 42h0m-5 16h0m1 34h0m8 365h0m8-594h0m7 62h0m5 26h0m-2 6h0m5 14h0m-6 12h0m7 222h0m-16 15h0m21 10h0m-20 27h0m13 3h0m5 29h0m-10 100h0m6 17h0m39-312h0m-26 108h0m2 0h0m14 59h0m-8 145h0m30-466h0m-9 8h0m26 21h0m-17 33h0m18 8h0m-9 59h0m-8 71h0m3 54h0m13 109h0m-3 8h0m-4 16h0m-7 37h0m8 56h0m-4 14h0m33-410h0m-4 37h0m-13 54h0m25 48h0m-11 19h0m10 64h0m-22 23h0m-5 13h0m14 40h0m44-231h0m-2 75h0m-27 26h0m24 92h0m3 7h0m-10 64h0m-15 15h0m16 19h0m10 32h0m-27 9h0m8 46h0m40-337h0m10 7h0m-6 8h0m-4 8h0m-1 8h0m-7 163h0m-10 5h0m18 76h0m24-260h0m-5 7h0m20 2h0m-1 76h0m-22 31h0m31-161h0m13 111h0m-17 12h0m20 64h0m-16 57h0m25-118h0m21 64h0m31-81h0m23 21h0m-14 17h0" stroke="#E873F7" stroke-width="20"/>
<path d="M3089 6302h0m-12 33h0m38-105h0m-25 40h0m3 1h0m3 15h0m10 32h0m-11 6h0m8 12h0m9 21h0m-13 33h0m21-207h0m22 38h0m-12 40h0m8 51h0m-8 13h0m15 27h0m-12 14h0m14 86h0m-27 18h0m50-251h0m7 11h0m-20 78h0m-4 70h0m43-202h0m-8 25h0m8 248h0m-15 69h0m14 44h0m5 55h0m8 21h0m4-398h0m21 2h0m-16 81h0m0 52h0m15 51h0m3 4h0m-1 7h0m-1 9h0m1 83h0m-8 3h0m-9 14h0m17 2h0m-15 48h0m3 3h0m32-297h0m-14 74h0m2 15h0m11 78h0m-7 119h0m16 8h0m-16 138h0m33-505h0m10 91h0m9 162h0m-25 66h0m24 81h0m3-390h0m27 92h0m-25 11h0m1 8h0m10 68h0m-7 225h0m0 79h0m36-500h0m2 86h0m4 11h0m1 8h0m-1 41h0m-9 320h0m-3 35h0m21 21h0m27-462h0m-10 139h0m6 97h0m16-264h0m13 36h0m5 76h0m-2 100h0m5 1h0m-22 19h0m34-240h0m0 105h0m14 101h0m-10 60h0m-11 43h0m22 77h0m-6 35h0m4 182h0m-10 67h0m20-692h0m1 210h0m-3 19h0m12 26h0m-5 109h0m9 147h0m4 63h0m4 58h0m-24 62h0m32-500h0m-1 26h0m27 5h0m-16 13h0m-2 25h0m10 76h0m-2 14h0m-3 99h0m-14 39h0m4 85h0m13 37h0m7 62h0m-4 20h0m-16 34h0m-3 6h0m54-376h0m3 21h0m-1 103h0m-8 22h0m-7 108h0m2 110h0m-7 37h0m26-512h0m4 65h0m12 84h0m6 137h0m-14 58h0m47-183h0m-14 107h0m2 53h0m-13 38h0m33-218h0m20 0h0m-13 27h0m3 8h0m-7 50h0m-5 49h0m-3 152h0m50-272h0m0 35h0m-14 130h0m1 49h0m32-203h0m8 13h0m-9 93h0m5 16h0m17-12h0" stroke="#56B8F5" stroke-width="20"/>
</g>
<path d="M200 732.7V779.9H246.6" stroke="#231815" stroke-width="1.25" fill="none"/><path d="M200 729.7l-2.7 4.8h5.4z" fill="#231815"/><path d="M249.6 779.9l-4.8 -2.7v5.4z" fill="#231815"/>
<text x="199.6" y="793.2" font-size="11.6" font-weight="bold" fill="#000000">t−SNE1</text>
<text transform="translate(191.8,782) rotate(-90)" font-size="11.6" font-weight="bold" fill="#000000">t−SNE2</text>
<circle cx="289.8" cy="770.4" r="5.4" fill="#EC706B"/><text x="301.1" y="774.4" font-size="11.3" fill="#000000">SCC1</text><circle cx="289.8" cy="785.3" r="5.4" fill="#D6932B"/><text x="301.1" y="789.3" font-size="11.3" fill="#000000">SCC2</text><circle cx="289.8" cy="800.2" r="5.4" fill="#A8AA2C"/><text x="301.1" y="804.2" font-size="11.3" fill="#000000">ACC1</text><circle cx="289.8" cy="815.1" r="5.4" fill="#52C429"/><text x="301.1" y="819.1" font-size="11.3" fill="#000000">ACC2</text><circle cx="289.8" cy="830" r="5.4" fill="#54D690"/><text x="301.1" y="834" font-size="11.3" fill="#000000">IMT1</text><circle cx="346" cy="770.4" r="5.4" fill="#5FD4C8"/><text x="357.3" y="774.4" font-size="11.3" fill="#000000">IMT2</text><circle cx="346" cy="785.3" r="5.4" fill="#56B8F5"/><text x="357.3" y="789.3" font-size="11.3" fill="#000000">NOR1</text><circle cx="346" cy="800.2" r="5.4" fill="#9A96FB"/><text x="357.3" y="804.2" font-size="11.3" fill="#000000">NOR2</text><circle cx="346" cy="815.1" r="5.4" fill="#E873F7"/><text x="357.3" y="819.1" font-size="11.3" fill="#000000">NOR3</text><circle cx="346" cy="830" r="5.4" fill="#FB66C4"/><text x="357.3" y="834" font-size="11.3" fill="#000000">NOR4</text>
<text x="383" y="619.2" font-size="21.6" fill="#231815">F</text>
<rect x="437.9" y="612.90" width="13.9" height="2.90" fill="#EC706B"/>
<rect x="437.9" y="615.80" width="13.9" height="7.72" fill="#C9982A"/>
<rect x="437.9" y="623.52" width="13.9" height="13.32" fill="#86BC26"/>
<rect x="437.9" y="636.84" width="13.9" height="22.01" fill="#53D374"/>
<rect x="437.9" y="658.86" width="13.9" height="121.27" fill="#56B4FB"/>
<rect x="437.9" y="780.12" width="13.9" height="25.88" fill="#C77DFF"/>
<rect x="453.9" y="612.90" width="13.9" height="1.93" fill="#EC706B"/>
<rect x="453.9" y="614.83" width="13.9" height="19.31" fill="#C9982A"/>
<rect x="453.9" y="634.14" width="13.9" height="5.02" fill="#53D374"/>
<rect x="453.9" y="639.16" width="13.9" height="6.76" fill="#5FD4CA"/>
<rect x="453.9" y="645.92" width="13.9" height="90.56" fill="#56B4FB"/>
<rect x="453.9" y="736.48" width="13.9" height="47.89" fill="#C77DFF"/>
<rect x="453.9" y="784.37" width="13.9" height="21.63" fill="#FF62DC"/>
<rect x="469.9" y="612.90" width="13.9" height="1.93" fill="#EC706B"/>
<rect x="469.9" y="614.83" width="13.9" height="18.54" fill="#C9982A"/>
<rect x="469.9" y="633.37" width="13.9" height="7.72" fill="#53D374"/>
<rect x="469.9" y="641.09" width="13.9" height="15.25" fill="#5FD4CA"/>
<rect x="469.9" y="656.35" width="13.9" height="132.27" fill="#56B4FB"/>
<rect x="469.9" y="788.62" width="13.9" height="17.38" fill="#C77DFF"/>
<rect x="485.9" y="612.90" width="13.9" height="0.97" fill="#EC706B"/>
<rect x="485.9" y="613.87" width="13.9" height="14.29" fill="#C9982A"/>
<rect x="485.9" y="628.15" width="13.9" height="12.94" fill="#53D374"/>
<rect x="485.9" y="641.09" width="13.9" height="10.04" fill="#5FD4CA"/>
<rect x="485.9" y="651.13" width="13.9" height="122.81" fill="#56B4FB"/>
<rect x="485.9" y="773.95" width="13.9" height="32.05" fill="#C77DFF"/>
<rect x="501.9" y="612.90" width="13.9" height="7.34" fill="#EC706B"/>
<rect x="501.9" y="620.24" width="13.9" height="13.52" fill="#C9982A"/>
<rect x="501.9" y="633.75" width="13.9" height="24.72" fill="#53D374"/>
<rect x="501.9" y="658.47" width="13.9" height="137.49" fill="#56B4FB"/>
<rect x="501.9" y="795.96" width="13.9" height="10.04" fill="#C77DFF"/>
<rect x="517.9" y="612.90" width="13.9" height="0.77" fill="#EC706B"/>
<rect x="517.9" y="613.67" width="13.9" height="6.18" fill="#C9982A"/>
<rect x="517.9" y="619.85" width="13.9" height="0.77" fill="#86BC26"/>
<rect x="517.9" y="620.62" width="13.9" height="29.93" fill="#53D374"/>
<rect x="517.9" y="650.55" width="13.9" height="126.29" fill="#56B4FB"/>
<rect x="517.9" y="776.84" width="13.9" height="29.16" fill="#C77DFF"/>
<rect x="533.9" y="612.90" width="13.9" height="192.71" fill="#53D374"/>
<rect x="533.9" y="805.61" width="13.9" height="0.39" fill="#56B4FB"/>
<rect x="549.9" y="612.90" width="13.9" height="192.33" fill="#53D374"/>
<rect x="549.9" y="805.23" width="13.9" height="0.77" fill="#56B4FB"/>
<rect x="565.9" y="612.90" width="13.9" height="192.52" fill="#53D374"/>
<rect x="565.9" y="805.42" width="13.9" height="0.58" fill="#56B4FB"/>
<rect x="581.9" y="612.90" width="13.9" height="114.51" fill="#53D374"/>
<rect x="581.9" y="727.41" width="13.9" height="8.30" fill="#5FD4CA"/>
<rect x="581.9" y="735.71" width="13.9" height="61.60" fill="#56B4FB"/>
<rect x="581.9" y="797.31" width="13.9" height="8.69" fill="#FF62DC"/>
<rect x="435.4" y="603" width="162.9" height="212.7" fill="none" stroke="#2b2b2b" stroke-width="1" shape-rendering="crispEdges"/>
<path d="M435.4 806h-3.3" stroke="#2b2b2b" stroke-width="1"/>
<text x="430.7" y="809.8" font-size="10.7" text-anchor="end" fill="#000000">0.00</text>
<path d="M435.4 757.7h-3.3" stroke="#2b2b2b" stroke-width="1"/>
<text x="430.7" y="761.5" font-size="10.7" text-anchor="end" fill="#000000">0.25</text>
<path d="M435.4 709.5h-3.3" stroke="#2b2b2b" stroke-width="1"/>
<text x="430.7" y="713.2" font-size="10.7" text-anchor="end" fill="#000000">0.50</text>
<path d="M435.4 661.2h-3.3" stroke="#2b2b2b" stroke-width="1"/>
<text x="430.7" y="665" font-size="10.7" text-anchor="end" fill="#000000">0.75</text>
<path d="M435.4 612.9h-3.3" stroke="#2b2b2b" stroke-width="1"/>
<text x="430.7" y="616.7" font-size="10.7" text-anchor="end" fill="#000000">1.00</text>
<path d="M444.8 815.7v3.3" stroke="#2b2b2b" stroke-width="1"/>
<text transform="translate(448.4,825.3) rotate(-45)" font-size="11.3" text-anchor="end" fill="#000000">SCC1</text>
<path d="M460.8 815.7v3.3" stroke="#2b2b2b" stroke-width="1"/>
<text transform="translate(464.4,825.3) rotate(-45)" font-size="11.3" text-anchor="end" fill="#000000">SCC2</text>
<path d="M476.8 815.7v3.3" stroke="#2b2b2b" stroke-width="1"/>
<text transform="translate(480.4,825.3) rotate(-45)" font-size="11.3" text-anchor="end" fill="#000000">ACC1</text>
<path d="M492.8 815.7v3.3" stroke="#2b2b2b" stroke-width="1"/>
<text transform="translate(496.4,825.3) rotate(-45)" font-size="11.3" text-anchor="end" fill="#000000">ACC2</text>
<path d="M508.8 815.7v3.3" stroke="#2b2b2b" stroke-width="1"/>
<text transform="translate(512.4,825.3) rotate(-45)" font-size="11.3" text-anchor="end" fill="#000000">IMT1</text>
<path d="M524.9 815.7v3.3" stroke="#2b2b2b" stroke-width="1"/>
<text transform="translate(528.5,825.3) rotate(-45)" font-size="11.3" text-anchor="end" fill="#000000">IMT2</text>
<path d="M540.9 815.7v3.3" stroke="#2b2b2b" stroke-width="1"/>
<text transform="translate(544.5,825.3) rotate(-45)" font-size="11.3" text-anchor="end" fill="#000000">NOR1</text>
<path d="M556.9 815.7v3.3" stroke="#2b2b2b" stroke-width="1"/>
<text transform="translate(560.5,825.3) rotate(-45)" font-size="11.3" text-anchor="end" fill="#000000">NOR2</text>
<path d="M572.9 815.7v3.3" stroke="#2b2b2b" stroke-width="1"/>
<text transform="translate(576.5,825.3) rotate(-45)" font-size="11.3" text-anchor="end" fill="#000000">NOR3</text>
<path d="M588.9 815.7v3.3" stroke="#2b2b2b" stroke-width="1"/>
<text transform="translate(592.5,825.3) rotate(-45)" font-size="11.3" text-anchor="end" fill="#000000">NOR4</text>
<text transform="translate(407.6,705) rotate(-90)" font-size="14.2" font-weight="bold" text-anchor="middle" fill="#000000">percentage</text>
<text x="520.6" y="858" font-size="14.2" font-weight="bold" text-anchor="middle" fill="#000000">Group</text>
<text x="601.4" y="625.2" font-size="11.3" font-weight="bold" fill="#000000">celltype</text>
<rect x="601.4" y="638.7" width="12.6" height="12.6" fill="#EC706B"/>
<text x="615.6" y="649" font-size="11.3" fill="#000000">cDC1</text>
<rect x="601.4" y="658.7" width="12.6" height="12.6" fill="#C9982A"/>
<text x="615.6" y="669" font-size="11.3" fill="#000000">cDC2</text>
<rect x="601.4" y="678.7" width="12.6" height="12.6" fill="#86BC26"/>
<text x="615.6" y="689" font-size="11.3" fill="#000000">DC−activated</text>
<rect x="601.4" y="698.7" width="12.6" height="12.6" fill="#53D374"/>
<text x="615.6" y="709" font-size="11.3" fill="#000000">Macrophages</text>
<rect x="601.4" y="718.7" width="12.6" height="12.6" fill="#5FD4CA"/>
<text x="615.6" y="729" font-size="11.3" fill="#000000">Mast</text>
<rect x="601.4" y="738.7" width="12.6" height="12.6" fill="#56B4FB"/>
<text x="615.6" y="749" font-size="11.3" fill="#000000">Monocytes</text>
<rect x="601.4" y="758.7" width="12.6" height="12.6" fill="#C77DFF"/>
<text x="615.6" y="769" font-size="11.3" fill="#000000">Neutrophil</text>
<rect x="601.4" y="778.7" width="12.6" height="12.6" fill="#FF62DC"/>
<text x="615.6" y="789" font-size="11.3" fill="#000000">pDC</text>
<text x="3" y="870.2" font-size="21.6" fill="#231815">G</text>
<rect x="27.4" y="882.4" width="241.5" height="243" fill="none" stroke="#8c8c8c" stroke-width="0.9"/>
<path d="M45.5 891.7v-6.0M74.9 891.7v-3.0M104.4 891.7v-9.3M133.8 891.7v-3.0M163.3 891.7v-5.5M192.7 891.7v-5.5M222.1 891.7v-5.5M74.9 901.1v-5.0M163.3 901.1v-2.0M222.1 901.1v-4.0M163.3 910.4v-2.5M192.7 910.4v-5.5M222.1 910.4v-2.0M45.5 919.8v-4.0M74.9 919.8v-2.0M104.4 919.8v-5.0M133.8 919.8v-4.0M163.3 919.8v-2.5M192.7 919.8v-4.0M222.1 919.8v-5.0M74.9 929.1v-2.0M133.8 929.1v-5.0M163.3 929.1v-2.5M251.6 929.1v-2.0M163.3 938.5v-5.5M251.6 938.5v-2.5M74.9 947.8v-4.0M133.8 947.8v-3.0M163.3 947.8v-2.5M251.6 947.8v-4.0M45.5 957.2v-4.0M74.9 957.2v-2.0M133.8 957.2v-2.5M163.3 957.2v-5.0M222.1 957.2v-5.0M251.6 957.2v-4.0M45.5 966.5v-4.0M74.9 966.5v-2.5M104.4 966.5v-3.0M133.8 966.5v-2.0M163.3 966.5v-2.5M222.1 966.5v-2.5M251.6 966.5v-2.5M45.5 975.9v-4.0M74.9 975.9v-3.0M104.4 975.9v-5.0M133.8 975.9v-2.5M192.7 975.9v-5.0M222.1 975.9v-5.5M251.6 975.9v-5.5M45.5 985.2v-4.0M74.9 985.2v-2.5M104.4 985.2v-9.3M133.8 985.2v-2.5M192.7 985.2v-4.0M222.1 985.2v-3.0M251.6 985.2v-2.0M45.5 994.6v-5.0M74.9 994.6v-4.0M104.4 994.6v-4.0M133.8 994.6v-2.5M192.7 994.6v-3.0M222.1 994.6v-2.0M251.6 994.6v-3.0M45.5 1003.9v-5.0M74.9 1003.9v-5.0M104.4 1003.9v-6.0M133.8 1003.9v-2.0M192.7 1003.9v-5.0M222.1 1003.9v-5.5M251.6 1003.9v-5.5M45.5 1013.2v-5.0M74.9 1013.2v-2.0M104.4 1013.2v-5.0M163.3 1013.2v-3.0M192.7 1013.2v-3.0M222.1 1013.2v-4.0M251.6 1013.2v-5.5M45.5 1022.6v-5.0M104.4 1022.6v-4.0M192.7 1022.6v-4.0M222.1 1022.6v-4.0M251.6 1022.6v-5.5M45.5 1031.9v-4.0M74.9 1031.9v-2.0M104.4 1031.9v-5.0M163.3 1031.9v-2.0M192.7 1031.9v-5.5M222.1 1031.9v-3.0M251.6 1031.9v-4.0M45.5 1041.3v-3.0M74.9 1041.3v-5.0M133.8 1041.3v-4.0M192.7 1041.3v-3.0M222.1 1041.3v-4.0M45.5 1050.6v-6.0M74.9 1050.6v-2.0M133.8 1050.6v-4.0M163.3 1050.6v-2.0M192.7 1050.6v-5.5M222.1 1050.6v-2.5M251.6 1050.6v-5.0M74.9 1060.0v-2.5M133.8 1060.0v-2.0M163.3 1060.0v-2.5M222.1 1060.0v-4.0M251.6 1060.0v-3.0M45.5 1069.3v-6.0M104.4 1069.3v-5.0M133.8 1069.3v-5.0M163.3 1069.3v-3.0M192.7 1069.3v-4.0M222.1 1069.3v-2.0M251.6 1069.3v-5.0M45.5 1078.7v-9.3M104.4 1078.7v-5.0M133.8 1078.7v-3.0M163.3 1078.7v-2.0M192.7 1078.7v-4.0M222.1 1078.7v-2.0M251.6 1078.7v-2.5M45.5 1088.0v-5.0M104.4 1088.0v-6.0M163.3 1088.0v-5.0M192.7 1088.0v-3.0M222.1 1088.0v-2.5M251.6 1088.0v-3.0M222.1 1097.4v-3.0M45.5 1106.7v-9.3M74.9 1106.7v-5.0M104.4 1106.7v-3.0M133.8 1106.7v-3.0M163.3 1106.7v-5.5M192.7 1106.7v-3.0M222.1 1106.7v-3.0M251.6 1106.7v-2.5M74.9 1116.0v-2.0M133.8 1116.0v-5.5M163.3 1116.0v-2.5M222.1 1116.0v-5.5M251.6 1116.0v-5.5M74.9 1125.4v-3.0M133.8 1125.4v-4.0M163.3 1125.4v-2.5M251.6 1125.4v-5.5" stroke="#333" stroke-width="0.65" fill="none"/>
<path d="M45.2 901.1L45.2 900.8L45.2 900.4L44.9 900.1L44.6 899.8L44.2 899.4L43.8 899.1L43.4 898.8L43.0 898.4L42.5 898.1L42.1 897.8L41.8 897.4L42.3 897.1L42.7 896.8L43.2 896.4L43.6 896.1L44.0 895.8L44.4 895.4L44.7 895.1L45.0 894.8L45.2 894.4L45.2 894.1L45.2 893.7L45.2 893.4L45.2 893.1L45.2 892.7L45.2 892.4L45.2 892.1L45.2 891.7L45.8 891.7L45.8 892.1L45.8 892.4L45.8 892.7L45.8 893.1L45.8 893.4L45.8 893.7L45.8 894.1L45.8 894.4L46.0 894.8L46.3 895.1L46.6 895.4L47.0 895.8L47.4 896.1L47.8 896.4L48.3 896.8L48.7 897.1L49.2 897.4L48.9 897.8L48.5 898.1L48.0 898.4L47.6 898.8L47.2 899.1L46.8 899.4L46.4 899.8L46.1 900.1L45.8 900.4L45.8 900.8L45.8 901.1ZM45.2 910.4L45.2 910.1L45.2 909.8L45.2 909.4L45.1 909.1L44.8 908.8L44.5 908.4L44.2 908.1L43.9 907.8L43.5 907.4L43.2 907.1L42.8 906.8L42.4 906.4L42.0 906.1L41.8 905.8L42.2 905.4L42.6 905.1L43.0 904.8L43.3 904.4L43.7 904.1L44.0 903.8L44.3 903.4L44.6 903.1L44.9 902.8L45.2 902.4L45.2 902.1L45.2 901.8L45.2 901.4L45.2 901.1L45.8 901.1L45.8 901.4L45.8 901.8L45.8 902.1L45.8 902.4L46.1 902.8L46.4 903.1L46.7 903.4L47.0 903.8L47.3 904.1L47.7 904.4L48.0 904.8L48.4 905.1L48.8 905.4L49.2 905.8L49.0 906.1L48.6 906.4L48.2 906.8L47.8 907.1L47.5 907.4L47.1 907.8L46.8 908.1L46.5 908.4L46.2 908.8L45.9 909.1L45.8 909.4L45.8 909.8L45.8 910.1L45.8 910.4ZM45.2 929.1L45.2 928.8L45.2 928.5L45.2 928.1L45.2 927.8L45.2 927.5L44.9 927.1L44.7 926.8L44.4 926.5L44.5 926.1L44.7 925.8L45.0 925.5L45.2 925.1L45.2 924.8L45.2 924.5L45.2 924.1L45.2 923.8L45.2 923.5L45.2 923.1L45.2 922.8L45.2 922.5L45.2 922.1L45.2 921.8L45.2 921.5L45.2 921.1L45.2 920.8L45.2 920.5L45.2 920.1L45.2 919.8L45.8 919.8L45.8 920.1L45.8 920.5L45.8 920.8L45.8 921.1L45.8 921.5L45.8 921.8L45.8 922.1L45.8 922.5L45.8 922.8L45.8 923.1L45.8 923.5L45.8 923.8L45.8 924.1L45.8 924.5L45.8 924.8L45.8 925.1L46.0 925.5L46.3 925.8L46.5 926.1L46.6 926.5L46.3 926.8L46.1 927.1L45.8 927.5L45.8 927.8L45.8 928.1L45.8 928.5L45.8 928.8L45.8 929.1ZM33.5 938.5L41.6 938.1L44.2 937.8L43.9 937.5L43.1 937.1L42.4 936.8L41.5 936.5L40.7 936.1L39.7 935.8L38.8 935.5L37.8 935.1L36.8 934.8L35.8 934.5L36.8 934.1L37.9 933.8L38.8 933.5L39.8 933.1L40.7 932.8L41.5 932.5L42.4 932.1L43.2 931.8L43.9 931.5L44.5 931.1L45.1 930.8L45.2 930.5L45.2 930.1L45.2 929.8L45.2 929.5L45.2 929.1L45.8 929.1L45.8 929.5L45.8 929.8L45.8 930.1L45.8 930.5L45.9 930.8L46.5 931.1L47.1 931.5L47.8 931.8L48.6 932.1L49.5 932.5L50.3 932.8L51.2 933.1L52.2 933.5L53.1 933.8L54.2 934.1L55.2 934.5L54.2 934.8L53.2 935.1L52.2 935.5L51.3 935.8L50.3 936.1L49.5 936.5L48.6 936.8L47.9 937.1L47.1 937.5L46.8 937.8L49.4 938.1L57.5 938.5ZM45.2 947.8L45.2 947.5L45.2 947.2L45.0 946.8L44.6 946.5L44.3 946.2L43.9 945.8L43.5 945.5L43.1 945.2L42.6 944.8L42.8 944.5L43.3 944.2L43.7 943.8L44.1 943.5L44.4 943.1L44.8 942.8L45.1 942.5L45.2 942.1L45.2 941.8L45.2 941.5L45.2 941.1L45.2 940.8L45.2 940.5L45.2 940.1L45.2 939.8L45.2 939.5L45.2 939.1L45.2 938.8L45.2 938.5L45.8 938.5L45.8 938.8L45.8 939.1L45.8 939.5L45.8 939.8L45.8 940.1L45.8 940.5L45.8 940.8L45.8 941.1L45.8 941.5L45.8 941.8L45.8 942.1L45.9 942.5L46.2 942.8L46.6 943.1L46.9 943.5L47.3 943.8L47.7 944.2L48.2 944.5L48.4 944.8L47.9 945.2L47.5 945.5L47.1 945.8L46.7 946.2L46.4 946.5L46.0 946.8L45.8 947.2L45.8 947.5L45.8 947.8ZM45.2 1060.0L45.2 1059.6L45.2 1059.3L45.2 1059.0L45.0 1058.6L44.8 1058.3L44.5 1058.0L44.3 1057.6L44.0 1057.3L43.7 1057.0L43.6 1056.6L43.9 1056.3L44.1 1056.0L44.4 1055.6L44.6 1055.3L44.8 1055.0L45.0 1054.6L45.2 1054.3L45.2 1054.0L45.2 1053.6L45.2 1053.3L45.2 1053.0L45.2 1052.6L45.2 1052.3L45.2 1052.0L45.2 1051.6L45.2 1051.3L45.2 1051.0L45.2 1050.6L45.8 1050.6L45.8 1051.0L45.8 1051.3L45.8 1051.6L45.8 1052.0L45.8 1052.3L45.8 1052.6L45.8 1053.0L45.8 1053.3L45.8 1053.6L45.8 1054.0L45.8 1054.3L46.0 1054.6L46.2 1055.0L46.4 1055.3L46.6 1055.6L46.9 1056.0L47.1 1056.3L47.4 1056.6L47.3 1057.0L47.0 1057.3L46.7 1057.6L46.5 1058.0L46.2 1058.3L46.0 1058.6L45.8 1059.0L45.8 1059.3L45.8 1059.6L45.8 1060.0ZM45.2 1097.4L45.0 1097.0L44.5 1096.7L43.9 1096.4L43.3 1096.0L42.6 1095.7L41.9 1095.4L41.2 1095.0L40.4 1094.7L39.6 1094.4L39.0 1094.0L39.8 1093.7L40.6 1093.4L41.4 1093.0L42.1 1092.7L42.8 1092.4L43.4 1092.0L44.0 1091.7L44.6 1091.3L45.1 1091.0L45.2 1090.7L45.2 1090.3L45.2 1090.0L45.2 1089.7L45.2 1089.3L45.2 1089.0L45.2 1088.7L45.2 1088.3L45.2 1088.0L45.8 1088.0L45.8 1088.3L45.8 1088.7L45.8 1089.0L45.8 1089.3L45.8 1089.7L45.8 1090.0L45.8 1090.3L45.8 1090.7L45.9 1091.0L46.4 1091.3L47.0 1091.7L47.6 1092.0L48.2 1092.4L48.9 1092.7L49.6 1093.0L50.4 1093.4L51.2 1093.7L52.0 1094.0L51.4 1094.4L50.6 1094.7L49.8 1095.0L49.1 1095.4L48.4 1095.7L47.7 1096.0L47.1 1096.4L46.5 1096.7L46.0 1097.0L45.8 1097.4ZM45.2 1116.0L45.2 1115.7L44.8 1115.4L44.1 1115.0L43.2 1114.7L42.3 1114.4L41.3 1114.0L40.3 1113.7L39.2 1113.4L38.0 1113.0L36.8 1112.7L35.6 1112.4L34.3 1112.0L33.0 1111.7L32.3 1111.4L33.7 1111.0L35.1 1110.7L36.5 1110.4L37.8 1110.0L39.0 1109.7L40.2 1109.4L41.4 1109.0L42.5 1108.7L43.4 1108.4L44.3 1108.0L45.1 1107.7L45.2 1107.4L45.2 1107.0L45.2 1106.7L45.8 1106.7L45.8 1107.0L45.8 1107.4L45.9 1107.7L46.7 1108.0L47.6 1108.4L48.5 1108.7L49.6 1109.0L50.8 1109.4L52.0 1109.7L53.2 1110.0L54.5 1110.4L55.9 1110.7L57.3 1111.0L58.7 1111.4L58.0 1111.7L56.7 1112.0L55.4 1112.4L54.2 1112.7L53.0 1113.0L51.8 1113.4L50.7 1113.7L49.7 1114.0L48.7 1114.4L47.8 1114.7L46.9 1115.0L46.2 1115.4L45.8 1115.7L45.8 1116.0ZM45.2 1125.4L45.2 1125.1L44.8 1124.7L44.1 1124.4L43.3 1124.1L42.4 1123.7L41.5 1123.4L40.5 1123.1L39.5 1122.7L38.4 1122.4L37.3 1122.1L36.1 1121.7L34.9 1121.4L33.7 1121.1L32.5 1120.7L32.8 1120.4L34.1 1120.1L35.4 1119.7L36.6 1119.4L37.8 1119.1L39.0 1118.7L40.1 1118.4L41.2 1118.1L42.2 1117.7L43.1 1117.4L44.0 1117.1L44.7 1116.7L45.2 1116.4L45.2 1116.0L45.8 1116.0L45.8 1116.4L46.3 1116.7L47.0 1117.1L47.9 1117.4L48.8 1117.7L49.8 1118.1L50.9 1118.4L52.0 1118.7L53.2 1119.1L54.4 1119.4L55.6 1119.7L56.9 1120.1L58.2 1120.4L58.5 1120.7L57.3 1121.1L56.1 1121.4L54.9 1121.7L53.7 1122.1L52.6 1122.4L51.5 1122.7L50.5 1123.1L49.5 1123.4L48.6 1123.7L47.7 1124.1L46.9 1124.4L46.2 1124.7L45.8 1125.1L45.8 1125.4Z" fill="#EC706B" stroke="#111" stroke-width="0.55" stroke-linejoin="round"/>
<path d="M62.9 910.4L71.0 910.1L73.6 909.8L74.0 909.4L73.0 909.1L71.9 908.8L70.7 908.4L69.3 908.1L67.9 907.8L66.4 907.4L64.9 907.1L63.3 906.8L62.7 906.4L64.5 906.1L66.3 905.8L67.9 905.4L69.5 905.1L71.0 904.8L72.3 904.4L73.5 904.1L74.5 903.8L74.7 903.4L74.7 903.1L74.7 902.8L74.7 902.4L74.7 902.1L74.7 901.8L74.7 901.4L74.7 901.1L75.2 901.1L75.2 901.4L75.2 901.8L75.2 902.1L75.2 902.4L75.2 902.8L75.2 903.1L75.2 903.4L75.4 903.8L76.4 904.1L77.6 904.4L78.9 904.8L80.4 905.1L82.0 905.4L83.6 905.8L85.4 906.1L87.2 906.4L86.6 906.8L85.0 907.1L83.5 907.4L82.0 907.8L80.6 908.1L79.2 908.4L78.0 908.8L76.8 909.1L75.8 909.4L76.2 909.8L78.9 910.1L86.9 910.4ZM74.7 938.5L74.2 938.1L73.5 937.8L72.7 937.5L72.0 937.1L72.5 936.8L73.1 936.5L73.6 936.1L74.0 935.8L74.4 935.5L74.7 935.1L74.7 934.8L74.7 934.5L74.7 934.1L74.7 933.8L74.7 933.5L74.7 933.1L74.7 932.8L74.7 932.5L74.7 932.1L74.7 931.8L74.7 931.5L74.7 931.1L74.7 930.8L74.7 930.5L74.7 930.1L74.7 929.8L74.7 929.5L74.7 929.1L75.2 929.1L75.2 929.5L75.2 929.8L75.2 930.1L75.2 930.5L75.2 930.8L75.2 931.1L75.2 931.5L75.2 931.8L75.2 932.1L75.2 932.5L75.2 932.8L75.2 933.1L75.2 933.5L75.2 933.8L75.2 934.1L75.2 934.5L75.2 934.8L75.2 935.1L75.5 935.5L75.9 935.8L76.3 936.1L76.8 936.5L77.3 936.8L77.9 937.1L77.2 937.5L76.4 937.8L75.7 938.1L75.2 938.5ZM74.7 1022.6L74.1 1022.3L73.3 1021.9L72.5 1021.6L72.1 1021.3L72.4 1020.9L72.8 1020.6L73.1 1020.3L73.4 1019.9L73.7 1019.6L74.0 1019.3L74.2 1018.9L74.5 1018.6L74.7 1018.3L74.7 1017.9L74.7 1017.6L74.7 1017.2L74.7 1016.9L74.7 1016.6L74.7 1016.2L74.7 1015.9L74.7 1015.6L74.7 1015.2L74.7 1014.9L74.7 1014.6L74.7 1014.2L74.7 1013.9L74.7 1013.6L74.7 1013.2L75.2 1013.2L75.2 1013.6L75.2 1013.9L75.2 1014.2L75.2 1014.6L75.2 1014.9L75.2 1015.2L75.2 1015.6L75.2 1015.9L75.2 1016.2L75.2 1016.6L75.2 1016.9L75.2 1017.2L75.2 1017.6L75.2 1017.9L75.2 1018.3L75.4 1018.6L75.6 1018.9L75.9 1019.3L76.2 1019.6L76.5 1019.9L76.8 1020.3L77.1 1020.6L77.5 1020.9L77.8 1021.3L77.4 1021.6L76.5 1021.9L75.8 1022.3L75.2 1022.6ZM74.7 1069.3L74.7 1069.0L74.6 1068.7L74.2 1068.3L73.6 1068.0L73.0 1067.7L72.3 1067.3L71.6 1067.0L70.9 1066.6L70.1 1066.3L69.3 1066.0L68.4 1065.6L67.6 1065.3L66.7 1065.0L65.8 1064.6L64.8 1064.3L63.9 1064.0L62.9 1063.6L61.9 1063.3L62.5 1063.0L63.8 1062.6L65.0 1062.3L66.1 1062.0L67.2 1061.6L68.3 1061.3L69.4 1061.0L70.4 1060.6L71.3 1060.3L72.2 1060.0L77.7 1060.0L78.6 1060.3L79.5 1060.6L80.5 1061.0L81.6 1061.3L82.6 1061.6L83.8 1062.0L84.9 1062.3L86.1 1062.6L87.3 1063.0L88.0 1063.3L87.0 1063.6L86.0 1064.0L85.1 1064.3L84.1 1064.6L83.2 1065.0L82.3 1065.3L81.5 1065.6L80.6 1066.0L79.8 1066.3L79.0 1066.6L78.3 1067.0L77.6 1067.3L76.9 1067.7L76.3 1068.0L75.7 1068.3L75.2 1068.7L75.2 1069.0L75.2 1069.3ZM74.7 1078.7L74.7 1078.3L74.6 1078.0L74.0 1077.7L73.3 1077.3L72.6 1077.0L71.9 1076.7L71.0 1076.3L70.2 1076.0L69.3 1075.7L68.4 1075.3L67.4 1075.0L66.4 1074.7L65.4 1074.3L64.3 1074.0L63.3 1073.7L62.2 1073.3L62.3 1073.0L63.5 1072.7L64.7 1072.3L65.9 1072.0L67.0 1071.7L68.1 1071.3L69.2 1071.0L70.2 1070.7L71.1 1070.3L72.1 1070.0L72.9 1069.7L73.7 1069.3L76.2 1069.3L77.0 1069.7L77.8 1070.0L78.7 1070.3L79.7 1070.7L80.7 1071.0L81.8 1071.3L82.9 1071.7L84.0 1072.0L85.2 1072.3L86.4 1072.7L87.6 1073.0L87.7 1073.3L86.6 1073.7L85.5 1074.0L84.5 1074.3L83.5 1074.7L82.5 1075.0L81.5 1075.3L80.6 1075.7L79.7 1076.0L78.8 1076.3L78.0 1076.7L77.2 1077.0L76.5 1077.3L75.9 1077.7L75.3 1078.0L75.2 1078.3L75.2 1078.7ZM74.7 1088.0L74.7 1087.7L74.6 1087.3L74.2 1087.0L73.6 1086.7L73.0 1086.3L72.3 1086.0L71.6 1085.7L70.9 1085.3L70.1 1085.0L69.3 1084.7L68.4 1084.3L67.6 1084.0L66.7 1083.7L65.8 1083.3L64.8 1083.0L63.9 1082.7L62.9 1082.3L61.9 1082.0L62.5 1081.7L63.8 1081.3L65.0 1081.0L66.1 1080.7L67.2 1080.3L68.3 1080.0L69.4 1079.7L70.4 1079.3L71.3 1079.0L72.2 1078.7L77.7 1078.7L78.6 1079.0L79.5 1079.3L80.5 1079.7L81.6 1080.0L82.6 1080.3L83.8 1080.7L84.9 1081.0L86.1 1081.3L87.3 1081.7L88.0 1082.0L87.0 1082.3L86.0 1082.7L85.1 1083.0L84.1 1083.3L83.2 1083.7L82.3 1084.0L81.5 1084.3L80.6 1084.7L79.8 1085.0L79.0 1085.3L78.3 1085.7L77.6 1086.0L76.9 1086.3L76.3 1086.7L75.7 1087.0L75.2 1087.3L75.2 1087.7L75.2 1088.0ZM74.7 1097.4L74.7 1097.0L74.5 1096.7L74.1 1096.4L73.7 1096.0L73.3 1095.7L72.8 1095.4L72.3 1095.0L71.7 1094.7L71.2 1094.4L70.6 1094.0L70.0 1093.7L69.4 1093.4L68.8 1093.0L68.1 1092.7L67.5 1092.4L66.8 1092.0L66.1 1091.7L65.4 1091.3L64.7 1091.0L64.0 1090.7L63.3 1090.3L62.5 1090.0L62.5 1089.7L64.9 1089.3L67.1 1089.0L69.2 1088.7L71.2 1088.3L72.9 1088.0L77.0 1088.0L78.7 1088.3L80.7 1088.7L82.8 1089.0L85.0 1089.3L87.4 1089.7L87.4 1090.0L86.6 1090.3L85.9 1090.7L85.2 1091.0L84.5 1091.3L83.8 1091.7L83.1 1092.0L82.4 1092.4L81.8 1092.7L81.1 1093.0L80.5 1093.4L79.9 1093.7L79.3 1094.0L78.7 1094.4L78.1 1094.7L77.6 1095.0L77.1 1095.4L76.6 1095.7L76.2 1096.0L75.7 1096.4L75.4 1096.7L75.2 1097.0L75.2 1097.4Z" fill="#C9982A" stroke="#111" stroke-width="0.55" stroke-linejoin="round"/>
<path d="M104.1 901.1L104.1 900.8L104.1 900.4L103.8 900.1L103.4 899.8L103.1 899.4L102.7 899.1L102.3 898.8L101.9 898.4L101.4 898.1L101.0 897.8L100.7 897.4L101.1 897.1L101.6 896.8L102.0 896.4L102.5 896.1L102.9 895.8L103.2 895.4L103.6 895.1L103.9 894.8L104.1 894.4L104.1 894.1L104.1 893.7L104.1 893.4L104.1 893.1L104.1 892.7L104.1 892.4L104.1 892.1L104.1 891.7L104.7 891.7L104.7 892.1L104.7 892.4L104.7 892.7L104.7 893.1L104.7 893.4L104.7 893.7L104.7 894.1L104.7 894.4L104.9 894.8L105.2 895.1L105.5 895.4L105.9 895.8L106.3 896.1L106.7 896.4L107.2 896.8L107.6 897.1L108.1 897.4L107.8 897.8L107.3 898.1L106.9 898.4L106.5 898.8L106.1 899.1L105.7 899.4L105.3 899.8L105.0 900.1L104.7 900.4L104.7 900.8L104.7 901.1ZM104.1 910.4L104.1 910.1L104.1 909.8L104.0 909.4L103.8 909.1L103.5 908.8L103.1 908.4L102.8 908.1L102.5 907.8L102.1 907.4L101.7 907.1L101.3 906.8L100.9 906.4L100.5 906.1L100.7 905.8L101.1 905.4L101.5 905.1L101.9 904.8L102.3 904.4L102.7 904.1L103.0 903.8L103.4 903.4L103.7 903.1L103.9 902.8L104.1 902.4L104.1 902.1L104.1 901.8L104.1 901.4L104.1 901.1L104.7 901.1L104.7 901.4L104.7 901.8L104.7 902.1L104.7 902.4L104.8 902.8L105.1 903.1L105.4 903.4L105.7 903.8L106.1 904.1L106.4 904.4L106.8 904.8L107.2 905.1L107.6 905.4L108.0 905.8L108.3 906.1L107.9 906.4L107.5 906.8L107.1 907.1L106.7 907.4L106.3 907.8L106.0 908.1L105.6 908.4L105.3 908.8L105.0 909.1L104.7 909.4L104.7 909.8L104.7 910.1L104.7 910.4ZM104.1 929.1L104.1 928.8L104.1 928.5L103.9 928.1L103.7 927.8L103.5 927.5L103.3 927.1L103.1 926.8L102.8 926.5L102.6 926.1L102.4 925.8L102.7 925.5L102.9 925.1L103.1 924.8L103.3 924.5L103.6 924.1L103.8 923.8L103.9 923.5L104.1 923.1L104.1 922.8L104.1 922.5L104.1 922.1L104.1 921.8L104.1 921.5L104.1 921.1L104.1 920.8L104.1 920.5L104.1 920.1L104.1 919.8L104.7 919.8L104.7 920.1L104.7 920.5L104.7 920.8L104.7 921.1L104.7 921.5L104.7 921.8L104.7 922.1L104.7 922.5L104.7 922.8L104.7 923.1L104.8 923.5L105.0 923.8L105.2 924.1L105.4 924.5L105.6 924.8L105.9 925.1L106.1 925.5L106.4 925.8L106.2 926.1L105.9 926.5L105.7 926.8L105.5 927.1L105.3 927.5L105.0 927.8L104.9 928.1L104.7 928.5L104.7 928.8L104.7 929.1ZM92.4 938.5L100.4 938.1L103.1 937.8L103.2 937.5L102.7 937.1L102.2 936.8L101.6 936.5L101.0 936.1L100.4 935.8L99.8 935.5L99.1 935.1L98.4 934.8L97.7 934.5L97.0 934.1L97.1 933.8L97.8 933.5L98.5 933.1L99.1 932.8L99.8 932.5L100.4 932.1L101.0 931.8L101.6 931.5L102.2 931.1L102.7 930.8L103.2 930.5L103.6 930.1L104.0 929.8L104.1 929.5L104.1 929.1L104.7 929.1L104.7 929.5L104.7 929.8L105.1 930.1L105.6 930.5L106.1 930.8L106.6 931.1L107.1 931.5L107.7 931.8L108.3 932.1L109.0 932.5L109.6 932.8L110.3 933.1L111.0 933.5L111.7 933.8L111.7 934.1L111.0 934.5L110.3 934.8L109.7 935.1L109.0 935.5L108.4 935.8L107.8 936.1L107.2 936.5L106.6 936.8L106.1 937.1L105.6 937.5L105.7 937.8L108.3 938.1L116.4 938.5ZM104.1 947.8L103.9 947.5L103.6 947.2L103.2 946.8L102.8 946.5L102.5 946.2L102.0 945.8L101.6 945.5L101.2 945.2L100.7 944.8L100.3 944.5L100.0 944.2L100.5 943.8L100.9 943.5L101.4 943.1L101.8 942.8L102.2 942.5L102.6 942.1L103.0 941.8L103.4 941.5L103.7 941.1L104.0 940.8L104.1 940.5L104.1 940.1L104.1 939.8L104.1 939.5L104.1 939.1L104.1 938.8L104.1 938.5L104.7 938.5L104.7 938.8L104.7 939.1L104.7 939.5L104.7 939.8L104.7 940.1L104.7 940.5L104.8 940.8L105.1 941.1L105.4 941.5L105.8 941.8L106.1 942.1L106.5 942.5L107.0 942.8L107.4 943.1L107.8 943.5L108.3 943.8L108.8 944.2L108.5 944.5L108.0 944.8L107.6 945.2L107.1 945.5L106.7 945.8L106.3 946.2L105.9 946.5L105.5 946.8L105.2 947.2L104.9 947.5L104.7 947.8ZM103.4 957.2L103.4 956.8L103.4 956.5L103.3 956.2L103.3 955.8L103.2 955.5L103.2 955.2L103.2 954.8L103.2 954.5L103.1 954.2L103.1 953.8L103.1 953.5L103.1 953.2L103.1 952.8L103.1 952.5L103.1 952.2L103.1 951.8L103.1 951.5L103.1 951.2L103.2 950.8L103.3 950.5L103.3 950.2L103.4 949.8L103.5 949.5L103.6 949.2L103.8 948.8L103.9 948.5L104.1 948.2L104.1 947.8L104.7 947.8L104.7 948.2L104.8 948.5L105.0 948.8L105.1 949.2L105.2 949.5L105.3 949.8L105.4 950.2L105.5 950.5L105.6 950.8L105.6 951.2L105.7 951.5L105.7 951.8L105.7 952.2L105.7 952.5L105.7 952.8L105.7 953.2L105.7 953.5L105.6 953.8L105.6 954.2L105.6 954.5L105.6 954.8L105.5 955.2L105.5 955.5L105.5 955.8L105.4 956.2L105.4 956.5L105.4 956.8L105.3 957.2ZM103.4 1041.3L103.4 1040.9L103.3 1040.6L103.3 1040.3L103.2 1039.9L103.2 1039.6L103.2 1039.3L103.1 1038.9L103.1 1038.6L103.1 1038.3L103.1 1037.9L103.1 1037.6L103.1 1037.3L103.1 1036.9L103.1 1036.6L103.1 1036.3L103.2 1035.9L103.2 1035.6L103.3 1035.3L103.4 1034.9L103.5 1034.6L103.6 1034.3L103.7 1033.9L103.8 1033.6L104.0 1033.3L104.1 1032.9L104.1 1032.6L104.1 1032.3L104.1 1031.9L104.7 1031.9L104.7 1032.3L104.7 1032.6L104.7 1032.9L104.8 1033.3L104.9 1033.6L105.1 1033.9L105.2 1034.3L105.3 1034.6L105.4 1034.9L105.5 1035.3L105.5 1035.6L105.6 1035.9L105.6 1036.3L105.7 1036.6L105.7 1036.9L105.7 1037.3L105.7 1037.6L105.7 1037.9L105.7 1038.3L105.6 1038.6L105.6 1038.9L105.6 1039.3L105.6 1039.6L105.5 1039.9L105.5 1040.3L105.5 1040.6L105.4 1040.9L105.4 1041.3ZM104.1 1050.6L103.9 1050.3L103.5 1050.0L103.1 1049.6L102.7 1049.3L102.2 1049.0L101.7 1048.6L101.2 1048.3L100.6 1048.0L100.1 1047.6L99.5 1047.3L98.9 1047.0L98.3 1046.6L98.5 1046.3L99.0 1046.0L99.5 1045.6L100.0 1045.3L100.4 1045.0L100.9 1044.6L101.4 1044.3L101.8 1044.0L102.2 1043.6L102.6 1043.3L103.0 1043.0L103.4 1042.6L103.7 1042.3L104.0 1041.9L104.1 1041.6L104.1 1041.3L104.7 1041.3L104.7 1041.6L104.8 1041.9L105.1 1042.3L105.4 1042.6L105.7 1043.0L106.1 1043.3L106.5 1043.6L107.0 1044.0L107.4 1044.3L107.8 1044.6L108.3 1045.0L108.8 1045.3L109.3 1045.6L109.8 1046.0L110.3 1046.3L110.5 1046.6L109.9 1047.0L109.3 1047.3L108.7 1047.6L108.1 1048.0L107.6 1048.3L107.1 1048.6L106.6 1049.0L106.1 1049.3L105.6 1049.6L105.2 1050.0L104.9 1050.3L104.7 1050.6ZM104.1 1060.0L104.1 1059.6L103.8 1059.3L103.4 1059.0L103.0 1058.6L102.5 1058.3L102.1 1058.0L101.6 1057.6L101.1 1057.3L100.5 1057.0L100.0 1056.6L99.4 1056.3L98.9 1056.0L98.3 1055.6L98.3 1055.3L98.9 1055.0L99.5 1054.6L100.0 1054.3L100.6 1054.0L101.1 1053.6L101.6 1053.3L102.1 1053.0L102.5 1052.6L103.0 1052.3L103.4 1052.0L103.8 1051.6L104.1 1051.3L104.1 1051.0L104.1 1050.6L104.7 1050.6L104.7 1051.0L104.7 1051.3L105.0 1051.6L105.4 1052.0L105.8 1052.3L106.2 1052.6L106.7 1053.0L107.2 1053.3L107.7 1053.6L108.2 1054.0L108.7 1054.3L109.3 1054.6L109.9 1055.0L110.5 1055.3L110.5 1055.6L109.9 1056.0L109.3 1056.3L108.8 1056.6L108.2 1057.0L107.7 1057.3L107.2 1057.6L106.7 1058.0L106.2 1058.3L105.8 1058.6L105.4 1059.0L105.0 1059.3L104.7 1059.6L104.7 1060.0ZM104.1 1097.4L104.0 1097.0L103.4 1096.7L102.6 1096.4L101.7 1096.0L100.7 1095.7L99.7 1095.4L98.6 1095.0L97.4 1094.7L96.3 1094.4L95.3 1094.0L96.5 1093.7L97.7 1093.4L98.8 1093.0L99.9 1092.7L100.9 1092.4L101.9 1092.0L102.8 1091.7L103.5 1091.3L104.1 1091.0L104.1 1090.7L104.1 1090.3L104.1 1090.0L104.1 1089.7L104.1 1089.3L104.1 1089.0L104.1 1088.7L104.1 1088.3L104.1 1088.0L104.7 1088.0L104.7 1088.3L104.7 1088.7L104.7 1089.0L104.7 1089.3L104.7 1089.7L104.7 1090.0L104.7 1090.3L104.7 1090.7L104.7 1091.0L105.2 1091.3L106.0 1091.7L106.9 1092.0L107.8 1092.4L108.8 1092.7L109.9 1093.0L111.1 1093.4L112.2 1093.7L113.4 1094.0L112.5 1094.4L111.3 1094.7L110.2 1095.0L109.1 1095.4L108.1 1095.7L107.1 1096.0L106.2 1096.4L105.4 1096.7L104.7 1097.0L104.7 1097.4ZM104.1 1116.0L103.8 1115.7L103.4 1115.4L102.9 1115.0L102.4 1114.7L101.8 1114.4L101.2 1114.0L100.6 1113.7L100.0 1113.4L99.3 1113.0L98.6 1112.7L97.9 1112.4L97.2 1112.0L97.9 1111.7L98.6 1111.4L99.3 1111.0L100.0 1110.7L100.6 1110.4L101.2 1110.0L101.8 1109.7L102.4 1109.4L102.9 1109.0L103.4 1108.7L103.8 1108.4L104.1 1108.0L104.1 1107.7L104.1 1107.4L104.1 1107.0L104.1 1106.7L104.7 1106.7L104.7 1107.0L104.7 1107.4L104.7 1107.7L104.7 1108.0L104.9 1108.4L105.4 1108.7L105.8 1109.0L106.4 1109.4L106.9 1109.7L107.5 1110.0L108.1 1110.4L108.8 1110.7L109.4 1111.0L110.1 1111.4L110.8 1111.7L111.6 1112.0L110.9 1112.4L110.2 1112.7L109.5 1113.0L108.8 1113.4L108.2 1113.7L107.5 1114.0L106.9 1114.4L106.4 1114.7L105.9 1115.0L105.4 1115.4L104.9 1115.7L104.7 1116.0ZM104.1 1125.4L104.1 1125.1L103.7 1124.7L103.1 1124.4L102.6 1124.1L101.9 1123.7L101.3 1123.4L100.5 1123.1L99.8 1122.7L99.0 1122.4L98.3 1122.1L97.4 1121.7L96.6 1121.4L95.7 1121.1L96.3 1120.7L97.2 1120.4L98.0 1120.1L98.8 1119.7L99.6 1119.4L100.4 1119.1L101.1 1118.7L101.8 1118.4L102.5 1118.1L103.1 1117.7L103.6 1117.4L104.1 1117.1L104.1 1116.7L104.1 1116.4L104.1 1116.0L104.7 1116.0L104.7 1116.4L104.7 1116.7L104.7 1117.1L105.1 1117.4L105.7 1117.7L106.3 1118.1L106.9 1118.4L107.6 1118.7L108.4 1119.1L109.1 1119.4L109.9 1119.7L110.7 1120.1L111.6 1120.4L112.5 1120.7L113.0 1121.1L112.2 1121.4L111.3 1121.7L110.5 1122.1L109.7 1122.4L109.0 1122.7L108.2 1123.1L107.5 1123.4L106.8 1123.7L106.2 1124.1L105.6 1124.4L105.1 1124.7L104.7 1125.1L104.7 1125.4Z" fill="#6DB52F" stroke="#111" stroke-width="0.55" stroke-linejoin="round"/>
<path d="M121.8 901.1L128.2 900.8L128.1 900.4L127.9 900.1L127.8 899.8L127.6 899.4L127.5 899.1L127.6 898.8L128.0 898.4L128.4 898.1L128.9 897.8L129.5 897.4L130.1 897.1L130.7 896.8L131.4 896.4L132.4 896.1L133.8 895.8L133.8 895.4L133.8 895.1L133.8 894.8L133.8 894.4L133.8 894.1L133.8 893.7L133.8 893.4L133.8 893.1L133.8 892.7L133.8 892.4L133.8 892.1L133.8 891.7L133.8 891.7L133.8 892.1L133.8 892.4L133.8 892.7L133.8 893.1L133.8 893.4L133.8 893.7L133.8 894.1L133.8 894.4L133.8 894.8L133.8 895.1L133.8 895.4L133.8 895.8L135.2 896.1L136.2 896.4L136.9 896.8L137.6 897.1L138.2 897.4L138.7 897.8L139.2 898.1L139.7 898.4L140.1 898.8L140.1 899.1L140.0 899.4L139.9 899.8L139.7 900.1L139.6 900.4L139.4 900.8L145.8 901.1ZM121.8 910.4L129.9 910.1L123.3 909.8L123.1 909.4L122.9 909.1L122.7 908.8L122.5 908.4L122.3 908.1L122.1 907.8L121.9 907.4L121.7 907.1L121.6 906.8L122.2 906.4L122.8 906.1L123.6 905.8L124.3 905.4L125.1 905.1L126.0 904.8L126.9 904.4L127.9 904.1L129.0 903.8L130.4 903.4L132.6 903.1L133.8 902.8L133.8 902.4L133.8 902.1L133.8 901.8L133.8 901.4L133.8 901.1L133.8 901.1L133.8 901.4L133.8 901.8L133.8 902.1L133.8 902.4L133.8 902.8L135.1 903.1L137.3 903.4L138.6 903.8L139.7 904.1L140.7 904.4L141.7 904.8L142.5 905.1L143.3 905.4L144.1 905.8L144.8 906.1L145.5 906.4L146.0 906.8L146.0 907.1L145.8 907.4L145.5 907.8L145.3 908.1L145.1 908.4L144.9 908.8L144.7 909.1L144.5 909.4L144.3 909.8L137.8 910.1L145.8 910.4ZM133.5 938.5L133.0 938.1L132.4 937.8L131.6 937.5L130.9 937.1L131.4 936.8L132.0 936.5L132.4 936.1L132.9 935.8L133.3 935.5L133.5 935.1L133.5 934.8L133.5 934.5L133.5 934.1L133.5 933.8L133.5 933.5L133.5 933.1L133.5 932.8L133.5 932.5L133.5 932.1L133.5 931.8L133.5 931.5L133.5 931.1L133.5 930.8L133.5 930.5L133.5 930.1L133.5 929.8L133.5 929.5L133.5 929.1L134.1 929.1L134.1 929.5L134.1 929.8L134.1 930.1L134.1 930.5L134.1 930.8L134.1 931.1L134.1 931.5L134.1 931.8L134.1 932.1L134.1 932.5L134.1 932.8L134.1 933.1L134.1 933.5L134.1 933.8L134.1 934.1L134.1 934.5L134.1 934.8L134.1 935.1L134.3 935.5L134.7 935.8L135.2 936.1L135.7 936.5L136.2 936.8L136.8 937.1L136.1 937.5L135.3 937.8L134.6 938.1L134.1 938.5ZM133.5 1013.2L133.5 1012.9L133.5 1012.6L133.5 1012.2L133.4 1011.9L132.8 1011.6L132.1 1011.2L131.4 1010.9L130.5 1010.6L129.6 1010.2L128.7 1009.9L127.8 1009.6L126.7 1009.2L125.7 1008.9L124.6 1008.6L123.5 1008.2L122.4 1007.9L121.8 1007.6L123.0 1007.2L124.2 1006.9L125.3 1006.6L126.4 1006.2L127.5 1005.9L128.5 1005.6L129.5 1005.2L130.4 1004.9L131.3 1004.6L132.1 1004.2L132.8 1003.9L134.8 1003.9L135.5 1004.2L136.3 1004.6L137.2 1004.9L138.2 1005.2L139.1 1005.6L140.2 1005.9L141.2 1006.2L142.3 1006.6L143.5 1006.9L144.6 1007.2L145.8 1007.6L145.2 1007.9L144.1 1008.2L143.0 1008.6L141.9 1008.9L140.9 1009.2L139.9 1009.6L138.9 1009.9L138.0 1010.2L137.1 1010.6L136.3 1010.9L135.5 1011.2L134.8 1011.6L134.2 1011.9L134.1 1012.2L134.1 1012.6L134.1 1012.9L134.1 1013.2ZM133.5 1022.6L133.5 1022.3L133.5 1021.9L133.5 1021.6L133.5 1021.3L133.5 1020.9L133.2 1020.6L132.7 1020.3L132.0 1019.9L131.3 1019.6L130.5 1019.3L129.7 1018.9L128.8 1018.6L127.9 1018.3L127.0 1017.9L126.1 1017.6L125.1 1017.2L124.1 1016.9L123.0 1016.6L122.0 1016.2L120.9 1015.9L122.2 1015.6L123.7 1015.2L125.1 1014.9L126.5 1014.6L127.8 1014.2L129.1 1013.9L130.2 1013.6L131.3 1013.2L136.3 1013.2L137.4 1013.6L138.6 1013.9L139.8 1014.2L141.2 1014.6L142.5 1014.9L143.9 1015.2L145.4 1015.6L146.7 1015.9L145.7 1016.2L144.6 1016.6L143.6 1016.9L142.6 1017.2L141.6 1017.6L140.6 1017.9L139.7 1018.3L138.8 1018.6L138.0 1018.9L137.1 1019.3L136.4 1019.6L135.6 1019.9L135.0 1020.3L134.4 1020.6L134.1 1020.9L134.1 1021.3L134.1 1021.6L134.1 1021.9L134.1 1022.3L134.1 1022.6ZM133.5 1031.9L133.5 1031.6L133.2 1031.3L132.8 1030.9L132.2 1030.6L131.7 1030.3L131.0 1029.9L130.4 1029.6L129.7 1029.3L129.0 1028.9L128.3 1028.6L127.6 1028.3L126.8 1027.9L126.0 1027.6L125.2 1027.3L124.4 1026.9L123.6 1026.6L122.7 1026.3L121.9 1025.9L121.0 1025.6L122.1 1025.3L123.5 1024.9L125.0 1024.6L126.4 1024.3L127.7 1023.9L128.9 1023.6L130.1 1023.3L131.2 1022.9L132.2 1022.6L135.4 1022.6L136.4 1022.9L137.5 1023.3L138.7 1023.6L140.0 1023.9L141.3 1024.3L142.7 1024.6L144.1 1024.9L145.6 1025.3L146.7 1025.6L145.8 1025.9L144.9 1026.3L144.1 1026.6L143.2 1026.9L142.4 1027.3L141.6 1027.6L140.8 1027.9L140.1 1028.3L139.3 1028.6L138.6 1028.9L137.9 1029.3L137.2 1029.6L136.6 1029.9L136.0 1030.3L135.4 1030.6L134.9 1030.9L134.4 1031.3L134.1 1031.6L134.1 1031.9ZM121.8 1088.0L128.2 1087.7L128.0 1087.3L127.8 1087.0L127.7 1086.7L127.8 1086.3L128.0 1086.0L128.2 1085.7L128.4 1085.3L128.6 1085.0L128.8 1084.7L129.0 1084.3L129.3 1084.0L129.5 1083.7L129.7 1083.3L130.0 1083.0L130.3 1082.7L130.5 1082.3L130.8 1082.0L131.1 1081.7L131.5 1081.3L131.9 1081.0L132.3 1080.7L132.9 1080.3L133.8 1080.0L133.8 1079.7L133.8 1079.3L133.8 1079.0L133.8 1078.7L133.8 1078.7L133.8 1079.0L133.8 1079.3L133.8 1079.7L133.8 1080.0L134.7 1080.3L135.3 1080.7L135.8 1081.0L136.2 1081.3L136.5 1081.7L136.8 1082.0L137.1 1082.3L137.4 1082.7L137.6 1083.0L137.9 1083.3L138.1 1083.7L138.4 1084.0L138.6 1084.3L138.8 1084.7L139.0 1085.0L139.3 1085.3L139.5 1085.7L139.6 1086.0L139.8 1086.3L140.0 1086.7L139.9 1087.0L139.7 1087.3L139.4 1087.7L145.8 1088.0ZM121.8 1097.4L129.9 1097.0L123.5 1096.7L123.2 1096.4L122.9 1096.0L122.5 1095.7L122.2 1095.4L121.9 1095.0L122.5 1094.7L123.6 1094.4L124.9 1094.0L126.2 1093.7L127.8 1093.4L129.6 1093.0L132.7 1092.7L133.8 1092.4L133.8 1092.0L133.8 1091.7L133.8 1091.3L133.8 1091.0L133.8 1090.7L133.8 1090.3L133.8 1090.0L133.8 1089.7L133.8 1089.3L133.8 1089.0L133.8 1088.7L133.8 1088.3L133.8 1088.0L133.8 1088.0L133.8 1088.3L133.8 1088.7L133.8 1089.0L133.8 1089.3L133.8 1089.7L133.8 1090.0L133.8 1090.3L133.8 1090.7L133.8 1091.0L133.8 1091.3L133.8 1091.7L133.8 1092.0L133.8 1092.4L134.9 1092.7L138.0 1093.0L139.9 1093.4L141.4 1093.7L142.8 1094.0L144.0 1094.4L145.1 1094.7L145.8 1095.0L145.4 1095.4L145.1 1095.7L144.8 1096.0L144.5 1096.4L144.1 1096.7L137.8 1097.0L145.8 1097.4Z" fill="#4DC878" stroke="#111" stroke-width="0.55" stroke-linejoin="round"/>
<path d="M163.0 975.9L163.0 975.5L163.0 975.2L163.0 974.9L163.0 974.5L163.0 974.2L162.5 973.9L161.8 973.5L161.1 973.2L160.4 972.9L159.6 972.5L158.7 972.2L157.8 971.9L156.9 971.5L155.9 971.2L154.9 970.9L153.9 970.5L152.8 970.2L151.7 969.9L150.6 969.5L150.2 969.2L151.9 968.9L153.7 968.5L155.3 968.2L156.9 967.8L158.4 967.5L159.8 967.2L161.0 966.8L162.1 966.5L164.4 966.5L165.5 966.8L166.8 967.2L168.2 967.5L169.6 967.8L171.2 968.2L172.9 968.5L174.6 968.9L176.3 969.2L175.9 969.5L174.8 969.9L173.7 970.2L172.7 970.5L171.6 970.9L170.6 971.2L169.7 971.5L168.7 971.9L167.8 972.2L167.0 972.5L166.1 972.9L165.4 973.2L164.7 973.5L164.0 973.9L163.5 974.2L163.5 974.5L163.5 974.9L163.5 975.2L163.5 975.5L163.5 975.9ZM163.0 985.2L163.0 984.9L163.0 984.5L163.0 984.2L163.0 983.9L163.0 983.5L162.5 983.2L161.8 982.9L161.1 982.5L160.4 982.2L159.6 981.9L158.7 981.5L157.8 981.2L156.9 980.9L155.9 980.5L154.9 980.2L153.9 979.9L152.8 979.5L151.7 979.2L150.6 978.9L150.2 978.5L151.9 978.2L153.7 977.9L155.3 977.5L156.9 977.2L158.4 976.9L159.8 976.5L161.0 976.2L162.1 975.9L164.4 975.9L165.5 976.2L166.8 976.5L168.2 976.9L169.6 977.2L171.2 977.5L172.9 977.9L174.6 978.2L176.3 978.5L175.9 978.9L174.8 979.2L173.7 979.5L172.7 979.9L171.6 980.2L170.6 980.5L169.7 980.9L168.7 981.2L167.8 981.5L167.0 981.9L166.1 982.2L165.4 982.5L164.7 982.9L164.0 983.2L163.5 983.5L163.5 983.9L163.5 984.2L163.5 984.5L163.5 984.9L163.5 985.2ZM163.0 994.6L163.0 994.2L163.0 993.9L163.0 993.6L163.0 993.2L163.0 992.9L162.8 992.5L162.2 992.2L161.6 991.9L160.8 991.5L160.1 991.2L159.2 990.9L158.3 990.5L157.4 990.2L156.5 989.9L155.5 989.5L154.5 989.2L153.4 988.9L152.4 988.5L151.3 988.2L150.2 987.9L150.9 987.5L152.6 987.2L154.3 986.9L155.9 986.5L157.5 986.2L158.9 985.9L160.3 985.5L161.5 985.2L165.0 985.2L166.2 985.5L167.6 985.9L169.0 986.2L170.6 986.5L172.2 986.9L173.9 987.2L175.6 987.5L176.3 987.9L175.2 988.2L174.1 988.5L173.1 988.9L172.0 989.2L171.0 989.5L170.0 989.9L169.1 990.2L168.2 990.5L167.3 990.9L166.5 991.2L165.7 991.5L164.9 991.9L164.3 992.2L163.7 992.5L163.5 992.9L163.5 993.2L163.5 993.6L163.5 993.9L163.5 994.2L163.5 994.6ZM163.0 1003.9L163.0 1003.6L163.0 1003.2L162.7 1002.9L162.3 1002.6L161.7 1002.2L161.1 1001.9L160.5 1001.6L159.8 1001.2L159.2 1000.9L158.4 1000.6L157.7 1000.2L156.9 999.9L156.1 999.6L155.3 999.2L154.5 998.9L153.7 998.6L152.8 998.2L151.9 997.9L151.0 997.6L150.1 997.2L150.9 996.9L152.6 996.6L154.3 996.2L155.9 995.9L157.5 995.6L158.9 995.2L160.3 994.9L161.5 994.6L165.0 994.6L166.2 994.9L167.6 995.2L169.0 995.6L170.6 995.9L172.2 996.2L173.9 996.6L175.6 996.9L176.4 997.2L175.5 997.6L174.6 997.9L173.7 998.2L172.9 998.6L172.0 998.9L171.2 999.2L170.4 999.6L169.6 999.9L168.8 1000.2L168.1 1000.6L167.4 1000.9L166.7 1001.2L166.0 1001.6L165.4 1001.9L164.8 1002.2L164.3 1002.6L163.8 1002.9L163.5 1003.2L163.5 1003.6L163.5 1003.9ZM162.3 1022.6L162.3 1022.3L162.2 1021.9L162.2 1021.6L162.1 1021.3L162.1 1020.9L162.1 1020.6L162.0 1020.3L162.0 1019.9L162.0 1019.6L162.0 1019.3L162.0 1018.9L162.0 1018.6L162.0 1018.3L162.0 1017.9L162.0 1017.6L162.1 1017.2L162.2 1016.9L162.3 1016.6L162.4 1016.2L162.5 1015.9L162.7 1015.6L162.9 1015.2L163.0 1014.9L163.0 1014.6L163.0 1014.2L163.0 1013.9L163.0 1013.6L163.0 1013.2L163.5 1013.2L163.5 1013.6L163.5 1013.9L163.5 1014.2L163.5 1014.6L163.5 1014.9L163.7 1015.2L163.8 1015.6L164.0 1015.9L164.1 1016.2L164.2 1016.6L164.3 1016.9L164.4 1017.2L164.5 1017.6L164.5 1017.9L164.6 1018.3L164.6 1018.6L164.6 1018.9L164.5 1019.3L164.5 1019.6L164.5 1019.9L164.5 1020.3L164.5 1020.6L164.4 1020.9L164.4 1021.3L164.3 1021.6L164.3 1021.9L164.2 1022.3L164.2 1022.6ZM163.0 1041.3L163.0 1040.9L163.0 1040.6L162.9 1040.3L162.6 1039.9L162.3 1039.6L161.9 1039.3L161.6 1038.9L161.2 1038.6L160.8 1038.3L160.4 1037.9L159.9 1037.6L160.0 1037.3L160.5 1036.9L160.9 1036.6L161.3 1036.3L161.6 1035.9L162.0 1035.6L162.3 1035.3L162.6 1034.9L162.9 1034.6L163.0 1034.3L163.0 1033.9L163.0 1033.6L163.0 1033.3L163.0 1032.9L163.0 1032.6L163.0 1032.3L163.0 1031.9L163.5 1031.9L163.5 1032.3L163.5 1032.6L163.5 1032.9L163.5 1033.3L163.5 1033.6L163.5 1033.9L163.5 1034.3L163.6 1034.6L163.9 1034.9L164.2 1035.3L164.5 1035.6L164.9 1035.9L165.3 1036.3L165.7 1036.6L166.1 1036.9L166.5 1037.3L166.6 1037.6L166.2 1037.9L165.7 1038.3L165.3 1038.6L165.0 1038.9L164.6 1039.3L164.3 1039.6L163.9 1039.9L163.7 1040.3L163.5 1040.6L163.5 1040.9L163.5 1041.3ZM163.0 1097.4L163.0 1097.0L162.7 1096.7L162.4 1096.4L162.0 1096.0L161.6 1095.7L161.2 1095.4L160.8 1095.0L160.3 1094.7L159.9 1094.4L159.4 1094.0L158.9 1093.7L159.3 1093.4L159.8 1093.0L160.3 1092.7L160.7 1092.4L161.2 1092.0L161.6 1091.7L162.0 1091.3L162.3 1091.0L162.7 1090.7L163.0 1090.3L163.0 1090.0L163.0 1089.7L163.0 1089.3L163.0 1089.0L163.0 1088.7L163.0 1088.3L163.0 1088.0L163.5 1088.0L163.5 1088.3L163.5 1088.7L163.5 1089.0L163.5 1089.3L163.5 1089.7L163.5 1090.0L163.6 1090.3L163.9 1090.7L164.2 1091.0L164.6 1091.3L165.0 1091.7L165.4 1092.0L165.8 1092.4L166.3 1092.7L166.7 1093.0L167.2 1093.4L167.6 1093.7L167.1 1094.0L166.6 1094.4L166.2 1094.7L165.7 1095.0L165.3 1095.4L164.9 1095.7L164.5 1096.0L164.1 1096.4L163.8 1096.7L163.5 1097.0L163.5 1097.4Z" fill="#45C4C0" stroke="#111" stroke-width="0.55" stroke-linejoin="round"/>
<path d="M192.4 901.1L192.4 900.8L192.4 900.4L192.4 900.1L192.3 899.8L192.1 899.4L191.9 899.1L191.7 898.8L191.5 898.4L191.8 898.1L192.0 897.8L192.2 897.4L192.3 897.1L192.4 896.8L192.4 896.4L192.4 896.1L192.4 895.8L192.4 895.4L192.4 895.1L192.4 894.8L192.4 894.4L192.4 894.1L192.4 893.7L192.4 893.4L192.4 893.1L192.4 892.7L192.4 892.4L192.4 892.1L192.4 891.7L193.0 891.7L193.0 892.1L193.0 892.4L193.0 892.7L193.0 893.1L193.0 893.4L193.0 893.7L193.0 894.1L193.0 894.4L193.0 894.8L193.0 895.1L193.0 895.4L193.0 895.8L193.0 896.1L193.0 896.4L193.0 896.8L193.1 897.1L193.2 897.4L193.4 897.8L193.6 898.1L193.9 898.4L193.7 898.8L193.5 899.1L193.3 899.4L193.1 899.8L193.0 900.1L193.0 900.4L193.0 900.8L193.0 901.1ZM192.4 929.1L192.4 928.8L192.4 928.5L192.4 928.1L192.3 927.8L191.6 927.5L190.8 927.1L189.9 926.8L188.9 926.5L187.9 926.1L186.8 925.8L185.7 925.5L184.5 925.1L183.2 924.8L182.0 924.5L180.7 924.1L180.5 923.8L181.9 923.5L183.2 923.1L184.5 922.8L185.8 922.5L187.0 922.1L188.1 921.8L189.2 921.5L190.2 921.1L191.2 920.8L192.0 920.5L192.4 920.1L192.4 919.8L193.0 919.8L193.0 920.1L193.4 920.5L194.2 920.8L195.2 921.1L196.2 921.5L197.3 921.8L198.4 922.1L199.6 922.5L200.9 922.8L202.2 923.1L203.5 923.5L204.9 923.8L204.7 924.1L203.4 924.5L202.2 924.8L200.9 925.1L199.7 925.5L198.6 925.8L197.5 926.1L196.5 926.5L195.5 926.8L194.6 927.1L193.8 927.5L193.1 927.8L193.0 928.1L193.0 928.5L193.0 928.8L193.0 929.1ZM192.4 938.5L192.4 938.1L192.4 937.8L192.4 937.5L192.4 937.1L192.1 936.8L191.3 936.5L190.5 936.1L189.5 935.8L188.5 935.5L187.5 935.1L186.4 934.8L185.2 934.5L184.0 934.1L182.7 933.8L181.5 933.5L180.1 933.1L181.1 932.8L182.4 932.5L183.8 932.1L185.0 931.8L186.3 931.5L187.5 931.1L188.6 930.8L189.6 930.5L190.6 930.1L191.5 929.8L192.2 929.5L192.4 929.1L193.0 929.1L193.2 929.5L193.9 929.8L194.8 930.1L195.8 930.5L196.8 930.8L197.9 931.1L199.1 931.5L200.4 931.8L201.6 932.1L203.0 932.5L204.3 932.8L205.3 933.1L203.9 933.5L202.7 933.8L201.4 934.1L200.2 934.5L199.0 934.8L197.9 935.1L196.9 935.5L195.9 935.8L194.9 936.1L194.1 936.5L193.3 936.8L193.0 937.1L193.0 937.5L193.0 937.8L193.0 938.1L193.0 938.5ZM192.4 947.8L192.4 947.5L192.4 947.2L192.4 946.8L191.9 946.5L191.3 946.2L190.6 945.8L189.8 945.5L188.9 945.2L188.1 944.8L187.1 944.5L186.2 944.2L185.2 943.8L184.2 943.5L183.1 943.1L183.4 942.8L184.4 942.5L185.4 942.1L186.4 941.8L187.4 941.5L188.3 941.1L189.1 940.8L190.0 940.5L190.7 940.1L191.4 939.8L192.1 939.5L192.4 939.1L192.4 938.8L192.4 938.5L193.0 938.5L193.0 938.8L193.0 939.1L193.3 939.5L194.0 939.8L194.7 940.1L195.4 940.5L196.3 940.8L197.1 941.1L198.0 941.5L199.0 941.8L200.0 942.1L201.0 942.5L202.0 942.8L202.3 943.1L201.2 943.5L200.2 943.8L199.2 944.2L198.3 944.5L197.3 944.8L196.5 945.2L195.6 945.5L194.8 945.8L194.1 946.2L193.5 946.5L193.0 946.8L193.0 947.2L193.0 947.5L193.0 947.8ZM192.4 957.2L192.4 956.8L192.4 956.5L192.4 956.2L192.3 955.8L191.7 955.5L191.0 955.2L190.3 954.8L189.5 954.5L188.6 954.2L187.7 953.8L186.8 953.5L185.8 953.2L184.8 952.8L183.7 952.5L182.7 952.2L181.6 951.8L181.0 951.5L182.2 951.2L183.4 950.8L184.6 950.5L185.7 950.2L186.8 949.8L187.8 949.5L188.8 949.2L189.8 948.8L190.7 948.5L191.4 948.2L192.1 947.8L193.3 947.8L194.0 948.2L194.7 948.5L195.6 948.8L196.6 949.2L197.6 949.5L198.6 949.8L199.7 950.2L200.8 950.5L202.0 950.8L203.2 951.2L204.4 951.5L203.8 951.8L202.7 952.2L201.7 952.5L200.6 952.8L199.6 953.2L198.6 953.5L197.7 953.8L196.8 954.2L195.9 954.5L195.1 954.8L194.4 955.2L193.7 955.5L193.1 955.8L193.0 956.2L193.0 956.5L193.0 956.8L193.0 957.2ZM180.7 966.5L188.8 966.2L190.8 965.8L190.7 965.5L190.7 965.2L190.6 964.8L190.6 964.5L190.5 964.2L190.5 963.8L190.5 963.5L190.5 963.2L190.4 962.8L190.4 962.5L190.4 962.2L190.4 961.8L190.4 961.5L190.4 961.2L190.4 960.8L190.5 960.5L190.6 960.2L190.7 959.8L190.8 959.5L190.9 959.2L191.1 958.8L191.3 958.5L191.5 958.2L191.7 957.8L191.9 957.5L192.2 957.2L193.2 957.2L193.5 957.5L193.7 957.8L193.9 958.2L194.1 958.5L194.3 958.8L194.5 959.2L194.6 959.5L194.7 959.8L194.8 960.2L194.9 960.5L195.0 960.8L195.0 961.2L195.0 961.5L195.0 961.8L195.0 962.2L195.0 962.5L195.0 962.8L194.9 963.2L194.9 963.5L194.9 963.8L194.9 964.2L194.8 964.5L194.8 964.8L194.7 965.2L194.7 965.5L194.6 965.8L196.6 966.2L204.7 966.5ZM192.4 1060.0L192.4 1059.6L192.4 1059.3L192.2 1059.0L191.9 1058.6L191.6 1058.3L191.3 1058.0L190.9 1057.6L190.6 1057.3L190.2 1057.0L190.6 1056.6L190.9 1056.3L191.3 1056.0L191.6 1055.6L191.9 1055.3L192.2 1055.0L192.4 1054.6L192.4 1054.3L192.4 1054.0L192.4 1053.6L192.4 1053.3L192.4 1053.0L192.4 1052.6L192.4 1052.3L192.4 1052.0L192.4 1051.6L192.4 1051.3L192.4 1051.0L192.4 1050.6L193.0 1050.6L193.0 1051.0L193.0 1051.3L193.0 1051.6L193.0 1052.0L193.0 1052.3L193.0 1052.6L193.0 1053.0L193.0 1053.3L193.0 1053.6L193.0 1054.0L193.0 1054.3L193.0 1054.6L193.2 1055.0L193.5 1055.3L193.8 1055.6L194.1 1056.0L194.5 1056.3L194.8 1056.6L195.2 1057.0L194.8 1057.3L194.5 1057.6L194.1 1058.0L193.8 1058.3L193.5 1058.6L193.2 1059.0L193.0 1059.3L193.0 1059.6L193.0 1060.0ZM192.4 1097.4L192.2 1097.0L191.5 1096.7L190.7 1096.4L189.7 1096.0L188.7 1095.7L187.7 1095.4L186.6 1095.0L185.4 1094.7L184.2 1094.4L185.5 1094.0L186.7 1093.7L187.8 1093.4L188.9 1093.0L190.0 1092.7L190.9 1092.4L191.7 1092.0L192.4 1091.7L192.4 1091.3L192.4 1091.0L192.4 1090.7L192.4 1090.3L192.4 1090.0L192.4 1089.7L192.4 1089.3L192.4 1089.0L192.4 1088.7L192.4 1088.3L192.4 1088.0L193.0 1088.0L193.0 1088.3L193.0 1088.7L193.0 1089.0L193.0 1089.3L193.0 1089.7L193.0 1090.0L193.0 1090.3L193.0 1090.7L193.0 1091.0L193.0 1091.3L193.0 1091.7L193.7 1092.0L194.5 1092.4L195.4 1092.7L196.5 1093.0L197.6 1093.4L198.7 1093.7L199.9 1094.0L201.2 1094.4L200.0 1094.7L198.8 1095.0L197.7 1095.4L196.7 1095.7L195.7 1096.0L194.7 1096.4L193.9 1096.7L193.2 1097.0L193.0 1097.4ZM192.4 1116.0L192.4 1115.7L192.4 1115.4L191.8 1115.0L191.2 1114.7L190.5 1114.4L189.7 1114.0L188.9 1113.7L188.0 1113.4L187.1 1113.0L186.2 1112.7L185.2 1112.4L184.2 1112.0L183.2 1111.7L183.3 1111.4L184.3 1111.0L185.3 1110.7L186.3 1110.4L187.3 1110.0L188.2 1109.7L189.1 1109.4L189.9 1109.0L190.7 1108.7L191.4 1108.4L192.0 1108.0L192.4 1107.7L192.4 1107.4L192.4 1107.0L192.4 1106.7L193.0 1106.7L193.0 1107.0L193.0 1107.4L193.0 1107.7L193.4 1108.0L194.0 1108.4L194.7 1108.7L195.5 1109.0L196.3 1109.4L197.2 1109.7L198.1 1110.0L199.1 1110.4L200.1 1110.7L201.1 1111.0L202.1 1111.4L202.2 1111.7L201.2 1112.0L200.2 1112.4L199.2 1112.7L198.3 1113.0L197.4 1113.4L196.5 1113.7L195.7 1114.0L194.9 1114.4L194.2 1114.7L193.6 1115.0L193.0 1115.4L193.0 1115.7L193.0 1116.0ZM192.4 1125.4L192.3 1125.1L191.7 1124.7L191.0 1124.4L190.3 1124.1L189.5 1123.7L188.6 1123.4L187.7 1123.1L186.8 1122.7L185.8 1122.4L184.8 1122.1L183.7 1121.7L182.7 1121.4L183.8 1121.1L184.8 1120.7L185.8 1120.4L186.8 1120.1L187.7 1119.7L188.6 1119.4L189.5 1119.1L190.3 1118.7L191.0 1118.4L191.7 1118.1L192.3 1117.7L192.4 1117.4L192.4 1117.1L192.4 1116.7L192.4 1116.4L192.4 1116.0L193.0 1116.0L193.0 1116.4L193.0 1116.7L193.0 1117.1L193.0 1117.4L193.1 1117.7L193.7 1118.1L194.4 1118.4L195.1 1118.7L195.9 1119.1L196.8 1119.4L197.7 1119.7L198.6 1120.1L199.6 1120.4L200.6 1120.7L201.6 1121.1L202.7 1121.4L201.7 1121.7L200.6 1122.1L199.6 1122.4L198.6 1122.7L197.7 1123.1L196.8 1123.4L195.9 1123.7L195.1 1124.1L194.4 1124.4L193.7 1124.7L193.1 1125.1L193.0 1125.4Z" fill="#4F9FE0" stroke="#111" stroke-width="0.55" stroke-linejoin="round"/>
<path d="M221.9 929.1L221.9 928.8L221.9 928.5L221.9 928.1L221.8 927.8L221.1 927.5L220.3 927.1L219.4 926.8L218.4 926.5L217.3 926.1L216.3 925.8L215.1 925.5L213.9 925.1L212.7 924.8L211.4 924.5L210.1 924.1L209.9 923.8L211.3 923.5L212.7 923.1L214.0 922.8L215.2 922.5L216.4 922.1L217.6 921.8L218.7 921.5L219.7 921.1L220.6 920.8L221.4 920.5L221.9 920.1L221.9 919.8L222.4 919.8L222.4 920.1L222.9 920.5L223.7 920.8L224.6 921.1L225.6 921.5L226.7 921.8L227.8 922.1L229.1 922.5L230.3 922.8L231.6 923.1L233.0 923.5L234.3 923.8L234.2 924.1L232.9 924.5L231.6 924.8L230.4 925.1L229.2 925.5L228.0 925.8L226.9 926.1L225.9 926.5L224.9 926.8L224.0 927.1L223.2 927.5L222.5 927.8L222.4 928.1L222.4 928.5L222.4 928.8L222.4 929.1ZM221.9 938.5L221.9 938.1L221.9 937.8L221.9 937.5L221.7 937.1L221.1 936.8L220.3 936.5L219.5 936.1L218.6 935.8L217.6 935.5L216.6 935.1L215.5 934.8L214.4 934.5L213.2 934.1L212.0 933.8L210.8 933.5L209.6 933.1L210.5 932.8L211.9 932.5L213.2 932.1L214.5 931.8L215.7 931.5L216.9 931.1L218.0 930.8L219.1 930.5L220.1 930.1L220.9 929.8L221.7 929.5L221.9 929.1L222.4 929.1L222.6 929.5L223.3 929.8L224.2 930.1L225.2 930.5L226.3 930.8L227.4 931.1L228.6 931.5L229.8 931.8L231.1 932.1L232.4 932.5L233.8 932.8L234.7 933.1L233.5 933.5L232.2 933.8L231.1 934.1L229.9 934.5L228.8 934.8L227.7 935.1L226.7 935.5L225.7 935.8L224.8 936.1L224.0 936.5L223.2 936.8L222.5 937.1L222.4 937.5L222.4 937.8L222.4 938.1L222.4 938.5ZM210.1 947.8L218.2 947.5L220.8 947.2L221.7 946.8L221.4 946.5L220.7 946.2L220.0 945.8L219.2 945.5L218.3 945.2L217.4 944.8L216.5 944.5L215.5 944.2L214.5 943.8L213.5 943.5L212.4 943.1L211.3 942.8L210.2 942.5L209.6 942.1L211.0 941.8L212.3 941.5L213.6 941.1L214.8 940.8L216.0 940.5L217.2 940.1L218.2 939.8L219.3 939.5L220.2 939.1L221.0 938.8L221.7 938.5L222.5 938.5L223.2 938.8L224.1 939.1L225.0 939.5L226.0 939.8L227.1 940.1L228.3 940.5L229.4 940.8L230.7 941.1L232.0 941.5L233.3 941.8L234.6 942.1L234.1 942.5L232.9 942.8L231.8 943.1L230.8 943.5L229.7 943.8L228.7 944.2L227.8 944.5L226.8 944.8L225.9 945.2L225.1 945.5L224.3 945.8L223.6 946.2L222.9 946.5L222.6 946.8L223.4 947.2L226.1 947.5L234.1 947.8ZM221.9 1125.4L221.9 1125.1L221.9 1124.7L221.7 1124.4L221.5 1124.1L221.2 1123.7L220.9 1123.4L220.5 1123.1L220.2 1122.7L219.8 1122.4L219.4 1122.1L219.0 1121.7L218.6 1121.4L219.1 1121.1L219.5 1120.7L219.9 1120.4L220.3 1120.1L220.7 1119.7L221.0 1119.4L221.3 1119.1L221.6 1118.7L221.9 1118.4L221.9 1118.1L221.9 1117.7L221.9 1117.4L221.9 1117.1L221.9 1116.7L221.9 1116.4L221.9 1116.0L222.4 1116.0L222.4 1116.4L222.4 1116.7L222.4 1117.1L222.4 1117.4L222.4 1117.7L222.4 1118.1L222.4 1118.4L222.6 1118.7L222.9 1119.1L223.3 1119.4L223.6 1119.7L224.0 1120.1L224.4 1120.4L224.8 1120.7L225.2 1121.1L225.6 1121.4L225.2 1121.7L224.8 1122.1L224.5 1122.4L224.1 1122.7L223.7 1123.1L223.4 1123.4L223.1 1123.7L222.8 1124.1L222.5 1124.4L222.4 1124.7L222.4 1125.1L222.4 1125.4Z" fill="#A873D0" stroke="#111" stroke-width="0.55" stroke-linejoin="round"/>
<path d="M251.3 891.7L251.3 891.4L251.3 891.1L251.3 890.7L250.7 890.4L250.0 890.1L249.3 889.7L248.4 889.4L247.5 889.1L246.6 888.7L245.6 888.4L244.5 888.1L243.4 887.7L242.3 887.4L241.2 887.1L240.0 886.7L238.8 886.4L238.2 886.1L239.4 885.7L240.7 885.4L241.9 885.1L243.1 884.7L244.2 884.4L245.3 884.1L246.4 883.7L247.4 883.4L248.3 883.1L249.2 882.7L250.0 882.4L253.1 882.4L253.9 882.7L254.8 883.1L255.8 883.4L256.8 883.7L257.9 884.1L259.0 884.4L260.1 884.7L261.3 885.1L262.5 885.4L263.7 885.7L265.0 886.1L264.3 886.4L263.1 886.7L262.0 887.1L260.8 887.4L259.7 887.7L258.6 888.1L257.6 888.4L256.6 888.7L255.7 889.1L254.7 889.4L253.9 889.7L253.1 890.1L252.4 890.4L251.9 890.7L251.9 891.1L251.9 891.4L251.9 891.7ZM251.3 901.1L251.3 900.8L251.3 900.4L251.3 900.1L251.3 899.8L251.3 899.4L251.3 899.1L251.3 898.8L251.3 898.4L251.3 898.1L250.9 897.8L250.4 897.4L249.8 897.1L249.2 896.8L248.5 896.4L247.8 896.1L247.1 895.8L246.3 895.4L245.5 895.1L244.7 894.8L243.9 894.4L243.0 894.1L242.1 893.7L241.2 893.4L240.3 893.1L239.4 892.7L238.4 892.4L239.9 892.1L241.5 891.7L261.7 891.7L263.2 892.1L264.7 892.4L263.8 892.7L262.8 893.1L261.9 893.4L261.0 893.7L260.2 894.1L259.3 894.4L258.5 894.8L257.6 895.1L256.9 895.4L256.1 895.8L255.4 896.1L254.7 896.4L254.0 896.8L253.4 897.1L252.8 897.4L252.3 897.8L251.9 898.1L251.9 898.4L251.9 898.8L251.9 899.1L251.9 899.4L251.9 899.8L251.9 900.1L251.9 900.4L251.9 900.8L251.9 901.1ZM251.3 910.4L251.3 910.1L251.2 909.8L250.8 909.4L250.3 909.1L249.8 908.8L249.2 908.4L248.6 908.1L248.0 907.8L247.3 907.4L246.6 907.1L245.9 906.8L245.2 906.4L244.4 906.1L243.6 905.8L242.8 905.4L242.0 905.1L241.2 904.8L240.4 904.4L239.5 904.1L238.6 903.8L240.0 903.4L241.5 903.1L242.9 902.8L244.2 902.4L245.6 902.1L246.8 901.8L248.0 901.4L249.1 901.1L254.1 901.1L255.2 901.4L256.3 901.8L257.6 902.1L258.9 902.4L260.3 902.8L261.7 903.1L263.2 903.4L264.5 903.8L263.6 904.1L262.8 904.4L262.0 904.8L261.1 905.1L260.3 905.4L259.5 905.8L258.8 906.1L258.0 906.4L257.3 906.8L256.6 907.1L255.9 907.4L255.2 907.8L254.6 908.1L254.0 908.4L253.4 908.8L252.8 909.1L252.4 909.4L251.9 909.8L251.9 910.1L251.9 910.4ZM239.6 919.8L247.6 919.5L250.3 919.1L251.2 918.8L240.3 918.4L240.0 918.1L239.6 917.8L239.3 917.4L238.9 917.1L238.6 916.8L239.0 916.4L239.4 916.1L239.9 915.8L240.5 915.4L241.0 915.1L241.6 914.8L242.2 914.4L242.9 914.1L243.5 913.8L244.2 913.4L245.0 913.1L245.8 912.8L246.7 912.4L247.7 912.1L249.0 911.8L251.6 911.4L251.6 911.1L251.6 910.8L251.6 910.4L251.6 910.4L251.6 910.8L251.6 911.1L251.6 911.4L254.2 911.8L255.5 912.1L256.5 912.4L257.4 912.8L258.2 913.1L258.9 913.4L259.6 913.8L260.3 914.1L260.9 914.4L261.5 914.8L262.1 915.1L262.7 915.4L263.2 915.8L263.7 916.1L264.2 916.4L264.6 916.8L264.2 917.1L263.9 917.4L263.5 917.8L263.2 918.1L262.8 918.4L252.0 918.8L252.9 919.1L255.5 919.5L263.6 919.8ZM251.3 1041.3L251.3 1040.9L251.3 1040.6L251.3 1040.3L251.1 1039.9L250.8 1039.6L250.4 1039.3L250.1 1038.9L249.9 1038.6L250.2 1038.3L250.6 1037.9L250.9 1037.6L251.2 1037.3L251.3 1036.9L251.3 1036.6L251.3 1036.3L251.3 1035.9L251.3 1035.6L251.3 1035.3L251.3 1034.9L251.3 1034.6L251.3 1034.3L251.3 1033.9L251.3 1033.6L251.3 1033.3L251.3 1032.9L251.3 1032.6L251.3 1032.3L251.3 1031.9L251.9 1031.9L251.9 1032.3L251.9 1032.6L251.9 1032.9L251.9 1033.3L251.9 1033.6L251.9 1033.9L251.9 1034.3L251.9 1034.6L251.9 1034.9L251.9 1035.3L251.9 1035.6L251.9 1035.9L251.9 1036.3L251.9 1036.6L251.9 1036.9L252.0 1037.3L252.3 1037.6L252.6 1037.9L252.9 1038.3L253.3 1038.6L253.1 1038.9L252.7 1039.3L252.4 1039.6L252.1 1039.9L251.9 1040.3L251.9 1040.6L251.9 1040.9L251.9 1041.3ZM239.6 1097.4L247.6 1097.0L250.3 1096.7L250.3 1096.4L249.0 1096.0L247.6 1095.7L246.1 1095.4L244.5 1095.0L242.7 1094.7L240.9 1094.4L239.0 1094.0L239.1 1093.7L241.1 1093.4L243.0 1093.0L244.8 1092.7L246.4 1092.4L248.0 1092.0L249.4 1091.7L250.7 1091.3L251.3 1091.0L251.3 1090.7L251.3 1090.3L251.3 1090.0L251.3 1089.7L251.3 1089.3L251.3 1089.0L251.3 1088.7L251.3 1088.3L251.3 1088.0L251.9 1088.0L251.9 1088.3L251.9 1088.7L251.9 1089.0L251.9 1089.3L251.9 1089.7L251.9 1090.0L251.9 1090.3L251.9 1090.7L251.9 1091.0L252.5 1091.3L253.7 1091.7L255.2 1092.0L256.7 1092.4L258.4 1092.7L260.2 1093.0L262.1 1093.4L264.0 1093.7L264.1 1094.0L262.2 1094.4L260.4 1094.7L258.7 1095.0L257.1 1095.4L255.5 1095.7L254.1 1096.0L252.9 1096.4L252.9 1096.7L255.5 1097.0L263.6 1097.4Z" fill="#DD69B3" stroke="#111" stroke-width="0.55" stroke-linejoin="round"/>
<path d="M27.4 891.75H268.9M27.4 901.09H268.9M27.4 910.44H268.9M27.4 919.78H268.9M27.4 929.13H268.9M27.4 938.48H268.9M27.4 947.82H268.9M27.4 957.17H268.9M27.4 966.51H268.9M27.4 975.86H268.9M27.4 985.21H268.9M27.4 994.55H268.9M27.4 1003.90H268.9M27.4 1013.24H268.9M27.4 1022.59H268.9M27.4 1031.94H268.9M27.4 1041.28H268.9M27.4 1050.63H268.9M27.4 1059.97H268.9M27.4 1069.32H268.9M27.4 1078.67H268.9M27.4 1088.01H268.9M27.4 1097.36H268.9M27.4 1106.70H268.9M27.4 1116.05H268.9M27.4 1125.40H268.9" stroke="#383838" stroke-width="1" fill="none" shape-rendering="crispEdges"/>
<path d="M27.4 882.4V1125.4" stroke="#383838" stroke-width="1" shape-rendering="crispEdges"/>
<text x="25.2" y="887.4" font-size="11.3" text-anchor="end" fill="#000000">3</text>
<text x="270.9" y="891.9" font-size="11.2" fill="#000000">MZB1</text>
<text x="25.2" y="896.7" font-size="11.3" text-anchor="end" fill="#000000">3</text>
<text x="270.9" y="901.3" font-size="11.2" fill="#000000">TCF4</text>
<text x="25.2" y="906.1" font-size="11.3" text-anchor="end" fill="#000000">2</text>
<text x="270.9" y="910.6" font-size="11.2" fill="#000000">SERPINF1</text>
<text x="25.2" y="915.4" font-size="11.3" text-anchor="end" fill="#000000">3</text>
<text x="270.9" y="920" font-size="11.2" fill="#000000">SLC15A4</text>
<text x="25.2" y="924.8" font-size="11.3" text-anchor="end" fill="#000000">6</text>
<text x="270.9" y="929.3" font-size="11.2" fill="#000000">S100A8</text>
<text x="25.2" y="934.1" font-size="11.3" text-anchor="end" fill="#000000">4</text>
<text x="270.9" y="938.7" font-size="11.2" fill="#000000">S100A9</text>
<text x="25.2" y="943.5" font-size="11.3" text-anchor="end" fill="#000000">3</text>
<text x="270.9" y="948" font-size="11.2" fill="#000000">CSF3R</text>
<text x="25.2" y="952.8" font-size="11.3" text-anchor="end" fill="#000000">3</text>
<text x="270.9" y="957.4" font-size="11.2" fill="#000000">FCN1</text>
<text x="25.2" y="962.2" font-size="11.3" text-anchor="end" fill="#000000">4</text>
<text x="270.9" y="966.7" font-size="11.2" fill="#000000">EREG</text>
<text x="25.2" y="971.5" font-size="11.3" text-anchor="end" fill="#000000">4</text>
<text x="270.9" y="976.1" font-size="11.2" fill="#000000">TPSAB1</text>
<text x="25.2" y="980.9" font-size="11.3" text-anchor="end" fill="#000000">4</text>
<text x="270.9" y="985.4" font-size="11.2" fill="#000000">TPSB2</text>
<text x="25.2" y="990.2" font-size="11.3" text-anchor="end" fill="#000000">4</text>
<text x="270.9" y="994.8" font-size="11.2" fill="#000000">CPA3</text>
<text x="25.2" y="999.6" font-size="11.3" text-anchor="end" fill="#000000">3</text>
<text x="270.9" y="1004.1" font-size="11.2" fill="#000000">MS4A2</text>
<text x="25.2" y="1008.9" font-size="11.3" text-anchor="end" fill="#000000">3</text>
<text x="270.9" y="1013.4" font-size="11.2" fill="#000000">CCR7</text>
<text x="25.2" y="1018.2" font-size="11.3" text-anchor="end" fill="#000000">4</text>
<text x="270.9" y="1022.8" font-size="11.2" fill="#000000">BIRC3</text>
<text x="25.2" y="1027.6" font-size="11.3" text-anchor="end" fill="#000000">2</text>
<text x="270.9" y="1032.1" font-size="11.2" fill="#000000">LAMP3</text>
<text x="25.2" y="1036.9" font-size="11.3" text-anchor="end" fill="#000000">3</text>
<text x="270.9" y="1041.5" font-size="11.2" fill="#000000">FCER1A</text>
<text x="25.2" y="1046.3" font-size="11.3" text-anchor="end" fill="#000000">3</text>
<text x="270.9" y="1050.8" font-size="11.2" fill="#000000">CLEC10A</text>
<text x="25.2" y="1055.6" font-size="11.3" text-anchor="end" fill="#000000">3</text>
<text x="270.9" y="1060.2" font-size="11.2" fill="#000000">FCGR2B</text>
<text x="25.2" y="1065" font-size="11.3" text-anchor="end" fill="#000000">2</text>
<text x="270.9" y="1069.5" font-size="11.2" fill="#000000">CLEC9A</text>
<text x="25.2" y="1074.3" font-size="11.3" text-anchor="end" fill="#000000">2</text>
<text x="270.9" y="1078.9" font-size="11.2" fill="#000000">XCR1</text>
<text x="25.2" y="1083.7" font-size="11.3" text-anchor="end" fill="#000000">2</text>
<text x="270.9" y="1088.2" font-size="11.2" fill="#000000">BATF3</text>
<text x="25.2" y="1093" font-size="11.3" text-anchor="end" fill="#000000">3</text>
<text x="270.9" y="1097.6" font-size="11.2" fill="#000000">SNX3</text>
<text x="25.2" y="1102.4" font-size="11.3" text-anchor="end" fill="#000000">2</text>
<text x="270.9" y="1106.9" font-size="11.2" fill="#000000">CD68</text>
<text x="25.2" y="1111.7" font-size="11.3" text-anchor="end" fill="#000000">3</text>
<text x="270.9" y="1116.2" font-size="11.2" fill="#000000">CD163</text>
<text x="25.2" y="1121" font-size="11.3" text-anchor="end" fill="#000000">3</text>
<text x="270.9" y="1125.6" font-size="11.2" fill="#000000">FCGR3A</text>
<path d="M27.4 883.20h-2M27.4 886.32h-2M27.4 889.43h-2M27.4 892.55h-2M27.4 895.66h-2M27.4 898.78h-2M27.4 901.89h-2M27.4 905.01h-2M27.4 908.12h-2M27.4 911.24h-2M27.4 914.35h-2M27.4 917.47h-2M27.4 920.58h-2M27.4 923.70h-2M27.4 926.81h-2M27.4 929.93h-2M27.4 933.05h-2M27.4 936.16h-2M27.4 939.28h-2M27.4 942.39h-2M27.4 945.51h-2M27.4 948.62h-2M27.4 951.74h-2M27.4 954.85h-2M27.4 957.97h-2M27.4 961.08h-2M27.4 964.20h-2M27.4 967.31h-2M27.4 970.43h-2M27.4 973.54h-2M27.4 976.66h-2M27.4 979.78h-2M27.4 982.89h-2M27.4 986.01h-2M27.4 989.12h-2M27.4 992.24h-2M27.4 995.35h-2M27.4 998.47h-2M27.4 1001.58h-2M27.4 1004.70h-2M27.4 1007.81h-2M27.4 1010.93h-2M27.4 1014.04h-2M27.4 1017.16h-2M27.4 1020.27h-2M27.4 1023.39h-2M27.4 1026.51h-2M27.4 1029.62h-2M27.4 1032.74h-2M27.4 1035.85h-2M27.4 1038.97h-2M27.4 1042.08h-2M27.4 1045.20h-2M27.4 1048.31h-2M27.4 1051.43h-2M27.4 1054.54h-2M27.4 1057.66h-2M27.4 1060.77h-2M27.4 1063.89h-2M27.4 1067.00h-2M27.4 1070.12h-2M27.4 1073.24h-2M27.4 1076.35h-2M27.4 1079.47h-2M27.4 1082.58h-2M27.4 1085.70h-2M27.4 1088.81h-2M27.4 1091.93h-2M27.4 1095.04h-2M27.4 1098.16h-2M27.4 1101.27h-2M27.4 1104.39h-2M27.4 1107.50h-2M27.4 1110.62h-2M27.4 1113.73h-2M27.4 1116.85h-2M27.4 1119.97h-2M27.4 1123.08h-2" stroke="#333" stroke-width="0.6" fill="none"/>
<path d="M45.5 1125.4v2.6" stroke="#333" stroke-width="0.9"/>
<text transform="translate(54.7,1135) rotate(-45)" font-size="11.3" text-anchor="end" fill="#000000">Macrophages</text>
<path d="M74.9 1125.4v2.6" stroke="#333" stroke-width="0.9"/>
<text transform="translate(84.1,1135) rotate(-45)" font-size="11.3" text-anchor="end" fill="#000000">cDC 1</text>
<path d="M104.4 1125.4v2.6" stroke="#333" stroke-width="0.9"/>
<text transform="translate(113.6,1135) rotate(-45)" font-size="11.3" text-anchor="end" fill="#000000">cDC 2</text>
<path d="M133.8 1125.4v2.6" stroke="#333" stroke-width="0.9"/>
<text transform="translate(143,1135) rotate(-45)" font-size="11.3" text-anchor="end" fill="#000000">DC−Activated</text>
<path d="M163.3 1125.4v2.6" stroke="#333" stroke-width="0.9"/>
<text transform="translate(172.5,1135) rotate(-45)" font-size="11.3" text-anchor="end" fill="#000000">Mast</text>
<path d="M192.7 1125.4v2.6" stroke="#333" stroke-width="0.9"/>
<text transform="translate(201.9,1135) rotate(-45)" font-size="11.3" text-anchor="end" fill="#000000">Monocytes</text>
<path d="M222.1 1125.4v2.6" stroke="#333" stroke-width="0.9"/>
<text transform="translate(231.3,1135) rotate(-45)" font-size="11.3" text-anchor="end" fill="#000000">Neutrophil</text>
<path d="M251.6 1125.4v2.6" stroke="#333" stroke-width="0.9"/>
<text transform="translate(260.8,1135) rotate(-45)" font-size="11.3" text-anchor="end" fill="#000000">pDC</text>
<text transform="translate(10.6,983.5) rotate(-90)" font-size="14.2" font-weight="bold" text-anchor="middle" fill="#000000">Expression Level</text>
<text x="165.5" y="1185" font-size="14.2" font-weight="bold" text-anchor="middle" fill="#000000">Identity</text>
<text x="336.6" y="870.2" font-size="21.6" fill="#231815">H</text>
<text x="364.4" y="883.6" font-size="11.3" font-weight="bold" fill="#000000">Pathway activity in Macrophages</text>
<rect x="365.30" y="896.00" width="49.47" height="9.26" fill="#F07C84"/>
<rect x="414.77" y="896.00" width="49.47" height="9.26" fill="#F7DEDF"/>
<rect x="464.24" y="896.00" width="49.47" height="9.26" fill="#F2626E"/>
<text x="514.7" y="904.2" font-size="10" fill="#000000">MYOGENESIS</text>
<rect x="365.30" y="905.26" width="49.47" height="9.26" fill="#E8F4FC"/>
<rect x="414.77" y="905.26" width="49.47" height="9.26" fill="#E04A50"/>
<rect x="464.24" y="905.26" width="49.47" height="9.26" fill="#F29096"/>
<text x="514.7" y="913.5" font-size="10" fill="#000000">E2F_TARGETS</text>
<rect x="365.30" y="914.52" width="49.47" height="9.26" fill="#FFFAFA"/>
<rect x="414.77" y="914.52" width="49.47" height="9.26" fill="#E44E56"/>
<rect x="464.24" y="914.52" width="49.47" height="9.26" fill="#F29AA0"/>
<text x="514.7" y="922.7" font-size="10" fill="#000000">P53_PATHWAY</text>
<rect x="365.30" y="923.77" width="49.47" height="9.26" fill="#8CC6FF"/>
<rect x="414.77" y="923.77" width="49.47" height="9.26" fill="#D84048"/>
<rect x="464.24" y="923.77" width="49.47" height="9.26" fill="#F2747E"/>
<text x="514.7" y="932" font-size="10" fill="#000000">G2M_CHECKPOINT</text>
<rect x="365.30" y="933.03" width="49.47" height="9.26" fill="#B0DBFF"/>
<rect x="414.77" y="933.03" width="49.47" height="9.26" fill="#E24C54"/>
<rect x="464.24" y="933.03" width="49.47" height="9.26" fill="#F2626E"/>
<text x="514.7" y="941.3" font-size="10" fill="#000000">HYPOXIA</text>
<rect x="365.30" y="942.29" width="49.47" height="9.26" fill="#EEF6FD"/>
<rect x="414.77" y="942.29" width="49.47" height="9.26" fill="#F2969C"/>
<rect x="464.24" y="942.29" width="49.47" height="9.26" fill="#A21C18"/>
<text x="514.7" y="950.5" font-size="10" fill="#000000">TNFA_SIGNALING_VIA_NFKB</text>
<rect x="365.30" y="951.55" width="49.47" height="9.26" fill="#4170E8"/>
<rect x="414.77" y="951.55" width="49.47" height="9.26" fill="#F2949A"/>
<rect x="464.24" y="951.55" width="49.47" height="9.26" fill="#C23034"/>
<text x="514.7" y="959.8" font-size="10" fill="#000000">INFLAMMATORY_RESPONSE</text>
<rect x="365.30" y="960.81" width="49.47" height="9.26" fill="#65ACFF"/>
<rect x="414.77" y="960.81" width="49.47" height="9.26" fill="#F7DEDF"/>
<rect x="464.24" y="960.81" width="49.47" height="9.26" fill="#9E1A16"/>
<text x="514.7" y="969" font-size="10" fill="#000000">MTORC1_SIGNALING</text>
<rect x="365.30" y="970.06" width="49.47" height="9.26" fill="#5EA6FF"/>
<rect x="414.77" y="970.06" width="49.47" height="9.26" fill="#FDF8F8"/>
<rect x="464.24" y="970.06" width="49.47" height="9.26" fill="#9B1814"/>
<text x="514.7" y="978.3" font-size="10" fill="#000000">PI3K_AKT_MTOR_SIGNALING</text>
<rect x="365.30" y="979.32" width="49.47" height="9.26" fill="#8CC6FF"/>
<rect x="414.77" y="979.32" width="49.47" height="9.26" fill="#F9E6E6"/>
<rect x="464.24" y="979.32" width="49.47" height="9.26" fill="#A81E1C"/>
<text x="514.7" y="987.6" font-size="10" fill="#000000">GLYCOLYSIS</text>
<rect x="365.30" y="988.58" width="49.47" height="9.26" fill="#B0DBFF"/>
<rect x="414.77" y="988.58" width="49.47" height="9.26" fill="#F0F5FA"/>
<rect x="464.24" y="988.58" width="49.47" height="9.26" fill="#A21C18"/>
<text x="514.7" y="996.8" font-size="10" fill="#000000">DNA_REPAIR</text>
<rect x="365.30" y="997.84" width="49.47" height="9.26" fill="#A5D5FF"/>
<rect x="414.77" y="997.84" width="49.47" height="9.26" fill="#DDEFFD"/>
<rect x="464.24" y="997.84" width="49.47" height="9.26" fill="#9B1814"/>
<text x="514.7" y="1006.1" font-size="10" fill="#000000">APICAL_JUNCTION</text>
<rect x="365.30" y="1007.10" width="49.47" height="9.26" fill="#D2EAFF"/>
<rect x="414.77" y="1007.10" width="49.47" height="9.26" fill="#F2969C"/>
<rect x="464.24" y="1007.10" width="49.47" height="9.26" fill="#D84048"/>
<text x="514.7" y="1015.3" font-size="10" fill="#000000">APOPTOSIS</text>
<rect x="365.30" y="1016.35" width="49.47" height="9.26" fill="#D2EAFF"/>
<rect x="414.77" y="1016.35" width="49.47" height="9.26" fill="#F4A2A8"/>
<rect x="464.24" y="1016.35" width="49.47" height="9.26" fill="#D04044"/>
<text x="514.7" y="1024.6" font-size="10" fill="#000000">KRAS_SIGNALING_UP</text>
<rect x="365.30" y="1025.61" width="49.47" height="9.26" fill="#8CC6FF"/>
<rect x="414.77" y="1025.61" width="49.47" height="9.26" fill="#F6BCC0"/>
<rect x="464.24" y="1025.61" width="49.47" height="9.26" fill="#B4282A"/>
<text x="514.7" y="1033.8" font-size="10" fill="#000000">ALLOGRAFT_REJECTION</text>
<rect x="365.30" y="1034.87" width="49.47" height="9.26" fill="#A5D5FF"/>
<rect x="414.77" y="1034.87" width="49.47" height="9.26" fill="#F4A6AC"/>
<rect x="464.24" y="1034.87" width="49.47" height="9.26" fill="#C03034"/>
<text x="514.7" y="1043.1" font-size="10" fill="#000000">MYC_TARGETS_V1</text>
<rect x="365.30" y="1044.13" width="49.47" height="9.26" fill="#92CAFF"/>
<rect x="414.77" y="1044.13" width="49.47" height="9.26" fill="#60A8FF"/>
<rect x="464.24" y="1044.13" width="49.47" height="9.26" fill="#8E1410"/>
<text x="514.7" y="1052.4" font-size="10" fill="#000000">ANGIOGENESIS</text>
<rect x="365.30" y="1053.39" width="49.47" height="9.26" fill="#72B6FF"/>
<rect x="414.77" y="1053.39" width="49.47" height="9.26" fill="#72B6FF"/>
<rect x="464.24" y="1053.39" width="49.47" height="9.26" fill="#8E1410"/>
<text x="514.7" y="1061.6" font-size="10" fill="#000000">FATTY_ACID_METABOLISM</text>
<rect x="365.30" y="1062.64" width="49.47" height="9.26" fill="#4272EA"/>
<rect x="414.77" y="1062.64" width="49.47" height="9.26" fill="#86C2FF"/>
<rect x="464.24" y="1062.64" width="49.47" height="9.26" fill="#A82020"/>
<text x="514.7" y="1070.9" font-size="10" fill="#000000">ADIPOGENESIS</text>
<rect x="365.30" y="1071.90" width="49.47" height="9.26" fill="#4878EC"/>
<rect x="414.77" y="1071.90" width="49.47" height="9.26" fill="#8CC6FF"/>
<rect x="464.24" y="1071.90" width="49.47" height="9.26" fill="#A21C18"/>
<text x="514.7" y="1080.1" font-size="10" fill="#000000">COMPLEMENT</text>
<rect x="365.30" y="1081.16" width="49.47" height="9.26" fill="#2A35D8"/>
<rect x="414.77" y="1081.16" width="49.47" height="9.26" fill="#FAEAEA"/>
<rect x="464.24" y="1081.16" width="49.47" height="9.26" fill="#BE2E30"/>
<text x="514.7" y="1089.4" font-size="10" fill="#000000">IL6_JAK_STAT3_SIGNALING</text>
<rect x="365.30" y="1090.42" width="49.47" height="9.26" fill="#E04A52"/>
<rect x="414.77" y="1090.42" width="49.47" height="9.26" fill="#F6C2C6"/>
<rect x="464.24" y="1090.42" width="49.47" height="9.26" fill="#1A0EC8"/>
<text x="514.7" y="1098.6" font-size="10" fill="#000000">KRAS_SIGNALING_DN</text>
<rect x="365.30" y="1099.68" width="49.47" height="9.26" fill="#2D3EDC"/>
<rect x="414.77" y="1099.68" width="49.47" height="9.26" fill="#B0DBFF"/>
<rect x="464.24" y="1099.68" width="49.47" height="9.26" fill="#C03034"/>
<text x="514.7" y="1107.9" font-size="10" fill="#000000">HEME_METABOLISM</text>
<rect x="365.30" y="1108.93" width="49.47" height="9.26" fill="#4880F0"/>
<rect x="414.77" y="1108.93" width="49.47" height="9.26" fill="#5A9EFF"/>
<rect x="464.24" y="1108.93" width="49.47" height="9.26" fill="#D84048"/>
<text x="514.7" y="1117.2" font-size="10" fill="#000000">XENOBIOTIC_METABOLISM</text>
<rect x="365.30" y="1118.19" width="49.47" height="9.26" fill="#1505C0"/>
<rect x="414.77" y="1118.19" width="49.47" height="9.26" fill="#F4AAB0"/>
<rect x="464.24" y="1118.19" width="49.47" height="9.26" fill="#F27A82"/>
<text x="514.7" y="1126.4" font-size="10" fill="#000000">ANDROGEN_RESPONSE</text>
<rect x="365.30" y="1127.45" width="49.47" height="9.26" fill="#1E1CD0"/>
<rect x="414.77" y="1127.45" width="49.47" height="9.26" fill="#DAEEFF"/>
<rect x="464.24" y="1127.45" width="49.47" height="9.26" fill="#F26A74"/>
<text x="514.7" y="1135.7" font-size="10" fill="#000000">IL2_STAT5_SIGNALING</text>
<rect x="365.30" y="1136.71" width="49.47" height="9.26" fill="#2225D2"/>
<rect x="414.77" y="1136.71" width="49.47" height="9.26" fill="#E6F3FD"/>
<rect x="464.24" y="1136.71" width="49.47" height="9.26" fill="#F6C0C4"/>
<text x="514.7" y="1144.9" font-size="10" fill="#000000">MITOTIC_SPINDLE</text>
<rect x="365.30" y="1145.97" width="49.47" height="9.26" fill="#1C12CC"/>
<rect x="414.77" y="1145.97" width="49.47" height="9.26" fill="#FAEEEE"/>
<rect x="464.24" y="1145.97" width="49.47" height="9.26" fill="#F4B4B8"/>
<text x="514.7" y="1154.2" font-size="10" fill="#000000">TGF_BETA_SIGNALING</text>
<rect x="365.30" y="1155.22" width="49.47" height="9.26" fill="#5AA2FF"/>
<rect x="414.77" y="1155.22" width="49.47" height="9.26" fill="#E04A52"/>
<rect x="464.24" y="1155.22" width="49.47" height="9.26" fill="#4272EA"/>
<text x="514.7" y="1163.5" font-size="10" fill="#000000">HEDGEHOG_SIGNALING</text>
<rect x="365.30" y="1164.48" width="49.47" height="9.26" fill="#2A35D8"/>
<rect x="414.77" y="1164.48" width="49.47" height="9.26" fill="#F08C92"/>
<rect x="464.24" y="1164.48" width="49.47" height="9.26" fill="#BCE2FF"/>
<text x="514.7" y="1172.7" font-size="10" fill="#000000">NOTCH_SIGNALING</text>
<path d="M365.30 896.00h148.41M365.30 905.26h148.41M365.30 914.52h148.41M365.30 923.77h148.41M365.30 933.03h148.41M365.30 942.29h148.41M365.30 951.55h148.41M365.30 960.81h148.41M365.30 970.06h148.41M365.30 979.32h148.41M365.30 988.58h148.41M365.30 997.84h148.41M365.30 1007.10h148.41M365.30 1016.35h148.41M365.30 1025.61h148.41M365.30 1034.87h148.41M365.30 1044.13h148.41M365.30 1053.39h148.41M365.30 1062.64h148.41M365.30 1071.90h148.41M365.30 1081.16h148.41M365.30 1090.42h148.41M365.30 1099.68h148.41M365.30 1108.93h148.41M365.30 1118.19h148.41M365.30 1127.45h148.41M365.30 1136.71h148.41M365.30 1145.97h148.41M365.30 1155.22h148.41M365.30 1164.48h148.41M365.30 1173.74h148.41M365.30 896.00v277.74M414.77 896.00v277.74M464.24 896.00v277.74M513.71 896.00v277.74" stroke="#9a9a9a" stroke-width="0.9" fill="none"/>
<path d="M390.04 1173.74v2.6" stroke="#333" stroke-width="0.9"/>
<text x="388.8" y="1188.2" font-size="11" text-anchor="middle" fill="#000000">SCC</text>
<path d="M439.50 1173.74v2.6" stroke="#333" stroke-width="0.9"/>
<text x="439.1" y="1188.2" font-size="11" text-anchor="middle" fill="#000000">ACC</text>
<path d="M488.98 1173.74v2.6" stroke="#333" stroke-width="0.9"/>
<text x="488.6" y="1188.2" font-size="11" text-anchor="middle" fill="#000000">IMT</text>
<defs><linearGradient id="gh" x1="0" x2="1" y1="0" y2="0"><stop offset="0" stop-color="#8B0E0C"/><stop offset="0.12" stop-color="#B62226"/><stop offset="0.28" stop-color="#E8434F"/><stop offset="0.40" stop-color="#F6A6AC"/><stop offset="0.5" stop-color="#FFFFFF"/><stop offset="0.62" stop-color="#9FD2FF"/><stop offset="0.76" stop-color="#4B86F2"/><stop offset="0.9" stop-color="#2A35D8"/><stop offset="1" stop-color="#1206BE"/></linearGradient></defs>
<rect x="549.7" y="887.3" width="118.7" height="6.6" fill="url(#gh)"/>
<text x="560.7" y="883.3" font-size="10.7" text-anchor="middle" fill="#000000">1</text>
<text x="610" y="883.3" font-size="10.7" text-anchor="middle" fill="#000000">0</text>
<text x="659.8" y="883.3" font-size="10.7" text-anchor="middle" fill="#000000">−1</text>
</svg>
</body></html>
